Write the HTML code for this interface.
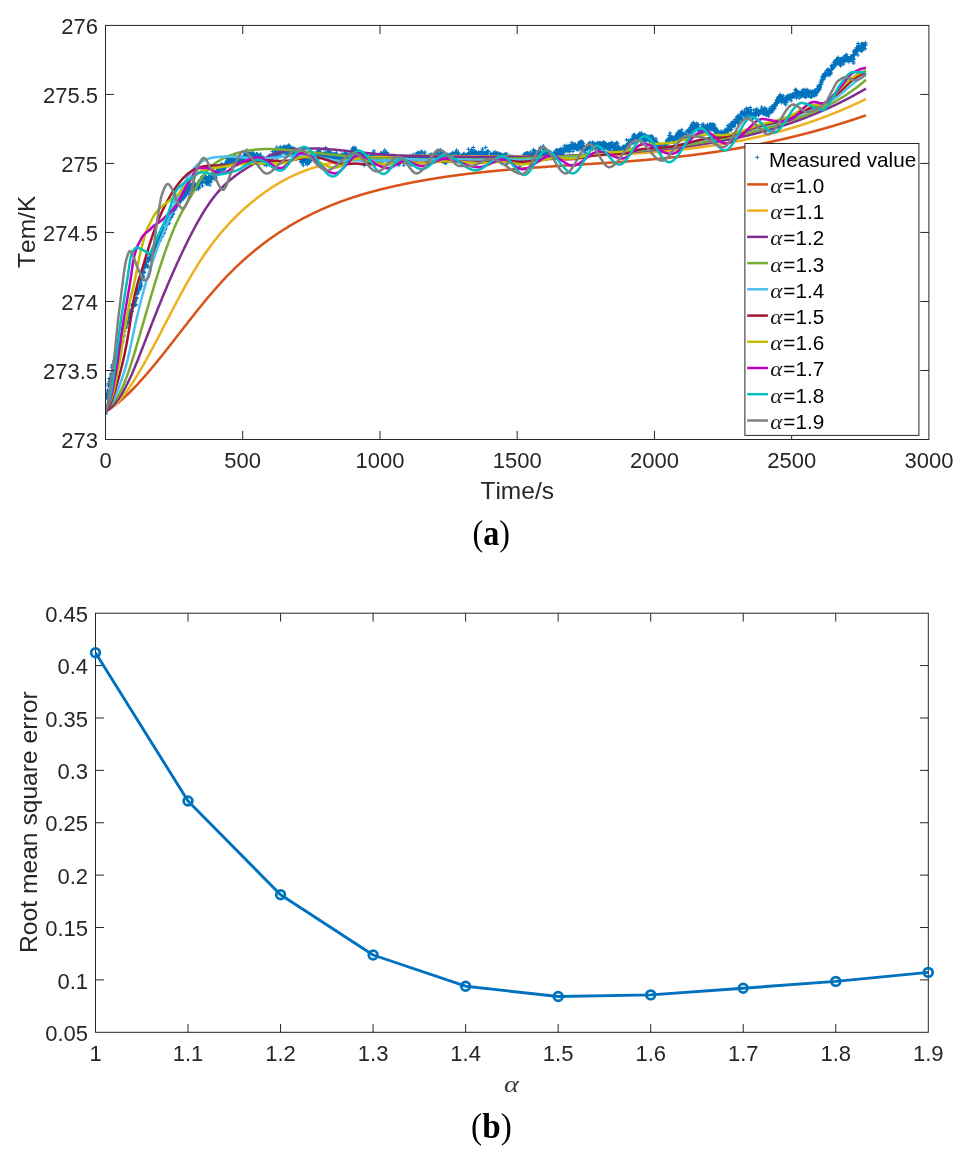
<!DOCTYPE html><html><head><meta charset="utf-8"><style>html,body{margin:0;padding:0;background:#fff}body{width:964px;height:1155px;overflow:hidden}svg{display:block;will-change:transform}</style></head><body>
<svg width="964" height="1155" viewBox="0 0 964 1155">
<style>text{font-kerning:none}</style><rect width="964" height="1155" fill="#fff"/>
<defs><clipPath id="ca"><rect x="105.5" y="25.4" width="823.4" height="414.1"/></clipPath></defs>
<path d="M103.6 413.0h4m-2 -2v4M103.1 407.7h4m-2 -2v4M103.5 414.2h4m-2 -2v4M104.0 411.7h4m-2 -2v4M104.1 397.5h4m-2 -2v4M104.1 398.0h4m-2 -2v4M104.3 393.4h4m-2 -2v4M104.0 397.9h4m-2 -2v4M105.6 397.2h4m-2 -2v4M105.6 390.2h4m-2 -2v4M105.6 394.3h4m-2 -2v4M105.7 397.0h4m-2 -2v4M106.2 383.9h4m-2 -2v4M106.4 385.8h4m-2 -2v4M106.9 391.8h4m-2 -2v4M106.3 395.7h4m-2 -2v4M107.9 379.7h4m-2 -2v4M107.4 381.7h4m-2 -2v4M107.4 386.0h4m-2 -2v4M107.4 378.3h4m-2 -2v4M108.4 378.5h4m-2 -2v4M108.1 379.2h4m-2 -2v4M108.6 379.0h4m-2 -2v4M108.8 380.2h4m-2 -2v4M109.2 375.2h4m-2 -2v4M109.3 373.3h4m-2 -2v4M109.4 374.5h4m-2 -2v4M109.6 379.1h4m-2 -2v4M110.1 365.9h4m-2 -2v4M110.8 368.8h4m-2 -2v4M110.6 367.5h4m-2 -2v4M110.4 367.7h4m-2 -2v4M111.3 364.7h4m-2 -2v4M111.6 368.5h4m-2 -2v4M111.2 364.1h4m-2 -2v4M111.1 364.5h4m-2 -2v4M112.2 360.9h4m-2 -2v4M112.2 363.3h4m-2 -2v4M112.3 361.3h4m-2 -2v4M113.0 358.8h4m-2 -2v4M113.0 359.6h4m-2 -2v4M113.6 360.1h4m-2 -2v4M113.3 359.5h4m-2 -2v4M113.0 361.7h4m-2 -2v4M114.6 355.4h4m-2 -2v4M114.2 356.1h4m-2 -2v4M114.1 355.6h4m-2 -2v4M114.9 357.8h4m-2 -2v4M115.2 352.8h4m-2 -2v4M115.0 352.5h4m-2 -2v4M116.0 359.3h4m-2 -2v4M115.6 352.8h4m-2 -2v4M116.3 350.9h4m-2 -2v4M116.2 349.1h4m-2 -2v4M116.1 349.6h4m-2 -2v4M116.1 350.5h4m-2 -2v4M117.9 347.2h4m-2 -2v4M117.3 344.1h4m-2 -2v4M117.8 351.2h4m-2 -2v4M117.5 347.1h4m-2 -2v4M118.1 346.8h4m-2 -2v4M118.6 342.7h4m-2 -2v4M118.8 344.5h4m-2 -2v4M118.5 343.6h4m-2 -2v4M119.9 339.7h4m-2 -2v4M119.1 336.9h4m-2 -2v4M119.8 341.4h4m-2 -2v4M119.5 338.9h4m-2 -2v4M120.0 333.7h4m-2 -2v4M121.0 333.8h4m-2 -2v4M120.9 341.2h4m-2 -2v4M120.3 335.6h4m-2 -2v4M121.0 333.2h4m-2 -2v4M121.2 336.3h4m-2 -2v4M121.5 335.2h4m-2 -2v4M121.9 336.0h4m-2 -2v4M122.3 328.4h4m-2 -2v4M122.5 331.5h4m-2 -2v4M122.0 331.0h4m-2 -2v4M122.6 325.2h4m-2 -2v4M123.5 328.6h4m-2 -2v4M123.4 327.2h4m-2 -2v4M123.9 326.0h4m-2 -2v4M123.8 326.6h4m-2 -2v4M124.7 321.1h4m-2 -2v4M124.2 322.8h4m-2 -2v4M124.0 326.9h4m-2 -2v4M124.2 321.3h4m-2 -2v4M126.0 323.3h4m-2 -2v4M125.1 320.3h4m-2 -2v4M125.7 322.8h4m-2 -2v4M125.3 322.1h4m-2 -2v4M126.5 317.1h4m-2 -2v4M126.5 318.5h4m-2 -2v4M126.7 317.1h4m-2 -2v4M126.9 320.8h4m-2 -2v4M127.5 317.3h4m-2 -2v4M127.9 316.6h4m-2 -2v4M127.8 313.5h4m-2 -2v4M127.7 314.6h4m-2 -2v4M128.6 316.2h4m-2 -2v4M128.1 310.3h4m-2 -2v4M128.5 314.2h4m-2 -2v4M128.4 312.3h4m-2 -2v4M129.3 311.2h4m-2 -2v4M129.1 312.0h4m-2 -2v4M130.0 311.1h4m-2 -2v4M129.9 311.8h4m-2 -2v4M130.2 305.4h4m-2 -2v4M130.2 305.3h4m-2 -2v4M130.9 303.9h4m-2 -2v4M130.2 308.4h4m-2 -2v4M131.3 304.8h4m-2 -2v4M131.1 305.1h4m-2 -2v4M131.9 306.4h4m-2 -2v4M131.0 304.4h4m-2 -2v4M132.1 302.5h4m-2 -2v4M132.6 300.9h4m-2 -2v4M132.4 302.0h4m-2 -2v4M132.7 301.0h4m-2 -2v4M133.4 301.3h4m-2 -2v4M133.9 304.9h4m-2 -2v4M133.7 304.3h4m-2 -2v4M133.9 299.0h4m-2 -2v4M134.5 298.6h4m-2 -2v4M134.7 297.8h4m-2 -2v4M134.1 293.7h4m-2 -2v4M134.0 292.8h4m-2 -2v4M136.0 293.0h4m-2 -2v4M135.2 294.1h4m-2 -2v4M135.1 291.5h4m-2 -2v4M135.6 292.3h4m-2 -2v4M136.1 289.2h4m-2 -2v4M136.8 289.0h4m-2 -2v4M136.1 288.3h4m-2 -2v4M136.6 290.6h4m-2 -2v4M137.9 289.2h4m-2 -2v4M137.5 288.3h4m-2 -2v4M137.6 285.8h4m-2 -2v4M137.7 287.4h4m-2 -2v4M139.0 283.7h4m-2 -2v4M138.4 279.5h4m-2 -2v4M138.8 285.8h4m-2 -2v4M138.6 282.1h4m-2 -2v4M139.5 277.7h4m-2 -2v4M139.5 286.1h4m-2 -2v4M139.3 278.3h4m-2 -2v4M139.3 279.9h4m-2 -2v4M140.4 275.6h4m-2 -2v4M140.9 279.3h4m-2 -2v4M141.0 276.5h4m-2 -2v4M140.1 273.9h4m-2 -2v4M141.0 268.8h4m-2 -2v4M141.2 272.3h4m-2 -2v4M141.3 277.8h4m-2 -2v4M141.8 271.2h4m-2 -2v4M142.3 272.6h4m-2 -2v4M142.0 268.0h4m-2 -2v4M143.0 266.6h4m-2 -2v4M142.9 264.8h4m-2 -2v4M143.3 266.2h4m-2 -2v4M143.3 267.1h4m-2 -2v4M143.1 266.3h4m-2 -2v4M143.8 262.1h4m-2 -2v4M144.1 262.4h4m-2 -2v4M144.3 264.5h4m-2 -2v4M144.7 262.6h4m-2 -2v4M144.1 264.8h4m-2 -2v4M146.0 266.2h4m-2 -2v4M145.8 258.5h4m-2 -2v4M145.9 267.2h4m-2 -2v4M145.9 259.1h4m-2 -2v4M146.9 259.3h4m-2 -2v4M146.7 259.3h4m-2 -2v4M146.3 261.4h4m-2 -2v4M146.6 258.8h4m-2 -2v4M147.9 257.9h4m-2 -2v4M147.2 257.6h4m-2 -2v4M147.8 258.8h4m-2 -2v4M147.5 258.8h4m-2 -2v4M148.7 256.2h4m-2 -2v4M148.1 258.1h4m-2 -2v4M148.9 259.4h4m-2 -2v4M148.1 254.8h4m-2 -2v4M149.4 253.3h4m-2 -2v4M149.6 253.3h4m-2 -2v4M149.3 253.1h4m-2 -2v4M149.6 253.2h4m-2 -2v4M150.7 253.1h4m-2 -2v4M150.8 254.6h4m-2 -2v4M151.0 251.5h4m-2 -2v4M150.1 253.8h4m-2 -2v4M151.3 250.2h4m-2 -2v4M151.6 256.7h4m-2 -2v4M151.1 251.6h4m-2 -2v4M151.1 252.7h4m-2 -2v4M152.9 246.9h4m-2 -2v4M152.1 247.2h4m-2 -2v4M152.5 249.5h4m-2 -2v4M152.4 247.4h4m-2 -2v4M153.9 246.7h4m-2 -2v4M153.2 249.3h4m-2 -2v4M153.5 245.2h4m-2 -2v4M153.1 245.0h4m-2 -2v4M154.9 244.8h4m-2 -2v4M154.3 243.9h4m-2 -2v4M154.3 245.8h4m-2 -2v4M154.1 244.1h4m-2 -2v4M155.1 239.9h4m-2 -2v4M155.3 237.6h4m-2 -2v4M155.9 242.9h4m-2 -2v4M155.3 240.6h4m-2 -2v4M156.4 240.3h4m-2 -2v4M156.8 236.2h4m-2 -2v4M156.7 238.5h4m-2 -2v4M157.0 240.8h4m-2 -2v4M157.9 240.4h4m-2 -2v4M157.4 240.5h4m-2 -2v4M157.7 241.0h4m-2 -2v4M157.4 238.1h4m-2 -2v4M158.6 238.5h4m-2 -2v4M158.9 237.1h4m-2 -2v4M159.0 235.9h4m-2 -2v4M158.4 235.4h4m-2 -2v4M159.1 232.8h4m-2 -2v4M159.2 236.7h4m-2 -2v4M159.9 234.6h4m-2 -2v4M159.7 233.0h4m-2 -2v4M160.1 232.1h4m-2 -2v4M160.5 236.5h4m-2 -2v4M160.7 229.4h4m-2 -2v4M160.0 229.5h4m-2 -2v4M161.9 233.1h4m-2 -2v4M161.5 226.9h4m-2 -2v4M161.9 233.0h4m-2 -2v4M161.4 228.8h4m-2 -2v4M162.7 228.2h4m-2 -2v4M162.7 230.2h4m-2 -2v4M162.1 230.2h4m-2 -2v4M163.0 229.1h4m-2 -2v4M163.8 224.6h4m-2 -2v4M163.5 224.1h4m-2 -2v4M163.6 224.1h4m-2 -2v4M163.7 228.1h4m-2 -2v4M164.7 222.8h4m-2 -2v4M164.4 224.7h4m-2 -2v4M164.5 216.9h4m-2 -2v4M164.2 221.3h4m-2 -2v4M165.4 220.6h4m-2 -2v4M165.8 219.1h4m-2 -2v4M165.3 224.6h4m-2 -2v4M165.9 217.4h4m-2 -2v4M166.6 219.3h4m-2 -2v4M166.7 220.1h4m-2 -2v4M166.1 216.3h4m-2 -2v4M166.7 220.1h4m-2 -2v4M167.6 217.7h4m-2 -2v4M167.3 223.2h4m-2 -2v4M167.3 220.0h4m-2 -2v4M167.7 216.7h4m-2 -2v4M168.1 217.6h4m-2 -2v4M168.8 216.4h4m-2 -2v4M168.3 214.5h4m-2 -2v4M168.1 216.9h4m-2 -2v4M169.6 215.1h4m-2 -2v4M169.4 217.5h4m-2 -2v4M169.7 210.9h4m-2 -2v4M169.7 211.0h4m-2 -2v4M170.1 210.4h4m-2 -2v4M170.6 213.6h4m-2 -2v4M170.9 214.5h4m-2 -2v4M170.8 211.9h4m-2 -2v4M171.7 210.5h4m-2 -2v4M171.3 210.0h4m-2 -2v4M171.5 206.3h4m-2 -2v4M171.6 208.1h4m-2 -2v4M172.4 209.6h4m-2 -2v4M172.3 209.4h4m-2 -2v4M172.5 210.2h4m-2 -2v4M172.0 209.1h4m-2 -2v4M173.2 199.9h4m-2 -2v4M173.1 206.1h4m-2 -2v4M173.9 206.2h4m-2 -2v4M173.1 202.5h4m-2 -2v4M174.1 207.9h4m-2 -2v4M174.1 203.5h4m-2 -2v4M174.5 205.9h4m-2 -2v4M174.3 205.5h4m-2 -2v4M175.7 203.9h4m-2 -2v4M175.4 205.7h4m-2 -2v4M175.1 202.3h4m-2 -2v4M175.4 204.7h4m-2 -2v4M176.8 202.7h4m-2 -2v4M176.1 199.0h4m-2 -2v4M176.8 200.3h4m-2 -2v4M176.6 199.0h4m-2 -2v4M178.0 196.9h4m-2 -2v4M177.6 197.4h4m-2 -2v4M177.4 201.9h4m-2 -2v4M177.9 197.7h4m-2 -2v4M178.4 201.9h4m-2 -2v4M178.7 199.2h4m-2 -2v4M178.8 199.2h4m-2 -2v4M178.7 197.0h4m-2 -2v4M179.5 199.3h4m-2 -2v4M179.4 196.5h4m-2 -2v4M179.2 199.9h4m-2 -2v4M179.5 200.0h4m-2 -2v4M180.8 193.3h4m-2 -2v4M180.9 198.1h4m-2 -2v4M180.6 192.5h4m-2 -2v4M180.8 198.9h4m-2 -2v4M181.7 191.0h4m-2 -2v4M181.8 193.3h4m-2 -2v4M181.7 198.5h4m-2 -2v4M181.3 196.1h4m-2 -2v4M182.2 195.7h4m-2 -2v4M182.4 188.8h4m-2 -2v4M182.9 195.9h4m-2 -2v4M182.7 192.3h4m-2 -2v4M183.2 196.4h4m-2 -2v4M183.1 192.8h4m-2 -2v4M184.0 192.5h4m-2 -2v4M183.8 189.1h4m-2 -2v4M184.5 189.3h4m-2 -2v4M184.4 191.2h4m-2 -2v4M184.5 194.3h4m-2 -2v4M184.3 194.1h4m-2 -2v4M186.0 189.3h4m-2 -2v4M185.2 187.3h4m-2 -2v4M185.1 187.1h4m-2 -2v4M185.9 193.6h4m-2 -2v4M186.4 189.3h4m-2 -2v4M186.1 186.3h4m-2 -2v4M186.3 192.0h4m-2 -2v4M186.9 189.9h4m-2 -2v4M187.1 189.4h4m-2 -2v4M187.2 189.7h4m-2 -2v4M187.9 188.5h4m-2 -2v4M187.2 186.6h4m-2 -2v4M188.7 183.5h4m-2 -2v4M188.0 184.2h4m-2 -2v4M188.3 185.2h4m-2 -2v4M188.5 188.3h4m-2 -2v4M189.5 185.3h4m-2 -2v4M190.0 188.7h4m-2 -2v4M189.1 189.0h4m-2 -2v4M189.2 190.3h4m-2 -2v4M190.2 190.4h4m-2 -2v4M191.0 181.0h4m-2 -2v4M190.9 190.6h4m-2 -2v4M190.3 187.5h4m-2 -2v4M191.4 187.5h4m-2 -2v4M191.4 185.8h4m-2 -2v4M191.1 187.7h4m-2 -2v4M191.5 187.4h4m-2 -2v4M192.6 185.7h4m-2 -2v4M192.1 183.0h4m-2 -2v4M192.3 190.2h4m-2 -2v4M192.8 188.4h4m-2 -2v4M193.7 184.7h4m-2 -2v4M193.3 185.8h4m-2 -2v4M193.9 188.6h4m-2 -2v4M193.3 185.7h4m-2 -2v4M194.6 187.1h4m-2 -2v4M194.3 188.7h4m-2 -2v4M194.0 188.3h4m-2 -2v4M194.9 186.1h4m-2 -2v4M195.4 183.8h4m-2 -2v4M195.7 184.9h4m-2 -2v4M195.4 187.4h4m-2 -2v4M195.7 185.3h4m-2 -2v4M196.2 188.4h4m-2 -2v4M196.5 188.8h4m-2 -2v4M196.5 188.1h4m-2 -2v4M196.2 186.4h4m-2 -2v4M197.2 180.9h4m-2 -2v4M197.4 187.4h4m-2 -2v4M197.4 185.3h4m-2 -2v4M197.0 182.2h4m-2 -2v4M198.8 180.3h4m-2 -2v4M198.4 180.8h4m-2 -2v4M198.5 182.6h4m-2 -2v4M198.9 179.0h4m-2 -2v4M199.3 183.3h4m-2 -2v4M199.9 179.9h4m-2 -2v4M199.7 181.9h4m-2 -2v4M199.8 176.9h4m-2 -2v4M200.5 185.9h4m-2 -2v4M200.5 181.6h4m-2 -2v4M200.5 179.1h4m-2 -2v4M200.8 176.7h4m-2 -2v4M201.1 181.7h4m-2 -2v4M201.4 177.5h4m-2 -2v4M202.0 177.4h4m-2 -2v4M202.0 176.4h4m-2 -2v4M202.7 175.4h4m-2 -2v4M202.4 178.0h4m-2 -2v4M202.8 178.2h4m-2 -2v4M202.1 177.2h4m-2 -2v4M203.3 176.1h4m-2 -2v4M203.0 181.9h4m-2 -2v4M203.9 182.1h4m-2 -2v4M203.6 176.6h4m-2 -2v4M204.2 182.2h4m-2 -2v4M204.8 179.4h4m-2 -2v4M204.2 179.1h4m-2 -2v4M204.4 183.8h4m-2 -2v4M205.1 184.3h4m-2 -2v4M205.4 179.1h4m-2 -2v4M205.4 181.6h4m-2 -2v4M205.4 178.7h4m-2 -2v4M206.5 176.8h4m-2 -2v4M206.8 182.4h4m-2 -2v4M206.5 181.4h4m-2 -2v4M206.8 182.0h4m-2 -2v4M207.8 185.2h4m-2 -2v4M207.7 179.5h4m-2 -2v4M207.7 181.3h4m-2 -2v4M207.3 180.5h4m-2 -2v4M208.4 175.2h4m-2 -2v4M208.7 179.1h4m-2 -2v4M208.8 176.0h4m-2 -2v4M208.6 179.6h4m-2 -2v4M209.0 176.2h4m-2 -2v4M209.3 176.1h4m-2 -2v4M209.2 181.8h4m-2 -2v4M209.3 177.7h4m-2 -2v4M210.5 177.0h4m-2 -2v4M210.2 178.3h4m-2 -2v4M210.7 172.8h4m-2 -2v4M210.1 175.6h4m-2 -2v4M211.6 174.9h4m-2 -2v4M211.4 177.5h4m-2 -2v4M211.5 177.1h4m-2 -2v4M211.3 175.2h4m-2 -2v4M212.8 179.4h4m-2 -2v4M212.0 174.2h4m-2 -2v4M212.2 173.7h4m-2 -2v4M213.0 176.3h4m-2 -2v4M213.5 172.6h4m-2 -2v4M213.1 176.9h4m-2 -2v4M213.9 174.9h4m-2 -2v4M213.4 172.6h4m-2 -2v4M214.2 177.9h4m-2 -2v4M214.8 171.9h4m-2 -2v4M214.7 172.7h4m-2 -2v4M214.2 173.5h4m-2 -2v4M215.7 172.2h4m-2 -2v4M215.4 172.4h4m-2 -2v4M215.0 168.6h4m-2 -2v4M215.3 171.6h4m-2 -2v4M216.2 165.8h4m-2 -2v4M216.4 169.7h4m-2 -2v4M216.2 170.0h4m-2 -2v4M216.2 171.5h4m-2 -2v4M217.2 167.6h4m-2 -2v4M217.2 169.9h4m-2 -2v4M217.8 168.4h4m-2 -2v4M217.1 169.5h4m-2 -2v4M218.5 166.6h4m-2 -2v4M218.8 170.8h4m-2 -2v4M218.5 170.7h4m-2 -2v4M218.5 165.1h4m-2 -2v4M219.2 167.6h4m-2 -2v4M219.3 167.3h4m-2 -2v4M219.8 163.8h4m-2 -2v4M219.2 165.3h4m-2 -2v4M220.3 167.1h4m-2 -2v4M220.4 165.0h4m-2 -2v4M220.7 168.0h4m-2 -2v4M220.9 169.3h4m-2 -2v4M221.5 165.7h4m-2 -2v4M221.2 168.5h4m-2 -2v4M221.1 170.2h4m-2 -2v4M221.7 165.8h4m-2 -2v4M222.3 168.9h4m-2 -2v4M222.4 168.9h4m-2 -2v4M222.1 169.3h4m-2 -2v4M222.1 166.4h4m-2 -2v4M223.9 165.7h4m-2 -2v4M223.9 163.3h4m-2 -2v4M223.2 167.0h4m-2 -2v4M223.5 166.7h4m-2 -2v4M225.0 164.4h4m-2 -2v4M224.3 163.5h4m-2 -2v4M224.0 162.1h4m-2 -2v4M224.1 158.5h4m-2 -2v4M225.7 160.8h4m-2 -2v4M225.8 158.2h4m-2 -2v4M225.3 161.7h4m-2 -2v4M225.9 160.2h4m-2 -2v4M226.4 165.8h4m-2 -2v4M226.9 159.3h4m-2 -2v4M226.1 158.6h4m-2 -2v4M226.7 164.7h4m-2 -2v4M227.6 156.2h4m-2 -2v4M227.9 162.4h4m-2 -2v4M227.2 162.5h4m-2 -2v4M227.3 159.6h4m-2 -2v4M228.2 156.3h4m-2 -2v4M229.0 158.0h4m-2 -2v4M228.3 159.6h4m-2 -2v4M228.1 161.2h4m-2 -2v4M229.8 160.3h4m-2 -2v4M229.6 160.1h4m-2 -2v4M229.7 158.2h4m-2 -2v4M229.4 161.5h4m-2 -2v4M230.3 156.8h4m-2 -2v4M230.9 157.6h4m-2 -2v4M230.4 159.5h4m-2 -2v4M230.5 160.8h4m-2 -2v4M231.3 160.2h4m-2 -2v4M231.3 160.3h4m-2 -2v4M231.9 158.1h4m-2 -2v4M231.8 161.4h4m-2 -2v4M232.7 154.7h4m-2 -2v4M232.8 157.8h4m-2 -2v4M232.7 156.4h4m-2 -2v4M232.3 156.9h4m-2 -2v4M233.2 160.3h4m-2 -2v4M233.4 161.2h4m-2 -2v4M233.8 157.2h4m-2 -2v4M233.9 159.4h4m-2 -2v4M234.3 163.7h4m-2 -2v4M234.9 160.1h4m-2 -2v4M234.3 162.7h4m-2 -2v4M234.8 161.8h4m-2 -2v4M235.8 162.1h4m-2 -2v4M235.5 158.8h4m-2 -2v4M235.4 160.3h4m-2 -2v4M235.5 164.6h4m-2 -2v4M236.5 157.9h4m-2 -2v4M237.0 157.1h4m-2 -2v4M236.0 162.3h4m-2 -2v4M236.5 158.3h4m-2 -2v4M237.8 159.6h4m-2 -2v4M237.7 160.8h4m-2 -2v4M237.5 158.6h4m-2 -2v4M237.8 159.0h4m-2 -2v4M238.9 156.6h4m-2 -2v4M238.8 158.9h4m-2 -2v4M238.4 156.3h4m-2 -2v4M238.3 160.1h4m-2 -2v4M239.2 158.9h4m-2 -2v4M239.1 161.0h4m-2 -2v4M239.4 158.1h4m-2 -2v4M239.3 161.0h4m-2 -2v4M240.8 160.5h4m-2 -2v4M240.6 160.6h4m-2 -2v4M240.6 159.6h4m-2 -2v4M240.3 158.9h4m-2 -2v4M241.7 157.7h4m-2 -2v4M242.0 156.1h4m-2 -2v4M241.8 157.0h4m-2 -2v4M241.9 157.0h4m-2 -2v4M242.5 160.9h4m-2 -2v4M242.9 153.7h4m-2 -2v4M242.6 155.8h4m-2 -2v4M242.6 156.9h4m-2 -2v4M243.9 153.6h4m-2 -2v4M243.7 157.3h4m-2 -2v4M243.1 154.3h4m-2 -2v4M243.5 156.5h4m-2 -2v4M244.3 155.2h4m-2 -2v4M244.8 150.1h4m-2 -2v4M244.3 156.4h4m-2 -2v4M244.9 152.3h4m-2 -2v4M245.8 155.4h4m-2 -2v4M245.3 157.9h4m-2 -2v4M245.7 156.6h4m-2 -2v4M245.9 154.6h4m-2 -2v4M246.7 154.5h4m-2 -2v4M246.4 154.8h4m-2 -2v4M246.9 153.9h4m-2 -2v4M246.9 152.5h4m-2 -2v4M247.2 154.5h4m-2 -2v4M247.3 154.3h4m-2 -2v4M247.5 159.0h4m-2 -2v4M247.8 155.6h4m-2 -2v4M248.1 159.8h4m-2 -2v4M248.8 154.8h4m-2 -2v4M248.9 155.6h4m-2 -2v4M248.4 154.9h4m-2 -2v4M249.2 153.6h4m-2 -2v4M249.2 153.3h4m-2 -2v4M249.4 154.8h4m-2 -2v4M249.5 157.5h4m-2 -2v4M250.7 153.5h4m-2 -2v4M250.9 152.9h4m-2 -2v4M250.9 155.7h4m-2 -2v4M250.8 154.4h4m-2 -2v4M251.5 154.6h4m-2 -2v4M251.6 159.6h4m-2 -2v4M251.8 156.0h4m-2 -2v4M251.8 157.3h4m-2 -2v4M252.2 156.0h4m-2 -2v4M252.3 157.9h4m-2 -2v4M252.0 156.0h4m-2 -2v4M252.6 155.8h4m-2 -2v4M253.8 157.7h4m-2 -2v4M253.2 156.1h4m-2 -2v4M253.1 159.1h4m-2 -2v4M253.2 154.7h4m-2 -2v4M254.9 159.7h4m-2 -2v4M254.6 153.9h4m-2 -2v4M254.7 155.5h4m-2 -2v4M254.3 156.6h4m-2 -2v4M255.2 154.2h4m-2 -2v4M255.6 155.4h4m-2 -2v4M255.0 158.2h4m-2 -2v4M255.4 156.1h4m-2 -2v4M256.6 155.5h4m-2 -2v4M256.8 158.8h4m-2 -2v4M256.7 157.3h4m-2 -2v4M256.6 158.4h4m-2 -2v4M257.1 161.0h4m-2 -2v4M257.5 157.8h4m-2 -2v4M257.8 158.5h4m-2 -2v4M257.0 163.9h4m-2 -2v4M258.3 154.1h4m-2 -2v4M258.2 159.0h4m-2 -2v4M258.4 156.8h4m-2 -2v4M258.0 159.5h4m-2 -2v4M260.0 157.6h4m-2 -2v4M259.4 158.4h4m-2 -2v4M259.2 156.6h4m-2 -2v4M259.9 161.0h4m-2 -2v4M260.8 160.4h4m-2 -2v4M260.0 159.7h4m-2 -2v4M260.7 158.1h4m-2 -2v4M260.3 162.9h4m-2 -2v4M261.2 157.5h4m-2 -2v4M261.1 163.5h4m-2 -2v4M261.1 162.0h4m-2 -2v4M261.8 160.0h4m-2 -2v4M262.7 161.9h4m-2 -2v4M262.6 158.5h4m-2 -2v4M262.7 164.8h4m-2 -2v4M262.3 158.9h4m-2 -2v4M263.1 160.6h4m-2 -2v4M263.7 163.9h4m-2 -2v4M263.4 161.0h4m-2 -2v4M263.2 162.4h4m-2 -2v4M264.6 162.0h4m-2 -2v4M264.0 160.1h4m-2 -2v4M265.0 160.6h4m-2 -2v4M264.7 165.5h4m-2 -2v4M265.7 162.8h4m-2 -2v4M265.6 162.1h4m-2 -2v4M265.1 161.0h4m-2 -2v4M265.0 159.0h4m-2 -2v4M266.8 157.0h4m-2 -2v4M266.7 161.2h4m-2 -2v4M266.1 158.6h4m-2 -2v4M266.7 159.2h4m-2 -2v4M267.5 156.2h4m-2 -2v4M267.6 155.1h4m-2 -2v4M267.1 158.9h4m-2 -2v4M267.9 156.6h4m-2 -2v4M268.8 162.0h4m-2 -2v4M268.6 161.3h4m-2 -2v4M268.7 157.0h4m-2 -2v4M268.5 160.1h4m-2 -2v4M269.7 155.0h4m-2 -2v4M269.0 159.4h4m-2 -2v4M269.2 161.5h4m-2 -2v4M269.7 158.2h4m-2 -2v4M270.5 161.1h4m-2 -2v4M270.5 151.6h4m-2 -2v4M270.4 156.1h4m-2 -2v4M270.6 155.7h4m-2 -2v4M271.3 157.2h4m-2 -2v4M271.7 155.7h4m-2 -2v4M271.6 157.0h4m-2 -2v4M271.8 156.0h4m-2 -2v4M272.7 153.2h4m-2 -2v4M272.3 152.1h4m-2 -2v4M272.4 157.3h4m-2 -2v4M272.9 153.5h4m-2 -2v4M273.8 155.4h4m-2 -2v4M273.7 155.0h4m-2 -2v4M273.1 153.1h4m-2 -2v4M273.6 150.9h4m-2 -2v4M274.1 153.7h4m-2 -2v4M274.3 155.9h4m-2 -2v4M274.8 147.2h4m-2 -2v4M274.4 150.2h4m-2 -2v4M275.1 157.9h4m-2 -2v4M275.8 152.6h4m-2 -2v4M275.4 153.2h4m-2 -2v4M275.3 155.3h4m-2 -2v4M276.9 155.2h4m-2 -2v4M276.9 152.4h4m-2 -2v4M276.7 153.4h4m-2 -2v4M276.5 150.2h4m-2 -2v4M277.4 151.2h4m-2 -2v4M277.9 148.5h4m-2 -2v4M277.8 152.7h4m-2 -2v4M277.2 152.4h4m-2 -2v4M278.6 152.2h4m-2 -2v4M278.2 152.3h4m-2 -2v4M278.3 146.9h4m-2 -2v4M278.0 150.5h4m-2 -2v4M279.6 148.9h4m-2 -2v4M279.3 150.2h4m-2 -2v4M280.0 152.1h4m-2 -2v4M279.2 154.1h4m-2 -2v4M280.5 150.3h4m-2 -2v4M280.5 149.1h4m-2 -2v4M280.9 149.7h4m-2 -2v4M280.1 150.5h4m-2 -2v4M282.0 150.0h4m-2 -2v4M281.2 150.9h4m-2 -2v4M281.7 151.9h4m-2 -2v4M281.4 147.0h4m-2 -2v4M282.3 146.5h4m-2 -2v4M282.3 148.5h4m-2 -2v4M282.0 148.8h4m-2 -2v4M282.8 153.3h4m-2 -2v4M283.6 149.0h4m-2 -2v4M283.7 151.7h4m-2 -2v4M283.7 147.3h4m-2 -2v4M284.0 146.7h4m-2 -2v4M284.6 155.2h4m-2 -2v4M284.3 151.6h4m-2 -2v4M284.6 147.1h4m-2 -2v4M284.3 149.0h4m-2 -2v4M285.1 153.7h4m-2 -2v4M285.1 150.3h4m-2 -2v4M285.8 148.2h4m-2 -2v4M285.4 151.4h4m-2 -2v4M286.9 150.6h4m-2 -2v4M286.3 145.2h4m-2 -2v4M286.7 154.6h4m-2 -2v4M287.0 151.9h4m-2 -2v4M287.7 149.7h4m-2 -2v4M287.1 148.6h4m-2 -2v4M287.8 148.2h4m-2 -2v4M287.3 145.7h4m-2 -2v4M288.5 150.4h4m-2 -2v4M288.7 148.7h4m-2 -2v4M288.8 147.6h4m-2 -2v4M288.5 148.5h4m-2 -2v4M289.8 155.1h4m-2 -2v4M289.2 148.9h4m-2 -2v4M289.7 152.8h4m-2 -2v4M289.9 153.6h4m-2 -2v4M290.9 150.7h4m-2 -2v4M291.0 152.2h4m-2 -2v4M290.7 148.3h4m-2 -2v4M290.4 149.8h4m-2 -2v4M291.0 151.0h4m-2 -2v4M291.1 148.6h4m-2 -2v4M291.2 148.7h4m-2 -2v4M291.3 155.1h4m-2 -2v4M292.9 153.8h4m-2 -2v4M292.7 151.0h4m-2 -2v4M292.8 148.8h4m-2 -2v4M292.1 151.4h4m-2 -2v4M293.2 149.6h4m-2 -2v4M293.9 151.4h4m-2 -2v4M293.4 152.0h4m-2 -2v4M293.8 152.3h4m-2 -2v4M294.2 151.7h4m-2 -2v4M295.0 154.8h4m-2 -2v4M294.8 156.0h4m-2 -2v4M294.3 152.3h4m-2 -2v4M295.2 155.0h4m-2 -2v4M295.1 153.5h4m-2 -2v4M295.7 155.1h4m-2 -2v4M295.7 157.6h4m-2 -2v4M296.8 154.9h4m-2 -2v4M296.8 154.6h4m-2 -2v4M296.9 155.7h4m-2 -2v4M296.0 155.4h4m-2 -2v4M297.4 158.0h4m-2 -2v4M297.2 157.6h4m-2 -2v4M297.8 149.5h4m-2 -2v4M297.3 153.4h4m-2 -2v4M298.8 161.3h4m-2 -2v4M298.1 157.7h4m-2 -2v4M299.0 158.3h4m-2 -2v4M298.1 157.2h4m-2 -2v4M299.4 162.2h4m-2 -2v4M299.3 161.6h4m-2 -2v4M299.0 159.5h4m-2 -2v4M299.9 160.4h4m-2 -2v4M300.7 160.2h4m-2 -2v4M300.2 157.8h4m-2 -2v4M300.9 159.0h4m-2 -2v4M300.4 163.2h4m-2 -2v4M301.9 161.0h4m-2 -2v4M301.3 165.4h4m-2 -2v4M301.4 161.0h4m-2 -2v4M301.5 156.3h4m-2 -2v4M302.0 160.7h4m-2 -2v4M302.7 159.1h4m-2 -2v4M302.2 156.2h4m-2 -2v4M302.6 156.2h4m-2 -2v4M303.5 162.6h4m-2 -2v4M303.6 162.0h4m-2 -2v4M303.9 157.8h4m-2 -2v4M303.4 158.9h4m-2 -2v4M304.9 159.8h4m-2 -2v4M304.9 161.7h4m-2 -2v4M304.3 160.7h4m-2 -2v4M304.9 163.7h4m-2 -2v4M305.4 159.5h4m-2 -2v4M305.4 164.5h4m-2 -2v4M305.2 162.4h4m-2 -2v4M305.3 161.1h4m-2 -2v4M306.5 160.9h4m-2 -2v4M306.8 162.0h4m-2 -2v4M306.4 162.8h4m-2 -2v4M306.1 160.0h4m-2 -2v4M307.6 159.3h4m-2 -2v4M307.9 159.7h4m-2 -2v4M307.1 159.4h4m-2 -2v4M307.5 162.5h4m-2 -2v4M308.2 161.0h4m-2 -2v4M308.7 155.4h4m-2 -2v4M308.8 158.1h4m-2 -2v4M308.8 156.5h4m-2 -2v4M309.7 157.5h4m-2 -2v4M309.4 157.0h4m-2 -2v4M309.9 156.3h4m-2 -2v4M309.4 159.5h4m-2 -2v4M310.2 155.8h4m-2 -2v4M310.9 157.3h4m-2 -2v4M310.7 156.3h4m-2 -2v4M310.0 158.3h4m-2 -2v4M311.5 157.3h4m-2 -2v4M311.0 155.3h4m-2 -2v4M311.3 156.9h4m-2 -2v4M311.2 156.3h4m-2 -2v4M312.4 158.8h4m-2 -2v4M312.7 153.6h4m-2 -2v4M312.1 155.8h4m-2 -2v4M312.9 155.3h4m-2 -2v4M313.9 154.4h4m-2 -2v4M313.6 159.7h4m-2 -2v4M313.4 155.6h4m-2 -2v4M313.2 157.4h4m-2 -2v4M314.5 157.2h4m-2 -2v4M314.4 155.2h4m-2 -2v4M314.6 155.3h4m-2 -2v4M314.6 152.7h4m-2 -2v4M315.6 152.7h4m-2 -2v4M315.4 154.5h4m-2 -2v4M315.9 150.3h4m-2 -2v4M315.0 156.4h4m-2 -2v4M316.9 158.2h4m-2 -2v4M316.8 151.4h4m-2 -2v4M316.9 155.3h4m-2 -2v4M316.4 156.5h4m-2 -2v4M317.2 153.0h4m-2 -2v4M317.3 152.6h4m-2 -2v4M317.8 150.9h4m-2 -2v4M318.0 155.8h4m-2 -2v4M318.8 154.4h4m-2 -2v4M318.1 155.5h4m-2 -2v4M318.9 152.7h4m-2 -2v4M318.9 154.7h4m-2 -2v4M319.9 156.8h4m-2 -2v4M319.6 154.6h4m-2 -2v4M319.7 156.3h4m-2 -2v4M319.5 157.3h4m-2 -2v4M320.0 154.7h4m-2 -2v4M320.8 155.6h4m-2 -2v4M320.1 156.6h4m-2 -2v4M320.5 156.5h4m-2 -2v4M321.9 157.0h4m-2 -2v4M322.0 149.0h4m-2 -2v4M321.5 154.2h4m-2 -2v4M322.0 153.5h4m-2 -2v4M322.6 158.6h4m-2 -2v4M322.8 154.0h4m-2 -2v4M322.4 154.9h4m-2 -2v4M322.9 158.2h4m-2 -2v4M323.6 148.1h4m-2 -2v4M323.2 152.6h4m-2 -2v4M323.8 148.3h4m-2 -2v4M324.0 157.5h4m-2 -2v4M324.2 156.5h4m-2 -2v4M324.3 159.3h4m-2 -2v4M324.5 153.2h4m-2 -2v4M324.9 154.9h4m-2 -2v4M325.4 155.8h4m-2 -2v4M325.9 149.8h4m-2 -2v4M325.6 153.3h4m-2 -2v4M325.5 155.0h4m-2 -2v4M326.3 151.4h4m-2 -2v4M326.4 153.4h4m-2 -2v4M326.4 157.3h4m-2 -2v4M326.1 155.8h4m-2 -2v4M327.7 152.4h4m-2 -2v4M327.5 152.7h4m-2 -2v4M327.6 156.0h4m-2 -2v4M327.8 151.7h4m-2 -2v4M328.1 153.1h4m-2 -2v4M328.9 154.7h4m-2 -2v4M328.9 157.2h4m-2 -2v4M328.1 153.5h4m-2 -2v4M329.4 154.0h4m-2 -2v4M329.9 155.1h4m-2 -2v4M330.0 153.7h4m-2 -2v4M329.2 154.1h4m-2 -2v4M330.5 158.1h4m-2 -2v4M330.9 158.4h4m-2 -2v4M330.0 155.5h4m-2 -2v4M330.6 155.2h4m-2 -2v4M331.5 155.2h4m-2 -2v4M331.6 157.7h4m-2 -2v4M331.2 153.8h4m-2 -2v4M331.3 157.0h4m-2 -2v4M332.5 156.9h4m-2 -2v4M332.0 159.1h4m-2 -2v4M332.3 157.2h4m-2 -2v4M332.4 154.1h4m-2 -2v4M333.5 156.7h4m-2 -2v4M333.3 156.6h4m-2 -2v4M333.0 153.8h4m-2 -2v4M333.5 154.8h4m-2 -2v4M334.3 154.1h4m-2 -2v4M334.5 153.1h4m-2 -2v4M334.3 158.2h4m-2 -2v4M334.0 153.8h4m-2 -2v4M335.3 158.1h4m-2 -2v4M335.6 156.2h4m-2 -2v4M335.6 160.1h4m-2 -2v4M335.4 158.6h4m-2 -2v4M336.0 159.4h4m-2 -2v4M336.5 160.4h4m-2 -2v4M336.9 158.7h4m-2 -2v4M336.8 155.7h4m-2 -2v4M337.2 158.7h4m-2 -2v4M337.6 159.6h4m-2 -2v4M338.0 158.5h4m-2 -2v4M337.3 159.3h4m-2 -2v4M338.1 155.5h4m-2 -2v4M338.1 159.0h4m-2 -2v4M338.1 163.5h4m-2 -2v4M338.3 156.3h4m-2 -2v4M339.1 155.8h4m-2 -2v4M339.7 164.1h4m-2 -2v4M339.7 159.6h4m-2 -2v4M339.7 162.2h4m-2 -2v4M340.7 160.1h4m-2 -2v4M340.2 153.9h4m-2 -2v4M340.2 160.8h4m-2 -2v4M340.3 157.8h4m-2 -2v4M341.8 155.0h4m-2 -2v4M341.4 158.3h4m-2 -2v4M341.8 157.6h4m-2 -2v4M341.4 157.9h4m-2 -2v4M342.7 153.6h4m-2 -2v4M342.7 161.7h4m-2 -2v4M342.6 156.1h4m-2 -2v4M342.8 158.8h4m-2 -2v4M343.5 152.7h4m-2 -2v4M343.1 153.7h4m-2 -2v4M343.7 157.9h4m-2 -2v4M343.4 158.5h4m-2 -2v4M344.9 155.3h4m-2 -2v4M344.8 158.6h4m-2 -2v4M344.3 155.3h4m-2 -2v4M344.2 155.6h4m-2 -2v4M345.2 155.6h4m-2 -2v4M346.0 154.7h4m-2 -2v4M345.1 153.9h4m-2 -2v4M345.9 157.3h4m-2 -2v4M346.7 159.7h4m-2 -2v4M346.2 158.8h4m-2 -2v4M346.7 162.6h4m-2 -2v4M346.9 156.6h4m-2 -2v4M347.2 157.6h4m-2 -2v4M347.7 154.8h4m-2 -2v4M347.3 156.9h4m-2 -2v4M347.5 159.0h4m-2 -2v4M348.5 156.3h4m-2 -2v4M348.6 153.6h4m-2 -2v4M348.5 153.3h4m-2 -2v4M348.5 154.3h4m-2 -2v4M349.2 151.6h4m-2 -2v4M349.9 151.3h4m-2 -2v4M349.8 154.6h4m-2 -2v4M349.6 151.1h4m-2 -2v4M350.8 150.7h4m-2 -2v4M350.3 153.6h4m-2 -2v4M350.5 148.3h4m-2 -2v4M350.1 154.0h4m-2 -2v4M351.6 149.0h4m-2 -2v4M351.1 148.2h4m-2 -2v4M351.6 150.6h4m-2 -2v4M351.4 150.2h4m-2 -2v4M352.9 150.3h4m-2 -2v4M352.8 154.3h4m-2 -2v4M352.2 151.2h4m-2 -2v4M353.0 147.3h4m-2 -2v4M353.5 150.4h4m-2 -2v4M353.4 152.4h4m-2 -2v4M353.3 152.0h4m-2 -2v4M353.1 149.1h4m-2 -2v4M354.4 151.4h4m-2 -2v4M354.6 151.1h4m-2 -2v4M354.3 149.7h4m-2 -2v4M354.4 152.4h4m-2 -2v4M355.8 152.4h4m-2 -2v4M355.4 153.5h4m-2 -2v4M355.1 154.1h4m-2 -2v4M355.1 152.4h4m-2 -2v4M356.6 158.6h4m-2 -2v4M357.0 153.3h4m-2 -2v4M356.1 155.5h4m-2 -2v4M356.4 154.7h4m-2 -2v4M357.8 156.4h4m-2 -2v4M357.6 159.3h4m-2 -2v4M357.6 153.8h4m-2 -2v4M357.9 157.9h4m-2 -2v4M359.0 154.5h4m-2 -2v4M358.1 158.2h4m-2 -2v4M358.8 154.0h4m-2 -2v4M358.6 156.4h4m-2 -2v4M359.2 156.0h4m-2 -2v4M359.1 156.6h4m-2 -2v4M359.2 159.8h4m-2 -2v4M359.3 160.1h4m-2 -2v4M360.8 158.1h4m-2 -2v4M360.1 156.7h4m-2 -2v4M360.6 160.2h4m-2 -2v4M360.2 155.5h4m-2 -2v4M361.5 155.2h4m-2 -2v4M361.6 158.3h4m-2 -2v4M361.0 158.3h4m-2 -2v4M361.3 159.0h4m-2 -2v4M362.1 158.9h4m-2 -2v4M362.2 165.4h4m-2 -2v4M362.8 157.0h4m-2 -2v4M362.9 157.9h4m-2 -2v4M363.2 157.4h4m-2 -2v4M363.3 161.3h4m-2 -2v4M363.1 157.3h4m-2 -2v4M363.5 156.3h4m-2 -2v4M364.8 158.6h4m-2 -2v4M364.1 157.6h4m-2 -2v4M364.4 159.7h4m-2 -2v4M364.7 154.3h4m-2 -2v4M365.4 160.7h4m-2 -2v4M365.1 159.4h4m-2 -2v4M365.7 157.9h4m-2 -2v4M365.7 157.3h4m-2 -2v4M366.1 159.3h4m-2 -2v4M366.1 157.7h4m-2 -2v4M366.4 159.3h4m-2 -2v4M366.2 162.6h4m-2 -2v4M368.0 158.1h4m-2 -2v4M367.9 160.5h4m-2 -2v4M367.6 159.4h4m-2 -2v4M367.6 156.5h4m-2 -2v4M368.4 160.6h4m-2 -2v4M368.1 159.3h4m-2 -2v4M368.8 155.3h4m-2 -2v4M368.2 158.3h4m-2 -2v4M369.0 161.6h4m-2 -2v4M369.7 159.5h4m-2 -2v4M369.4 159.1h4m-2 -2v4M369.0 156.3h4m-2 -2v4M370.5 157.0h4m-2 -2v4M370.4 158.1h4m-2 -2v4M370.0 155.4h4m-2 -2v4M370.7 153.1h4m-2 -2v4M371.7 160.9h4m-2 -2v4M371.7 155.5h4m-2 -2v4M372.0 153.2h4m-2 -2v4M372.0 150.9h4m-2 -2v4M372.2 161.1h4m-2 -2v4M372.5 156.9h4m-2 -2v4M372.7 155.2h4m-2 -2v4M372.8 154.7h4m-2 -2v4M373.9 160.3h4m-2 -2v4M373.0 157.0h4m-2 -2v4M373.1 154.7h4m-2 -2v4M373.1 158.7h4m-2 -2v4M374.2 158.5h4m-2 -2v4M374.7 157.0h4m-2 -2v4M374.2 156.9h4m-2 -2v4M374.0 156.9h4m-2 -2v4M375.3 159.1h4m-2 -2v4M375.4 157.9h4m-2 -2v4M375.6 156.4h4m-2 -2v4M375.7 161.4h4m-2 -2v4M376.3 162.4h4m-2 -2v4M376.5 158.8h4m-2 -2v4M376.4 159.3h4m-2 -2v4M376.2 161.6h4m-2 -2v4M377.7 157.3h4m-2 -2v4M377.9 159.7h4m-2 -2v4M377.9 161.8h4m-2 -2v4M377.7 158.3h4m-2 -2v4M378.6 153.4h4m-2 -2v4M378.1 155.2h4m-2 -2v4M378.2 156.3h4m-2 -2v4M378.4 158.0h4m-2 -2v4M379.6 153.1h4m-2 -2v4M379.2 153.6h4m-2 -2v4M379.9 158.0h4m-2 -2v4M380.0 162.0h4m-2 -2v4M380.4 157.7h4m-2 -2v4M380.4 155.8h4m-2 -2v4M380.4 158.9h4m-2 -2v4M380.3 158.8h4m-2 -2v4M381.4 158.1h4m-2 -2v4M381.4 152.8h4m-2 -2v4M381.8 160.2h4m-2 -2v4M381.4 152.4h4m-2 -2v4M382.3 154.9h4m-2 -2v4M382.7 150.2h4m-2 -2v4M382.4 156.4h4m-2 -2v4M382.5 155.1h4m-2 -2v4M384.0 157.4h4m-2 -2v4M383.5 155.2h4m-2 -2v4M383.4 153.0h4m-2 -2v4M383.3 155.7h4m-2 -2v4M384.9 153.0h4m-2 -2v4M384.3 161.3h4m-2 -2v4M384.4 152.4h4m-2 -2v4M384.6 157.9h4m-2 -2v4M385.1 154.4h4m-2 -2v4M385.7 155.2h4m-2 -2v4M385.1 155.7h4m-2 -2v4M385.8 158.8h4m-2 -2v4M386.5 157.8h4m-2 -2v4M386.3 158.1h4m-2 -2v4M386.8 154.5h4m-2 -2v4M386.5 159.8h4m-2 -2v4M387.9 157.8h4m-2 -2v4M387.4 157.4h4m-2 -2v4M387.4 161.9h4m-2 -2v4M387.2 160.7h4m-2 -2v4M388.8 159.0h4m-2 -2v4M388.5 160.7h4m-2 -2v4M388.6 156.1h4m-2 -2v4M388.3 158.5h4m-2 -2v4M389.2 159.3h4m-2 -2v4M389.0 157.9h4m-2 -2v4M389.1 157.3h4m-2 -2v4M389.4 158.6h4m-2 -2v4M390.7 155.8h4m-2 -2v4M390.7 158.3h4m-2 -2v4M390.5 161.3h4m-2 -2v4M390.0 159.8h4m-2 -2v4M391.3 158.9h4m-2 -2v4M391.9 156.9h4m-2 -2v4M391.1 163.2h4m-2 -2v4M391.5 158.4h4m-2 -2v4M392.3 155.7h4m-2 -2v4M392.3 163.4h4m-2 -2v4M392.8 163.2h4m-2 -2v4M392.9 158.4h4m-2 -2v4M393.2 160.1h4m-2 -2v4M393.5 159.6h4m-2 -2v4M393.6 159.0h4m-2 -2v4M393.6 160.5h4m-2 -2v4M394.0 157.7h4m-2 -2v4M394.0 157.7h4m-2 -2v4M394.6 156.9h4m-2 -2v4M394.1 160.2h4m-2 -2v4M395.4 159.9h4m-2 -2v4M395.6 159.7h4m-2 -2v4M395.4 162.3h4m-2 -2v4M395.2 158.7h4m-2 -2v4M396.9 159.9h4m-2 -2v4M396.4 161.4h4m-2 -2v4M396.3 164.8h4m-2 -2v4M396.9 164.8h4m-2 -2v4M397.2 161.9h4m-2 -2v4M397.3 160.5h4m-2 -2v4M397.9 161.8h4m-2 -2v4M398.0 157.4h4m-2 -2v4M398.8 161.5h4m-2 -2v4M398.2 162.2h4m-2 -2v4M398.8 159.7h4m-2 -2v4M398.2 156.5h4m-2 -2v4M399.1 161.1h4m-2 -2v4M399.5 158.4h4m-2 -2v4M399.1 159.5h4m-2 -2v4M399.1 157.7h4m-2 -2v4M400.2 159.7h4m-2 -2v4M400.4 156.1h4m-2 -2v4M400.7 158.5h4m-2 -2v4M400.8 160.9h4m-2 -2v4M401.4 158.7h4m-2 -2v4M401.3 158.5h4m-2 -2v4M401.8 162.3h4m-2 -2v4M401.9 165.2h4m-2 -2v4M402.7 159.1h4m-2 -2v4M402.2 158.8h4m-2 -2v4M402.9 157.1h4m-2 -2v4M402.9 160.2h4m-2 -2v4M403.8 161.9h4m-2 -2v4M403.8 160.3h4m-2 -2v4M403.7 158.5h4m-2 -2v4M404.0 160.8h4m-2 -2v4M404.2 159.6h4m-2 -2v4M404.8 158.7h4m-2 -2v4M404.6 157.0h4m-2 -2v4M404.6 160.5h4m-2 -2v4M405.7 159.4h4m-2 -2v4M405.6 162.5h4m-2 -2v4M405.0 157.8h4m-2 -2v4M405.4 159.6h4m-2 -2v4M406.2 160.3h4m-2 -2v4M407.0 158.0h4m-2 -2v4M406.6 158.4h4m-2 -2v4M406.7 158.6h4m-2 -2v4M407.0 160.1h4m-2 -2v4M407.2 163.0h4m-2 -2v4M407.5 160.3h4m-2 -2v4M407.8 155.7h4m-2 -2v4M408.9 156.9h4m-2 -2v4M408.8 158.9h4m-2 -2v4M408.1 160.7h4m-2 -2v4M408.6 159.5h4m-2 -2v4M409.4 160.3h4m-2 -2v4M409.2 157.0h4m-2 -2v4M409.3 165.0h4m-2 -2v4M409.2 158.1h4m-2 -2v4M410.9 154.8h4m-2 -2v4M410.8 158.4h4m-2 -2v4M410.5 162.7h4m-2 -2v4M410.8 156.2h4m-2 -2v4M411.9 159.3h4m-2 -2v4M411.0 159.0h4m-2 -2v4M411.3 161.6h4m-2 -2v4M411.5 158.6h4m-2 -2v4M412.9 159.6h4m-2 -2v4M412.3 158.2h4m-2 -2v4M412.7 158.7h4m-2 -2v4M412.4 155.4h4m-2 -2v4M413.0 154.7h4m-2 -2v4M413.7 157.9h4m-2 -2v4M413.5 157.3h4m-2 -2v4M413.8 157.7h4m-2 -2v4M414.3 160.2h4m-2 -2v4M414.6 154.2h4m-2 -2v4M414.5 157.1h4m-2 -2v4M414.3 159.9h4m-2 -2v4M416.0 154.0h4m-2 -2v4M415.8 154.7h4m-2 -2v4M415.4 152.6h4m-2 -2v4M415.9 158.4h4m-2 -2v4M416.2 157.6h4m-2 -2v4M416.4 153.0h4m-2 -2v4M416.5 159.3h4m-2 -2v4M416.3 155.4h4m-2 -2v4M417.4 155.3h4m-2 -2v4M417.8 157.2h4m-2 -2v4M417.7 158.0h4m-2 -2v4M417.7 153.8h4m-2 -2v4M418.1 156.3h4m-2 -2v4M418.9 155.5h4m-2 -2v4M418.6 159.1h4m-2 -2v4M418.2 153.9h4m-2 -2v4M419.8 158.9h4m-2 -2v4M419.1 151.3h4m-2 -2v4M419.6 157.0h4m-2 -2v4M420.0 159.2h4m-2 -2v4M420.9 157.3h4m-2 -2v4M420.8 158.9h4m-2 -2v4M420.0 158.2h4m-2 -2v4M420.2 152.3h4m-2 -2v4M421.2 154.8h4m-2 -2v4M421.3 159.1h4m-2 -2v4M421.7 156.9h4m-2 -2v4M421.9 156.0h4m-2 -2v4M422.7 160.4h4m-2 -2v4M422.1 158.1h4m-2 -2v4M422.9 152.1h4m-2 -2v4M422.5 154.3h4m-2 -2v4M423.7 157.9h4m-2 -2v4M423.4 156.7h4m-2 -2v4M423.4 155.3h4m-2 -2v4M423.8 157.1h4m-2 -2v4M424.8 157.0h4m-2 -2v4M425.0 162.2h4m-2 -2v4M424.4 158.0h4m-2 -2v4M424.0 157.9h4m-2 -2v4M425.5 157.3h4m-2 -2v4M425.9 157.0h4m-2 -2v4M425.5 158.2h4m-2 -2v4M425.1 157.7h4m-2 -2v4M426.5 157.9h4m-2 -2v4M426.9 157.8h4m-2 -2v4M426.9 155.9h4m-2 -2v4M426.5 158.4h4m-2 -2v4M427.1 155.0h4m-2 -2v4M428.0 158.8h4m-2 -2v4M427.0 161.6h4m-2 -2v4M427.7 157.3h4m-2 -2v4M428.2 157.5h4m-2 -2v4M428.8 162.6h4m-2 -2v4M428.1 157.1h4m-2 -2v4M428.6 154.8h4m-2 -2v4M429.7 158.3h4m-2 -2v4M429.0 155.2h4m-2 -2v4M429.9 158.9h4m-2 -2v4M429.8 154.4h4m-2 -2v4M430.2 157.8h4m-2 -2v4M430.4 158.2h4m-2 -2v4M430.7 160.2h4m-2 -2v4M430.7 158.5h4m-2 -2v4M431.5 155.0h4m-2 -2v4M431.4 158.2h4m-2 -2v4M431.9 157.9h4m-2 -2v4M431.7 161.3h4m-2 -2v4M432.0 156.6h4m-2 -2v4M432.9 157.0h4m-2 -2v4M432.6 158.6h4m-2 -2v4M432.4 157.0h4m-2 -2v4M433.4 154.6h4m-2 -2v4M433.9 155.3h4m-2 -2v4M433.7 157.3h4m-2 -2v4M433.2 157.0h4m-2 -2v4M434.5 154.0h4m-2 -2v4M434.8 155.7h4m-2 -2v4M434.1 156.4h4m-2 -2v4M434.6 151.4h4m-2 -2v4M435.4 151.9h4m-2 -2v4M435.6 150.7h4m-2 -2v4M435.2 151.4h4m-2 -2v4M435.2 155.9h4m-2 -2v4M436.6 155.3h4m-2 -2v4M436.3 150.7h4m-2 -2v4M436.1 156.6h4m-2 -2v4M436.8 157.2h4m-2 -2v4M437.5 155.1h4m-2 -2v4M437.1 155.9h4m-2 -2v4M437.3 155.9h4m-2 -2v4M438.0 153.6h4m-2 -2v4M438.3 159.2h4m-2 -2v4M438.4 153.4h4m-2 -2v4M438.9 154.6h4m-2 -2v4M438.4 150.0h4m-2 -2v4M440.0 158.4h4m-2 -2v4M439.4 155.1h4m-2 -2v4M439.8 160.6h4m-2 -2v4M440.0 152.9h4m-2 -2v4M440.7 161.5h4m-2 -2v4M440.2 152.6h4m-2 -2v4M440.9 157.4h4m-2 -2v4M440.9 157.8h4m-2 -2v4M441.3 157.9h4m-2 -2v4M442.0 162.4h4m-2 -2v4M441.9 156.7h4m-2 -2v4M442.0 158.1h4m-2 -2v4M442.3 159.7h4m-2 -2v4M442.2 159.5h4m-2 -2v4M442.0 159.0h4m-2 -2v4M442.6 160.5h4m-2 -2v4M443.0 159.3h4m-2 -2v4M443.1 163.1h4m-2 -2v4M443.0 158.0h4m-2 -2v4M443.4 159.7h4m-2 -2v4M444.3 160.6h4m-2 -2v4M444.3 160.9h4m-2 -2v4M444.3 162.9h4m-2 -2v4M444.1 158.2h4m-2 -2v4M445.4 161.0h4m-2 -2v4M445.8 158.6h4m-2 -2v4M445.4 154.5h4m-2 -2v4M445.8 160.7h4m-2 -2v4M446.8 154.8h4m-2 -2v4M446.3 156.6h4m-2 -2v4M446.8 158.9h4m-2 -2v4M446.2 156.5h4m-2 -2v4M447.6 154.9h4m-2 -2v4M447.9 158.2h4m-2 -2v4M447.4 159.3h4m-2 -2v4M447.7 155.6h4m-2 -2v4M448.7 155.7h4m-2 -2v4M448.7 157.4h4m-2 -2v4M448.3 156.7h4m-2 -2v4M448.9 155.9h4m-2 -2v4M449.6 160.6h4m-2 -2v4M449.1 155.7h4m-2 -2v4M449.4 154.3h4m-2 -2v4M449.1 155.4h4m-2 -2v4M450.8 157.1h4m-2 -2v4M450.3 154.6h4m-2 -2v4M450.5 154.1h4m-2 -2v4M450.4 152.8h4m-2 -2v4M451.4 160.9h4m-2 -2v4M451.8 157.3h4m-2 -2v4M451.9 153.4h4m-2 -2v4M451.2 157.2h4m-2 -2v4M453.0 156.6h4m-2 -2v4M452.6 158.4h4m-2 -2v4M453.0 153.4h4m-2 -2v4M452.6 158.4h4m-2 -2v4M453.8 157.1h4m-2 -2v4M453.4 152.6h4m-2 -2v4M454.0 155.7h4m-2 -2v4M453.3 155.8h4m-2 -2v4M454.8 155.8h4m-2 -2v4M454.6 150.2h4m-2 -2v4M454.7 155.7h4m-2 -2v4M454.6 154.2h4m-2 -2v4M455.9 157.1h4m-2 -2v4M455.5 155.7h4m-2 -2v4M455.7 153.9h4m-2 -2v4M456.0 153.0h4m-2 -2v4M456.1 154.9h4m-2 -2v4M456.8 156.1h4m-2 -2v4M456.3 155.3h4m-2 -2v4M456.4 152.3h4m-2 -2v4M457.8 159.4h4m-2 -2v4M457.4 157.7h4m-2 -2v4M457.1 155.9h4m-2 -2v4M457.6 156.2h4m-2 -2v4M458.7 157.3h4m-2 -2v4M458.6 156.6h4m-2 -2v4M459.0 155.6h4m-2 -2v4M458.3 158.6h4m-2 -2v4M459.6 156.0h4m-2 -2v4M459.4 155.7h4m-2 -2v4M459.5 156.5h4m-2 -2v4M459.4 156.1h4m-2 -2v4M460.3 157.1h4m-2 -2v4M460.5 164.5h4m-2 -2v4M460.7 155.6h4m-2 -2v4M460.6 157.8h4m-2 -2v4M461.9 159.2h4m-2 -2v4M461.8 154.0h4m-2 -2v4M461.4 156.7h4m-2 -2v4M461.7 153.8h4m-2 -2v4M462.9 156.1h4m-2 -2v4M462.5 154.4h4m-2 -2v4M462.1 158.2h4m-2 -2v4M463.0 156.4h4m-2 -2v4M463.1 160.3h4m-2 -2v4M463.3 157.3h4m-2 -2v4M463.4 157.1h4m-2 -2v4M463.5 156.6h4m-2 -2v4M464.1 155.8h4m-2 -2v4M465.0 160.0h4m-2 -2v4M464.9 154.7h4m-2 -2v4M464.6 160.4h4m-2 -2v4M465.1 156.4h4m-2 -2v4M465.4 154.0h4m-2 -2v4M465.3 157.0h4m-2 -2v4M465.3 155.4h4m-2 -2v4M466.3 154.1h4m-2 -2v4M466.5 158.5h4m-2 -2v4M466.0 157.0h4m-2 -2v4M466.4 149.2h4m-2 -2v4M467.0 153.8h4m-2 -2v4M467.1 153.8h4m-2 -2v4M467.4 153.1h4m-2 -2v4M467.7 157.8h4m-2 -2v4M468.4 151.3h4m-2 -2v4M468.5 151.4h4m-2 -2v4M468.1 153.6h4m-2 -2v4M468.5 155.9h4m-2 -2v4M469.7 149.7h4m-2 -2v4M469.7 152.4h4m-2 -2v4M469.5 152.2h4m-2 -2v4M469.2 154.3h4m-2 -2v4M470.6 158.3h4m-2 -2v4M470.8 154.9h4m-2 -2v4M470.2 152.0h4m-2 -2v4M470.0 151.2h4m-2 -2v4M471.3 147.5h4m-2 -2v4M471.5 153.5h4m-2 -2v4M471.4 155.4h4m-2 -2v4M472.0 155.0h4m-2 -2v4M472.2 152.5h4m-2 -2v4M472.4 157.4h4m-2 -2v4M472.5 151.1h4m-2 -2v4M472.9 156.2h4m-2 -2v4M473.8 155.1h4m-2 -2v4M473.9 152.7h4m-2 -2v4M473.2 156.4h4m-2 -2v4M473.2 151.5h4m-2 -2v4M474.7 152.3h4m-2 -2v4M474.7 155.1h4m-2 -2v4M474.1 158.7h4m-2 -2v4M474.2 156.4h4m-2 -2v4M475.4 153.4h4m-2 -2v4M475.2 158.8h4m-2 -2v4M475.4 160.6h4m-2 -2v4M475.5 155.6h4m-2 -2v4M476.8 155.9h4m-2 -2v4M476.4 153.3h4m-2 -2v4M476.3 153.2h4m-2 -2v4M476.4 152.4h4m-2 -2v4M477.5 154.0h4m-2 -2v4M477.9 152.6h4m-2 -2v4M477.1 155.5h4m-2 -2v4M477.3 154.5h4m-2 -2v4M478.5 155.5h4m-2 -2v4M478.2 157.4h4m-2 -2v4M478.4 154.0h4m-2 -2v4M478.5 154.7h4m-2 -2v4M479.4 156.3h4m-2 -2v4M479.3 161.8h4m-2 -2v4M479.2 158.1h4m-2 -2v4M479.3 151.5h4m-2 -2v4M480.8 156.9h4m-2 -2v4M480.4 156.4h4m-2 -2v4M480.8 154.6h4m-2 -2v4M480.7 149.0h4m-2 -2v4M481.4 152.4h4m-2 -2v4M481.6 155.2h4m-2 -2v4M481.4 158.8h4m-2 -2v4M482.0 156.7h4m-2 -2v4M482.1 153.1h4m-2 -2v4M482.9 153.1h4m-2 -2v4M482.6 155.1h4m-2 -2v4M482.6 155.0h4m-2 -2v4M483.7 157.1h4m-2 -2v4M483.7 147.4h4m-2 -2v4M483.1 153.8h4m-2 -2v4M483.3 153.2h4m-2 -2v4M484.2 152.7h4m-2 -2v4M484.4 153.2h4m-2 -2v4M484.5 152.5h4m-2 -2v4M484.7 152.3h4m-2 -2v4M485.6 151.1h4m-2 -2v4M485.5 153.4h4m-2 -2v4M485.6 156.0h4m-2 -2v4M485.5 157.6h4m-2 -2v4M486.9 155.7h4m-2 -2v4M486.7 160.1h4m-2 -2v4M486.3 159.4h4m-2 -2v4M486.3 151.2h4m-2 -2v4M487.3 157.3h4m-2 -2v4M487.7 157.2h4m-2 -2v4M487.2 158.4h4m-2 -2v4M487.8 159.7h4m-2 -2v4M488.5 156.7h4m-2 -2v4M488.8 160.0h4m-2 -2v4M488.5 153.3h4m-2 -2v4M488.5 159.1h4m-2 -2v4M489.6 155.0h4m-2 -2v4M489.9 155.0h4m-2 -2v4M489.1 159.9h4m-2 -2v4M489.9 156.2h4m-2 -2v4M490.0 159.0h4m-2 -2v4M490.6 157.3h4m-2 -2v4M490.6 158.1h4m-2 -2v4M490.0 156.6h4m-2 -2v4M491.3 152.8h4m-2 -2v4M491.4 159.8h4m-2 -2v4M491.4 159.8h4m-2 -2v4M491.4 157.1h4m-2 -2v4M492.4 155.7h4m-2 -2v4M492.3 154.2h4m-2 -2v4M493.0 153.7h4m-2 -2v4M492.9 153.7h4m-2 -2v4M493.1 152.1h4m-2 -2v4M493.9 154.9h4m-2 -2v4M493.1 158.1h4m-2 -2v4M493.7 154.1h4m-2 -2v4M494.5 155.8h4m-2 -2v4M494.3 156.0h4m-2 -2v4M494.6 153.0h4m-2 -2v4M494.1 156.4h4m-2 -2v4M495.4 154.6h4m-2 -2v4M495.6 158.3h4m-2 -2v4M495.3 157.9h4m-2 -2v4M495.9 154.2h4m-2 -2v4M496.9 154.6h4m-2 -2v4M496.6 159.3h4m-2 -2v4M496.3 153.0h4m-2 -2v4M496.9 159.8h4m-2 -2v4M497.1 159.0h4m-2 -2v4M497.2 154.9h4m-2 -2v4M497.6 155.7h4m-2 -2v4M497.7 158.1h4m-2 -2v4M498.4 154.0h4m-2 -2v4M498.9 154.4h4m-2 -2v4M498.2 158.8h4m-2 -2v4M498.2 157.5h4m-2 -2v4M499.3 158.1h4m-2 -2v4M499.5 163.4h4m-2 -2v4M500.0 157.7h4m-2 -2v4M499.6 156.1h4m-2 -2v4M500.2 159.9h4m-2 -2v4M500.2 158.9h4m-2 -2v4M500.3 156.3h4m-2 -2v4M500.2 155.2h4m-2 -2v4M501.6 158.7h4m-2 -2v4M501.9 156.6h4m-2 -2v4M501.3 155.7h4m-2 -2v4M501.5 156.1h4m-2 -2v4M502.2 161.2h4m-2 -2v4M502.7 157.5h4m-2 -2v4M502.9 158.5h4m-2 -2v4M502.2 154.5h4m-2 -2v4M503.4 155.3h4m-2 -2v4M503.2 154.2h4m-2 -2v4M503.3 158.6h4m-2 -2v4M503.8 156.9h4m-2 -2v4M504.8 154.0h4m-2 -2v4M504.3 164.3h4m-2 -2v4M504.6 159.0h4m-2 -2v4M504.1 157.1h4m-2 -2v4M505.1 161.7h4m-2 -2v4M505.6 160.3h4m-2 -2v4M505.9 160.2h4m-2 -2v4M505.4 162.9h4m-2 -2v4M506.5 158.9h4m-2 -2v4M506.6 161.2h4m-2 -2v4M506.6 157.3h4m-2 -2v4M506.6 156.8h4m-2 -2v4M507.1 156.8h4m-2 -2v4M507.8 159.9h4m-2 -2v4M507.3 159.4h4m-2 -2v4M507.5 158.1h4m-2 -2v4M508.2 160.1h4m-2 -2v4M508.2 161.8h4m-2 -2v4M508.3 155.9h4m-2 -2v4M508.7 160.6h4m-2 -2v4M509.7 161.4h4m-2 -2v4M509.5 159.9h4m-2 -2v4M509.9 160.4h4m-2 -2v4M510.0 158.5h4m-2 -2v4M510.3 156.6h4m-2 -2v4M510.5 162.0h4m-2 -2v4M510.4 157.5h4m-2 -2v4M510.7 160.7h4m-2 -2v4M511.9 163.2h4m-2 -2v4M511.3 162.4h4m-2 -2v4M511.3 160.3h4m-2 -2v4M511.0 160.3h4m-2 -2v4M512.7 163.0h4m-2 -2v4M512.4 163.4h4m-2 -2v4M512.0 157.9h4m-2 -2v4M512.9 156.9h4m-2 -2v4M513.6 161.5h4m-2 -2v4M513.4 162.1h4m-2 -2v4M513.2 160.9h4m-2 -2v4M513.1 160.9h4m-2 -2v4M514.0 160.0h4m-2 -2v4M514.7 161.5h4m-2 -2v4M514.5 157.3h4m-2 -2v4M514.2 162.2h4m-2 -2v4M515.1 163.2h4m-2 -2v4M515.8 162.2h4m-2 -2v4M516.0 158.5h4m-2 -2v4M515.5 159.9h4m-2 -2v4M516.5 161.3h4m-2 -2v4M516.0 160.4h4m-2 -2v4M516.8 161.3h4m-2 -2v4M516.5 161.5h4m-2 -2v4M517.4 158.1h4m-2 -2v4M517.6 161.6h4m-2 -2v4M517.9 166.1h4m-2 -2v4M518.0 159.6h4m-2 -2v4M518.3 158.6h4m-2 -2v4M518.1 161.1h4m-2 -2v4M518.1 160.7h4m-2 -2v4M518.7 162.7h4m-2 -2v4M519.4 161.7h4m-2 -2v4M519.3 162.6h4m-2 -2v4M519.0 159.3h4m-2 -2v4M519.6 162.5h4m-2 -2v4M520.9 161.5h4m-2 -2v4M520.4 162.8h4m-2 -2v4M520.3 163.1h4m-2 -2v4M520.3 157.9h4m-2 -2v4M521.6 156.7h4m-2 -2v4M521.8 157.8h4m-2 -2v4M521.7 162.3h4m-2 -2v4M521.8 159.8h4m-2 -2v4M522.6 154.6h4m-2 -2v4M522.2 157.5h4m-2 -2v4M522.1 154.3h4m-2 -2v4M522.2 162.8h4m-2 -2v4M523.3 158.2h4m-2 -2v4M523.4 154.1h4m-2 -2v4M523.7 157.8h4m-2 -2v4M523.6 163.0h4m-2 -2v4M524.5 157.1h4m-2 -2v4M524.3 152.9h4m-2 -2v4M524.4 155.2h4m-2 -2v4M524.0 157.8h4m-2 -2v4M525.3 159.9h4m-2 -2v4M525.4 157.6h4m-2 -2v4M525.2 157.2h4m-2 -2v4M525.5 153.2h4m-2 -2v4M526.0 157.4h4m-2 -2v4M526.5 159.4h4m-2 -2v4M526.1 153.7h4m-2 -2v4M526.7 153.7h4m-2 -2v4M527.2 153.6h4m-2 -2v4M527.3 156.6h4m-2 -2v4M527.4 155.4h4m-2 -2v4M527.0 159.9h4m-2 -2v4M528.0 158.9h4m-2 -2v4M528.2 157.2h4m-2 -2v4M528.9 156.4h4m-2 -2v4M528.9 152.0h4m-2 -2v4M529.0 154.7h4m-2 -2v4M529.9 155.3h4m-2 -2v4M529.8 159.3h4m-2 -2v4M529.7 155.4h4m-2 -2v4M530.9 157.6h4m-2 -2v4M530.4 155.9h4m-2 -2v4M530.4 156.4h4m-2 -2v4M530.0 153.9h4m-2 -2v4M531.9 150.9h4m-2 -2v4M531.9 156.3h4m-2 -2v4M531.2 157.0h4m-2 -2v4M531.5 149.8h4m-2 -2v4M532.4 152.6h4m-2 -2v4M532.1 153.6h4m-2 -2v4M532.3 155.5h4m-2 -2v4M532.8 150.8h4m-2 -2v4M533.6 158.5h4m-2 -2v4M533.5 153.0h4m-2 -2v4M533.5 154.6h4m-2 -2v4M533.3 153.4h4m-2 -2v4M534.4 155.9h4m-2 -2v4M534.2 154.9h4m-2 -2v4M534.2 155.7h4m-2 -2v4M534.1 152.2h4m-2 -2v4M535.4 153.7h4m-2 -2v4M535.9 154.4h4m-2 -2v4M535.8 158.5h4m-2 -2v4M535.4 154.9h4m-2 -2v4M536.9 152.7h4m-2 -2v4M536.7 156.2h4m-2 -2v4M536.7 151.3h4m-2 -2v4M536.5 153.7h4m-2 -2v4M537.2 153.6h4m-2 -2v4M537.8 151.7h4m-2 -2v4M537.5 152.1h4m-2 -2v4M537.1 153.8h4m-2 -2v4M538.5 149.0h4m-2 -2v4M538.9 153.2h4m-2 -2v4M538.3 147.9h4m-2 -2v4M538.7 147.6h4m-2 -2v4M539.7 155.5h4m-2 -2v4M539.1 152.9h4m-2 -2v4M539.3 154.9h4m-2 -2v4M539.9 154.0h4m-2 -2v4M540.9 148.0h4m-2 -2v4M540.1 156.5h4m-2 -2v4M540.8 152.9h4m-2 -2v4M540.8 152.1h4m-2 -2v4M541.8 152.8h4m-2 -2v4M541.3 146.0h4m-2 -2v4M541.7 148.8h4m-2 -2v4M541.7 155.4h4m-2 -2v4M542.7 149.1h4m-2 -2v4M542.1 154.8h4m-2 -2v4M542.9 155.5h4m-2 -2v4M542.9 150.8h4m-2 -2v4M543.6 151.4h4m-2 -2v4M543.4 150.8h4m-2 -2v4M543.3 151.8h4m-2 -2v4M543.4 153.2h4m-2 -2v4M544.1 152.8h4m-2 -2v4M544.0 153.3h4m-2 -2v4M544.9 152.3h4m-2 -2v4M544.8 158.9h4m-2 -2v4M545.1 155.2h4m-2 -2v4M545.2 153.5h4m-2 -2v4M545.9 152.5h4m-2 -2v4M545.8 156.3h4m-2 -2v4M546.9 155.6h4m-2 -2v4M546.3 157.6h4m-2 -2v4M546.1 155.5h4m-2 -2v4M546.8 157.2h4m-2 -2v4M547.4 154.2h4m-2 -2v4M547.9 151.4h4m-2 -2v4M547.7 154.3h4m-2 -2v4M547.6 153.2h4m-2 -2v4M548.8 153.3h4m-2 -2v4M548.3 157.3h4m-2 -2v4M548.1 156.7h4m-2 -2v4M548.1 155.8h4m-2 -2v4M549.0 154.2h4m-2 -2v4M549.8 156.7h4m-2 -2v4M550.0 154.9h4m-2 -2v4M549.0 155.8h4m-2 -2v4M550.3 156.9h4m-2 -2v4M550.0 154.3h4m-2 -2v4M550.6 154.0h4m-2 -2v4M550.6 157.7h4m-2 -2v4M551.6 153.9h4m-2 -2v4M551.1 154.7h4m-2 -2v4M551.4 157.4h4m-2 -2v4M551.9 154.3h4m-2 -2v4M552.0 153.4h4m-2 -2v4M552.2 158.7h4m-2 -2v4M552.0 156.1h4m-2 -2v4M552.0 152.2h4m-2 -2v4M553.6 154.4h4m-2 -2v4M553.9 153.1h4m-2 -2v4M553.3 153.9h4m-2 -2v4M554.0 157.7h4m-2 -2v4M554.6 150.0h4m-2 -2v4M554.3 150.1h4m-2 -2v4M554.1 155.3h4m-2 -2v4M554.2 152.5h4m-2 -2v4M555.9 151.7h4m-2 -2v4M555.3 150.1h4m-2 -2v4M555.6 156.9h4m-2 -2v4M555.2 156.5h4m-2 -2v4M556.4 152.6h4m-2 -2v4M556.4 151.6h4m-2 -2v4M556.9 154.6h4m-2 -2v4M557.0 155.4h4m-2 -2v4M557.3 153.5h4m-2 -2v4M557.3 152.5h4m-2 -2v4M557.2 150.0h4m-2 -2v4M557.3 153.1h4m-2 -2v4M558.4 156.7h4m-2 -2v4M558.0 150.7h4m-2 -2v4M559.0 148.5h4m-2 -2v4M558.1 149.4h4m-2 -2v4M559.3 151.6h4m-2 -2v4M559.6 154.1h4m-2 -2v4M559.2 154.2h4m-2 -2v4M559.5 150.9h4m-2 -2v4M560.1 150.2h4m-2 -2v4M560.6 154.2h4m-2 -2v4M560.8 151.6h4m-2 -2v4M560.3 152.9h4m-2 -2v4M561.2 150.2h4m-2 -2v4M561.2 151.9h4m-2 -2v4M561.1 150.6h4m-2 -2v4M561.0 153.1h4m-2 -2v4M562.6 148.0h4m-2 -2v4M562.6 147.2h4m-2 -2v4M562.9 150.7h4m-2 -2v4M562.4 145.8h4m-2 -2v4M563.1 150.0h4m-2 -2v4M563.4 151.3h4m-2 -2v4M563.9 150.0h4m-2 -2v4M563.5 149.4h4m-2 -2v4M564.6 149.9h4m-2 -2v4M564.1 148.9h4m-2 -2v4M564.2 145.7h4m-2 -2v4M564.7 148.4h4m-2 -2v4M565.9 146.5h4m-2 -2v4M565.3 151.3h4m-2 -2v4M565.9 149.8h4m-2 -2v4M565.3 148.0h4m-2 -2v4M566.4 148.7h4m-2 -2v4M566.2 147.4h4m-2 -2v4M566.7 150.9h4m-2 -2v4M566.3 146.4h4m-2 -2v4M567.9 151.7h4m-2 -2v4M567.6 150.0h4m-2 -2v4M567.4 145.7h4m-2 -2v4M567.3 146.9h4m-2 -2v4M568.1 147.8h4m-2 -2v4M568.4 148.4h4m-2 -2v4M568.5 149.5h4m-2 -2v4M568.4 146.5h4m-2 -2v4M569.7 145.2h4m-2 -2v4M569.5 146.9h4m-2 -2v4M569.9 142.6h4m-2 -2v4M569.1 145.3h4m-2 -2v4M570.4 145.9h4m-2 -2v4M570.8 144.5h4m-2 -2v4M570.9 151.4h4m-2 -2v4M570.7 148.1h4m-2 -2v4M571.6 146.6h4m-2 -2v4M571.4 148.2h4m-2 -2v4M571.6 146.7h4m-2 -2v4M571.7 145.4h4m-2 -2v4M572.7 147.9h4m-2 -2v4M572.6 144.4h4m-2 -2v4M572.8 145.3h4m-2 -2v4M572.0 148.8h4m-2 -2v4M573.6 147.3h4m-2 -2v4M573.9 148.6h4m-2 -2v4M573.7 147.6h4m-2 -2v4M573.6 144.4h4m-2 -2v4M574.9 146.2h4m-2 -2v4M574.5 149.2h4m-2 -2v4M574.3 146.9h4m-2 -2v4M575.0 148.8h4m-2 -2v4M575.3 147.2h4m-2 -2v4M575.9 144.7h4m-2 -2v4M575.8 148.9h4m-2 -2v4M575.9 146.4h4m-2 -2v4M576.9 143.3h4m-2 -2v4M576.2 150.0h4m-2 -2v4M576.1 146.6h4m-2 -2v4M576.7 145.7h4m-2 -2v4M577.9 142.0h4m-2 -2v4M577.1 145.7h4m-2 -2v4M577.0 147.2h4m-2 -2v4M577.2 142.9h4m-2 -2v4M578.4 145.5h4m-2 -2v4M578.7 141.9h4m-2 -2v4M578.8 148.3h4m-2 -2v4M578.3 146.5h4m-2 -2v4M579.6 148.2h4m-2 -2v4M579.8 149.7h4m-2 -2v4M579.3 145.1h4m-2 -2v4M579.7 141.2h4m-2 -2v4M580.3 148.6h4m-2 -2v4M580.0 145.0h4m-2 -2v4M580.3 142.6h4m-2 -2v4M580.1 147.7h4m-2 -2v4M581.3 145.6h4m-2 -2v4M581.2 150.9h4m-2 -2v4M581.8 148.6h4m-2 -2v4M581.4 143.2h4m-2 -2v4M582.3 147.8h4m-2 -2v4M582.4 146.5h4m-2 -2v4M582.7 149.3h4m-2 -2v4M582.9 147.3h4m-2 -2v4M583.3 150.7h4m-2 -2v4M583.5 149.5h4m-2 -2v4M583.3 152.8h4m-2 -2v4M583.5 149.2h4m-2 -2v4M584.2 147.2h4m-2 -2v4M584.9 148.3h4m-2 -2v4M584.7 146.9h4m-2 -2v4M584.4 146.3h4m-2 -2v4M585.2 148.8h4m-2 -2v4M585.4 149.5h4m-2 -2v4M586.0 147.8h4m-2 -2v4M585.3 148.5h4m-2 -2v4M586.6 146.1h4m-2 -2v4M586.4 146.8h4m-2 -2v4M586.8 147.1h4m-2 -2v4M587.0 143.2h4m-2 -2v4M587.3 143.7h4m-2 -2v4M587.9 146.3h4m-2 -2v4M587.1 145.2h4m-2 -2v4M587.4 146.6h4m-2 -2v4M588.3 142.6h4m-2 -2v4M588.2 147.4h4m-2 -2v4M588.3 149.1h4m-2 -2v4M588.4 146.3h4m-2 -2v4M589.5 146.9h4m-2 -2v4M589.1 146.1h4m-2 -2v4M590.0 147.5h4m-2 -2v4M589.4 146.0h4m-2 -2v4M590.6 142.6h4m-2 -2v4M590.4 149.2h4m-2 -2v4M590.3 142.5h4m-2 -2v4M590.1 146.8h4m-2 -2v4M591.3 147.3h4m-2 -2v4M591.1 143.1h4m-2 -2v4M591.2 144.8h4m-2 -2v4M591.8 145.0h4m-2 -2v4M592.1 146.1h4m-2 -2v4M592.2 147.4h4m-2 -2v4M592.9 143.3h4m-2 -2v4M592.8 145.5h4m-2 -2v4M593.6 147.8h4m-2 -2v4M593.3 148.0h4m-2 -2v4M593.9 148.1h4m-2 -2v4M593.7 147.7h4m-2 -2v4M594.3 145.6h4m-2 -2v4M594.6 144.0h4m-2 -2v4M594.7 148.3h4m-2 -2v4M594.4 145.8h4m-2 -2v4M595.0 147.4h4m-2 -2v4M595.9 144.0h4m-2 -2v4M595.6 142.7h4m-2 -2v4M595.9 146.7h4m-2 -2v4M596.6 149.0h4m-2 -2v4M596.7 144.8h4m-2 -2v4M596.9 143.3h4m-2 -2v4M596.8 146.8h4m-2 -2v4M597.2 146.5h4m-2 -2v4M597.6 144.7h4m-2 -2v4M597.3 142.9h4m-2 -2v4M597.2 148.8h4m-2 -2v4M598.6 144.9h4m-2 -2v4M598.7 148.6h4m-2 -2v4M598.3 142.8h4m-2 -2v4M599.0 146.3h4m-2 -2v4M599.4 144.2h4m-2 -2v4M600.0 145.3h4m-2 -2v4M599.9 146.8h4m-2 -2v4M599.3 145.2h4m-2 -2v4M600.4 147.3h4m-2 -2v4M600.4 146.4h4m-2 -2v4M600.5 144.4h4m-2 -2v4M600.6 143.3h4m-2 -2v4M602.0 144.0h4m-2 -2v4M601.9 147.6h4m-2 -2v4M601.8 143.7h4m-2 -2v4M601.6 141.9h4m-2 -2v4M602.4 147.4h4m-2 -2v4M602.8 147.9h4m-2 -2v4M602.4 143.4h4m-2 -2v4M602.1 147.1h4m-2 -2v4M603.1 144.6h4m-2 -2v4M603.4 143.7h4m-2 -2v4M603.1 147.0h4m-2 -2v4M603.8 143.9h4m-2 -2v4M604.2 147.4h4m-2 -2v4M604.2 145.9h4m-2 -2v4M604.3 143.7h4m-2 -2v4M604.5 148.1h4m-2 -2v4M605.3 145.0h4m-2 -2v4M605.3 145.8h4m-2 -2v4M605.6 147.6h4m-2 -2v4M605.7 148.8h4m-2 -2v4M606.3 145.7h4m-2 -2v4M606.7 146.7h4m-2 -2v4M606.6 144.9h4m-2 -2v4M606.9 143.6h4m-2 -2v4M607.9 147.4h4m-2 -2v4M607.7 147.9h4m-2 -2v4M607.2 149.3h4m-2 -2v4M607.3 146.4h4m-2 -2v4M608.4 150.3h4m-2 -2v4M608.3 144.7h4m-2 -2v4M608.0 145.1h4m-2 -2v4M608.3 147.0h4m-2 -2v4M609.3 142.5h4m-2 -2v4M609.2 147.1h4m-2 -2v4M609.7 145.9h4m-2 -2v4M609.7 146.3h4m-2 -2v4M610.3 143.0h4m-2 -2v4M610.2 145.3h4m-2 -2v4M610.5 146.8h4m-2 -2v4M610.2 147.1h4m-2 -2v4M611.7 146.2h4m-2 -2v4M611.8 147.4h4m-2 -2v4M611.7 150.3h4m-2 -2v4M611.7 145.7h4m-2 -2v4M612.7 143.9h4m-2 -2v4M612.4 150.6h4m-2 -2v4M612.9 144.6h4m-2 -2v4M612.2 148.8h4m-2 -2v4M613.0 147.6h4m-2 -2v4M613.2 145.1h4m-2 -2v4M613.1 148.4h4m-2 -2v4M613.8 150.6h4m-2 -2v4M614.4 142.7h4m-2 -2v4M614.9 148.0h4m-2 -2v4M614.1 147.6h4m-2 -2v4M614.8 150.5h4m-2 -2v4M615.7 149.6h4m-2 -2v4M616.0 145.8h4m-2 -2v4M615.6 143.2h4m-2 -2v4M615.2 149.0h4m-2 -2v4M616.6 150.5h4m-2 -2v4M616.9 148.1h4m-2 -2v4M616.3 148.5h4m-2 -2v4M616.2 146.8h4m-2 -2v4M617.9 151.0h4m-2 -2v4M617.4 149.7h4m-2 -2v4M617.8 151.1h4m-2 -2v4M617.8 149.0h4m-2 -2v4M618.4 148.5h4m-2 -2v4M618.9 148.8h4m-2 -2v4M618.4 153.8h4m-2 -2v4M618.0 152.6h4m-2 -2v4M619.8 152.1h4m-2 -2v4M619.5 152.6h4m-2 -2v4M619.3 149.7h4m-2 -2v4M619.5 150.1h4m-2 -2v4M620.6 146.9h4m-2 -2v4M620.1 151.0h4m-2 -2v4M620.1 152.0h4m-2 -2v4M621.0 148.9h4m-2 -2v4M621.2 152.4h4m-2 -2v4M621.6 146.9h4m-2 -2v4M621.8 148.6h4m-2 -2v4M621.2 149.1h4m-2 -2v4M622.7 150.0h4m-2 -2v4M622.5 150.3h4m-2 -2v4M622.1 146.3h4m-2 -2v4M622.0 149.6h4m-2 -2v4M623.4 152.7h4m-2 -2v4M624.0 145.7h4m-2 -2v4M623.4 148.3h4m-2 -2v4M623.5 146.4h4m-2 -2v4M624.6 147.6h4m-2 -2v4M624.7 145.4h4m-2 -2v4M624.6 147.6h4m-2 -2v4M624.6 139.8h4m-2 -2v4M625.6 143.7h4m-2 -2v4M625.6 145.6h4m-2 -2v4M625.1 146.5h4m-2 -2v4M625.6 145.3h4m-2 -2v4M626.4 143.3h4m-2 -2v4M626.9 147.7h4m-2 -2v4M627.0 140.5h4m-2 -2v4M626.9 143.8h4m-2 -2v4M627.5 145.9h4m-2 -2v4M627.8 143.3h4m-2 -2v4M627.1 144.7h4m-2 -2v4M627.5 144.4h4m-2 -2v4M628.6 142.2h4m-2 -2v4M628.8 143.0h4m-2 -2v4M628.3 140.4h4m-2 -2v4M628.8 142.4h4m-2 -2v4M629.6 141.6h4m-2 -2v4M629.5 141.9h4m-2 -2v4M629.1 140.2h4m-2 -2v4M629.5 140.5h4m-2 -2v4M630.9 136.8h4m-2 -2v4M630.6 142.7h4m-2 -2v4M630.3 139.3h4m-2 -2v4M630.3 138.6h4m-2 -2v4M631.3 135.1h4m-2 -2v4M632.0 138.2h4m-2 -2v4M631.4 141.3h4m-2 -2v4M631.7 142.8h4m-2 -2v4M632.6 134.5h4m-2 -2v4M632.1 141.7h4m-2 -2v4M632.2 137.3h4m-2 -2v4M632.6 136.4h4m-2 -2v4M633.9 137.7h4m-2 -2v4M633.5 137.5h4m-2 -2v4M633.9 139.6h4m-2 -2v4M633.9 137.4h4m-2 -2v4M634.7 136.9h4m-2 -2v4M634.5 137.4h4m-2 -2v4M634.2 138.5h4m-2 -2v4M634.1 139.9h4m-2 -2v4M635.3 137.3h4m-2 -2v4M635.8 138.3h4m-2 -2v4M635.4 138.9h4m-2 -2v4M635.9 138.4h4m-2 -2v4M636.7 137.1h4m-2 -2v4M636.3 135.3h4m-2 -2v4M636.0 135.9h4m-2 -2v4M636.2 135.5h4m-2 -2v4M637.5 139.7h4m-2 -2v4M637.4 133.4h4m-2 -2v4M637.1 138.7h4m-2 -2v4M637.5 138.9h4m-2 -2v4M638.8 137.2h4m-2 -2v4M638.0 135.3h4m-2 -2v4M638.4 136.5h4m-2 -2v4M638.3 137.2h4m-2 -2v4M639.0 136.3h4m-2 -2v4M639.2 132.9h4m-2 -2v4M639.7 134.5h4m-2 -2v4M639.0 135.6h4m-2 -2v4M640.3 134.4h4m-2 -2v4M640.6 136.7h4m-2 -2v4M640.8 136.1h4m-2 -2v4M640.8 139.5h4m-2 -2v4M641.6 135.5h4m-2 -2v4M641.4 135.9h4m-2 -2v4M641.5 139.4h4m-2 -2v4M641.7 137.9h4m-2 -2v4M642.8 134.7h4m-2 -2v4M642.4 138.0h4m-2 -2v4M642.8 134.9h4m-2 -2v4M642.7 137.5h4m-2 -2v4M643.0 141.7h4m-2 -2v4M643.6 136.6h4m-2 -2v4M643.8 138.9h4m-2 -2v4M643.2 138.3h4m-2 -2v4M644.1 140.5h4m-2 -2v4M645.0 136.6h4m-2 -2v4M644.2 137.7h4m-2 -2v4M644.3 138.9h4m-2 -2v4M645.7 137.3h4m-2 -2v4M645.0 136.8h4m-2 -2v4M645.4 138.5h4m-2 -2v4M645.4 139.4h4m-2 -2v4M646.5 139.2h4m-2 -2v4M646.1 136.5h4m-2 -2v4M646.4 138.5h4m-2 -2v4M646.3 138.3h4m-2 -2v4M647.8 140.7h4m-2 -2v4M647.2 136.8h4m-2 -2v4M647.2 137.4h4m-2 -2v4M647.4 141.3h4m-2 -2v4M648.9 137.7h4m-2 -2v4M648.7 136.5h4m-2 -2v4M648.6 137.4h4m-2 -2v4M648.3 137.3h4m-2 -2v4M649.0 137.8h4m-2 -2v4M649.6 141.7h4m-2 -2v4M649.8 137.4h4m-2 -2v4M649.7 135.9h4m-2 -2v4M650.1 142.0h4m-2 -2v4M650.1 140.0h4m-2 -2v4M650.1 140.6h4m-2 -2v4M651.0 140.0h4m-2 -2v4M651.6 141.6h4m-2 -2v4M652.0 141.9h4m-2 -2v4M651.7 141.2h4m-2 -2v4M651.3 137.8h4m-2 -2v4M652.0 142.1h4m-2 -2v4M652.8 140.2h4m-2 -2v4M652.9 142.6h4m-2 -2v4M652.6 142.1h4m-2 -2v4M653.2 146.0h4m-2 -2v4M654.0 138.9h4m-2 -2v4M653.8 141.6h4m-2 -2v4M653.3 141.5h4m-2 -2v4M654.7 142.6h4m-2 -2v4M655.0 145.6h4m-2 -2v4M654.1 142.5h4m-2 -2v4M654.1 142.6h4m-2 -2v4M655.3 146.9h4m-2 -2v4M655.2 143.3h4m-2 -2v4M655.5 142.6h4m-2 -2v4M655.6 143.7h4m-2 -2v4M656.1 146.6h4m-2 -2v4M656.4 143.8h4m-2 -2v4M656.9 146.4h4m-2 -2v4M656.6 145.0h4m-2 -2v4M657.9 148.7h4m-2 -2v4M657.6 146.6h4m-2 -2v4M657.2 150.5h4m-2 -2v4M657.1 146.8h4m-2 -2v4M658.9 145.8h4m-2 -2v4M658.2 147.5h4m-2 -2v4M658.1 147.0h4m-2 -2v4M658.9 146.4h4m-2 -2v4M659.3 152.0h4m-2 -2v4M659.6 149.9h4m-2 -2v4M659.2 149.5h4m-2 -2v4M659.8 149.5h4m-2 -2v4M660.5 145.1h4m-2 -2v4M660.3 145.8h4m-2 -2v4M660.4 144.6h4m-2 -2v4M660.7 149.0h4m-2 -2v4M661.8 149.4h4m-2 -2v4M661.3 145.1h4m-2 -2v4M661.2 145.7h4m-2 -2v4M661.4 145.1h4m-2 -2v4M662.9 145.2h4m-2 -2v4M662.5 144.8h4m-2 -2v4M662.7 145.1h4m-2 -2v4M662.8 145.5h4m-2 -2v4M663.7 143.3h4m-2 -2v4M663.8 142.6h4m-2 -2v4M663.3 145.5h4m-2 -2v4M663.2 143.8h4m-2 -2v4M664.9 140.1h4m-2 -2v4M664.4 144.3h4m-2 -2v4M665.0 141.4h4m-2 -2v4M665.0 143.3h4m-2 -2v4M665.5 140.3h4m-2 -2v4M665.9 143.7h4m-2 -2v4M665.3 143.7h4m-2 -2v4M665.9 140.5h4m-2 -2v4M666.8 139.3h4m-2 -2v4M666.8 139.0h4m-2 -2v4M666.0 140.6h4m-2 -2v4M666.4 140.7h4m-2 -2v4M668.0 133.1h4m-2 -2v4M667.1 135.7h4m-2 -2v4M667.5 137.6h4m-2 -2v4M667.4 142.1h4m-2 -2v4M668.0 139.7h4m-2 -2v4M668.3 135.5h4m-2 -2v4M668.3 139.3h4m-2 -2v4M668.5 137.8h4m-2 -2v4M669.7 138.5h4m-2 -2v4M670.0 137.4h4m-2 -2v4M669.3 138.5h4m-2 -2v4M669.4 137.2h4m-2 -2v4M670.3 138.2h4m-2 -2v4M670.5 137.6h4m-2 -2v4M670.5 140.9h4m-2 -2v4M670.0 138.5h4m-2 -2v4M672.0 139.3h4m-2 -2v4M671.1 137.7h4m-2 -2v4M671.7 140.3h4m-2 -2v4M671.4 139.3h4m-2 -2v4M672.5 137.3h4m-2 -2v4M672.2 140.3h4m-2 -2v4M672.1 137.9h4m-2 -2v4M672.1 143.0h4m-2 -2v4M673.8 137.8h4m-2 -2v4M673.7 137.7h4m-2 -2v4M673.4 137.7h4m-2 -2v4M673.5 140.0h4m-2 -2v4M674.1 136.8h4m-2 -2v4M674.9 135.6h4m-2 -2v4M674.8 134.2h4m-2 -2v4M674.3 139.8h4m-2 -2v4M675.9 138.1h4m-2 -2v4M675.7 138.6h4m-2 -2v4M675.8 135.4h4m-2 -2v4M675.2 133.4h4m-2 -2v4M676.6 135.3h4m-2 -2v4M676.9 133.0h4m-2 -2v4M676.8 133.9h4m-2 -2v4M676.7 137.2h4m-2 -2v4M677.2 133.4h4m-2 -2v4M677.3 132.0h4m-2 -2v4M677.1 134.6h4m-2 -2v4M677.0 131.1h4m-2 -2v4M678.1 135.4h4m-2 -2v4M678.6 132.5h4m-2 -2v4M678.7 137.0h4m-2 -2v4M678.5 131.7h4m-2 -2v4M679.3 132.4h4m-2 -2v4M679.8 133.9h4m-2 -2v4M679.8 129.7h4m-2 -2v4M679.9 132.3h4m-2 -2v4M681.0 135.1h4m-2 -2v4M680.9 136.4h4m-2 -2v4M680.4 134.9h4m-2 -2v4M681.0 136.3h4m-2 -2v4M681.6 136.3h4m-2 -2v4M681.7 135.9h4m-2 -2v4M681.7 134.1h4m-2 -2v4M681.4 135.4h4m-2 -2v4M682.3 138.1h4m-2 -2v4M682.5 138.0h4m-2 -2v4M682.9 137.4h4m-2 -2v4M682.6 134.7h4m-2 -2v4M683.9 138.6h4m-2 -2v4M683.2 134.7h4m-2 -2v4M683.3 136.2h4m-2 -2v4M683.3 139.5h4m-2 -2v4M684.0 131.8h4m-2 -2v4M684.0 135.5h4m-2 -2v4M684.4 136.9h4m-2 -2v4M684.6 134.8h4m-2 -2v4M685.8 130.6h4m-2 -2v4M685.9 135.8h4m-2 -2v4M685.9 136.5h4m-2 -2v4M685.7 137.1h4m-2 -2v4M686.5 130.3h4m-2 -2v4M686.7 129.3h4m-2 -2v4M686.8 132.9h4m-2 -2v4M686.1 136.3h4m-2 -2v4M687.7 130.1h4m-2 -2v4M687.0 132.5h4m-2 -2v4M687.3 129.4h4m-2 -2v4M687.1 131.7h4m-2 -2v4M688.0 130.5h4m-2 -2v4M688.0 128.2h4m-2 -2v4M688.7 132.5h4m-2 -2v4M688.6 128.7h4m-2 -2v4M689.2 131.6h4m-2 -2v4M689.2 126.6h4m-2 -2v4M689.8 125.5h4m-2 -2v4M689.6 124.3h4m-2 -2v4M690.8 129.4h4m-2 -2v4M690.3 127.7h4m-2 -2v4M690.2 126.5h4m-2 -2v4M691.0 125.9h4m-2 -2v4M691.2 126.0h4m-2 -2v4M691.3 129.6h4m-2 -2v4M691.1 128.1h4m-2 -2v4M691.3 122.5h4m-2 -2v4M692.3 124.2h4m-2 -2v4M692.6 123.8h4m-2 -2v4M692.8 127.5h4m-2 -2v4M692.5 127.1h4m-2 -2v4M693.5 128.6h4m-2 -2v4M693.3 125.9h4m-2 -2v4M694.0 126.1h4m-2 -2v4M693.3 125.6h4m-2 -2v4M694.1 128.5h4m-2 -2v4M694.4 124.8h4m-2 -2v4M694.5 126.0h4m-2 -2v4M694.7 123.3h4m-2 -2v4M695.3 129.4h4m-2 -2v4M695.6 125.2h4m-2 -2v4M695.8 126.9h4m-2 -2v4M695.5 127.8h4m-2 -2v4M696.2 128.1h4m-2 -2v4M696.2 124.4h4m-2 -2v4M696.9 130.0h4m-2 -2v4M696.1 130.5h4m-2 -2v4M697.1 130.3h4m-2 -2v4M697.9 129.2h4m-2 -2v4M697.2 129.9h4m-2 -2v4M697.7 134.4h4m-2 -2v4M698.0 129.1h4m-2 -2v4M698.2 128.8h4m-2 -2v4M698.1 132.4h4m-2 -2v4M698.5 134.3h4m-2 -2v4M699.2 132.9h4m-2 -2v4M699.6 130.8h4m-2 -2v4M699.9 124.8h4m-2 -2v4M699.2 134.4h4m-2 -2v4M700.3 129.1h4m-2 -2v4M700.4 131.3h4m-2 -2v4M700.5 126.6h4m-2 -2v4M700.4 131.9h4m-2 -2v4M701.7 129.4h4m-2 -2v4M701.9 132.1h4m-2 -2v4M701.3 124.2h4m-2 -2v4M701.9 130.2h4m-2 -2v4M702.5 128.7h4m-2 -2v4M702.1 128.4h4m-2 -2v4M702.9 129.3h4m-2 -2v4M702.3 128.2h4m-2 -2v4M703.0 130.0h4m-2 -2v4M703.0 126.1h4m-2 -2v4M703.4 129.4h4m-2 -2v4M703.9 130.8h4m-2 -2v4M704.0 126.3h4m-2 -2v4M704.7 132.2h4m-2 -2v4M704.1 128.2h4m-2 -2v4M705.0 126.9h4m-2 -2v4M705.1 129.2h4m-2 -2v4M705.4 129.1h4m-2 -2v4M706.0 128.7h4m-2 -2v4M705.5 124.7h4m-2 -2v4M706.5 129.5h4m-2 -2v4M706.9 129.4h4m-2 -2v4M706.7 126.2h4m-2 -2v4M706.4 131.3h4m-2 -2v4M707.2 127.2h4m-2 -2v4M707.5 128.1h4m-2 -2v4M707.7 124.5h4m-2 -2v4M707.8 128.4h4m-2 -2v4M708.7 124.8h4m-2 -2v4M708.4 124.0h4m-2 -2v4M708.1 127.3h4m-2 -2v4M709.0 129.7h4m-2 -2v4M709.5 125.5h4m-2 -2v4M709.4 124.8h4m-2 -2v4M709.2 129.2h4m-2 -2v4M709.9 128.8h4m-2 -2v4M710.9 126.8h4m-2 -2v4M710.9 127.5h4m-2 -2v4M710.7 124.9h4m-2 -2v4M710.7 124.4h4m-2 -2v4M711.5 124.9h4m-2 -2v4M711.1 126.9h4m-2 -2v4M711.2 129.1h4m-2 -2v4M711.2 127.0h4m-2 -2v4M713.0 129.1h4m-2 -2v4M712.0 130.4h4m-2 -2v4M712.5 124.9h4m-2 -2v4M712.1 130.9h4m-2 -2v4M713.9 131.5h4m-2 -2v4M713.9 128.8h4m-2 -2v4M713.7 130.3h4m-2 -2v4M713.7 127.9h4m-2 -2v4M714.2 133.6h4m-2 -2v4M714.1 132.4h4m-2 -2v4M714.4 132.0h4m-2 -2v4M714.9 130.0h4m-2 -2v4M715.2 134.4h4m-2 -2v4M715.9 134.5h4m-2 -2v4M715.0 134.8h4m-2 -2v4M715.6 130.5h4m-2 -2v4M716.2 133.3h4m-2 -2v4M716.5 133.1h4m-2 -2v4M716.3 135.7h4m-2 -2v4M716.2 135.5h4m-2 -2v4M717.2 134.9h4m-2 -2v4M717.3 135.7h4m-2 -2v4M717.9 134.1h4m-2 -2v4M717.8 138.8h4m-2 -2v4M718.3 133.4h4m-2 -2v4M718.5 133.8h4m-2 -2v4M718.9 131.6h4m-2 -2v4M718.7 134.4h4m-2 -2v4M719.3 134.4h4m-2 -2v4M719.9 136.2h4m-2 -2v4M719.7 134.6h4m-2 -2v4M719.3 131.5h4m-2 -2v4M720.6 134.1h4m-2 -2v4M720.5 134.2h4m-2 -2v4M720.9 135.3h4m-2 -2v4M720.2 134.2h4m-2 -2v4M721.1 133.1h4m-2 -2v4M721.7 134.2h4m-2 -2v4M721.5 134.3h4m-2 -2v4M721.1 132.0h4m-2 -2v4M722.4 132.1h4m-2 -2v4M722.2 133.8h4m-2 -2v4M722.6 135.6h4m-2 -2v4M722.2 133.9h4m-2 -2v4M723.8 132.7h4m-2 -2v4M723.7 133.6h4m-2 -2v4M723.8 132.8h4m-2 -2v4M723.2 129.7h4m-2 -2v4M724.6 130.4h4m-2 -2v4M724.5 133.8h4m-2 -2v4M724.7 131.7h4m-2 -2v4M724.1 129.3h4m-2 -2v4M726.0 125.5h4m-2 -2v4M725.6 130.4h4m-2 -2v4M725.6 129.8h4m-2 -2v4M725.8 134.4h4m-2 -2v4M726.5 127.1h4m-2 -2v4M726.2 130.0h4m-2 -2v4M726.4 131.2h4m-2 -2v4M726.5 130.1h4m-2 -2v4M727.7 125.7h4m-2 -2v4M727.2 128.0h4m-2 -2v4M727.1 126.2h4m-2 -2v4M727.8 127.0h4m-2 -2v4M728.1 128.1h4m-2 -2v4M728.8 123.7h4m-2 -2v4M728.3 128.6h4m-2 -2v4M728.7 130.0h4m-2 -2v4M729.1 127.4h4m-2 -2v4M729.5 125.3h4m-2 -2v4M729.5 129.3h4m-2 -2v4M729.1 126.6h4m-2 -2v4M730.7 121.6h4m-2 -2v4M730.2 123.2h4m-2 -2v4M730.8 125.6h4m-2 -2v4M730.3 125.2h4m-2 -2v4M731.5 125.0h4m-2 -2v4M731.6 124.9h4m-2 -2v4M731.4 122.5h4m-2 -2v4M731.7 123.2h4m-2 -2v4M732.3 123.6h4m-2 -2v4M732.2 126.7h4m-2 -2v4M732.1 125.0h4m-2 -2v4M732.2 125.6h4m-2 -2v4M733.4 123.4h4m-2 -2v4M733.8 121.8h4m-2 -2v4M733.7 121.0h4m-2 -2v4M733.3 119.5h4m-2 -2v4M734.6 121.0h4m-2 -2v4M734.8 121.8h4m-2 -2v4M734.6 119.9h4m-2 -2v4M734.6 117.9h4m-2 -2v4M735.7 116.2h4m-2 -2v4M735.4 116.4h4m-2 -2v4M735.7 123.0h4m-2 -2v4M735.7 123.3h4m-2 -2v4M736.6 120.9h4m-2 -2v4M736.9 120.2h4m-2 -2v4M736.0 120.0h4m-2 -2v4M736.7 116.4h4m-2 -2v4M737.0 122.5h4m-2 -2v4M737.7 117.8h4m-2 -2v4M737.4 118.2h4m-2 -2v4M737.1 117.1h4m-2 -2v4M738.4 114.1h4m-2 -2v4M738.5 117.5h4m-2 -2v4M738.9 119.0h4m-2 -2v4M738.4 117.9h4m-2 -2v4M739.5 113.3h4m-2 -2v4M739.9 111.7h4m-2 -2v4M739.4 119.2h4m-2 -2v4M739.4 118.2h4m-2 -2v4M740.2 112.3h4m-2 -2v4M740.7 114.3h4m-2 -2v4M740.7 119.1h4m-2 -2v4M740.0 114.4h4m-2 -2v4M741.3 113.5h4m-2 -2v4M741.4 114.4h4m-2 -2v4M741.3 115.0h4m-2 -2v4M741.9 114.0h4m-2 -2v4M742.6 115.2h4m-2 -2v4M742.5 112.8h4m-2 -2v4M742.6 112.2h4m-2 -2v4M742.7 109.9h4m-2 -2v4M743.7 113.3h4m-2 -2v4M743.5 117.0h4m-2 -2v4M743.1 113.9h4m-2 -2v4M743.1 115.1h4m-2 -2v4M744.2 113.1h4m-2 -2v4M744.6 113.0h4m-2 -2v4M744.6 108.3h4m-2 -2v4M744.8 111.4h4m-2 -2v4M745.4 111.9h4m-2 -2v4M745.7 114.0h4m-2 -2v4M745.6 112.0h4m-2 -2v4M745.3 109.2h4m-2 -2v4M746.8 109.1h4m-2 -2v4M746.8 112.2h4m-2 -2v4M746.5 112.9h4m-2 -2v4M746.1 117.1h4m-2 -2v4M747.2 110.8h4m-2 -2v4M747.7 112.0h4m-2 -2v4M747.2 112.1h4m-2 -2v4M747.1 116.6h4m-2 -2v4M748.4 113.0h4m-2 -2v4M748.2 113.3h4m-2 -2v4M748.5 114.7h4m-2 -2v4M748.3 107.5h4m-2 -2v4M749.7 116.1h4m-2 -2v4M749.9 114.0h4m-2 -2v4M749.9 115.2h4m-2 -2v4M749.4 110.4h4m-2 -2v4M750.2 116.2h4m-2 -2v4M750.4 115.5h4m-2 -2v4M750.5 119.1h4m-2 -2v4M750.1 113.9h4m-2 -2v4M751.5 116.5h4m-2 -2v4M751.6 115.6h4m-2 -2v4M751.6 113.7h4m-2 -2v4M751.7 110.1h4m-2 -2v4M752.9 115.3h4m-2 -2v4M752.3 113.4h4m-2 -2v4M752.8 116.6h4m-2 -2v4M752.8 113.6h4m-2 -2v4M753.6 110.0h4m-2 -2v4M753.7 113.1h4m-2 -2v4M753.8 113.1h4m-2 -2v4M753.8 113.8h4m-2 -2v4M754.4 113.8h4m-2 -2v4M754.3 112.4h4m-2 -2v4M754.9 109.0h4m-2 -2v4M754.9 109.9h4m-2 -2v4M755.8 112.1h4m-2 -2v4M755.6 112.2h4m-2 -2v4M755.0 114.2h4m-2 -2v4M755.8 112.3h4m-2 -2v4M756.6 113.9h4m-2 -2v4M756.7 112.3h4m-2 -2v4M756.7 111.1h4m-2 -2v4M756.5 115.5h4m-2 -2v4M757.6 111.6h4m-2 -2v4M757.1 111.5h4m-2 -2v4M757.1 112.1h4m-2 -2v4M757.2 113.7h4m-2 -2v4M758.4 111.1h4m-2 -2v4M758.2 112.1h4m-2 -2v4M758.7 110.4h4m-2 -2v4M758.3 112.5h4m-2 -2v4M759.7 107.1h4m-2 -2v4M759.4 110.2h4m-2 -2v4M759.3 110.5h4m-2 -2v4M759.9 111.1h4m-2 -2v4M760.4 110.5h4m-2 -2v4M760.1 113.3h4m-2 -2v4M760.4 112.8h4m-2 -2v4M760.9 109.4h4m-2 -2v4M761.9 111.6h4m-2 -2v4M761.7 114.0h4m-2 -2v4M761.5 109.9h4m-2 -2v4M761.8 110.5h4m-2 -2v4M762.3 112.0h4m-2 -2v4M762.7 108.2h4m-2 -2v4M762.9 110.8h4m-2 -2v4M763.0 113.5h4m-2 -2v4M763.2 114.5h4m-2 -2v4M763.5 109.1h4m-2 -2v4M763.0 113.4h4m-2 -2v4M763.7 108.6h4m-2 -2v4M764.4 115.2h4m-2 -2v4M764.5 112.3h4m-2 -2v4M764.4 111.0h4m-2 -2v4M764.4 110.6h4m-2 -2v4M765.4 112.7h4m-2 -2v4M765.4 114.6h4m-2 -2v4M765.6 112.8h4m-2 -2v4M765.4 113.9h4m-2 -2v4M766.0 113.8h4m-2 -2v4M766.9 113.6h4m-2 -2v4M766.6 116.0h4m-2 -2v4M766.2 114.1h4m-2 -2v4M767.1 111.9h4m-2 -2v4M767.4 112.5h4m-2 -2v4M767.8 108.9h4m-2 -2v4M767.3 108.5h4m-2 -2v4M768.7 110.5h4m-2 -2v4M768.8 111.2h4m-2 -2v4M768.0 110.4h4m-2 -2v4M768.6 110.8h4m-2 -2v4M769.7 112.2h4m-2 -2v4M769.6 110.6h4m-2 -2v4M769.7 106.5h4m-2 -2v4M769.9 111.6h4m-2 -2v4M771.0 110.0h4m-2 -2v4M770.3 108.6h4m-2 -2v4M770.6 109.0h4m-2 -2v4M770.7 107.5h4m-2 -2v4M771.9 107.8h4m-2 -2v4M771.2 105.9h4m-2 -2v4M771.1 106.7h4m-2 -2v4M772.0 108.7h4m-2 -2v4M772.4 105.4h4m-2 -2v4M772.1 105.3h4m-2 -2v4M772.7 108.2h4m-2 -2v4M772.6 104.7h4m-2 -2v4M773.6 105.7h4m-2 -2v4M773.2 104.1h4m-2 -2v4M774.0 102.6h4m-2 -2v4M773.7 102.7h4m-2 -2v4M774.3 103.3h4m-2 -2v4M774.0 105.5h4m-2 -2v4M774.8 100.3h4m-2 -2v4M774.6 99.8h4m-2 -2v4M775.2 103.6h4m-2 -2v4M775.2 102.5h4m-2 -2v4M775.3 101.2h4m-2 -2v4M775.9 97.8h4m-2 -2v4M776.5 101.9h4m-2 -2v4M776.6 96.7h4m-2 -2v4M776.1 101.5h4m-2 -2v4M776.9 99.2h4m-2 -2v4M777.2 99.1h4m-2 -2v4M777.5 98.2h4m-2 -2v4M777.5 97.3h4m-2 -2v4M777.2 98.2h4m-2 -2v4M779.0 99.9h4m-2 -2v4M778.3 94.6h4m-2 -2v4M778.2 95.9h4m-2 -2v4M778.9 100.2h4m-2 -2v4M779.2 99.4h4m-2 -2v4M779.3 102.6h4m-2 -2v4M779.2 96.3h4m-2 -2v4M779.3 96.9h4m-2 -2v4M780.7 99.0h4m-2 -2v4M780.4 99.3h4m-2 -2v4M780.4 99.6h4m-2 -2v4M780.4 99.6h4m-2 -2v4M781.2 100.9h4m-2 -2v4M781.3 95.8h4m-2 -2v4M781.1 99.9h4m-2 -2v4M781.0 98.4h4m-2 -2v4M782.9 98.4h4m-2 -2v4M782.2 103.0h4m-2 -2v4M782.8 99.0h4m-2 -2v4M782.9 102.1h4m-2 -2v4M783.6 104.8h4m-2 -2v4M783.6 98.9h4m-2 -2v4M783.4 99.6h4m-2 -2v4M784.0 99.4h4m-2 -2v4M784.6 99.6h4m-2 -2v4M785.0 102.2h4m-2 -2v4M784.2 101.1h4m-2 -2v4M784.5 99.6h4m-2 -2v4M785.6 98.9h4m-2 -2v4M785.8 97.1h4m-2 -2v4M785.0 99.5h4m-2 -2v4M785.0 96.3h4m-2 -2v4M786.0 96.7h4m-2 -2v4M786.6 98.5h4m-2 -2v4M786.8 96.8h4m-2 -2v4M786.1 95.4h4m-2 -2v4M787.6 97.5h4m-2 -2v4M787.9 95.7h4m-2 -2v4M787.2 98.9h4m-2 -2v4M787.2 98.2h4m-2 -2v4M788.2 94.7h4m-2 -2v4M788.4 98.1h4m-2 -2v4M788.6 98.7h4m-2 -2v4M788.5 97.7h4m-2 -2v4M789.1 96.4h4m-2 -2v4M789.8 96.0h4m-2 -2v4M789.2 100.7h4m-2 -2v4M789.8 97.2h4m-2 -2v4M790.3 96.4h4m-2 -2v4M790.2 95.7h4m-2 -2v4M790.8 93.9h4m-2 -2v4M790.6 95.3h4m-2 -2v4M792.0 96.8h4m-2 -2v4M791.5 96.3h4m-2 -2v4M791.1 96.2h4m-2 -2v4M791.4 95.9h4m-2 -2v4M793.0 93.1h4m-2 -2v4M792.2 95.0h4m-2 -2v4M792.7 96.8h4m-2 -2v4M792.2 94.8h4m-2 -2v4M793.3 89.5h4m-2 -2v4M793.4 92.6h4m-2 -2v4M793.9 90.4h4m-2 -2v4M794.0 92.3h4m-2 -2v4M794.6 98.0h4m-2 -2v4M794.7 92.7h4m-2 -2v4M794.6 91.9h4m-2 -2v4M794.5 90.3h4m-2 -2v4M795.9 92.9h4m-2 -2v4M795.6 96.0h4m-2 -2v4M795.0 91.7h4m-2 -2v4M795.1 94.3h4m-2 -2v4M796.9 94.1h4m-2 -2v4M796.8 92.5h4m-2 -2v4M796.0 95.1h4m-2 -2v4M796.2 92.8h4m-2 -2v4M797.2 92.6h4m-2 -2v4M797.7 92.8h4m-2 -2v4M797.8 94.7h4m-2 -2v4M797.2 98.0h4m-2 -2v4M798.8 96.7h4m-2 -2v4M799.0 93.3h4m-2 -2v4M798.0 94.8h4m-2 -2v4M798.6 93.0h4m-2 -2v4M799.0 93.2h4m-2 -2v4M799.6 91.3h4m-2 -2v4M799.4 95.8h4m-2 -2v4M799.3 93.9h4m-2 -2v4M800.7 94.6h4m-2 -2v4M801.0 89.9h4m-2 -2v4M800.2 95.8h4m-2 -2v4M800.8 92.2h4m-2 -2v4M801.7 92.3h4m-2 -2v4M801.4 95.6h4m-2 -2v4M801.4 92.6h4m-2 -2v4M801.1 92.7h4m-2 -2v4M802.7 96.1h4m-2 -2v4M802.9 89.6h4m-2 -2v4M802.5 94.1h4m-2 -2v4M803.0 96.7h4m-2 -2v4M804.0 97.2h4m-2 -2v4M803.1 96.6h4m-2 -2v4M803.0 90.8h4m-2 -2v4M803.5 94.1h4m-2 -2v4M804.3 95.2h4m-2 -2v4M804.7 94.1h4m-2 -2v4M804.6 92.5h4m-2 -2v4M804.6 91.2h4m-2 -2v4M805.9 94.5h4m-2 -2v4M805.9 90.3h4m-2 -2v4M805.0 89.8h4m-2 -2v4M805.4 91.3h4m-2 -2v4M806.5 93.3h4m-2 -2v4M806.5 96.0h4m-2 -2v4M806.2 92.7h4m-2 -2v4M806.7 95.2h4m-2 -2v4M807.1 91.9h4m-2 -2v4M807.4 92.9h4m-2 -2v4M807.3 93.1h4m-2 -2v4M807.4 92.4h4m-2 -2v4M808.3 96.8h4m-2 -2v4M808.6 91.6h4m-2 -2v4M809.0 91.4h4m-2 -2v4M809.0 96.8h4m-2 -2v4M809.7 95.7h4m-2 -2v4M809.1 96.5h4m-2 -2v4M809.5 93.6h4m-2 -2v4M809.5 96.4h4m-2 -2v4M810.7 91.9h4m-2 -2v4M810.3 95.1h4m-2 -2v4M810.7 96.0h4m-2 -2v4M810.9 91.4h4m-2 -2v4M811.2 93.7h4m-2 -2v4M811.5 92.3h4m-2 -2v4M811.3 93.4h4m-2 -2v4M811.6 94.5h4m-2 -2v4M812.7 93.6h4m-2 -2v4M812.7 90.5h4m-2 -2v4M812.6 95.8h4m-2 -2v4M812.6 91.9h4m-2 -2v4M813.7 94.0h4m-2 -2v4M813.5 92.0h4m-2 -2v4M813.1 90.1h4m-2 -2v4M814.0 95.1h4m-2 -2v4M814.8 91.5h4m-2 -2v4M814.9 92.7h4m-2 -2v4M814.2 92.8h4m-2 -2v4M814.9 92.5h4m-2 -2v4M815.8 88.7h4m-2 -2v4M816.0 91.1h4m-2 -2v4M815.5 92.0h4m-2 -2v4M815.2 88.8h4m-2 -2v4M816.2 86.2h4m-2 -2v4M816.9 87.1h4m-2 -2v4M816.1 90.5h4m-2 -2v4M816.6 88.1h4m-2 -2v4M817.9 89.2h4m-2 -2v4M817.0 85.5h4m-2 -2v4M817.7 86.4h4m-2 -2v4M817.2 89.3h4m-2 -2v4M818.1 87.7h4m-2 -2v4M818.0 85.8h4m-2 -2v4M818.6 82.1h4m-2 -2v4M818.7 84.4h4m-2 -2v4M819.4 82.0h4m-2 -2v4M819.3 80.0h4m-2 -2v4M819.3 84.6h4m-2 -2v4M819.6 82.9h4m-2 -2v4M820.5 78.0h4m-2 -2v4M820.9 77.5h4m-2 -2v4M820.6 80.2h4m-2 -2v4M820.3 76.4h4m-2 -2v4M821.6 79.4h4m-2 -2v4M821.6 76.5h4m-2 -2v4M821.4 74.9h4m-2 -2v4M821.6 78.6h4m-2 -2v4M822.6 73.6h4m-2 -2v4M822.9 75.1h4m-2 -2v4M822.5 75.7h4m-2 -2v4M822.4 73.5h4m-2 -2v4M823.6 74.5h4m-2 -2v4M823.6 76.3h4m-2 -2v4M823.0 75.8h4m-2 -2v4M823.3 73.6h4m-2 -2v4M824.9 74.2h4m-2 -2v4M824.6 70.5h4m-2 -2v4M824.4 72.3h4m-2 -2v4M824.7 74.8h4m-2 -2v4M825.8 70.1h4m-2 -2v4M826.0 72.6h4m-2 -2v4M825.8 73.8h4m-2 -2v4M825.5 72.5h4m-2 -2v4M826.9 75.5h4m-2 -2v4M826.7 71.3h4m-2 -2v4M826.1 71.0h4m-2 -2v4M826.1 69.2h4m-2 -2v4M827.9 72.3h4m-2 -2v4M827.9 72.0h4m-2 -2v4M827.3 70.2h4m-2 -2v4M827.4 72.6h4m-2 -2v4M828.3 74.3h4m-2 -2v4M829.0 70.1h4m-2 -2v4M828.5 73.8h4m-2 -2v4M828.8 72.6h4m-2 -2v4M829.8 69.6h4m-2 -2v4M829.4 65.6h4m-2 -2v4M830.0 66.6h4m-2 -2v4M829.4 69.6h4m-2 -2v4M830.5 66.6h4m-2 -2v4M830.3 68.8h4m-2 -2v4M830.4 67.1h4m-2 -2v4M830.5 67.8h4m-2 -2v4M831.5 64.9h4m-2 -2v4M831.4 65.2h4m-2 -2v4M831.3 67.1h4m-2 -2v4M831.7 62.7h4m-2 -2v4M832.5 67.0h4m-2 -2v4M832.2 65.8h4m-2 -2v4M832.8 60.9h4m-2 -2v4M832.0 65.2h4m-2 -2v4M833.5 62.6h4m-2 -2v4M833.7 62.1h4m-2 -2v4M833.4 62.9h4m-2 -2v4M833.8 63.0h4m-2 -2v4M834.7 60.8h4m-2 -2v4M834.7 61.5h4m-2 -2v4M834.3 64.6h4m-2 -2v4M834.5 59.4h4m-2 -2v4M835.8 63.7h4m-2 -2v4M835.6 60.3h4m-2 -2v4M835.7 62.9h4m-2 -2v4M835.1 59.2h4m-2 -2v4M836.7 60.0h4m-2 -2v4M836.1 61.1h4m-2 -2v4M836.2 57.4h4m-2 -2v4M836.2 58.9h4m-2 -2v4M837.7 64.5h4m-2 -2v4M837.7 63.0h4m-2 -2v4M837.3 63.3h4m-2 -2v4M837.1 62.6h4m-2 -2v4M838.9 60.2h4m-2 -2v4M838.8 64.8h4m-2 -2v4M838.6 65.8h4m-2 -2v4M838.4 59.0h4m-2 -2v4M839.7 61.2h4m-2 -2v4M839.5 60.9h4m-2 -2v4M839.4 61.1h4m-2 -2v4M839.4 63.1h4m-2 -2v4M840.9 61.0h4m-2 -2v4M840.8 61.2h4m-2 -2v4M840.3 61.0h4m-2 -2v4M840.1 58.4h4m-2 -2v4M841.6 64.0h4m-2 -2v4M841.2 57.7h4m-2 -2v4M841.9 59.9h4m-2 -2v4M841.5 60.1h4m-2 -2v4M842.6 60.7h4m-2 -2v4M842.6 61.2h4m-2 -2v4M842.8 56.1h4m-2 -2v4M842.7 60.3h4m-2 -2v4M843.2 57.4h4m-2 -2v4M843.2 60.4h4m-2 -2v4M843.9 55.6h4m-2 -2v4M843.7 60.0h4m-2 -2v4M844.6 54.6h4m-2 -2v4M844.8 56.6h4m-2 -2v4M844.5 59.0h4m-2 -2v4M844.2 60.5h4m-2 -2v4M845.7 60.8h4m-2 -2v4M845.9 60.0h4m-2 -2v4M845.7 58.0h4m-2 -2v4M845.6 59.7h4m-2 -2v4M846.3 59.3h4m-2 -2v4M846.8 58.4h4m-2 -2v4M846.6 61.5h4m-2 -2v4M847.0 59.7h4m-2 -2v4M847.2 59.8h4m-2 -2v4M847.9 61.2h4m-2 -2v4M847.6 58.6h4m-2 -2v4M847.7 59.4h4m-2 -2v4M848.8 56.9h4m-2 -2v4M848.7 57.5h4m-2 -2v4M848.6 56.5h4m-2 -2v4M848.7 57.0h4m-2 -2v4M849.6 56.5h4m-2 -2v4M849.4 58.2h4m-2 -2v4M849.4 59.5h4m-2 -2v4M849.2 57.4h4m-2 -2v4M850.9 57.4h4m-2 -2v4M850.9 61.5h4m-2 -2v4M850.7 55.8h4m-2 -2v4M850.7 56.6h4m-2 -2v4M851.7 63.1h4m-2 -2v4M852.0 59.1h4m-2 -2v4M851.4 54.7h4m-2 -2v4M851.0 58.9h4m-2 -2v4M852.6 54.3h4m-2 -2v4M852.1 50.9h4m-2 -2v4M852.7 54.6h4m-2 -2v4M852.0 52.1h4m-2 -2v4M853.1 52.1h4m-2 -2v4M853.8 53.7h4m-2 -2v4M854.0 52.7h4m-2 -2v4M853.1 50.3h4m-2 -2v4M854.6 47.7h4m-2 -2v4M854.2 49.6h4m-2 -2v4M854.4 51.4h4m-2 -2v4M854.4 49.5h4m-2 -2v4M855.8 48.2h4m-2 -2v4M855.8 55.0h4m-2 -2v4M855.3 49.5h4m-2 -2v4M855.7 51.4h4m-2 -2v4M856.2 43.5h4m-2 -2v4M856.6 46.2h4m-2 -2v4M856.1 45.7h4m-2 -2v4M856.2 47.4h4m-2 -2v4M857.5 49.1h4m-2 -2v4M857.0 48.5h4m-2 -2v4M857.0 47.7h4m-2 -2v4M857.3 48.7h4m-2 -2v4M858.2 46.5h4m-2 -2v4M859.0 47.0h4m-2 -2v4M858.0 50.2h4m-2 -2v4M858.5 48.3h4m-2 -2v4M860.0 48.8h4m-2 -2v4M859.9 50.5h4m-2 -2v4M859.5 43.9h4m-2 -2v4M859.2 50.9h4m-2 -2v4M860.6 43.7h4m-2 -2v4M860.1 48.8h4m-2 -2v4M860.2 45.7h4m-2 -2v4M860.3 50.4h4m-2 -2v4M862.0 48.4h4m-2 -2v4M861.5 44.2h4m-2 -2v4M861.2 47.1h4m-2 -2v4M861.6 47.1h4m-2 -2v4M862.3 44.2h4m-2 -2v4M862.0 46.0h4m-2 -2v4M862.1 44.3h4m-2 -2v4M863.0 44.9h4m-2 -2v4M863.4 44.9h4m-2 -2v4M863.3 45.1h4m-2 -2v4M863.6 42.9h4m-2 -2v4M863.2 48.8h4m-2 -2v4" stroke="#0072BD" stroke-width="1.00" fill="none" clip-path="url(#ca)"/>
<path d="M105.5 411.5L106.0 411.2L106.5 410.9L107.0 410.6L107.5 410.3L108.0 410.0L108.5 409.7L109.0 409.4L109.5 409.0L110.0 408.7L110.5 408.4L111.0 408.0L111.5 407.7L112.0 407.4L112.5 407.0L113.0 406.6L113.5 406.3L114.0 405.9L114.5 405.5L115.0 405.2L115.5 404.8L116.0 404.4L116.5 404.0L117.0 403.6L117.5 403.2L118.0 402.8L118.5 402.4L119.0 402.0L119.5 401.6L120.0 401.2L120.5 400.8L121.0 400.3L121.5 399.9L122.0 399.5L122.5 399.0L123.0 398.6L123.5 398.2L124.0 397.7L124.5 397.2L125.0 396.8L125.5 396.3L126.0 395.9L126.5 395.4L127.0 394.9L127.5 394.5L128.0 394.0L128.5 393.5L129.0 393.0L129.5 392.5L130.0 392.0L130.5 391.5L131.0 391.0L131.5 390.5L132.0 390.0L132.5 389.5L133.0 389.0L133.5 388.5L134.0 388.0L134.5 387.5L135.0 387.0L135.5 386.4L136.0 385.9L136.5 385.4L137.0 384.8L137.5 384.3L138.0 383.8L138.5 383.2L139.0 382.7L139.5 382.1L140.0 381.6L140.5 381.0L141.0 380.5L141.5 379.9L142.0 379.4L142.5 378.8L143.0 378.2L143.5 377.7L144.0 377.1L144.5 376.5L145.0 376.0L145.5 375.4L146.0 374.8L146.5 374.2L147.0 373.7L147.5 373.1L148.0 372.5L148.5 371.9L149.0 371.3L149.5 370.7L150.0 370.1L150.5 369.5L151.0 368.9L151.5 368.3L152.0 367.7L152.5 367.1L153.0 366.5L153.5 365.9L154.0 365.3L154.5 364.7L155.0 364.1L155.5 363.5L156.0 362.9L156.5 362.3L157.0 361.7L157.5 361.1L158.0 360.4L158.5 359.8L159.0 359.2L159.5 358.6L160.0 358.0L160.5 357.3L161.0 356.7L161.5 356.1L162.0 355.5L162.5 354.8L163.0 354.2L163.5 353.6L164.0 353.0L164.5 352.3L165.0 351.7L165.5 351.1L166.0 350.4L166.5 349.8L167.0 349.2L167.5 348.5L168.0 347.9L168.5 347.3L169.0 346.6L169.5 346.0L170.0 345.4L170.5 344.7L171.0 344.1L171.5 343.4L172.0 342.8L172.5 342.2L173.0 341.5L173.5 340.9L174.0 340.2L174.5 339.6L175.0 339.0L175.5 338.3L176.0 337.7L176.5 337.0L177.0 336.4L177.5 335.7L178.0 335.1L178.5 334.5L179.0 333.8L179.5 333.2L180.0 332.5L180.5 331.9L181.0 331.3L181.5 330.6L182.0 330.0L182.5 329.3L183.0 328.7L183.5 328.0L184.0 327.4L184.5 326.8L185.0 326.1L185.5 325.5L186.0 324.8L186.5 324.2L187.0 323.6L187.5 322.9L188.0 322.3L188.5 321.6L189.0 321.0L189.5 320.4L190.0 319.7L190.5 319.1L191.0 318.5L191.5 317.8L192.0 317.2L192.5 316.6L193.0 315.9L193.5 315.3L194.0 314.7L194.5 314.0L195.0 313.4L195.5 312.8L196.0 312.1L196.5 311.5L197.0 310.9L197.5 310.3L198.0 309.6L198.5 309.0L199.0 308.4L199.5 307.8L200.0 307.2L200.5 306.5L201.0 305.9L201.5 305.3L202.0 304.7L202.5 304.1L203.0 303.5L203.5 302.9L204.0 302.3L204.5 301.6L205.0 301.0L205.5 300.4L206.0 299.8L206.5 299.2L207.0 298.6L207.5 298.0L208.0 297.4L208.5 296.8L209.0 296.2L209.5 295.6L210.0 295.1L210.5 294.5L211.0 293.9L211.5 293.3L212.0 292.7L212.5 292.1L213.0 291.6L213.5 291.0L214.0 290.4L214.5 289.8L215.0 289.3L215.5 288.7L216.0 288.1L216.5 287.5L217.0 287.0L217.5 286.4L218.0 285.9L218.5 285.3L219.0 284.8L219.5 284.2L220.0 283.6L220.5 283.1L221.0 282.6L221.5 282.0L222.0 281.5L222.5 280.9L223.0 280.4L223.5 279.9L224.0 279.3L224.5 278.8L225.0 278.3L225.5 277.7L226.0 277.2L226.5 276.7L227.0 276.2L227.5 275.7L228.0 275.1L228.5 274.6L229.0 274.1L229.5 273.6L230.0 273.1L230.5 272.6L231.0 272.1L231.5 271.6L232.0 271.1L232.5 270.6L233.0 270.1L233.5 269.6L234.0 269.1L234.5 268.6L235.0 268.1L235.5 267.7L236.0 267.2L236.5 266.7L237.0 266.2L237.5 265.7L238.0 265.3L238.5 264.8L239.0 264.3L239.5 263.9L240.0 263.4L240.5 262.9L241.0 262.5L241.5 262.0L242.0 261.5L242.5 261.1L243.0 260.6L243.5 260.2L244.0 259.7L244.5 259.3L245.0 258.8L245.5 258.4L246.0 257.9L246.5 257.5L247.0 257.1L247.5 256.6L248.0 256.2L248.5 255.8L249.0 255.3L249.5 254.9L250.0 254.5L250.5 254.0L251.0 253.6L251.5 253.2L252.0 252.8L252.5 252.4L253.0 251.9L253.5 251.5L254.0 251.1L254.5 250.7L255.0 250.3L255.5 249.9L256.0 249.5L256.5 249.1L257.0 248.7L257.5 248.3L258.0 247.9L258.5 247.5L259.0 247.1L259.5 246.7L260.0 246.3L260.5 245.9L261.0 245.5L261.5 245.1L262.0 244.7L262.5 244.4L263.0 244.0L263.5 243.6L264.0 243.2L264.5 242.8L265.0 242.5L265.5 242.1L266.0 241.7L266.5 241.4L267.0 241.0L267.5 240.6L268.0 240.3L268.5 239.9L269.0 239.5L269.5 239.2L270.0 238.8L270.5 238.5L271.0 238.1L271.5 237.8L272.0 237.4L272.5 237.0L273.0 236.7L273.5 236.4L274.0 236.0L274.5 235.7L275.0 235.3L275.5 235.0L276.0 234.6L276.5 234.3L277.0 234.0L277.5 233.6L278.0 233.3L278.5 233.0L279.0 232.6L279.5 232.3L280.0 232.0L280.5 231.7L281.0 231.3L281.5 231.0L282.0 230.7L282.5 230.4L283.0 230.1L283.5 229.7L284.0 229.4L284.5 229.1L285.0 228.8L285.5 228.5L286.0 228.2L286.5 227.9L287.0 227.6L287.5 227.3L288.0 226.9L288.5 226.6L289.0 226.3L289.5 226.0L290.0 225.7L290.5 225.4L291.0 225.2L291.5 224.9L292.0 224.6L292.5 224.3L293.0 224.0L293.5 223.7L294.0 223.4L294.5 223.1L295.0 222.8L295.5 222.6L296.0 222.3L296.5 222.0L297.0 221.7L297.5 221.4L298.0 221.2L298.5 220.9L299.0 220.6L299.5 220.3L300.0 220.1L300.5 219.8L301.0 219.5L301.5 219.2L302.0 219.0L302.5 218.7L303.0 218.4L303.5 218.2L304.0 217.9L304.5 217.7L305.0 217.4L305.5 217.1L306.0 216.9L306.5 216.6L307.0 216.4L307.5 216.1L308.0 215.9L308.5 215.6L309.0 215.4L309.5 215.1L310.0 214.9L310.5 214.6L311.0 214.4L311.5 214.1L312.0 213.9L312.5 213.6L313.0 213.4L313.5 213.2L314.0 212.9L314.5 212.7L315.0 212.4L315.5 212.2L316.0 212.0L316.5 211.7L317.0 211.5L317.5 211.3L318.0 211.0L318.5 210.8L319.0 210.6L319.5 210.4L320.0 210.1L320.5 209.9L321.0 209.7L321.5 209.5L322.0 209.2L322.5 209.0L323.0 208.8L323.5 208.6L324.0 208.4L324.5 208.1L325.0 207.9L325.5 207.7L326.0 207.5L326.5 207.3L327.0 207.1L327.5 206.9L328.0 206.7L328.5 206.5L329.0 206.2L329.5 206.0L330.0 205.8L330.5 205.6L331.0 205.4L331.5 205.2L332.0 205.0L332.5 204.8L333.0 204.6L333.5 204.4L334.0 204.2L334.5 204.0L335.0 203.8L335.5 203.6L336.0 203.4L336.5 203.3L337.0 203.1L337.5 202.9L338.0 202.7L338.5 202.5L339.0 202.3L339.5 202.1L340.0 201.9L340.5 201.7L341.0 201.6L341.5 201.4L342.0 201.2L342.5 201.0L343.0 200.8L343.5 200.7L344.0 200.5L344.5 200.3L345.0 200.1L345.5 199.9L346.0 199.8L346.5 199.6L347.0 199.4L347.5 199.2L348.0 199.1L348.5 198.9L349.0 198.7L349.5 198.6L350.0 198.4L350.5 198.2L351.0 198.1L351.5 197.9L352.0 197.7L352.5 197.6L353.0 197.4L353.5 197.2L354.0 197.1L354.5 196.9L355.0 196.8L355.5 196.6L356.0 196.4L356.5 196.3L357.0 196.1L357.5 196.0L358.0 195.8L358.5 195.6L359.0 195.5L359.5 195.3L360.0 195.2L360.5 195.0L361.0 194.9L361.5 194.7L362.0 194.6L362.5 194.4L363.0 194.3L363.5 194.1L364.0 194.0L364.5 193.8L365.0 193.7L365.5 193.5L366.0 193.4L366.5 193.3L367.0 193.1L367.5 193.0L368.0 192.8L368.5 192.7L369.0 192.5L369.5 192.4L370.0 192.3L370.5 192.1L371.0 192.0L371.5 191.9L372.0 191.7L372.5 191.6L373.0 191.4L373.5 191.3L374.0 191.2L374.5 191.0L375.0 190.9L375.5 190.8L376.0 190.6L376.5 190.5L377.0 190.4L377.5 190.3L378.0 190.1L378.5 190.0L379.0 189.9L379.5 189.7L380.0 189.6L380.5 189.5L381.0 189.4L381.5 189.2L382.0 189.1L382.5 189.0L383.0 188.9L383.5 188.7L384.0 188.6L384.5 188.5L385.0 188.4L385.5 188.3L386.0 188.1L386.5 188.0L387.0 187.9L387.5 187.8L388.0 187.7L388.5 187.5L389.0 187.4L389.5 187.3L390.0 187.2L390.5 187.1L391.0 187.0L391.5 186.8L392.0 186.7L392.5 186.6L393.0 186.5L393.5 186.4L394.0 186.3L394.5 186.2L395.0 186.1L395.5 185.9L396.0 185.8L396.5 185.7L397.0 185.6L397.5 185.5L398.0 185.4L398.5 185.3L399.0 185.2L399.5 185.1L400.0 185.0L400.5 184.9L401.0 184.8L401.5 184.6L402.0 184.5L402.5 184.4L403.0 184.3L403.5 184.2L404.0 184.1L404.5 184.0L405.0 183.9L405.5 183.8L406.0 183.7L406.5 183.6L407.0 183.5L407.5 183.4L408.0 183.3L408.5 183.2L409.0 183.1L409.5 183.0L410.0 182.9L410.5 182.8L411.0 182.7L411.5 182.6L412.0 182.5L412.5 182.4L413.0 182.3L413.5 182.2L414.0 182.1L414.5 182.0L415.0 181.9L415.5 181.8L416.0 181.8L416.5 181.7L417.0 181.6L417.5 181.5L418.0 181.4L418.5 181.3L419.0 181.2L419.5 181.1L420.0 181.0L420.5 180.9L421.0 180.8L421.5 180.7L422.0 180.7L422.5 180.6L423.0 180.5L423.5 180.4L424.0 180.3L424.5 180.2L425.0 180.1L425.5 180.0L426.0 179.9L426.5 179.9L427.0 179.8L427.5 179.7L428.0 179.6L428.5 179.5L429.0 179.4L429.5 179.3L430.0 179.3L430.5 179.2L431.0 179.1L431.5 179.0L432.0 178.9L432.5 178.9L433.0 178.8L433.5 178.7L434.0 178.6L434.5 178.5L435.0 178.4L435.5 178.4L436.0 178.3L436.5 178.2L437.0 178.1L437.5 178.0L438.0 178.0L438.5 177.9L439.0 177.8L439.5 177.7L440.0 177.7L440.5 177.6L441.0 177.5L441.5 177.4L442.0 177.4L442.5 177.3L443.0 177.2L443.5 177.1L444.0 177.1L444.5 177.0L445.0 176.9L445.5 176.8L446.0 176.8L446.5 176.7L447.0 176.6L447.5 176.5L448.0 176.5L448.5 176.4L449.0 176.3L449.5 176.3L450.0 176.2L450.5 176.1L451.0 176.0L451.5 176.0L452.0 175.9L452.5 175.8L453.0 175.8L453.5 175.7L454.0 175.6L454.5 175.6L455.0 175.5L455.5 175.4L456.0 175.4L456.5 175.3L457.0 175.2L457.5 175.2L458.0 175.1L458.5 175.0L459.0 175.0L459.5 174.9L460.0 174.8L460.5 174.8L461.0 174.7L461.5 174.6L462.0 174.6L462.5 174.5L463.0 174.4L463.5 174.4L464.0 174.3L464.5 174.3L465.0 174.2L465.5 174.1L466.0 174.1L466.5 174.0L467.0 173.9L467.5 173.9L468.0 173.8L468.5 173.8L469.0 173.7L469.5 173.6L470.0 173.6L470.5 173.5L471.0 173.5L471.5 173.4L472.0 173.4L472.5 173.3L473.0 173.2L473.5 173.2L474.0 173.1L474.5 173.1L475.0 173.0L475.5 172.9L476.0 172.9L476.5 172.8L477.0 172.8L477.5 172.7L478.0 172.7L478.5 172.6L479.0 172.6L479.5 172.5L480.0 172.4L480.5 172.4L481.0 172.3L481.5 172.3L482.0 172.2L482.5 172.2L483.0 172.1L483.5 172.1L484.0 172.0L484.5 172.0L485.0 171.9L485.5 171.9L486.0 171.8L486.5 171.8L487.0 171.7L487.5 171.7L488.0 171.6L488.5 171.6L489.0 171.5L489.5 171.5L490.0 171.4L490.5 171.4L491.0 171.3L491.5 171.3L492.0 171.2L492.5 171.2L493.0 171.1L493.5 171.1L494.0 171.0L494.5 171.0L495.0 170.9L495.5 170.9L496.0 170.8L496.5 170.8L497.0 170.7L497.5 170.7L498.0 170.6L498.5 170.6L499.0 170.5L499.5 170.5L500.0 170.4L500.5 170.4L501.0 170.3L501.5 170.3L502.0 170.3L502.5 170.2L503.0 170.2L503.5 170.1L504.0 170.1L504.5 170.0L505.0 170.0L505.5 169.9L506.0 169.9L506.5 169.9L507.0 169.8L507.5 169.8L508.0 169.7L508.5 169.7L509.0 169.6L509.5 169.6L510.0 169.6L510.5 169.5L511.0 169.5L511.5 169.4L512.0 169.4L512.5 169.3L513.0 169.3L513.5 169.3L514.0 169.2L514.5 169.2L515.0 169.1L515.5 169.1L516.0 169.0L516.5 169.0L517.0 169.0L517.5 168.9L518.0 168.9L518.5 168.8L519.0 168.8L519.5 168.8L520.0 168.7L520.5 168.7L521.0 168.6L521.5 168.6L522.0 168.6L522.5 168.5L523.0 168.5L523.5 168.5L524.0 168.4L524.5 168.4L525.0 168.3L525.5 168.3L526.0 168.3L526.5 168.2L527.0 168.2L527.5 168.1L528.0 168.1L528.5 168.1L529.0 168.0L529.5 168.0L530.0 168.0L530.5 167.9L531.0 167.9L531.5 167.8L532.0 167.8L532.5 167.8L533.0 167.7L533.5 167.7L534.0 167.7L534.5 167.6L535.0 167.6L535.5 167.6L536.0 167.5L536.5 167.5L537.0 167.4L537.5 167.4L538.0 167.4L538.5 167.3L539.0 167.3L539.5 167.3L540.0 167.2L540.5 167.2L541.0 167.2L541.5 167.1L542.0 167.1L542.5 167.1L543.0 167.0L543.5 167.0L544.0 167.0L544.5 166.9L545.0 166.9L545.5 166.9L546.0 166.8L546.5 166.8L547.0 166.7L547.5 166.7L548.0 166.7L548.5 166.6L549.0 166.6L549.5 166.6L550.0 166.5L550.5 166.5L551.0 166.5L551.5 166.4L552.0 166.4L552.5 166.4L553.0 166.3L553.5 166.3L554.0 166.3L554.5 166.2L555.0 166.2L555.5 166.2L556.0 166.1L556.5 166.1L557.0 166.1L557.5 166.0L558.0 166.0L558.5 166.0L559.0 166.0L559.5 165.9L560.0 165.9L560.5 165.9L561.0 165.8L561.5 165.8L562.0 165.8L562.5 165.7L563.0 165.7L563.5 165.7L564.0 165.6L564.5 165.6L565.0 165.6L565.5 165.5L566.0 165.5L566.5 165.5L567.0 165.4L567.5 165.4L568.0 165.4L568.5 165.3L569.0 165.3L569.5 165.3L570.0 165.2L570.5 165.2L571.0 165.2L571.5 165.1L572.0 165.1L572.5 165.1L573.0 165.0L573.5 165.0L574.0 165.0L574.5 165.0L575.0 164.9L575.5 164.9L576.0 164.9L576.5 164.8L577.0 164.8L577.5 164.8L578.0 164.7L578.5 164.7L579.0 164.7L579.5 164.6L580.0 164.6L580.5 164.6L581.0 164.5L581.5 164.5L582.0 164.5L582.5 164.4L583.0 164.4L583.5 164.4L584.0 164.3L584.5 164.3L585.0 164.3L585.5 164.3L586.0 164.2L586.5 164.2L587.0 164.2L587.5 164.1L588.0 164.1L588.5 164.1L589.0 164.0L589.5 164.0L590.0 164.0L590.5 163.9L591.0 163.9L591.5 163.9L592.0 163.8L592.5 163.8L593.0 163.8L593.5 163.7L594.0 163.7L594.5 163.7L595.0 163.6L595.5 163.6L596.0 163.6L596.5 163.5L597.0 163.5L597.5 163.5L598.0 163.4L598.5 163.4L599.0 163.4L599.5 163.3L600.0 163.3L600.5 163.3L601.0 163.2L601.5 163.2L602.0 163.2L602.5 163.1L603.0 163.1L603.5 163.1L604.0 163.0L604.5 163.0L605.0 163.0L605.5 162.9L606.0 162.9L606.5 162.9L607.0 162.8L607.5 162.8L608.0 162.8L608.5 162.7L609.0 162.7L609.5 162.7L610.0 162.6L610.5 162.6L611.0 162.6L611.5 162.5L612.0 162.5L612.5 162.5L613.0 162.4L613.5 162.4L614.0 162.4L614.5 162.3L615.0 162.3L615.5 162.3L616.0 162.2L616.5 162.2L617.0 162.2L617.5 162.1L618.0 162.1L618.5 162.0L619.0 162.0L619.5 162.0L620.0 161.9L620.5 161.9L621.0 161.9L621.5 161.8L622.0 161.8L622.5 161.8L623.0 161.7L623.5 161.7L624.0 161.6L624.5 161.6L625.0 161.6L625.5 161.5L626.0 161.5L626.5 161.5L627.0 161.4L627.5 161.4L628.0 161.3L628.5 161.3L629.0 161.3L629.5 161.2L630.0 161.2L630.5 161.2L631.0 161.1L631.5 161.1L632.0 161.0L632.5 161.0L633.0 161.0L633.5 160.9L634.0 160.9L634.5 160.8L635.0 160.8L635.5 160.8L636.0 160.7L636.5 160.7L637.0 160.6L637.5 160.6L638.0 160.6L638.5 160.5L639.0 160.5L639.5 160.4L640.0 160.4L640.5 160.4L641.0 160.3L641.5 160.3L642.0 160.2L642.5 160.2L643.0 160.2L643.5 160.1L644.0 160.1L644.5 160.0L645.0 160.0L645.5 159.9L646.0 159.9L646.5 159.9L647.0 159.8L647.5 159.8L648.0 159.7L648.5 159.7L649.0 159.6L649.5 159.6L650.0 159.6L650.5 159.5L651.0 159.5L651.5 159.4L652.0 159.4L652.5 159.3L653.0 159.3L653.5 159.2L654.0 159.2L654.5 159.1L655.0 159.1L655.5 159.1L656.0 159.0L656.5 159.0L657.0 158.9L657.5 158.9L658.0 158.8L658.5 158.8L659.0 158.7L659.5 158.7L660.0 158.6L660.5 158.6L661.0 158.5L661.5 158.5L662.0 158.4L662.5 158.4L663.0 158.3L663.5 158.3L664.0 158.2L664.5 158.2L665.0 158.1L665.5 158.1L666.0 158.0L666.5 158.0L667.0 157.9L667.5 157.9L668.0 157.8L668.5 157.8L669.0 157.7L669.5 157.7L670.0 157.6L670.5 157.6L671.0 157.5L671.5 157.5L672.0 157.4L672.5 157.4L673.0 157.3L673.5 157.3L674.0 157.2L674.5 157.2L675.0 157.1L675.5 157.0L676.0 157.0L676.5 156.9L677.0 156.9L677.5 156.8L678.0 156.8L678.5 156.7L679.0 156.7L679.5 156.6L680.0 156.5L680.5 156.5L681.0 156.4L681.5 156.4L682.0 156.3L682.5 156.3L683.0 156.2L683.5 156.1L684.0 156.1L684.5 156.0L685.0 156.0L685.5 155.9L686.0 155.8L686.5 155.8L687.0 155.7L687.5 155.7L688.0 155.6L688.5 155.5L689.0 155.5L689.5 155.4L690.0 155.4L690.5 155.3L691.0 155.2L691.5 155.2L692.0 155.1L692.5 155.0L693.0 155.0L693.5 154.9L694.0 154.9L694.5 154.8L695.0 154.7L695.5 154.7L696.0 154.6L696.5 154.5L697.0 154.5L697.5 154.4L698.0 154.3L698.5 154.3L699.0 154.2L699.5 154.1L700.0 154.1L700.5 154.0L701.0 153.9L701.5 153.9L702.0 153.8L702.5 153.7L703.0 153.7L703.5 153.6L704.0 153.5L704.5 153.5L705.0 153.4L705.5 153.3L706.0 153.3L706.5 153.2L707.0 153.1L707.5 153.0L708.0 153.0L708.5 152.9L709.0 152.8L709.5 152.8L710.0 152.7L710.5 152.6L711.0 152.5L711.5 152.5L712.0 152.4L712.5 152.3L713.0 152.3L713.5 152.2L714.0 152.1L714.5 152.0L715.0 152.0L715.5 151.9L716.0 151.8L716.5 151.7L717.0 151.7L717.5 151.6L718.0 151.5L718.5 151.4L719.0 151.3L719.5 151.3L720.0 151.2L720.5 151.1L721.0 151.0L721.5 151.0L722.0 150.9L722.5 150.8L723.0 150.7L723.5 150.6L724.0 150.6L724.5 150.5L725.0 150.4L725.5 150.3L726.0 150.2L726.5 150.2L727.0 150.1L727.5 150.0L728.0 149.9L728.5 149.8L729.0 149.8L729.5 149.7L730.0 149.6L730.5 149.5L731.0 149.4L731.5 149.3L732.0 149.3L732.5 149.2L733.0 149.1L733.5 149.0L734.0 148.9L734.5 148.8L735.0 148.7L735.5 148.7L736.0 148.6L736.5 148.5L737.0 148.4L737.5 148.3L738.0 148.2L738.5 148.1L739.0 148.0L739.5 148.0L740.0 147.9L740.5 147.8L741.0 147.7L741.5 147.6L742.0 147.5L742.5 147.4L743.0 147.3L743.5 147.2L744.0 147.1L744.5 147.1L745.0 147.0L745.5 146.9L746.0 146.8L746.5 146.7L747.0 146.6L747.5 146.5L748.0 146.4L748.5 146.3L749.0 146.2L749.5 146.1L750.0 146.0L750.5 145.9L751.0 145.8L751.5 145.7L752.0 145.7L752.5 145.6L753.0 145.5L753.5 145.4L754.0 145.3L754.5 145.2L755.0 145.1L755.5 145.0L756.0 144.9L756.5 144.8L757.0 144.7L757.5 144.6L758.0 144.5L758.5 144.4L759.0 144.3L759.5 144.2L760.0 144.1L760.5 144.0L761.0 143.9L761.5 143.8L762.0 143.7L762.5 143.6L763.0 143.5L763.5 143.4L764.0 143.3L764.5 143.2L765.0 143.1L765.5 143.0L766.0 142.8L766.5 142.7L767.0 142.6L767.5 142.5L768.0 142.4L768.5 142.3L769.0 142.2L769.5 142.1L770.0 142.0L770.5 141.9L771.0 141.8L771.5 141.7L772.0 141.6L772.5 141.5L773.0 141.4L773.5 141.3L774.0 141.1L774.5 141.0L775.0 140.9L775.5 140.8L776.0 140.7L776.5 140.6L777.0 140.5L777.5 140.4L778.0 140.3L778.5 140.1L779.0 140.0L779.5 139.9L780.0 139.8L780.5 139.7L781.0 139.6L781.5 139.5L782.0 139.4L782.5 139.2L783.0 139.1L783.5 139.0L784.0 138.9L784.5 138.8L785.0 138.7L785.5 138.5L786.0 138.4L786.5 138.3L787.0 138.2L787.5 138.1L788.0 138.0L788.5 137.8L789.0 137.7L789.5 137.6L790.0 137.5L790.5 137.4L791.0 137.2L791.5 137.1L792.0 137.0L792.5 136.9L793.0 136.8L793.5 136.6L794.0 136.5L794.5 136.4L795.0 136.3L795.5 136.1L796.0 136.0L796.5 135.9L797.0 135.8L797.5 135.6L798.0 135.5L798.5 135.4L799.0 135.3L799.5 135.1L800.0 135.0L800.5 134.9L801.0 134.8L801.5 134.6L802.0 134.5L802.5 134.4L803.0 134.3L803.5 134.1L804.0 134.0L804.5 133.9L805.0 133.7L805.5 133.6L806.0 133.5L806.5 133.4L807.0 133.2L807.5 133.1L808.0 133.0L808.5 132.8L809.0 132.7L809.5 132.6L810.0 132.4L810.5 132.3L811.0 132.2L811.5 132.0L812.0 131.9L812.5 131.8L813.0 131.6L813.5 131.5L814.0 131.4L814.5 131.2L815.0 131.1L815.5 131.0L816.0 130.8L816.5 130.7L817.0 130.5L817.5 130.4L818.0 130.3L818.5 130.1L819.0 130.0L819.5 129.8L820.0 129.7L820.5 129.6L821.0 129.4L821.5 129.3L822.0 129.1L822.5 129.0L823.0 128.9L823.5 128.7L824.0 128.6L824.5 128.4L825.0 128.3L825.5 128.1L826.0 128.0L826.5 127.9L827.0 127.7L827.5 127.6L828.0 127.4L828.5 127.3L829.0 127.1L829.5 127.0L830.0 126.8L830.5 126.7L831.0 126.5L831.5 126.4L832.0 126.3L832.5 126.1L833.0 126.0L833.5 125.8L834.0 125.7L834.5 125.5L835.0 125.4L835.5 125.2L836.0 125.1L836.5 124.9L837.0 124.8L837.5 124.6L838.0 124.4L838.5 124.3L839.0 124.1L839.5 124.0L840.0 123.8L840.5 123.7L841.0 123.5L841.5 123.4L842.0 123.2L842.5 123.1L843.0 122.9L843.5 122.7L844.0 122.6L844.5 122.4L845.0 122.3L845.5 122.1L846.0 122.0L846.5 121.8L847.0 121.6L847.5 121.5L848.0 121.3L848.5 121.2L849.0 121.0L849.5 120.8L850.0 120.7L850.5 120.5L851.0 120.4L851.5 120.2L852.0 120.0L852.5 119.9L853.0 119.7L853.5 119.5L854.0 119.4L854.5 119.2L855.0 119.1L855.5 118.9L856.0 118.7L856.5 118.6L857.0 118.4L857.5 118.2L858.0 118.1L858.5 117.9L859.0 117.7L859.5 117.6L860.0 117.4L860.5 117.2L861.0 117.0L861.5 116.9L862.0 116.7L862.5 116.5L863.0 116.4L863.5 116.2L864.0 116.0L864.5 115.9L865.0 115.7L865.5 115.5L866.0 115.3" stroke="#D95319" stroke-width="2.5" fill="none" stroke-linejoin="round" clip-path="url(#ca)"/>
<path d="M105.5 411.5L106.0 411.3L106.5 411.0L107.0 410.7L107.5 410.4L108.0 410.2L108.5 409.8L109.0 409.5L109.5 409.2L110.0 408.9L110.5 408.5L111.0 408.1L111.5 407.8L112.0 407.4L112.5 407.0L113.0 406.5L113.5 406.1L114.0 405.7L114.5 405.2L115.0 404.8L115.5 404.3L116.0 403.8L116.5 403.3L117.0 402.8L117.5 402.3L118.0 401.8L118.5 401.3L119.0 400.7L119.5 400.2L120.0 399.6L120.5 399.1L121.0 398.5L121.5 397.9L122.0 397.3L122.5 396.7L123.0 396.1L123.5 395.5L124.0 394.8L124.5 394.2L125.0 393.5L125.5 392.9L126.0 392.2L126.5 391.5L127.0 390.9L127.5 390.2L128.0 389.5L128.5 388.8L129.0 388.1L129.5 387.3L130.0 386.6L130.5 385.9L131.0 385.1L131.5 384.4L132.0 383.6L132.5 382.9L133.0 382.1L133.5 381.3L134.0 380.5L134.5 379.7L135.0 378.9L135.5 378.1L136.0 377.3L136.5 376.5L137.0 375.7L137.5 374.9L138.0 374.1L138.5 373.2L139.0 372.4L139.5 371.5L140.0 370.7L140.5 369.8L141.0 369.0L141.5 368.1L142.0 367.2L142.5 366.4L143.0 365.5L143.5 364.6L144.0 363.7L144.5 362.8L145.0 361.9L145.5 361.0L146.0 360.1L146.5 359.2L147.0 358.3L147.5 357.4L148.0 356.5L148.5 355.6L149.0 354.7L149.5 353.8L150.0 352.8L150.5 351.9L151.0 351.0L151.5 350.0L152.0 349.1L152.5 348.2L153.0 347.2L153.5 346.3L154.0 345.3L154.5 344.4L155.0 343.5L155.5 342.5L156.0 341.6L156.5 340.6L157.0 339.7L157.5 338.7L158.0 337.7L158.5 336.8L159.0 335.8L159.5 334.9L160.0 333.9L160.5 333.0L161.0 332.0L161.5 331.0L162.0 330.1L162.5 329.1L163.0 328.1L163.5 327.2L164.0 326.2L164.5 325.2L165.0 324.3L165.5 323.3L166.0 322.4L166.5 321.4L167.0 320.4L167.5 319.5L168.0 318.5L168.5 317.5L169.0 316.6L169.5 315.6L170.0 314.6L170.5 313.7L171.0 312.7L171.5 311.8L172.0 310.8L172.5 309.9L173.0 308.9L173.5 307.9L174.0 307.0L174.5 306.0L175.0 305.1L175.5 304.1L176.0 303.2L176.5 302.2L177.0 301.3L177.5 300.4L178.0 299.4L178.5 298.5L179.0 297.6L179.5 296.6L180.0 295.7L180.5 294.8L181.0 293.8L181.5 292.9L182.0 292.0L182.5 291.1L183.0 290.2L183.5 289.3L184.0 288.3L184.5 287.4L185.0 286.5L185.5 285.6L186.0 284.7L186.5 283.8L187.0 283.0L187.5 282.1L188.0 281.2L188.5 280.3L189.0 279.4L189.5 278.6L190.0 277.7L190.5 276.8L191.0 276.0L191.5 275.1L192.0 274.3L192.5 273.4L193.0 272.6L193.5 271.8L194.0 270.9L194.5 270.1L195.0 269.3L195.5 268.5L196.0 267.6L196.5 266.8L197.0 266.0L197.5 265.2L198.0 264.4L198.5 263.7L199.0 262.9L199.5 262.1L200.0 261.3L200.5 260.6L201.0 259.8L201.5 259.0L202.0 258.3L202.5 257.5L203.0 256.8L203.5 256.0L204.0 255.3L204.5 254.6L205.0 253.8L205.5 253.1L206.0 252.4L206.5 251.7L207.0 251.0L207.5 250.3L208.0 249.6L208.5 248.9L209.0 248.2L209.5 247.5L210.0 246.8L210.5 246.1L211.0 245.5L211.5 244.8L212.0 244.1L212.5 243.5L213.0 242.8L213.5 242.1L214.0 241.5L214.5 240.8L215.0 240.2L215.5 239.6L216.0 238.9L216.5 238.3L217.0 237.7L217.5 237.1L218.0 236.4L218.5 235.8L219.0 235.2L219.5 234.6L220.0 234.0L220.5 233.4L221.0 232.8L221.5 232.2L222.0 231.6L222.5 231.0L223.0 230.5L223.5 229.9L224.0 229.3L224.5 228.7L225.0 228.2L225.5 227.6L226.0 227.0L226.5 226.5L227.0 225.9L227.5 225.4L228.0 224.8L228.5 224.3L229.0 223.8L229.5 223.2L230.0 222.7L230.5 222.2L231.0 221.6L231.5 221.1L232.0 220.6L232.5 220.1L233.0 219.6L233.5 219.0L234.0 218.5L234.5 218.0L235.0 217.5L235.5 217.0L236.0 216.5L236.5 216.0L237.0 215.5L237.5 215.1L238.0 214.6L238.5 214.1L239.0 213.6L239.5 213.1L240.0 212.7L240.5 212.2L241.0 211.7L241.5 211.3L242.0 210.8L242.5 210.3L243.0 209.9L243.5 209.4L244.0 209.0L244.5 208.5L245.0 208.1L245.5 207.6L246.0 207.2L246.5 206.8L247.0 206.3L247.5 205.9L248.0 205.5L248.5 205.0L249.0 204.6L249.5 204.2L250.0 203.7L250.5 203.3L251.0 202.9L251.5 202.5L252.0 202.1L252.5 201.7L253.0 201.3L253.5 200.9L254.0 200.5L254.5 200.0L255.0 199.7L255.5 199.3L256.0 198.9L256.5 198.5L257.0 198.1L257.5 197.7L258.0 197.3L258.5 196.9L259.0 196.5L259.5 196.2L260.0 195.8L260.5 195.4L261.0 195.0L261.5 194.7L262.0 194.3L262.5 193.9L263.0 193.6L263.5 193.2L264.0 192.9L264.5 192.5L265.0 192.1L265.5 191.8L266.0 191.4L266.5 191.1L267.0 190.7L267.5 190.4L268.0 190.1L268.5 189.7L269.0 189.4L269.5 189.1L270.0 188.7L270.5 188.4L271.0 188.1L271.5 187.7L272.0 187.4L272.5 187.1L273.0 186.8L273.5 186.5L274.0 186.1L274.5 185.8L275.0 185.5L275.5 185.2L276.0 184.9L276.5 184.6L277.0 184.3L277.5 184.0L278.0 183.7L278.5 183.4L279.0 183.1L279.5 182.8L280.0 182.5L280.5 182.2L281.0 182.0L281.5 181.7L282.0 181.4L282.5 181.1L283.0 180.8L283.5 180.6L284.0 180.3L284.5 180.0L285.0 179.8L285.5 179.5L286.0 179.2L286.5 179.0L287.0 178.7L287.5 178.4L288.0 178.2L288.5 177.9L289.0 177.7L289.5 177.4L290.0 177.2L290.5 176.9L291.0 176.7L291.5 176.5L292.0 176.2L292.5 176.0L293.0 175.7L293.5 175.5L294.0 175.3L294.5 175.1L295.0 174.8L295.5 174.6L296.0 174.4L296.5 174.2L297.0 173.9L297.5 173.7L298.0 173.5L298.5 173.3L299.0 173.1L299.5 172.9L300.0 172.7L300.5 172.5L301.0 172.2L301.5 172.0L302.0 171.8L302.5 171.6L303.0 171.4L303.5 171.3L304.0 171.1L304.5 170.9L305.0 170.7L305.5 170.5L306.0 170.3L306.5 170.1L307.0 169.9L307.5 169.8L308.0 169.6L308.5 169.4L309.0 169.2L309.5 169.1L310.0 168.9L310.5 168.7L311.0 168.6L311.5 168.4L312.0 168.2L312.5 168.1L313.0 167.9L313.5 167.7L314.0 167.6L314.5 167.4L315.0 167.3L315.5 167.1L316.0 167.0L316.5 166.8L317.0 166.7L317.5 166.5L318.0 166.4L318.5 166.2L319.0 166.1L319.5 165.9L320.0 165.8L320.5 165.7L321.0 165.5L321.5 165.4L322.0 165.3L322.5 165.1L323.0 165.0L323.5 164.9L324.0 164.7L324.5 164.6L325.0 164.5L325.5 164.4L326.0 164.2L326.5 164.1L327.0 164.0L327.5 163.9L328.0 163.8L328.5 163.6L329.0 163.5L329.5 163.4L330.0 163.3L330.5 163.2L331.0 163.1L331.5 163.0L332.0 162.9L332.5 162.8L333.0 162.7L333.5 162.5L334.0 162.4L334.5 162.3L335.0 162.2L335.5 162.1L336.0 162.0L336.5 161.9L337.0 161.8L337.5 161.7L338.0 161.7L338.5 161.6L339.0 161.5L339.5 161.4L340.0 161.3L340.5 161.2L341.0 161.1L341.5 161.0L342.0 160.9L342.5 160.8L343.0 160.8L343.5 160.7L344.0 160.6L344.5 160.5L345.0 160.4L345.5 160.3L346.0 160.3L346.5 160.2L347.0 160.1L347.5 160.0L348.0 160.0L348.5 159.9L349.0 159.8L349.5 159.7L350.0 159.7L350.5 159.6L351.0 159.5L351.5 159.4L352.0 159.4L352.5 159.3L353.0 159.2L353.5 159.2L354.0 159.1L354.5 159.0L355.0 159.0L355.5 158.9L356.0 158.8L356.5 158.8L357.0 158.7L357.5 158.7L358.0 158.6L358.5 158.5L359.0 158.5L359.5 158.4L360.0 158.4L360.5 158.3L361.0 158.3L361.5 158.2L362.0 158.2L362.5 158.1L363.0 158.1L363.5 158.0L364.0 157.9L364.5 157.9L365.0 157.8L365.5 157.8L366.0 157.8L366.5 157.7L367.0 157.7L367.5 157.6L368.0 157.6L368.5 157.5L369.0 157.5L369.5 157.4L370.0 157.4L370.5 157.4L371.0 157.3L371.5 157.3L372.0 157.2L372.5 157.2L373.0 157.2L373.5 157.1L374.0 157.1L374.5 157.0L375.0 157.0L375.5 157.0L376.0 156.9L376.5 156.9L377.0 156.9L377.5 156.8L378.0 156.8L378.5 156.8L379.0 156.7L379.5 156.7L380.0 156.7L380.5 156.7L381.0 156.6L381.5 156.6L382.0 156.6L382.5 156.5L383.0 156.5L383.5 156.5L384.0 156.5L384.5 156.4L385.0 156.4L385.5 156.4L386.0 156.4L386.5 156.4L387.0 156.3L387.5 156.3L388.0 156.3L388.5 156.3L389.0 156.2L389.5 156.2L390.0 156.2L390.5 156.2L391.0 156.2L391.5 156.2L392.0 156.1L392.5 156.1L393.0 156.1L393.5 156.1L394.0 156.1L394.5 156.1L395.0 156.0L395.5 156.0L396.0 156.0L396.5 156.0L397.0 156.0L397.5 156.0L398.0 156.0L398.5 156.0L399.0 155.9L399.5 155.9L400.0 155.9L400.5 155.9L401.0 155.9L401.5 155.9L402.0 155.9L402.5 155.9L403.0 155.9L403.5 155.9L404.0 155.9L404.5 155.8L405.0 155.8L405.5 155.8L406.0 155.8L406.5 155.8L407.0 155.8L407.5 155.8L408.0 155.8L408.5 155.8L409.0 155.8L409.5 155.8L410.0 155.8L410.5 155.8L411.0 155.8L411.5 155.8L412.0 155.8L412.5 155.8L413.0 155.8L413.5 155.8L414.0 155.8L414.5 155.8L415.0 155.8L415.5 155.8L416.0 155.8L416.5 155.8L417.0 155.8L417.5 155.8L418.0 155.8L418.5 155.8L419.0 155.8L419.5 155.8L420.0 155.8L420.5 155.8L421.0 155.8L421.5 155.8L422.0 155.8L422.5 155.8L423.0 155.8L423.5 155.8L424.0 155.8L424.5 155.8L425.0 155.8L425.5 155.8L426.0 155.8L426.5 155.8L427.0 155.8L427.5 155.8L428.0 155.8L428.5 155.8L429.0 155.8L429.5 155.8L430.0 155.8L430.5 155.8L431.0 155.9L431.5 155.9L432.0 155.9L432.5 155.9L433.0 155.9L433.5 155.9L434.0 155.9L434.5 155.9L435.0 155.9L435.5 155.9L436.0 155.9L436.5 155.9L437.0 155.9L437.5 155.9L438.0 155.9L438.5 155.9L439.0 155.9L439.5 155.9L440.0 156.0L440.5 156.0L441.0 156.0L441.5 156.0L442.0 156.0L442.5 156.0L443.0 156.0L443.5 156.0L444.0 156.0L444.5 156.0L445.0 156.0L445.5 156.0L446.0 156.0L446.5 156.0L447.0 156.0L447.5 156.0L448.0 156.0L448.5 156.0L449.0 156.1L449.5 156.1L450.0 156.1L450.5 156.1L451.0 156.1L451.5 156.1L452.0 156.1L452.5 156.1L453.0 156.1L453.5 156.1L454.0 156.1L454.5 156.1L455.0 156.1L455.5 156.1L456.0 156.1L456.5 156.1L457.0 156.1L457.5 156.2L458.0 156.2L458.5 156.2L459.0 156.2L459.5 156.2L460.0 156.2L460.5 156.2L461.0 156.2L461.5 156.2L462.0 156.2L462.5 156.2L463.0 156.2L463.5 156.2L464.0 156.2L464.5 156.2L465.0 156.2L465.5 156.2L466.0 156.2L466.5 156.2L467.0 156.3L467.5 156.3L468.0 156.3L468.5 156.3L469.0 156.3L469.5 156.3L470.0 156.3L470.5 156.3L471.0 156.3L471.5 156.3L472.0 156.3L472.5 156.3L473.0 156.3L473.5 156.3L474.0 156.3L474.5 156.3L475.0 156.3L475.5 156.3L476.0 156.3L476.5 156.4L477.0 156.4L477.5 156.4L478.0 156.4L478.5 156.4L479.0 156.4L479.5 156.4L480.0 156.4L480.5 156.4L481.0 156.4L481.5 156.4L482.0 156.4L482.5 156.4L483.0 156.4L483.5 156.4L484.0 156.4L484.5 156.4L485.0 156.4L485.5 156.4L486.0 156.4L486.5 156.4L487.0 156.4L487.5 156.4L488.0 156.5L488.5 156.5L489.0 156.5L489.5 156.5L490.0 156.5L490.5 156.5L491.0 156.5L491.5 156.5L492.0 156.5L492.5 156.5L493.0 156.5L493.5 156.5L494.0 156.5L494.5 156.5L495.0 156.5L495.5 156.5L496.0 156.5L496.5 156.5L497.0 156.5L497.5 156.5L498.0 156.5L498.5 156.5L499.0 156.5L499.5 156.5L500.0 156.5L500.5 156.5L501.0 156.5L501.5 156.5L502.0 156.5L502.5 156.5L503.0 156.6L503.5 156.6L504.0 156.6L504.5 156.6L505.0 156.6L505.5 156.6L506.0 156.6L506.5 156.6L507.0 156.6L507.5 156.6L508.0 156.6L508.5 156.6L509.0 156.6L509.5 156.6L510.0 156.6L510.5 156.6L511.0 156.6L511.5 156.6L512.0 156.6L512.5 156.6L513.0 156.6L513.5 156.6L514.0 156.6L514.5 156.6L515.0 156.6L515.5 156.6L516.0 156.6L516.5 156.6L517.0 156.6L517.5 156.6L518.0 156.6L518.5 156.6L519.0 156.6L519.5 156.6L520.0 156.6L520.5 156.6L521.0 156.6L521.5 156.6L522.0 156.6L522.5 156.6L523.0 156.6L523.5 156.6L524.0 156.6L524.5 156.6L525.0 156.6L525.5 156.6L526.0 156.6L526.5 156.6L527.0 156.6L527.5 156.6L528.0 156.6L528.5 156.6L529.0 156.6L529.5 156.6L530.0 156.6L530.5 156.6L531.0 156.6L531.5 156.6L532.0 156.6L532.5 156.6L533.0 156.6L533.5 156.6L534.0 156.6L534.5 156.6L535.0 156.6L535.5 156.6L536.0 156.6L536.5 156.6L537.0 156.6L537.5 156.5L538.0 156.5L538.5 156.5L539.0 156.5L539.5 156.5L540.0 156.5L540.5 156.5L541.0 156.5L541.5 156.5L542.0 156.5L542.5 156.5L543.0 156.5L543.5 156.5L544.0 156.5L544.5 156.5L545.0 156.5L545.5 156.5L546.0 156.5L546.5 156.5L547.0 156.5L547.5 156.5L548.0 156.5L548.5 156.5L549.0 156.5L549.5 156.4L550.0 156.4L550.5 156.4L551.0 156.4L551.5 156.4L552.0 156.4L552.5 156.4L553.0 156.4L553.5 156.4L554.0 156.4L554.5 156.4L555.0 156.4L555.5 156.4L556.0 156.4L556.5 156.4L557.0 156.4L557.5 156.3L558.0 156.3L558.5 156.3L559.0 156.3L559.5 156.3L560.0 156.3L560.5 156.3L561.0 156.3L561.5 156.3L562.0 156.3L562.5 156.3L563.0 156.3L563.5 156.3L564.0 156.2L564.5 156.2L565.0 156.2L565.5 156.2L566.0 156.2L566.5 156.2L567.0 156.2L567.5 156.2L568.0 156.2L568.5 156.2L569.0 156.2L569.5 156.1L570.0 156.1L570.5 156.1L571.0 156.1L571.5 156.1L572.0 156.1L572.5 156.1L573.0 156.1L573.5 156.1L574.0 156.0L574.5 156.0L575.0 156.0L575.5 156.0L576.0 156.0L576.5 156.0L577.0 156.0L577.5 156.0L578.0 155.9L578.5 155.9L579.0 155.9L579.5 155.9L580.0 155.9L580.5 155.9L581.0 155.9L581.5 155.9L582.0 155.8L582.5 155.8L583.0 155.8L583.5 155.8L584.0 155.8L584.5 155.8L585.0 155.8L585.5 155.7L586.0 155.7L586.5 155.7L587.0 155.7L587.5 155.7L588.0 155.7L588.5 155.7L589.0 155.6L589.5 155.6L590.0 155.6L590.5 155.6L591.0 155.6L591.5 155.6L592.0 155.5L592.5 155.5L593.0 155.5L593.5 155.5L594.0 155.5L594.5 155.5L595.0 155.4L595.5 155.4L596.0 155.4L596.5 155.4L597.0 155.4L597.5 155.4L598.0 155.3L598.5 155.3L599.0 155.3L599.5 155.3L600.0 155.3L600.5 155.2L601.0 155.2L601.5 155.2L602.0 155.2L602.5 155.2L603.0 155.1L603.5 155.1L604.0 155.1L604.5 155.1L605.0 155.1L605.5 155.0L606.0 155.0L606.5 155.0L607.0 155.0L607.5 155.0L608.0 154.9L608.5 154.9L609.0 154.9L609.5 154.9L610.0 154.8L610.5 154.8L611.0 154.8L611.5 154.8L612.0 154.8L612.5 154.7L613.0 154.7L613.5 154.7L614.0 154.7L614.5 154.6L615.0 154.6L615.5 154.6L616.0 154.6L616.5 154.5L617.0 154.5L617.5 154.5L618.0 154.5L618.5 154.4L619.0 154.4L619.5 154.4L620.0 154.4L620.5 154.3L621.0 154.3L621.5 154.3L622.0 154.3L622.5 154.2L623.0 154.2L623.5 154.2L624.0 154.1L624.5 154.1L625.0 154.1L625.5 154.1L626.0 154.0L626.5 154.0L627.0 154.0L627.5 153.9L628.0 153.9L628.5 153.9L629.0 153.9L629.5 153.8L630.0 153.8L630.5 153.8L631.0 153.7L631.5 153.7L632.0 153.7L632.5 153.7L633.0 153.6L633.5 153.6L634.0 153.6L634.5 153.5L635.0 153.5L635.5 153.5L636.0 153.4L636.5 153.4L637.0 153.4L637.5 153.3L638.0 153.3L638.5 153.3L639.0 153.2L639.5 153.2L640.0 153.2L640.5 153.1L641.0 153.1L641.5 153.1L642.0 153.0L642.5 153.0L643.0 153.0L643.5 152.9L644.0 152.9L644.5 152.9L645.0 152.8L645.5 152.8L646.0 152.7L646.5 152.7L647.0 152.7L647.5 152.6L648.0 152.6L648.5 152.6L649.0 152.5L649.5 152.5L650.0 152.4L650.5 152.4L651.0 152.4L651.5 152.3L652.0 152.3L652.5 152.3L653.0 152.2L653.5 152.2L654.0 152.1L654.5 152.1L655.0 152.1L655.5 152.0L656.0 152.0L656.5 151.9L657.0 151.9L657.5 151.9L658.0 151.8L658.5 151.8L659.0 151.7L659.5 151.7L660.0 151.6L660.5 151.6L661.0 151.6L661.5 151.5L662.0 151.5L662.5 151.4L663.0 151.4L663.5 151.3L664.0 151.3L664.5 151.2L665.0 151.2L665.5 151.2L666.0 151.1L666.5 151.1L667.0 151.0L667.5 151.0L668.0 150.9L668.5 150.9L669.0 150.8L669.5 150.8L670.0 150.7L670.5 150.7L671.0 150.6L671.5 150.6L672.0 150.5L672.5 150.5L673.0 150.4L673.5 150.4L674.0 150.3L674.5 150.3L675.0 150.2L675.5 150.2L676.0 150.1L676.5 150.1L677.0 150.0L677.5 150.0L678.0 149.9L678.5 149.9L679.0 149.8L679.5 149.8L680.0 149.7L680.5 149.7L681.0 149.6L681.5 149.5L682.0 149.5L682.5 149.4L683.0 149.4L683.5 149.3L684.0 149.3L684.5 149.2L685.0 149.2L685.5 149.1L686.0 149.0L686.5 149.0L687.0 148.9L687.5 148.9L688.0 148.8L688.5 148.7L689.0 148.7L689.5 148.6L690.0 148.6L690.5 148.5L691.0 148.4L691.5 148.4L692.0 148.3L692.5 148.3L693.0 148.2L693.5 148.1L694.0 148.1L694.5 148.0L695.0 148.0L695.5 147.9L696.0 147.8L696.5 147.8L697.0 147.7L697.5 147.6L698.0 147.6L698.5 147.5L699.0 147.4L699.5 147.4L700.0 147.3L700.5 147.2L701.0 147.2L701.5 147.1L702.0 147.0L702.5 147.0L703.0 146.9L703.5 146.8L704.0 146.8L704.5 146.7L705.0 146.6L705.5 146.5L706.0 146.5L706.5 146.4L707.0 146.3L707.5 146.3L708.0 146.2L708.5 146.1L709.0 146.0L709.5 146.0L710.0 145.9L710.5 145.8L711.0 145.7L711.5 145.7L712.0 145.6L712.5 145.5L713.0 145.4L713.5 145.4L714.0 145.3L714.5 145.2L715.0 145.1L715.5 145.1L716.0 145.0L716.5 144.9L717.0 144.8L717.5 144.7L718.0 144.7L718.5 144.6L719.0 144.5L719.5 144.4L720.0 144.3L720.5 144.3L721.0 144.2L721.5 144.1L722.0 144.0L722.5 143.9L723.0 143.8L723.5 143.8L724.0 143.7L724.5 143.6L725.0 143.5L725.5 143.4L726.0 143.3L726.5 143.2L727.0 143.2L727.5 143.1L728.0 143.0L728.5 142.9L729.0 142.8L729.5 142.7L730.0 142.6L730.5 142.5L731.0 142.4L731.5 142.4L732.0 142.3L732.5 142.2L733.0 142.1L733.5 142.0L734.0 141.9L734.5 141.8L735.0 141.7L735.5 141.6L736.0 141.5L736.5 141.4L737.0 141.3L737.5 141.2L738.0 141.1L738.5 141.0L739.0 140.9L739.5 140.8L740.0 140.8L740.5 140.7L741.0 140.6L741.5 140.5L742.0 140.4L742.5 140.3L743.0 140.2L743.5 140.1L744.0 140.0L744.5 139.8L745.0 139.7L745.5 139.6L746.0 139.5L746.5 139.4L747.0 139.3L747.5 139.2L748.0 139.1L748.5 139.0L749.0 138.9L749.5 138.8L750.0 138.7L750.5 138.6L751.0 138.5L751.5 138.4L752.0 138.3L752.5 138.2L753.0 138.0L753.5 137.9L754.0 137.8L754.5 137.7L755.0 137.6L755.5 137.5L756.0 137.4L756.5 137.3L757.0 137.2L757.5 137.0L758.0 136.9L758.5 136.8L759.0 136.7L759.5 136.6L760.0 136.5L760.5 136.3L761.0 136.2L761.5 136.1L762.0 136.0L762.5 135.9L763.0 135.8L763.5 135.6L764.0 135.5L764.5 135.4L765.0 135.3L765.5 135.1L766.0 135.0L766.5 134.9L767.0 134.8L767.5 134.7L768.0 134.5L768.5 134.4L769.0 134.3L769.5 134.2L770.0 134.0L770.5 133.9L771.0 133.8L771.5 133.6L772.0 133.5L772.5 133.4L773.0 133.3L773.5 133.1L774.0 133.0L774.5 132.9L775.0 132.7L775.5 132.6L776.0 132.5L776.5 132.3L777.0 132.2L777.5 132.1L778.0 131.9L778.5 131.8L779.0 131.7L779.5 131.5L780.0 131.4L780.5 131.3L781.0 131.1L781.5 131.0L782.0 130.8L782.5 130.7L783.0 130.6L783.5 130.4L784.0 130.3L784.5 130.1L785.0 130.0L785.5 129.9L786.0 129.7L786.5 129.6L787.0 129.4L787.5 129.3L788.0 129.1L788.5 129.0L789.0 128.8L789.5 128.7L790.0 128.5L790.5 128.4L791.0 128.2L791.5 128.1L792.0 127.9L792.5 127.8L793.0 127.6L793.5 127.5L794.0 127.3L794.5 127.2L795.0 127.0L795.5 126.9L796.0 126.7L796.5 126.6L797.0 126.4L797.5 126.3L798.0 126.1L798.5 126.0L799.0 125.8L799.5 125.6L800.0 125.5L800.5 125.3L801.0 125.2L801.5 125.0L802.0 124.8L802.5 124.7L803.0 124.5L803.5 124.3L804.0 124.2L804.5 124.0L805.0 123.9L805.5 123.7L806.0 123.5L806.5 123.4L807.0 123.2L807.5 123.0L808.0 122.9L808.5 122.7L809.0 122.5L809.5 122.3L810.0 122.2L810.5 122.0L811.0 121.8L811.5 121.7L812.0 121.5L812.5 121.3L813.0 121.1L813.5 121.0L814.0 120.8L814.5 120.6L815.0 120.4L815.5 120.3L816.0 120.1L816.5 119.9L817.0 119.7L817.5 119.5L818.0 119.4L818.5 119.2L819.0 119.0L819.5 118.8L820.0 118.6L820.5 118.4L821.0 118.3L821.5 118.1L822.0 117.9L822.5 117.7L823.0 117.5L823.5 117.3L824.0 117.1L824.5 117.0L825.0 116.8L825.5 116.6L826.0 116.4L826.5 116.2L827.0 116.0L827.5 115.8L828.0 115.6L828.5 115.4L829.0 115.2L829.5 115.0L830.0 114.8L830.5 114.6L831.0 114.4L831.5 114.2L832.0 114.0L832.5 113.9L833.0 113.7L833.5 113.5L834.0 113.2L834.5 113.0L835.0 112.8L835.5 112.6L836.0 112.4L836.5 112.2L837.0 112.0L837.5 111.8L838.0 111.6L838.5 111.4L839.0 111.2L839.5 111.0L840.0 110.8L840.5 110.6L841.0 110.4L841.5 110.2L842.0 109.9L842.5 109.7L843.0 109.5L843.5 109.3L844.0 109.1L844.5 108.9L845.0 108.7L845.5 108.4L846.0 108.2L846.5 108.0L847.0 107.8L847.5 107.6L848.0 107.4L848.5 107.1L849.0 106.9L849.5 106.7L850.0 106.5L850.5 106.2L851.0 106.0L851.5 105.8L852.0 105.6L852.5 105.3L853.0 105.1L853.5 104.9L854.0 104.7L854.5 104.4L855.0 104.2L855.5 104.0L856.0 103.7L856.5 103.5L857.0 103.3L857.5 103.0L858.0 102.8L858.5 102.6L859.0 102.3L859.5 102.1L860.0 101.9L860.5 101.6L861.0 101.4L861.5 101.2L862.0 100.9L862.5 100.7L863.0 100.4L863.5 100.2L864.0 99.9L864.5 99.7L865.0 99.5L865.5 99.2L866.0 99.0" stroke="#EDB120" stroke-width="2.5" fill="none" stroke-linejoin="round" clip-path="url(#ca)"/>
<path d="M105.5 411.5L106.0 411.2L106.5 411.0L107.0 410.7L107.5 410.4L108.0 410.0L108.5 409.7L109.0 409.3L109.5 408.9L110.0 408.5L110.5 408.1L111.0 407.6L111.5 407.2L112.0 406.7L112.5 406.2L113.0 405.7L113.5 405.2L114.0 404.6L114.5 404.0L115.0 403.5L115.5 402.9L116.0 402.2L116.5 401.6L117.0 400.9L117.5 400.3L118.0 399.6L118.5 398.9L119.0 398.2L119.5 397.4L120.0 396.7L120.5 395.9L121.0 395.1L121.5 394.3L122.0 393.5L122.5 392.6L123.0 391.8L123.5 390.9L124.0 390.0L124.5 389.1L125.0 388.2L125.5 387.3L126.0 386.3L126.5 385.3L127.0 384.4L127.5 383.4L128.0 382.4L128.5 381.3L129.0 380.3L129.5 379.2L130.0 378.2L130.5 377.1L131.0 376.0L131.5 374.9L132.0 373.7L132.5 372.6L133.0 371.4L133.5 370.3L134.0 369.1L134.5 367.9L135.0 366.7L135.5 365.5L136.0 364.3L136.5 363.1L137.0 361.9L137.5 360.7L138.0 359.4L138.5 358.2L139.0 356.9L139.5 355.6L140.0 354.4L140.5 353.1L141.0 351.8L141.5 350.5L142.0 349.3L142.5 348.0L143.0 346.7L143.5 345.4L144.0 344.1L144.5 342.8L145.0 341.5L145.5 340.2L146.0 338.9L146.5 337.6L147.0 336.3L147.5 335.0L148.0 333.7L148.5 332.4L149.0 331.1L149.5 329.8L150.0 328.5L150.5 327.2L151.0 326.0L151.5 324.7L152.0 323.4L152.5 322.1L153.0 320.9L153.5 319.6L154.0 318.3L154.5 317.1L155.0 315.8L155.5 314.5L156.0 313.3L156.5 312.0L157.0 310.8L157.5 309.5L158.0 308.3L158.5 307.1L159.0 305.8L159.5 304.6L160.0 303.4L160.5 302.1L161.0 300.9L161.5 299.7L162.0 298.5L162.5 297.2L163.0 296.0L163.5 294.8L164.0 293.6L164.5 292.4L165.0 291.2L165.5 290.0L166.0 288.9L166.5 287.7L167.0 286.5L167.5 285.3L168.0 284.1L168.5 283.0L169.0 281.8L169.5 280.6L170.0 279.5L170.5 278.3L171.0 277.2L171.5 276.0L172.0 274.9L172.5 273.7L173.0 272.6L173.5 271.5L174.0 270.3L174.5 269.2L175.0 268.1L175.5 267.0L176.0 265.9L176.5 264.7L177.0 263.6L177.5 262.5L178.0 261.5L178.5 260.4L179.0 259.3L179.5 258.2L180.0 257.1L180.5 256.0L181.0 255.0L181.5 253.9L182.0 252.8L182.5 251.8L183.0 250.7L183.5 249.7L184.0 248.7L184.5 247.6L185.0 246.6L185.5 245.6L186.0 244.5L186.5 243.5L187.0 242.5L187.5 241.5L188.0 240.5L188.5 239.5L189.0 238.5L189.5 237.5L190.0 236.5L190.5 235.5L191.0 234.6L191.5 233.6L192.0 232.6L192.5 231.7L193.0 230.7L193.5 229.8L194.0 228.8L194.5 227.9L195.0 227.0L195.5 226.1L196.0 225.1L196.5 224.2L197.0 223.3L197.5 222.4L198.0 221.5L198.5 220.6L199.0 219.8L199.5 218.9L200.0 218.0L200.5 217.2L201.0 216.3L201.5 215.5L202.0 214.6L202.5 213.8L203.0 213.0L203.5 212.2L204.0 211.3L204.5 210.5L205.0 209.7L205.5 209.0L206.0 208.2L206.5 207.4L207.0 206.7L207.5 205.9L208.0 205.2L208.5 204.4L209.0 203.7L209.5 203.0L210.0 202.3L210.5 201.6L211.0 200.9L211.5 200.2L212.0 199.5L212.5 198.8L213.0 198.2L213.5 197.5L214.0 196.9L214.5 196.3L215.0 195.6L215.5 195.0L216.0 194.4L216.5 193.8L217.0 193.2L217.5 192.6L218.0 192.0L218.5 191.5L219.0 190.9L219.5 190.3L220.0 189.8L220.5 189.2L221.0 188.7L221.5 188.2L222.0 187.7L222.5 187.1L223.0 186.6L223.5 186.1L224.0 185.6L224.5 185.1L225.0 184.7L225.5 184.2L226.0 183.7L226.5 183.2L227.0 182.8L227.5 182.3L228.0 181.9L228.5 181.4L229.0 181.0L229.5 180.6L230.0 180.1L230.5 179.7L231.0 179.3L231.5 178.9L232.0 178.5L232.5 178.1L233.0 177.7L233.5 177.3L234.0 176.9L234.5 176.5L235.0 176.1L235.5 175.7L236.0 175.3L236.5 175.0L237.0 174.6L237.5 174.2L238.0 173.9L238.5 173.5L239.0 173.2L239.5 172.8L240.0 172.5L240.5 172.1L241.0 171.8L241.5 171.5L242.0 171.1L242.5 170.8L243.0 170.5L243.5 170.1L244.0 169.8L244.5 169.5L245.0 169.2L245.5 168.8L246.0 168.5L246.5 168.2L247.0 167.9L247.5 167.6L248.0 167.3L248.5 167.0L249.0 166.7L249.5 166.4L250.0 166.1L250.5 165.8L251.0 165.5L251.5 165.2L252.0 164.9L252.5 164.6L253.0 164.3L253.5 164.0L254.0 163.7L254.5 163.4L255.0 163.2L255.5 162.9L256.0 162.6L256.5 162.3L257.0 162.1L257.5 161.8L258.0 161.5L258.5 161.2L259.0 161.0L259.5 160.7L260.0 160.5L260.5 160.2L261.0 160.0L261.5 159.7L262.0 159.5L262.5 159.2L263.0 159.0L263.5 158.7L264.0 158.5L264.5 158.3L265.0 158.0L265.5 157.8L266.0 157.6L266.5 157.3L267.0 157.1L267.5 156.9L268.0 156.7L268.5 156.5L269.0 156.2L269.5 156.0L270.0 155.8L270.5 155.6L271.0 155.4L271.5 155.2L272.0 155.0L272.5 154.8L273.0 154.6L273.5 154.4L274.0 154.3L274.5 154.1L275.0 153.9L275.5 153.7L276.0 153.6L276.5 153.4L277.0 153.2L277.5 153.0L278.0 152.9L278.5 152.7L279.0 152.6L279.5 152.4L280.0 152.3L280.5 152.1L281.0 152.0L281.5 151.8L282.0 151.7L282.5 151.6L283.0 151.4L283.5 151.3L284.0 151.2L284.5 151.1L285.0 150.9L285.5 150.8L286.0 150.7L286.5 150.6L287.0 150.5L287.5 150.4L288.0 150.3L288.5 150.2L289.0 150.1L289.5 150.0L290.0 149.9L290.5 149.9L291.0 149.8L291.5 149.7L292.0 149.6L292.5 149.5L293.0 149.5L293.5 149.4L294.0 149.3L294.5 149.3L295.0 149.2L295.5 149.2L296.0 149.1L296.5 149.0L297.0 149.0L297.5 148.9L298.0 148.9L298.5 148.8L299.0 148.8L299.5 148.8L300.0 148.7L300.5 148.7L301.0 148.7L301.5 148.6L302.0 148.6L302.5 148.6L303.0 148.5L303.5 148.5L304.0 148.5L304.5 148.5L305.0 148.5L305.5 148.4L306.0 148.4L306.5 148.4L307.0 148.4L307.5 148.4L308.0 148.4L308.5 148.4L309.0 148.4L309.5 148.4L310.0 148.4L310.5 148.4L311.0 148.4L311.5 148.4L312.0 148.4L312.5 148.4L313.0 148.4L313.5 148.4L314.0 148.4L314.5 148.4L315.0 148.5L315.5 148.5L316.0 148.5L316.5 148.5L317.0 148.5L317.5 148.5L318.0 148.6L318.5 148.6L319.0 148.6L319.5 148.6L320.0 148.7L320.5 148.7L321.0 148.7L321.5 148.7L322.0 148.8L322.5 148.8L323.0 148.8L323.5 148.9L324.0 148.9L324.5 148.9L325.0 149.0L325.5 149.0L326.0 149.0L326.5 149.1L327.0 149.1L327.5 149.1L328.0 149.2L328.5 149.2L329.0 149.2L329.5 149.3L330.0 149.3L330.5 149.4L331.0 149.4L331.5 149.4L332.0 149.5L332.5 149.5L333.0 149.6L333.5 149.6L334.0 149.6L334.5 149.7L335.0 149.7L335.5 149.8L336.0 149.8L336.5 149.9L337.0 149.9L337.5 150.0L338.0 150.0L338.5 150.1L339.0 150.1L339.5 150.2L340.0 150.2L340.5 150.3L341.0 150.3L341.5 150.4L342.0 150.4L342.5 150.5L343.0 150.5L343.5 150.6L344.0 150.6L344.5 150.7L345.0 150.7L345.5 150.8L346.0 150.8L346.5 150.9L347.0 150.9L347.5 151.0L348.0 151.0L348.5 151.1L349.0 151.1L349.5 151.2L350.0 151.2L350.5 151.3L351.0 151.4L351.5 151.4L352.0 151.5L352.5 151.5L353.0 151.6L353.5 151.6L354.0 151.7L354.5 151.7L355.0 151.8L355.5 151.9L356.0 151.9L356.5 152.0L357.0 152.0L357.5 152.1L358.0 152.1L358.5 152.2L359.0 152.2L359.5 152.3L360.0 152.3L360.5 152.4L361.0 152.5L361.5 152.5L362.0 152.6L362.5 152.6L363.0 152.7L363.5 152.7L364.0 152.8L364.5 152.8L365.0 152.9L365.5 152.9L366.0 153.0L366.5 153.0L367.0 153.1L367.5 153.1L368.0 153.2L368.5 153.2L369.0 153.3L369.5 153.3L370.0 153.4L370.5 153.4L371.0 153.5L371.5 153.5L372.0 153.6L372.5 153.6L373.0 153.7L373.5 153.7L374.0 153.8L374.5 153.8L375.0 153.9L375.5 153.9L376.0 154.0L376.5 154.0L377.0 154.1L377.5 154.1L378.0 154.1L378.5 154.2L379.0 154.2L379.5 154.3L380.0 154.3L380.5 154.4L381.0 154.4L381.5 154.4L382.0 154.5L382.5 154.5L383.0 154.6L383.5 154.6L384.0 154.6L384.5 154.7L385.0 154.7L385.5 154.7L386.0 154.8L386.5 154.8L387.0 154.8L387.5 154.9L388.0 154.9L388.5 154.9L389.0 155.0L389.5 155.0L390.0 155.0L390.5 155.1L391.0 155.1L391.5 155.1L392.0 155.1L392.5 155.2L393.0 155.2L393.5 155.2L394.0 155.3L394.5 155.3L395.0 155.3L395.5 155.3L396.0 155.4L396.5 155.4L397.0 155.4L397.5 155.4L398.0 155.5L398.5 155.5L399.0 155.5L399.5 155.5L400.0 155.5L400.5 155.6L401.0 155.6L401.5 155.6L402.0 155.6L402.5 155.7L403.0 155.7L403.5 155.7L404.0 155.7L404.5 155.7L405.0 155.7L405.5 155.8L406.0 155.8L406.5 155.8L407.0 155.8L407.5 155.8L408.0 155.9L408.5 155.9L409.0 155.9L409.5 155.9L410.0 155.9L410.5 155.9L411.0 155.9L411.5 156.0L412.0 156.0L412.5 156.0L413.0 156.0L413.5 156.0L414.0 156.0L414.5 156.0L415.0 156.1L415.5 156.1L416.0 156.1L416.5 156.1L417.0 156.1L417.5 156.1L418.0 156.1L418.5 156.1L419.0 156.2L419.5 156.2L420.0 156.2L420.5 156.2L421.0 156.2L421.5 156.2L422.0 156.2L422.5 156.2L423.0 156.2L423.5 156.2L424.0 156.3L424.5 156.3L425.0 156.3L425.5 156.3L426.0 156.3L426.5 156.3L427.0 156.3L427.5 156.3L428.0 156.3L428.5 156.3L429.0 156.3L429.5 156.4L430.0 156.4L430.5 156.4L431.0 156.4L431.5 156.4L432.0 156.4L432.5 156.4L433.0 156.4L433.5 156.4L434.0 156.4L434.5 156.4L435.0 156.4L435.5 156.5L436.0 156.5L436.5 156.5L437.0 156.5L437.5 156.5L438.0 156.5L438.5 156.5L439.0 156.5L439.5 156.5L440.0 156.5L440.5 156.5L441.0 156.5L441.5 156.5L442.0 156.5L442.5 156.6L443.0 156.6L443.5 156.6L444.0 156.6L444.5 156.6L445.0 156.6L445.5 156.6L446.0 156.6L446.5 156.6L447.0 156.6L447.5 156.6L448.0 156.6L448.5 156.6L449.0 156.6L449.5 156.6L450.0 156.7L450.5 156.7L451.0 156.7L451.5 156.7L452.0 156.7L452.5 156.7L453.0 156.7L453.5 156.7L454.0 156.7L454.5 156.7L455.0 156.7L455.5 156.7L456.0 156.7L456.5 156.7L457.0 156.7L457.5 156.7L458.0 156.7L458.5 156.8L459.0 156.8L459.5 156.8L460.0 156.8L460.5 156.8L461.0 156.8L461.5 156.8L462.0 156.8L462.5 156.8L463.0 156.8L463.5 156.8L464.0 156.8L464.5 156.8L465.0 156.8L465.5 156.8L466.0 156.8L466.5 156.8L467.0 156.8L467.5 156.8L468.0 156.8L468.5 156.8L469.0 156.8L469.5 156.8L470.0 156.8L470.5 156.9L471.0 156.9L471.5 156.9L472.0 156.9L472.5 156.9L473.0 156.9L473.5 156.9L474.0 156.9L474.5 156.9L475.0 156.9L475.5 156.9L476.0 156.9L476.5 156.9L477.0 156.9L477.5 156.9L478.0 156.9L478.5 156.9L479.0 156.9L479.5 156.9L480.0 156.9L480.5 156.9L481.0 156.9L481.5 156.9L482.0 156.9L482.5 156.9L483.0 156.9L483.5 156.9L484.0 156.9L484.5 156.9L485.0 156.9L485.5 156.9L486.0 156.9L486.5 156.9L487.0 156.9L487.5 156.9L488.0 156.9L488.5 156.9L489.0 156.9L489.5 156.9L490.0 156.9L490.5 156.9L491.0 156.9L491.5 156.9L492.0 156.9L492.5 156.9L493.0 156.9L493.5 156.9L494.0 156.9L494.5 156.9L495.0 156.9L495.5 156.9L496.0 156.9L496.5 156.9L497.0 156.9L497.5 156.9L498.0 156.9L498.5 156.9L499.0 156.9L499.5 156.9L500.0 156.9L500.5 156.9L501.0 156.9L501.5 156.9L502.0 156.9L502.5 156.9L503.0 156.9L503.5 156.9L504.0 156.9L504.5 156.9L505.0 156.9L505.5 156.9L506.0 156.9L506.5 156.9L507.0 156.9L507.5 156.9L508.0 156.9L508.5 156.9L509.0 156.9L509.5 156.9L510.0 156.8L510.5 156.8L511.0 156.8L511.5 156.8L512.0 156.8L512.5 156.8L513.0 156.8L513.5 156.8L514.0 156.8L514.5 156.8L515.0 156.8L515.5 156.8L516.0 156.8L516.5 156.8L517.0 156.8L517.5 156.8L518.0 156.8L518.5 156.8L519.0 156.8L519.5 156.8L520.0 156.8L520.5 156.7L521.0 156.7L521.5 156.7L522.0 156.7L522.5 156.7L523.0 156.7L523.5 156.7L524.0 156.7L524.5 156.7L525.0 156.7L525.5 156.7L526.0 156.7L526.5 156.7L527.0 156.7L527.5 156.7L528.0 156.6L528.5 156.6L529.0 156.6L529.5 156.6L530.0 156.6L530.5 156.6L531.0 156.6L531.5 156.6L532.0 156.6L532.5 156.6L533.0 156.6L533.5 156.6L534.0 156.5L534.5 156.5L535.0 156.5L535.5 156.5L536.0 156.5L536.5 156.5L537.0 156.5L537.5 156.5L538.0 156.5L538.5 156.5L539.0 156.4L539.5 156.4L540.0 156.4L540.5 156.4L541.0 156.4L541.5 156.4L542.0 156.4L542.5 156.4L543.0 156.4L543.5 156.3L544.0 156.3L544.5 156.3L545.0 156.3L545.5 156.3L546.0 156.3L546.5 156.3L547.0 156.3L547.5 156.2L548.0 156.2L548.5 156.2L549.0 156.2L549.5 156.2L550.0 156.2L550.5 156.2L551.0 156.2L551.5 156.1L552.0 156.1L552.5 156.1L553.0 156.1L553.5 156.1L554.0 156.1L554.5 156.1L555.0 156.0L555.5 156.0L556.0 156.0L556.5 156.0L557.0 156.0L557.5 156.0L558.0 156.0L558.5 155.9L559.0 155.9L559.5 155.9L560.0 155.9L560.5 155.9L561.0 155.9L561.5 155.8L562.0 155.8L562.5 155.8L563.0 155.8L563.5 155.8L564.0 155.8L564.5 155.7L565.0 155.7L565.5 155.7L566.0 155.7L566.5 155.7L567.0 155.7L567.5 155.6L568.0 155.6L568.5 155.6L569.0 155.6L569.5 155.6L570.0 155.5L570.5 155.5L571.0 155.5L571.5 155.5L572.0 155.5L572.5 155.5L573.0 155.4L573.5 155.4L574.0 155.4L574.5 155.4L575.0 155.4L575.5 155.3L576.0 155.3L576.5 155.3L577.0 155.3L577.5 155.3L578.0 155.2L578.5 155.2L579.0 155.2L579.5 155.2L580.0 155.1L580.5 155.1L581.0 155.1L581.5 155.1L582.0 155.1L582.5 155.0L583.0 155.0L583.5 155.0L584.0 155.0L584.5 154.9L585.0 154.9L585.5 154.9L586.0 154.9L586.5 154.9L587.0 154.8L587.5 154.8L588.0 154.8L588.5 154.8L589.0 154.7L589.5 154.7L590.0 154.7L590.5 154.7L591.0 154.6L591.5 154.6L592.0 154.6L592.5 154.6L593.0 154.5L593.5 154.5L594.0 154.5L594.5 154.5L595.0 154.4L595.5 154.4L596.0 154.4L596.5 154.3L597.0 154.3L597.5 154.3L598.0 154.3L598.5 154.2L599.0 154.2L599.5 154.2L600.0 154.2L600.5 154.1L601.0 154.1L601.5 154.1L602.0 154.0L602.5 154.0L603.0 154.0L603.5 154.0L604.0 153.9L604.5 153.9L605.0 153.9L605.5 153.8L606.0 153.8L606.5 153.8L607.0 153.7L607.5 153.7L608.0 153.7L608.5 153.7L609.0 153.6L609.5 153.6L610.0 153.6L610.5 153.5L611.0 153.5L611.5 153.5L612.0 153.4L612.5 153.4L613.0 153.4L613.5 153.3L614.0 153.3L614.5 153.3L615.0 153.2L615.5 153.2L616.0 153.2L616.5 153.1L617.0 153.1L617.5 153.1L618.0 153.0L618.5 153.0L619.0 153.0L619.5 152.9L620.0 152.9L620.5 152.9L621.0 152.8L621.5 152.8L622.0 152.8L622.5 152.7L623.0 152.7L623.5 152.6L624.0 152.6L624.5 152.6L625.0 152.5L625.5 152.5L626.0 152.5L626.5 152.4L627.0 152.4L627.5 152.3L628.0 152.3L628.5 152.3L629.0 152.2L629.5 152.2L630.0 152.2L630.5 152.1L631.0 152.1L631.5 152.0L632.0 152.0L632.5 152.0L633.0 151.9L633.5 151.9L634.0 151.8L634.5 151.8L635.0 151.8L635.5 151.7L636.0 151.7L636.5 151.6L637.0 151.6L637.5 151.6L638.0 151.5L638.5 151.5L639.0 151.4L639.5 151.4L640.0 151.3L640.5 151.3L641.0 151.3L641.5 151.2L642.0 151.2L642.5 151.1L643.0 151.1L643.5 151.0L644.0 151.0L644.5 151.0L645.0 150.9L645.5 150.9L646.0 150.8L646.5 150.8L647.0 150.7L647.5 150.7L648.0 150.6L648.5 150.6L649.0 150.5L649.5 150.5L650.0 150.5L650.5 150.4L651.0 150.4L651.5 150.3L652.0 150.3L652.5 150.2L653.0 150.2L653.5 150.1L654.0 150.1L654.5 150.0L655.0 150.0L655.5 149.9L656.0 149.9L656.5 149.8L657.0 149.8L657.5 149.7L658.0 149.7L658.5 149.6L659.0 149.6L659.5 149.5L660.0 149.5L660.5 149.4L661.0 149.4L661.5 149.3L662.0 149.3L662.5 149.2L663.0 149.2L663.5 149.1L664.0 149.1L664.5 149.0L665.0 149.0L665.5 148.9L666.0 148.9L666.5 148.8L667.0 148.8L667.5 148.7L668.0 148.6L668.5 148.6L669.0 148.5L669.5 148.5L670.0 148.4L670.5 148.4L671.0 148.3L671.5 148.3L672.0 148.2L672.5 148.1L673.0 148.1L673.5 148.0L674.0 148.0L674.5 147.9L675.0 147.8L675.5 147.8L676.0 147.7L676.5 147.7L677.0 147.6L677.5 147.6L678.0 147.5L678.5 147.4L679.0 147.4L679.5 147.3L680.0 147.2L680.5 147.2L681.0 147.1L681.5 147.1L682.0 147.0L682.5 146.9L683.0 146.9L683.5 146.8L684.0 146.7L684.5 146.7L685.0 146.6L685.5 146.6L686.0 146.5L686.5 146.4L687.0 146.4L687.5 146.3L688.0 146.2L688.5 146.2L689.0 146.1L689.5 146.0L690.0 146.0L690.5 145.9L691.0 145.8L691.5 145.7L692.0 145.7L692.5 145.6L693.0 145.5L693.5 145.5L694.0 145.4L694.5 145.3L695.0 145.3L695.5 145.2L696.0 145.1L696.5 145.0L697.0 145.0L697.5 144.9L698.0 144.8L698.5 144.7L699.0 144.7L699.5 144.6L700.0 144.5L700.5 144.4L701.0 144.4L701.5 144.3L702.0 144.2L702.5 144.1L703.0 144.1L703.5 144.0L704.0 143.9L704.5 143.8L705.0 143.8L705.5 143.7L706.0 143.6L706.5 143.5L707.0 143.4L707.5 143.4L708.0 143.3L708.5 143.2L709.0 143.1L709.5 143.0L710.0 142.9L710.5 142.9L711.0 142.8L711.5 142.7L712.0 142.6L712.5 142.5L713.0 142.4L713.5 142.4L714.0 142.3L714.5 142.2L715.0 142.1L715.5 142.0L716.0 141.9L716.5 141.8L717.0 141.7L717.5 141.7L718.0 141.6L718.5 141.5L719.0 141.4L719.5 141.3L720.0 141.2L720.5 141.1L721.0 141.0L721.5 140.9L722.0 140.8L722.5 140.7L723.0 140.6L723.5 140.6L724.0 140.5L724.5 140.4L725.0 140.3L725.5 140.2L726.0 140.1L726.5 140.0L727.0 139.9L727.5 139.8L728.0 139.7L728.5 139.6L729.0 139.5L729.5 139.4L730.0 139.3L730.5 139.2L731.0 139.1L731.5 139.0L732.0 138.9L732.5 138.8L733.0 138.7L733.5 138.6L734.0 138.5L734.5 138.4L735.0 138.3L735.5 138.1L736.0 138.0L736.5 137.9L737.0 137.8L737.5 137.7L738.0 137.6L738.5 137.5L739.0 137.4L739.5 137.3L740.0 137.2L740.5 137.1L741.0 137.0L741.5 136.8L742.0 136.7L742.5 136.6L743.0 136.5L743.5 136.4L744.0 136.3L744.5 136.2L745.0 136.0L745.5 135.9L746.0 135.8L746.5 135.7L747.0 135.6L747.5 135.5L748.0 135.3L748.5 135.2L749.0 135.1L749.5 135.0L750.0 134.9L750.5 134.7L751.0 134.6L751.5 134.5L752.0 134.4L752.5 134.3L753.0 134.1L753.5 134.0L754.0 133.9L754.5 133.8L755.0 133.6L755.5 133.5L756.0 133.4L756.5 133.2L757.0 133.1L757.5 133.0L758.0 132.9L758.5 132.7L759.0 132.6L759.5 132.5L760.0 132.3L760.5 132.2L761.0 132.1L761.5 131.9L762.0 131.8L762.5 131.7L763.0 131.5L763.5 131.4L764.0 131.3L764.5 131.1L765.0 131.0L765.5 130.8L766.0 130.7L766.5 130.6L767.0 130.4L767.5 130.3L768.0 130.1L768.5 130.0L769.0 129.9L769.5 129.7L770.0 129.6L770.5 129.4L771.0 129.3L771.5 129.1L772.0 129.0L772.5 128.8L773.0 128.7L773.5 128.5L774.0 128.4L774.5 128.3L775.0 128.1L775.5 127.9L776.0 127.8L776.5 127.6L777.0 127.5L777.5 127.3L778.0 127.2L778.5 127.0L779.0 126.9L779.5 126.7L780.0 126.6L780.5 126.4L781.0 126.3L781.5 126.1L782.0 125.9L782.5 125.8L783.0 125.6L783.5 125.5L784.0 125.3L784.5 125.1L785.0 125.0L785.5 124.8L786.0 124.6L786.5 124.5L787.0 124.3L787.5 124.1L788.0 124.0L788.5 123.8L789.0 123.6L789.5 123.5L790.0 123.3L790.5 123.1L791.0 123.0L791.5 122.8L792.0 122.6L792.5 122.4L793.0 122.3L793.5 122.1L794.0 121.9L794.5 121.7L795.0 121.6L795.5 121.4L796.0 121.2L796.5 121.0L797.0 120.9L797.5 120.7L798.0 120.5L798.5 120.3L799.0 120.1L799.5 119.9L800.0 119.8L800.5 119.6L801.0 119.4L801.5 119.2L802.0 119.0L802.5 118.8L803.0 118.6L803.5 118.5L804.0 118.3L804.5 118.1L805.0 117.9L805.5 117.7L806.0 117.5L806.5 117.3L807.0 117.1L807.5 116.9L808.0 116.7L808.5 116.5L809.0 116.3L809.5 116.1L810.0 115.9L810.5 115.7L811.0 115.5L811.5 115.3L812.0 115.1L812.5 114.9L813.0 114.7L813.5 114.5L814.0 114.3L814.5 114.1L815.0 113.9L815.5 113.7L816.0 113.5L816.5 113.3L817.0 113.1L817.5 112.9L818.0 112.7L818.5 112.4L819.0 112.2L819.5 112.0L820.0 111.8L820.5 111.6L821.0 111.4L821.5 111.2L822.0 110.9L822.5 110.7L823.0 110.5L823.5 110.3L824.0 110.1L824.5 109.9L825.0 109.6L825.5 109.4L826.0 109.2L826.5 109.0L827.0 108.7L827.5 108.5L828.0 108.3L828.5 108.1L829.0 107.8L829.5 107.6L830.0 107.4L830.5 107.1L831.0 106.9L831.5 106.7L832.0 106.4L832.5 106.2L833.0 106.0L833.5 105.7L834.0 105.5L834.5 105.3L835.0 105.0L835.5 104.8L836.0 104.6L836.5 104.3L837.0 104.1L837.5 103.8L838.0 103.6L838.5 103.3L839.0 103.1L839.5 102.9L840.0 102.6L840.5 102.4L841.0 102.1L841.5 101.9L842.0 101.6L842.5 101.4L843.0 101.1L843.5 100.9L844.0 100.6L844.5 100.4L845.0 100.1L845.5 99.8L846.0 99.6L846.5 99.3L847.0 99.1L847.5 98.8L848.0 98.5L848.5 98.3L849.0 98.0L849.5 97.8L850.0 97.5L850.5 97.2L851.0 97.0L851.5 96.7L852.0 96.4L852.5 96.2L853.0 95.9L853.5 95.6L854.0 95.4L854.5 95.1L855.0 94.8L855.5 94.5L856.0 94.3L856.5 94.0L857.0 93.7L857.5 93.4L858.0 93.2L858.5 92.9L859.0 92.6L859.5 92.3L860.0 92.0L860.5 91.8L861.0 91.5L861.5 91.2L862.0 90.9L862.5 90.6L863.0 90.3L863.5 90.0L864.0 89.7L864.5 89.5L865.0 89.2L865.5 88.9L866.0 88.6" stroke="#7E2F8E" stroke-width="2.5" fill="none" stroke-linejoin="round" clip-path="url(#ca)"/>
<path d="M105.5 411.5L106.0 410.8L106.5 410.1L107.0 409.5L107.5 408.9L108.0 408.2L108.5 407.6L109.0 407.1L109.5 406.5L110.0 405.9L110.5 405.4L111.0 404.8L111.5 404.2L112.0 403.7L112.5 403.1L113.0 402.5L113.5 401.9L114.0 401.4L114.5 400.7L115.0 400.1L115.5 399.5L116.0 398.8L116.5 398.1L117.0 397.4L117.5 396.7L118.0 395.9L118.5 395.1L119.0 394.3L119.5 393.4L120.0 392.5L120.5 391.5L121.0 390.5L121.5 389.5L122.0 388.4L122.5 387.3L123.0 386.2L123.5 385.0L124.0 383.8L124.5 382.6L125.0 381.3L125.5 380.1L126.0 378.7L126.5 377.4L127.0 376.0L127.5 374.6L128.0 373.2L128.5 371.8L129.0 370.3L129.5 368.8L130.0 367.3L130.5 365.8L131.0 364.2L131.5 362.7L132.0 361.1L132.5 359.5L133.0 357.9L133.5 356.3L134.0 354.6L134.5 353.0L135.0 351.3L135.5 349.6L136.0 347.9L136.5 346.2L137.0 344.5L137.5 342.8L138.0 341.1L138.5 339.4L139.0 337.7L139.5 335.9L140.0 334.2L140.5 332.5L141.0 330.7L141.5 329.0L142.0 327.3L142.5 325.5L143.0 323.8L143.5 322.1L144.0 320.3L144.5 318.6L145.0 316.9L145.5 315.2L146.0 313.4L146.5 311.7L147.0 310.0L147.5 308.3L148.0 306.6L148.5 304.9L149.0 303.2L149.5 301.5L150.0 299.8L150.5 298.1L151.0 296.4L151.5 294.7L152.0 293.0L152.5 291.4L153.0 289.7L153.5 288.0L154.0 286.4L154.5 284.7L155.0 283.1L155.5 281.5L156.0 279.9L156.5 278.2L157.0 276.6L157.5 275.0L158.0 273.4L158.5 271.9L159.0 270.3L159.5 268.7L160.0 267.2L160.5 265.6L161.0 264.1L161.5 262.6L162.0 261.0L162.5 259.5L163.0 258.1L163.5 256.6L164.0 255.1L164.5 253.6L165.0 252.2L165.5 250.8L166.0 249.3L166.5 247.9L167.0 246.5L167.5 245.2L168.0 243.8L168.5 242.4L169.0 241.1L169.5 239.8L170.0 238.4L170.5 237.1L171.0 235.9L171.5 234.6L172.0 233.3L172.5 232.1L173.0 230.9L173.5 229.7L174.0 228.5L174.5 227.3L175.0 226.2L175.5 225.0L176.0 223.9L176.5 222.8L177.0 221.7L177.5 220.7L178.0 219.6L178.5 218.6L179.0 217.6L179.5 216.6L180.0 215.6L180.5 214.6L181.0 213.7L181.5 212.7L182.0 211.8L182.5 210.9L183.0 210.0L183.5 209.1L184.0 208.2L184.5 207.3L185.0 206.4L185.5 205.6L186.0 204.7L186.5 203.8L187.0 203.0L187.5 202.1L188.0 201.3L188.5 200.4L189.0 199.6L189.5 198.7L190.0 197.9L190.5 197.0L191.0 196.2L191.5 195.3L192.0 194.4L192.5 193.6L193.0 192.7L193.5 191.8L194.0 191.0L194.5 190.1L195.0 189.2L195.5 188.4L196.0 187.5L196.5 186.6L197.0 185.8L197.5 184.9L198.0 184.1L198.5 183.2L199.0 182.4L199.5 181.6L200.0 180.8L200.5 180.0L201.0 179.2L201.5 178.4L202.0 177.7L202.5 177.0L203.0 176.2L203.5 175.5L204.0 174.9L204.5 174.2L205.0 173.5L205.5 172.9L206.0 172.3L206.5 171.7L207.0 171.1L207.5 170.5L208.0 170.0L208.5 169.4L209.0 168.9L209.5 168.4L210.0 167.9L210.5 167.4L211.0 166.9L211.5 166.4L212.0 166.0L212.5 165.5L213.0 165.1L213.5 164.7L214.0 164.3L214.5 163.9L215.0 163.5L215.5 163.1L216.0 162.8L216.5 162.4L217.0 162.0L217.5 161.7L218.0 161.4L218.5 161.1L219.0 160.8L219.5 160.5L220.0 160.2L220.5 159.9L221.0 159.6L221.5 159.3L222.0 159.1L222.5 158.8L223.0 158.5L223.5 158.3L224.0 158.0L224.5 157.8L225.0 157.6L225.5 157.4L226.0 157.1L226.5 156.9L227.0 156.7L227.5 156.5L228.0 156.3L228.5 156.1L229.0 155.9L229.5 155.7L230.0 155.5L230.5 155.3L231.0 155.1L231.5 154.9L232.0 154.8L232.5 154.6L233.0 154.4L233.5 154.2L234.0 154.1L234.5 153.9L235.0 153.7L235.5 153.6L236.0 153.4L236.5 153.3L237.0 153.1L237.5 153.0L238.0 152.9L238.5 152.7L239.0 152.6L239.5 152.5L240.0 152.3L240.5 152.2L241.0 152.1L241.5 152.0L242.0 151.8L242.5 151.7L243.0 151.6L243.5 151.5L244.0 151.4L244.5 151.3L245.0 151.2L245.5 151.1L246.0 151.0L246.5 150.9L247.0 150.8L247.5 150.7L248.0 150.6L248.5 150.6L249.0 150.5L249.5 150.4L250.0 150.3L250.5 150.3L251.0 150.2L251.5 150.1L252.0 150.1L252.5 150.0L253.0 149.9L253.5 149.9L254.0 149.8L254.5 149.8L255.0 149.7L255.5 149.7L256.0 149.6L256.5 149.6L257.0 149.5L257.5 149.5L258.0 149.4L258.5 149.4L259.0 149.4L259.5 149.3L260.0 149.3L260.5 149.3L261.0 149.3L261.5 149.2L262.0 149.2L262.5 149.2L263.0 149.2L263.5 149.2L264.0 149.1L264.5 149.1L265.0 149.1L265.5 149.1L266.0 149.1L266.5 149.1L267.0 149.1L267.5 149.1L268.0 149.1L268.5 149.1L269.0 149.1L269.5 149.1L270.0 149.1L270.5 149.1L271.0 149.1L271.5 149.1L272.0 149.1L272.5 149.1L273.0 149.1L273.5 149.2L274.0 149.2L274.5 149.2L275.0 149.2L275.5 149.2L276.0 149.2L276.5 149.3L277.0 149.3L277.5 149.3L278.0 149.3L278.5 149.4L279.0 149.4L279.5 149.4L280.0 149.5L280.5 149.5L281.0 149.5L281.5 149.5L282.0 149.6L282.5 149.6L283.0 149.7L283.5 149.7L284.0 149.7L284.5 149.8L285.0 149.8L285.5 149.8L286.0 149.9L286.5 149.9L287.0 150.0L287.5 150.0L288.0 150.0L288.5 150.1L289.0 150.1L289.5 150.2L290.0 150.2L290.5 150.3L291.0 150.3L291.5 150.4L292.0 150.4L292.5 150.5L293.0 150.5L293.5 150.6L294.0 150.6L294.5 150.7L295.0 150.7L295.5 150.8L296.0 150.8L296.5 150.9L297.0 150.9L297.5 151.0L298.0 151.0L298.5 151.1L299.0 151.1L299.5 151.2L300.0 151.2L300.5 151.3L301.0 151.3L301.5 151.4L302.0 151.4L302.5 151.5L303.0 151.5L303.5 151.6L304.0 151.6L304.5 151.7L305.0 151.7L305.5 151.8L306.0 151.8L306.5 151.9L307.0 151.9L307.5 152.0L308.0 152.1L308.5 152.1L309.0 152.2L309.5 152.2L310.0 152.3L310.5 152.3L311.0 152.4L311.5 152.4L312.0 152.5L312.5 152.5L313.0 152.6L313.5 152.6L314.0 152.7L314.5 152.8L315.0 152.8L315.5 152.9L316.0 152.9L316.5 153.0L317.0 153.0L317.5 153.1L318.0 153.1L318.5 153.2L319.0 153.2L319.5 153.3L320.0 153.4L320.5 153.4L321.0 153.5L321.5 153.5L322.0 153.6L322.5 153.6L323.0 153.7L323.5 153.7L324.0 153.8L324.5 153.8L325.0 153.9L325.5 153.9L326.0 154.0L326.5 154.1L327.0 154.1L327.5 154.2L328.0 154.2L328.5 154.3L329.0 154.3L329.5 154.4L330.0 154.4L330.5 154.5L331.0 154.5L331.5 154.6L332.0 154.6L332.5 154.7L333.0 154.7L333.5 154.8L334.0 154.8L334.5 154.9L335.0 154.9L335.5 155.0L336.0 155.0L336.5 155.1L337.0 155.1L337.5 155.2L338.0 155.2L338.5 155.3L339.0 155.3L339.5 155.4L340.0 155.4L340.5 155.5L341.0 155.5L341.5 155.5L342.0 155.6L342.5 155.6L343.0 155.7L343.5 155.7L344.0 155.8L344.5 155.8L345.0 155.9L345.5 155.9L346.0 155.9L346.5 156.0L347.0 156.0L347.5 156.1L348.0 156.1L348.5 156.2L349.0 156.2L349.5 156.2L350.0 156.3L350.5 156.3L351.0 156.4L351.5 156.4L352.0 156.4L352.5 156.5L353.0 156.5L353.5 156.5L354.0 156.6L354.5 156.6L355.0 156.7L355.5 156.7L356.0 156.7L356.5 156.8L357.0 156.8L357.5 156.8L358.0 156.9L358.5 156.9L359.0 156.9L359.5 157.0L360.0 157.0L360.5 157.1L361.0 157.1L361.5 157.1L362.0 157.2L362.5 157.2L363.0 157.2L363.5 157.2L364.0 157.3L364.5 157.3L365.0 157.3L365.5 157.4L366.0 157.4L366.5 157.4L367.0 157.5L367.5 157.5L368.0 157.5L368.5 157.6L369.0 157.6L369.5 157.6L370.0 157.6L370.5 157.7L371.0 157.7L371.5 157.7L372.0 157.8L372.5 157.8L373.0 157.8L373.5 157.8L374.0 157.9L374.5 157.9L375.0 157.9L375.5 157.9L376.0 158.0L376.5 158.0L377.0 158.0L377.5 158.0L378.0 158.1L378.5 158.1L379.0 158.1L379.5 158.1L380.0 158.2L380.5 158.2L381.0 158.2L381.5 158.2L382.0 158.3L382.5 158.3L383.0 158.3L383.5 158.3L384.0 158.3L384.5 158.4L385.0 158.4L385.5 158.4L386.0 158.4L386.5 158.4L387.0 158.5L387.5 158.5L388.0 158.5L388.5 158.5L389.0 158.5L389.5 158.6L390.0 158.6L390.5 158.6L391.0 158.6L391.5 158.6L392.0 158.7L392.5 158.7L393.0 158.7L393.5 158.7L394.0 158.7L394.5 158.7L395.0 158.8L395.5 158.8L396.0 158.8L396.5 158.8L397.0 158.8L397.5 158.8L398.0 158.9L398.5 158.9L399.0 158.9L399.5 158.9L400.0 158.9L400.5 158.9L401.0 159.0L401.5 159.0L402.0 159.0L402.5 159.0L403.0 159.0L403.5 159.0L404.0 159.0L404.5 159.1L405.0 159.1L405.5 159.1L406.0 159.1L406.5 159.1L407.0 159.1L407.5 159.1L408.0 159.1L408.5 159.2L409.0 159.2L409.5 159.2L410.0 159.2L410.5 159.2L411.0 159.2L411.5 159.2L412.0 159.2L412.5 159.2L413.0 159.3L413.5 159.3L414.0 159.3L414.5 159.3L415.0 159.3L415.5 159.3L416.0 159.3L416.5 159.3L417.0 159.3L417.5 159.3L418.0 159.3L418.5 159.4L419.0 159.4L419.5 159.4L420.0 159.4L420.5 159.4L421.0 159.4L421.5 159.4L422.0 159.4L422.5 159.4L423.0 159.4L423.5 159.4L424.0 159.4L424.5 159.5L425.0 159.5L425.5 159.5L426.0 159.5L426.5 159.5L427.0 159.5L427.5 159.5L428.0 159.5L428.5 159.5L429.0 159.5L429.5 159.5L430.0 159.5L430.5 159.5L431.0 159.5L431.5 159.5L432.0 159.5L432.5 159.6L433.0 159.6L433.5 159.6L434.0 159.6L434.5 159.6L435.0 159.6L435.5 159.6L436.0 159.6L436.5 159.6L437.0 159.6L437.5 159.6L438.0 159.6L438.5 159.6L439.0 159.6L439.5 159.6L440.0 159.6L440.5 159.6L441.0 159.6L441.5 159.6L442.0 159.6L442.5 159.6L443.0 159.6L443.5 159.6L444.0 159.6L444.5 159.6L445.0 159.6L445.5 159.6L446.0 159.6L446.5 159.6L447.0 159.6L447.5 159.6L448.0 159.6L448.5 159.6L449.0 159.6L449.5 159.6L450.0 159.6L450.5 159.6L451.0 159.6L451.5 159.6L452.0 159.6L452.5 159.6L453.0 159.6L453.5 159.6L454.0 159.6L454.5 159.6L455.0 159.6L455.5 159.6L456.0 159.6L456.5 159.6L457.0 159.6L457.5 159.6L458.0 159.6L458.5 159.6L459.0 159.6L459.5 159.6L460.0 159.6L460.5 159.6L461.0 159.6L461.5 159.6L462.0 159.6L462.5 159.6L463.0 159.6L463.5 159.6L464.0 159.6L464.5 159.6L465.0 159.6L465.5 159.6L466.0 159.6L466.5 159.6L467.0 159.6L467.5 159.6L468.0 159.6L468.5 159.6L469.0 159.6L469.5 159.6L470.0 159.6L470.5 159.6L471.0 159.5L471.5 159.5L472.0 159.5L472.5 159.5L473.0 159.5L473.5 159.5L474.0 159.5L474.5 159.5L475.0 159.5L475.5 159.5L476.0 159.5L476.5 159.5L477.0 159.5L477.5 159.5L478.0 159.5L478.5 159.5L479.0 159.4L479.5 159.4L480.0 159.4L480.5 159.4L481.0 159.4L481.5 159.4L482.0 159.4L482.5 159.4L483.0 159.4L483.5 159.4L484.0 159.4L484.5 159.4L485.0 159.4L485.5 159.3L486.0 159.3L486.5 159.3L487.0 159.3L487.5 159.3L488.0 159.3L488.5 159.3L489.0 159.3L489.5 159.3L490.0 159.3L490.5 159.2L491.0 159.2L491.5 159.2L492.0 159.2L492.5 159.2L493.0 159.2L493.5 159.2L494.0 159.2L494.5 159.2L495.0 159.1L495.5 159.1L496.0 159.1L496.5 159.1L497.0 159.1L497.5 159.1L498.0 159.1L498.5 159.1L499.0 159.1L499.5 159.0L500.0 159.0L500.5 159.0L501.0 159.0L501.5 159.0L502.0 159.0L502.5 159.0L503.0 159.0L503.5 158.9L504.0 158.9L504.5 158.9L505.0 158.9L505.5 158.9L506.0 158.9L506.5 158.9L507.0 158.8L507.5 158.8L508.0 158.8L508.5 158.8L509.0 158.8L509.5 158.8L510.0 158.8L510.5 158.7L511.0 158.7L511.5 158.7L512.0 158.7L512.5 158.7L513.0 158.7L513.5 158.6L514.0 158.6L514.5 158.6L515.0 158.6L515.5 158.6L516.0 158.6L516.5 158.5L517.0 158.5L517.5 158.5L518.0 158.5L518.5 158.5L519.0 158.5L519.5 158.4L520.0 158.4L520.5 158.4L521.0 158.4L521.5 158.4L522.0 158.4L522.5 158.3L523.0 158.3L523.5 158.3L524.0 158.3L524.5 158.3L525.0 158.2L525.5 158.2L526.0 158.2L526.5 158.2L527.0 158.2L527.5 158.2L528.0 158.1L528.5 158.1L529.0 158.1L529.5 158.1L530.0 158.1L530.5 158.0L531.0 158.0L531.5 158.0L532.0 158.0L532.5 157.9L533.0 157.9L533.5 157.9L534.0 157.9L534.5 157.9L535.0 157.8L535.5 157.8L536.0 157.8L536.5 157.8L537.0 157.8L537.5 157.7L538.0 157.7L538.5 157.7L539.0 157.7L539.5 157.6L540.0 157.6L540.5 157.6L541.0 157.6L541.5 157.6L542.0 157.5L542.5 157.5L543.0 157.5L543.5 157.5L544.0 157.4L544.5 157.4L545.0 157.4L545.5 157.4L546.0 157.3L546.5 157.3L547.0 157.3L547.5 157.3L548.0 157.3L548.5 157.2L549.0 157.2L549.5 157.2L550.0 157.2L550.5 157.1L551.0 157.1L551.5 157.1L552.0 157.1L552.5 157.0L553.0 157.0L553.5 157.0L554.0 157.0L554.5 156.9L555.0 156.9L555.5 156.9L556.0 156.8L556.5 156.8L557.0 156.8L557.5 156.8L558.0 156.7L558.5 156.7L559.0 156.7L559.5 156.7L560.0 156.6L560.5 156.6L561.0 156.6L561.5 156.6L562.0 156.5L562.5 156.5L563.0 156.5L563.5 156.4L564.0 156.4L564.5 156.4L565.0 156.4L565.5 156.3L566.0 156.3L566.5 156.3L567.0 156.2L567.5 156.2L568.0 156.2L568.5 156.2L569.0 156.1L569.5 156.1L570.0 156.1L570.5 156.0L571.0 156.0L571.5 156.0L572.0 155.9L572.5 155.9L573.0 155.9L573.5 155.9L574.0 155.8L574.5 155.8L575.0 155.8L575.5 155.7L576.0 155.7L576.5 155.7L577.0 155.6L577.5 155.6L578.0 155.6L578.5 155.5L579.0 155.5L579.5 155.5L580.0 155.4L580.5 155.4L581.0 155.4L581.5 155.4L582.0 155.3L582.5 155.3L583.0 155.3L583.5 155.2L584.0 155.2L584.5 155.2L585.0 155.1L585.5 155.1L586.0 155.1L586.5 155.0L587.0 155.0L587.5 155.0L588.0 154.9L588.5 154.9L589.0 154.9L589.5 154.8L590.0 154.8L590.5 154.8L591.0 154.7L591.5 154.7L592.0 154.6L592.5 154.6L593.0 154.6L593.5 154.5L594.0 154.5L594.5 154.5L595.0 154.4L595.5 154.4L596.0 154.4L596.5 154.3L597.0 154.3L597.5 154.3L598.0 154.2L598.5 154.2L599.0 154.2L599.5 154.1L600.0 154.1L600.5 154.0L601.0 154.0L601.5 154.0L602.0 153.9L602.5 153.9L603.0 153.9L603.5 153.8L604.0 153.8L604.5 153.7L605.0 153.7L605.5 153.7L606.0 153.6L606.5 153.6L607.0 153.6L607.5 153.5L608.0 153.5L608.5 153.4L609.0 153.4L609.5 153.4L610.0 153.3L610.5 153.3L611.0 153.2L611.5 153.2L612.0 153.2L612.5 153.1L613.0 153.1L613.5 153.0L614.0 153.0L614.5 153.0L615.0 152.9L615.5 152.9L616.0 152.8L616.5 152.8L617.0 152.8L617.5 152.7L618.0 152.7L618.5 152.6L619.0 152.6L619.5 152.6L620.0 152.5L620.5 152.5L621.0 152.4L621.5 152.4L622.0 152.3L622.5 152.3L623.0 152.3L623.5 152.2L624.0 152.2L624.5 152.1L625.0 152.1L625.5 152.0L626.0 152.0L626.5 152.0L627.0 151.9L627.5 151.9L628.0 151.8L628.5 151.8L629.0 151.7L629.5 151.7L630.0 151.6L630.5 151.6L631.0 151.5L631.5 151.5L632.0 151.5L632.5 151.4L633.0 151.4L633.5 151.3L634.0 151.3L634.5 151.2L635.0 151.2L635.5 151.1L636.0 151.1L636.5 151.0L637.0 151.0L637.5 150.9L638.0 150.9L638.5 150.8L639.0 150.8L639.5 150.7L640.0 150.7L640.5 150.6L641.0 150.6L641.5 150.5L642.0 150.5L642.5 150.4L643.0 150.4L643.5 150.3L644.0 150.3L644.5 150.2L645.0 150.2L645.5 150.1L646.0 150.1L646.5 150.0L647.0 150.0L647.5 149.9L648.0 149.9L648.5 149.8L649.0 149.8L649.5 149.7L650.0 149.7L650.5 149.6L651.0 149.5L651.5 149.5L652.0 149.4L652.5 149.4L653.0 149.3L653.5 149.3L654.0 149.2L654.5 149.2L655.0 149.1L655.5 149.0L656.0 149.0L656.5 148.9L657.0 148.9L657.5 148.8L658.0 148.8L658.5 148.7L659.0 148.6L659.5 148.6L660.0 148.5L660.5 148.5L661.0 148.4L661.5 148.4L662.0 148.3L662.5 148.2L663.0 148.2L663.5 148.1L664.0 148.0L664.5 148.0L665.0 147.9L665.5 147.9L666.0 147.8L666.5 147.7L667.0 147.7L667.5 147.6L668.0 147.6L668.5 147.5L669.0 147.4L669.5 147.4L670.0 147.3L670.5 147.2L671.0 147.2L671.5 147.1L672.0 147.0L672.5 147.0L673.0 146.9L673.5 146.8L674.0 146.8L674.5 146.7L675.0 146.6L675.5 146.6L676.0 146.5L676.5 146.4L677.0 146.4L677.5 146.3L678.0 146.2L678.5 146.2L679.0 146.1L679.5 146.0L680.0 145.9L680.5 145.9L681.0 145.8L681.5 145.7L682.0 145.7L682.5 145.6L683.0 145.5L683.5 145.4L684.0 145.4L684.5 145.3L685.0 145.2L685.5 145.2L686.0 145.1L686.5 145.0L687.0 144.9L687.5 144.9L688.0 144.8L688.5 144.7L689.0 144.6L689.5 144.6L690.0 144.5L690.5 144.4L691.0 144.3L691.5 144.2L692.0 144.2L692.5 144.1L693.0 144.0L693.5 143.9L694.0 143.9L694.5 143.8L695.0 143.7L695.5 143.6L696.0 143.5L696.5 143.4L697.0 143.4L697.5 143.3L698.0 143.2L698.5 143.1L699.0 143.0L699.5 143.0L700.0 142.9L700.5 142.8L701.0 142.7L701.5 142.6L702.0 142.5L702.5 142.4L703.0 142.4L703.5 142.3L704.0 142.2L704.5 142.1L705.0 142.0L705.5 141.9L706.0 141.8L706.5 141.8L707.0 141.7L707.5 141.6L708.0 141.5L708.5 141.4L709.0 141.3L709.5 141.2L710.0 141.1L710.5 141.0L711.0 140.9L711.5 140.8L712.0 140.8L712.5 140.7L713.0 140.6L713.5 140.5L714.0 140.4L714.5 140.3L715.0 140.2L715.5 140.1L716.0 140.0L716.5 139.9L717.0 139.8L717.5 139.7L718.0 139.6L718.5 139.5L719.0 139.4L719.5 139.3L720.0 139.2L720.5 139.1L721.0 139.0L721.5 138.9L722.0 138.8L722.5 138.7L723.0 138.6L723.5 138.5L724.0 138.4L724.5 138.3L725.0 138.2L725.5 138.1L726.0 138.0L726.5 137.9L727.0 137.8L727.5 137.7L728.0 137.6L728.5 137.5L729.0 137.4L729.5 137.3L730.0 137.2L730.5 137.0L731.0 136.9L731.5 136.8L732.0 136.7L732.5 136.6L733.0 136.5L733.5 136.4L734.0 136.3L734.5 136.2L735.0 136.1L735.5 135.9L736.0 135.8L736.5 135.7L737.0 135.6L737.5 135.5L738.0 135.4L738.5 135.3L739.0 135.1L739.5 135.0L740.0 134.9L740.5 134.8L741.0 134.7L741.5 134.6L742.0 134.4L742.5 134.3L743.0 134.2L743.5 134.1L744.0 134.0L744.5 133.8L745.0 133.7L745.5 133.6L746.0 133.5L746.5 133.4L747.0 133.2L747.5 133.1L748.0 133.0L748.5 132.9L749.0 132.7L749.5 132.6L750.0 132.5L750.5 132.4L751.0 132.2L751.5 132.1L752.0 132.0L752.5 131.9L753.0 131.7L753.5 131.6L754.0 131.5L754.5 131.3L755.0 131.2L755.5 131.1L756.0 130.9L756.5 130.8L757.0 130.7L757.5 130.5L758.0 130.4L758.5 130.3L759.0 130.1L759.5 130.0L760.0 129.9L760.5 129.7L761.0 129.6L761.5 129.5L762.0 129.3L762.5 129.2L763.0 129.1L763.5 128.9L764.0 128.8L764.5 128.6L765.0 128.5L765.5 128.4L766.0 128.2L766.5 128.1L767.0 127.9L767.5 127.8L768.0 127.6L768.5 127.5L769.0 127.3L769.5 127.2L770.0 127.1L770.5 126.9L771.0 126.8L771.5 126.6L772.0 126.5L772.5 126.3L773.0 126.2L773.5 126.0L774.0 125.9L774.5 125.7L775.0 125.6L775.5 125.4L776.0 125.3L776.5 125.1L777.0 125.0L777.5 124.8L778.0 124.7L778.5 124.5L779.0 124.3L779.5 124.2L780.0 124.0L780.5 123.9L781.0 123.7L781.5 123.6L782.0 123.4L782.5 123.2L783.0 123.1L783.5 122.9L784.0 122.8L784.5 122.6L785.0 122.4L785.5 122.3L786.0 122.1L786.5 121.9L787.0 121.8L787.5 121.6L788.0 121.4L788.5 121.3L789.0 121.1L789.5 120.9L790.0 120.8L790.5 120.6L791.0 120.4L791.5 120.3L792.0 120.1L792.5 119.9L793.0 119.8L793.5 119.6L794.0 119.4L794.5 119.2L795.0 119.1L795.5 118.9L796.0 118.7L796.5 118.5L797.0 118.4L797.5 118.2L798.0 118.0L798.5 117.8L799.0 117.6L799.5 117.5L800.0 117.3L800.5 117.1L801.0 116.9L801.5 116.7L802.0 116.6L802.5 116.4L803.0 116.2L803.5 116.0L804.0 115.8L804.5 115.6L805.0 115.4L805.5 115.2L806.0 115.0L806.5 114.9L807.0 114.7L807.5 114.5L808.0 114.3L808.5 114.1L809.0 113.9L809.5 113.7L810.0 113.5L810.5 113.3L811.0 113.1L811.5 112.9L812.0 112.7L812.5 112.5L813.0 112.2L813.5 112.0L814.0 111.8L814.5 111.6L815.0 111.4L815.5 111.2L816.0 111.0L816.5 110.8L817.0 110.5L817.5 110.3L818.0 110.1L818.5 109.9L819.0 109.7L819.5 109.4L820.0 109.2L820.5 109.0L821.0 108.7L821.5 108.5L822.0 108.3L822.5 108.1L823.0 107.8L823.5 107.6L824.0 107.3L824.5 107.1L825.0 106.9L825.5 106.6L826.0 106.4L826.5 106.1L827.0 105.9L827.5 105.6L828.0 105.4L828.5 105.1L829.0 104.9L829.5 104.6L830.0 104.3L830.5 104.1L831.0 103.8L831.5 103.6L832.0 103.3L832.5 103.0L833.0 102.7L833.5 102.5L834.0 102.2L834.5 101.9L835.0 101.6L835.5 101.4L836.0 101.1L836.5 100.8L837.0 100.5L837.5 100.2L838.0 99.9L838.5 99.6L839.0 99.3L839.5 99.0L840.0 98.7L840.5 98.4L841.0 98.1L841.5 97.8L842.0 97.5L842.5 97.2L843.0 96.9L843.5 96.6L844.0 96.3L844.5 95.9L845.0 95.6L845.5 95.3L846.0 95.0L846.5 94.6L847.0 94.3L847.5 94.0L848.0 93.6L848.5 93.3L849.0 93.0L849.5 92.6L850.0 92.3L850.5 91.9L851.0 91.6L851.5 91.2L852.0 90.9L852.5 90.5L853.0 90.1L853.5 89.8L854.0 89.4L854.5 89.0L855.0 88.7L855.5 88.3L856.0 87.9L856.5 87.5L857.0 87.2L857.5 86.8L858.0 86.4L858.5 86.0L859.0 85.6L859.5 85.2L860.0 84.8L860.5 84.4L861.0 84.0L861.5 83.6L862.0 83.2L862.5 82.8L863.0 82.3L863.5 81.9L864.0 81.5L864.5 81.1L865.0 80.6L865.5 80.2L866.0 79.8" stroke="#77AC30" stroke-width="2.5" fill="none" stroke-linejoin="round" clip-path="url(#ca)"/>
<path d="M105.5 411.5L106.0 410.7L106.5 409.9L107.0 409.2L107.5 408.4L108.0 407.7L108.5 407.0L109.0 406.3L109.5 405.7L110.0 405.0L110.5 404.3L111.0 403.6L111.5 402.9L112.0 402.1L112.5 401.4L113.0 400.6L113.5 399.8L114.0 398.9L114.5 398.0L115.0 397.0L115.5 396.0L116.0 394.9L116.5 393.8L117.0 392.5L117.5 391.3L118.0 389.9L118.5 388.5L119.0 387.1L119.5 385.7L120.0 384.2L120.5 382.8L121.0 381.3L121.5 379.9L122.0 378.4L122.5 376.9L123.0 375.5L123.5 373.9L124.0 372.4L124.5 370.8L125.0 369.2L125.5 367.5L126.0 365.7L126.5 363.9L127.0 362.0L127.5 360.1L128.0 358.0L128.5 355.9L129.0 353.7L129.5 351.5L130.0 349.2L130.5 346.9L131.0 344.6L131.5 342.2L132.0 339.9L132.5 337.5L133.0 335.1L133.5 332.8L134.0 330.4L134.5 328.1L135.0 325.8L135.5 323.6L136.0 321.4L136.5 319.2L137.0 317.0L137.5 314.9L138.0 312.8L138.5 310.7L139.0 308.7L139.5 306.6L140.0 304.6L140.5 302.7L141.0 300.7L141.5 298.8L142.0 296.9L142.5 295.0L143.0 293.2L143.5 291.3L144.0 289.5L144.5 287.7L145.0 286.0L145.5 284.2L146.0 282.5L146.5 280.8L147.0 279.2L147.5 277.5L148.0 275.9L148.5 274.2L149.0 272.6L149.5 271.1L150.0 269.5L150.5 268.0L151.0 266.4L151.5 264.9L152.0 263.4L152.5 261.9L153.0 260.5L153.5 259.0L154.0 257.6L154.5 256.2L155.0 254.8L155.5 253.4L156.0 252.0L156.5 250.6L157.0 249.3L157.5 247.9L158.0 246.6L158.5 245.2L159.0 243.9L159.5 242.6L160.0 241.3L160.5 240.0L161.0 238.7L161.5 237.4L162.0 236.2L162.5 234.9L163.0 233.6L163.5 232.4L164.0 231.1L164.5 229.8L165.0 228.6L165.5 227.3L166.0 226.1L166.5 224.8L167.0 223.6L167.5 222.4L168.0 221.1L168.5 219.9L169.0 218.6L169.5 217.4L170.0 216.1L170.5 214.9L171.0 213.7L171.5 212.4L172.0 211.2L172.5 210.0L173.0 208.7L173.5 207.5L174.0 206.3L174.5 205.1L175.0 203.9L175.5 202.7L176.0 201.5L176.5 200.3L177.0 199.1L177.5 198.0L178.0 196.8L178.5 195.7L179.0 194.5L179.5 193.4L180.0 192.3L180.5 191.2L181.0 190.1L181.5 189.0L182.0 188.0L182.5 186.9L183.0 185.9L183.5 184.9L184.0 183.9L184.5 182.9L185.0 182.0L185.5 181.0L186.0 180.1L186.5 179.2L187.0 178.3L187.5 177.4L188.0 176.6L188.5 175.8L189.0 175.0L189.5 174.2L190.0 173.4L190.5 172.7L191.0 172.0L191.5 171.3L192.0 170.6L192.5 170.0L193.0 169.4L193.5 168.8L194.0 168.2L194.5 167.6L195.0 167.1L195.5 166.6L196.0 166.1L196.5 165.6L197.0 165.1L197.5 164.7L198.0 164.3L198.5 163.8L199.0 163.4L199.5 163.1L200.0 162.7L200.5 162.4L201.0 162.0L201.5 161.7L202.0 161.4L202.5 161.1L203.0 160.9L203.5 160.6L204.0 160.3L204.5 160.1L205.0 159.9L205.5 159.7L206.0 159.5L206.5 159.3L207.0 159.1L207.5 158.9L208.0 158.8L208.5 158.6L209.0 158.5L209.5 158.3L210.0 158.2L210.5 158.1L211.0 158.0L211.5 157.9L212.0 157.8L212.5 157.7L213.0 157.6L213.5 157.5L214.0 157.5L214.5 157.4L215.0 157.3L215.5 157.2L216.0 157.2L216.5 157.1L217.0 157.1L217.5 157.0L218.0 157.0L218.5 156.9L219.0 156.9L219.5 156.9L220.0 156.8L220.5 156.8L221.0 156.8L221.5 156.7L222.0 156.7L222.5 156.7L223.0 156.7L223.5 156.7L224.0 156.6L224.5 156.6L225.0 156.6L225.5 156.6L226.0 156.6L226.5 156.6L227.0 156.6L227.5 156.6L228.0 156.6L228.5 156.6L229.0 156.6L229.5 156.7L230.0 156.7L230.5 156.7L231.0 156.7L231.5 156.7L232.0 156.7L232.5 156.8L233.0 156.8L233.5 156.8L234.0 156.8L234.5 156.9L235.0 156.9L235.5 156.9L236.0 157.0L236.5 157.0L237.0 157.0L237.5 157.0L238.0 157.1L238.5 157.1L239.0 157.2L239.5 157.2L240.0 157.2L240.5 157.3L241.0 157.3L241.5 157.3L242.0 157.4L242.5 157.4L243.0 157.4L243.5 157.5L244.0 157.5L244.5 157.6L245.0 157.6L245.5 157.6L246.0 157.7L246.5 157.7L247.0 157.8L247.5 157.8L248.0 157.8L248.5 157.9L249.0 157.9L249.5 157.9L250.0 158.0L250.5 158.0L251.0 158.0L251.5 158.1L252.0 158.1L252.5 158.1L253.0 158.2L253.5 158.2L254.0 158.2L254.5 158.2L255.0 158.3L255.5 158.3L256.0 158.3L256.5 158.3L257.0 158.3L257.5 158.4L258.0 158.4L258.5 158.4L259.0 158.4L259.5 158.4L260.0 158.4L260.5 158.4L261.0 158.4L261.5 158.4L262.0 158.4L262.5 158.4L263.0 158.4L263.5 158.4L264.0 158.4L264.5 158.4L265.0 158.4L265.5 158.3L266.0 158.3L266.5 158.3L267.0 158.3L267.5 158.2L268.0 158.2L268.5 158.2L269.0 158.1L269.5 158.1L270.0 158.1L270.5 158.0L271.0 158.0L271.5 157.9L272.0 157.9L272.5 157.8L273.0 157.8L273.5 157.8L274.0 157.7L274.5 157.7L275.0 157.6L275.5 157.5L276.0 157.5L276.5 157.4L277.0 157.4L277.5 157.3L278.0 157.3L278.5 157.2L279.0 157.2L279.5 157.1L280.0 157.0L280.5 157.0L281.0 156.9L281.5 156.9L282.0 156.8L282.5 156.7L283.0 156.7L283.5 156.6L284.0 156.6L284.5 156.5L285.0 156.5L285.5 156.4L286.0 156.4L286.5 156.3L287.0 156.2L287.5 156.2L288.0 156.1L288.5 156.1L289.0 156.0L289.5 156.0L290.0 156.0L290.5 155.9L291.0 155.9L291.5 155.8L292.0 155.8L292.5 155.8L293.0 155.7L293.5 155.7L294.0 155.7L294.5 155.6L295.0 155.6L295.5 155.6L296.0 155.6L296.5 155.5L297.0 155.5L297.5 155.5L298.0 155.5L298.5 155.5L299.0 155.5L299.5 155.5L300.0 155.5L300.5 155.5L301.0 155.5L301.5 155.5L302.0 155.5L302.5 155.5L303.0 155.5L303.5 155.5L304.0 155.5L304.5 155.5L305.0 155.5L305.5 155.6L306.0 155.6L306.5 155.6L307.0 155.7L307.5 155.7L308.0 155.7L308.5 155.8L309.0 155.8L309.5 155.9L310.0 155.9L310.5 156.0L311.0 156.0L311.5 156.1L312.0 156.2L312.5 156.2L313.0 156.3L313.5 156.3L314.0 156.4L314.5 156.5L315.0 156.6L315.5 156.6L316.0 156.7L316.5 156.8L317.0 156.9L317.5 157.0L318.0 157.0L318.5 157.1L319.0 157.2L319.5 157.3L320.0 157.4L320.5 157.5L321.0 157.6L321.5 157.7L322.0 157.8L322.5 157.9L323.0 158.0L323.5 158.1L324.0 158.2L324.5 158.3L325.0 158.4L325.5 158.5L326.0 158.6L326.5 158.7L327.0 158.8L327.5 158.9L328.0 159.0L328.5 159.1L329.0 159.2L329.5 159.3L330.0 159.4L330.5 159.5L331.0 159.6L331.5 159.7L332.0 159.8L332.5 159.9L333.0 160.0L333.5 160.1L334.0 160.2L334.5 160.3L335.0 160.4L335.5 160.4L336.0 160.5L336.5 160.6L337.0 160.7L337.5 160.7L338.0 160.8L338.5 160.8L339.0 160.9L339.5 160.9L340.0 160.9L340.5 160.9L341.0 160.9L341.5 161.0L342.0 161.0L342.5 161.0L343.0 160.9L343.5 160.9L344.0 160.9L344.5 160.9L345.0 160.9L345.5 160.9L346.0 160.8L346.5 160.8L347.0 160.8L347.5 160.8L348.0 160.7L348.5 160.7L349.0 160.7L349.5 160.6L350.0 160.6L350.5 160.6L351.0 160.5L351.5 160.5L352.0 160.5L352.5 160.5L353.0 160.4L353.5 160.4L354.0 160.4L354.5 160.4L355.0 160.4L355.5 160.3L356.0 160.3L356.5 160.3L357.0 160.3L357.5 160.3L358.0 160.4L358.5 160.4L359.0 160.4L359.5 160.4L360.0 160.4L360.5 160.4L361.0 160.4L361.5 160.5L362.0 160.5L362.5 160.5L363.0 160.5L363.5 160.5L364.0 160.5L364.5 160.5L365.0 160.5L365.5 160.5L366.0 160.6L366.5 160.6L367.0 160.6L367.5 160.6L368.0 160.6L368.5 160.6L369.0 160.6L369.5 160.6L370.0 160.6L370.5 160.6L371.0 160.6L371.5 160.6L372.0 160.6L372.5 160.6L373.0 160.6L373.5 160.6L374.0 160.6L374.5 160.6L375.0 160.6L375.5 160.6L376.0 160.6L376.5 160.6L377.0 160.6L377.5 160.6L378.0 160.6L378.5 160.6L379.0 160.6L379.5 160.6L380.0 160.6L380.5 160.6L381.0 160.6L381.5 160.6L382.0 160.6L382.5 160.6L383.0 160.6L383.5 160.6L384.0 160.6L384.5 160.6L385.0 160.6L385.5 160.6L386.0 160.5L386.5 160.5L387.0 160.5L387.5 160.5L388.0 160.5L388.5 160.5L389.0 160.4L389.5 160.4L390.0 160.4L390.5 160.3L391.0 160.3L391.5 160.3L392.0 160.2L392.5 160.2L393.0 160.1L393.5 160.1L394.0 160.0L394.5 160.0L395.0 159.9L395.5 159.8L396.0 159.8L396.5 159.7L397.0 159.7L397.5 159.6L398.0 159.6L398.5 159.5L399.0 159.5L399.5 159.4L400.0 159.4L400.5 159.3L401.0 159.3L401.5 159.3L402.0 159.2L402.5 159.2L403.0 159.2L403.5 159.2L404.0 159.1L404.5 159.1L405.0 159.1L405.5 159.1L406.0 159.1L406.5 159.1L407.0 159.1L407.5 159.2L408.0 159.2L408.5 159.2L409.0 159.2L409.5 159.2L410.0 159.3L410.5 159.3L411.0 159.3L411.5 159.3L412.0 159.4L412.5 159.4L413.0 159.4L413.5 159.5L414.0 159.5L414.5 159.5L415.0 159.5L415.5 159.6L416.0 159.6L416.5 159.6L417.0 159.7L417.5 159.7L418.0 159.7L418.5 159.7L419.0 159.7L419.5 159.8L420.0 159.8L420.5 159.8L421.0 159.8L421.5 159.8L422.0 159.8L422.5 159.8L423.0 159.8L423.5 159.8L424.0 159.8L424.5 159.8L425.0 159.8L425.5 159.7L426.0 159.7L426.5 159.7L427.0 159.7L427.5 159.7L428.0 159.7L428.5 159.6L429.0 159.6L429.5 159.6L430.0 159.6L430.5 159.6L431.0 159.5L431.5 159.5L432.0 159.5L432.5 159.5L433.0 159.4L433.5 159.4L434.0 159.4L434.5 159.4L435.0 159.3L435.5 159.3L436.0 159.3L436.5 159.3L437.0 159.3L437.5 159.2L438.0 159.2L438.5 159.2L439.0 159.2L439.5 159.2L440.0 159.2L440.5 159.2L441.0 159.1L441.5 159.1L442.0 159.1L442.5 159.1L443.0 159.1L443.5 159.1L444.0 159.1L444.5 159.1L445.0 159.1L445.5 159.2L446.0 159.2L446.5 159.2L447.0 159.2L447.5 159.2L448.0 159.2L448.5 159.2L449.0 159.2L449.5 159.2L450.0 159.2L450.5 159.3L451.0 159.3L451.5 159.3L452.0 159.3L452.5 159.3L453.0 159.3L453.5 159.3L454.0 159.4L454.5 159.4L455.0 159.4L455.5 159.4L456.0 159.4L456.5 159.4L457.0 159.4L457.5 159.5L458.0 159.5L458.5 159.5L459.0 159.5L459.5 159.5L460.0 159.5L460.5 159.5L461.0 159.6L461.5 159.6L462.0 159.6L462.5 159.6L463.0 159.6L463.5 159.6L464.0 159.6L464.5 159.7L465.0 159.7L465.5 159.7L466.0 159.7L466.5 159.7L467.0 159.7L467.5 159.7L468.0 159.8L468.5 159.8L469.0 159.8L469.5 159.8L470.0 159.8L470.5 159.8L471.0 159.8L471.5 159.8L472.0 159.9L472.5 159.9L473.0 159.9L473.5 159.9L474.0 159.9L474.5 159.9L475.0 159.9L475.5 159.9L476.0 160.0L476.5 160.0L477.0 160.0L477.5 160.0L478.0 160.0L478.5 160.0L479.0 160.0L479.5 160.0L480.0 160.0L480.5 160.0L481.0 160.0L481.5 160.0L482.0 160.0L482.5 160.0L483.0 160.0L483.5 160.0L484.0 160.0L484.5 160.0L485.0 159.9L485.5 159.9L486.0 159.9L486.5 159.9L487.0 159.9L487.5 159.9L488.0 159.8L488.5 159.8L489.0 159.8L489.5 159.8L490.0 159.8L490.5 159.7L491.0 159.7L491.5 159.7L492.0 159.7L492.5 159.6L493.0 159.6L493.5 159.6L494.0 159.6L494.5 159.5L495.0 159.5L495.5 159.5L496.0 159.5L496.5 159.5L497.0 159.4L497.5 159.4L498.0 159.4L498.5 159.4L499.0 159.3L499.5 159.3L500.0 159.3L500.5 159.3L501.0 159.2L501.5 159.2L502.0 159.2L502.5 159.2L503.0 159.2L503.5 159.2L504.0 159.1L504.5 159.1L505.0 159.1L505.5 159.1L506.0 159.2L506.5 159.2L507.0 159.2L507.5 159.2L508.0 159.2L508.5 159.3L509.0 159.3L509.5 159.3L510.0 159.4L510.5 159.4L511.0 159.4L511.5 159.5L512.0 159.5L512.5 159.6L513.0 159.6L513.5 159.7L514.0 159.7L514.5 159.7L515.0 159.8L515.5 159.8L516.0 159.8L516.5 159.9L517.0 159.9L517.5 159.9L518.0 160.0L518.5 160.0L519.0 160.0L519.5 160.0L520.0 160.0L520.5 160.0L521.0 160.0L521.5 160.0L522.0 160.0L522.5 160.0L523.0 160.0L523.5 160.0L524.0 160.0L524.5 159.9L525.0 159.9L525.5 159.9L526.0 159.9L526.5 159.8L527.0 159.8L527.5 159.8L528.0 159.7L528.5 159.7L529.0 159.7L529.5 159.6L530.0 159.6L530.5 159.5L531.0 159.5L531.5 159.5L532.0 159.4L532.5 159.4L533.0 159.3L533.5 159.3L534.0 159.3L534.5 159.2L535.0 159.2L535.5 159.1L536.0 159.1L536.5 159.0L537.0 159.0L537.5 159.0L538.0 158.9L538.5 158.9L539.0 158.8L539.5 158.8L540.0 158.7L540.5 158.7L541.0 158.6L541.5 158.6L542.0 158.6L542.5 158.5L543.0 158.5L543.5 158.4L544.0 158.4L544.5 158.3L545.0 158.3L545.5 158.3L546.0 158.2L546.5 158.2L547.0 158.1L547.5 158.1L548.0 158.1L548.5 158.0L549.0 158.0L549.5 158.0L550.0 157.9L550.5 157.9L551.0 157.9L551.5 157.9L552.0 157.8L552.5 157.8L553.0 157.8L553.5 157.8L554.0 157.8L554.5 157.8L555.0 157.8L555.5 157.8L556.0 157.8L556.5 157.8L557.0 157.8L557.5 157.8L558.0 157.8L558.5 157.8L559.0 157.8L559.5 157.8L560.0 157.8L560.5 157.8L561.0 157.8L561.5 157.8L562.0 157.8L562.5 157.9L563.0 157.9L563.5 157.9L564.0 157.9L564.5 157.9L565.0 157.9L565.5 157.9L566.0 157.9L566.5 157.9L567.0 157.9L567.5 157.9L568.0 157.9L568.5 157.9L569.0 157.9L569.5 157.9L570.0 157.9L570.5 157.9L571.0 157.9L571.5 157.8L572.0 157.8L572.5 157.8L573.0 157.8L573.5 157.7L574.0 157.7L574.5 157.6L575.0 157.6L575.5 157.5L576.0 157.5L576.5 157.4L577.0 157.4L577.5 157.3L578.0 157.3L578.5 157.2L579.0 157.2L579.5 157.1L580.0 157.0L580.5 157.0L581.0 156.9L581.5 156.8L582.0 156.8L582.5 156.7L583.0 156.6L583.5 156.5L584.0 156.5L584.5 156.4L585.0 156.3L585.5 156.2L586.0 156.2L586.5 156.1L587.0 156.0L587.5 156.0L588.0 155.9L588.5 155.8L589.0 155.7L589.5 155.7L590.0 155.6L590.5 155.5L591.0 155.5L591.5 155.4L592.0 155.3L592.5 155.2L593.0 155.2L593.5 155.1L594.0 155.1L594.5 155.0L595.0 154.9L595.5 154.9L596.0 154.8L596.5 154.8L597.0 154.7L597.5 154.7L598.0 154.6L598.5 154.6L599.0 154.6L599.5 154.5L600.0 154.5L600.5 154.5L601.0 154.4L601.5 154.4L602.0 154.4L602.5 154.4L603.0 154.3L603.5 154.3L604.0 154.3L604.5 154.2L605.0 154.2L605.5 154.2L606.0 154.2L606.5 154.1L607.0 154.1L607.5 154.1L608.0 154.1L608.5 154.0L609.0 154.0L609.5 154.0L610.0 154.0L610.5 153.9L611.0 153.9L611.5 153.9L612.0 153.9L612.5 153.8L613.0 153.8L613.5 153.8L614.0 153.8L614.5 153.7L615.0 153.7L615.5 153.7L616.0 153.6L616.5 153.6L617.0 153.6L617.5 153.6L618.0 153.5L618.5 153.5L619.0 153.5L619.5 153.4L620.0 153.4L620.5 153.4L621.0 153.4L621.5 153.3L622.0 153.3L622.5 153.3L623.0 153.2L623.5 153.2L624.0 153.1L624.5 153.1L625.0 153.0L625.5 152.9L626.0 152.8L626.5 152.8L627.0 152.7L627.5 152.6L628.0 152.5L628.5 152.4L629.0 152.3L629.5 152.2L630.0 152.1L630.5 152.0L631.0 151.8L631.5 151.7L632.0 151.6L632.5 151.5L633.0 151.4L633.5 151.3L634.0 151.2L634.5 151.0L635.0 150.9L635.5 150.8L636.0 150.7L636.5 150.6L637.0 150.5L637.5 150.4L638.0 150.3L638.5 150.2L639.0 150.1L639.5 150.0L640.0 149.9L640.5 149.8L641.0 149.7L641.5 149.6L642.0 149.6L642.5 149.5L643.0 149.4L643.5 149.4L644.0 149.3L644.5 149.3L645.0 149.3L645.5 149.2L646.0 149.2L646.5 149.1L647.0 149.1L647.5 149.0L648.0 149.0L648.5 148.9L649.0 148.9L649.5 148.8L650.0 148.8L650.5 148.8L651.0 148.7L651.5 148.7L652.0 148.6L652.5 148.6L653.0 148.5L653.5 148.5L654.0 148.4L654.5 148.4L655.0 148.3L655.5 148.3L656.0 148.2L656.5 148.2L657.0 148.1L657.5 148.1L658.0 148.0L658.5 148.0L659.0 147.9L659.5 147.9L660.0 147.8L660.5 147.8L661.0 147.7L661.5 147.7L662.0 147.6L662.5 147.6L663.0 147.5L663.5 147.5L664.0 147.4L664.5 147.4L665.0 147.3L665.5 147.3L666.0 147.2L666.5 147.1L667.0 147.1L667.5 147.0L668.0 147.0L668.5 146.9L669.0 146.9L669.5 146.8L670.0 146.7L670.5 146.7L671.0 146.6L671.5 146.5L672.0 146.5L672.5 146.4L673.0 146.3L673.5 146.2L674.0 146.1L674.5 146.1L675.0 146.0L675.5 145.9L676.0 145.8L676.5 145.7L677.0 145.6L677.5 145.5L678.0 145.4L678.5 145.3L679.0 145.2L679.5 145.1L680.0 145.0L680.5 144.9L681.0 144.8L681.5 144.7L682.0 144.5L682.5 144.4L683.0 144.3L683.5 144.2L684.0 144.1L684.5 144.0L685.0 143.9L685.5 143.8L686.0 143.6L686.5 143.5L687.0 143.4L687.5 143.3L688.0 143.2L688.5 143.1L689.0 143.0L689.5 142.8L690.0 142.7L690.5 142.6L691.0 142.5L691.5 142.4L692.0 142.2L692.5 142.1L693.0 142.0L693.5 141.9L694.0 141.8L694.5 141.7L695.0 141.5L695.5 141.4L696.0 141.3L696.5 141.2L697.0 141.1L697.5 141.0L698.0 140.9L698.5 140.7L699.0 140.6L699.5 140.5L700.0 140.4L700.5 140.3L701.0 140.2L701.5 140.1L702.0 140.0L702.5 139.9L703.0 139.8L703.5 139.7L704.0 139.6L704.5 139.5L705.0 139.4L705.5 139.3L706.0 139.2L706.5 139.2L707.0 139.1L707.5 139.0L708.0 138.9L708.5 138.9L709.0 138.8L709.5 138.7L710.0 138.7L710.5 138.6L711.0 138.6L711.5 138.5L712.0 138.5L712.5 138.4L713.0 138.3L713.5 138.3L714.0 138.2L714.5 138.2L715.0 138.1L715.5 138.1L716.0 138.0L716.5 138.0L717.0 137.9L717.5 137.9L718.0 137.8L718.5 137.7L719.0 137.7L719.5 137.6L720.0 137.5L720.5 137.5L721.0 137.4L721.5 137.3L722.0 137.3L722.5 137.2L723.0 137.1L723.5 137.0L724.0 136.9L724.5 136.8L725.0 136.7L725.5 136.6L726.0 136.5L726.5 136.4L727.0 136.3L727.5 136.2L728.0 136.1L728.5 135.9L729.0 135.8L729.5 135.7L730.0 135.6L730.5 135.4L731.0 135.3L731.5 135.2L732.0 135.0L732.5 134.9L733.0 134.7L733.5 134.6L734.0 134.5L734.5 134.3L735.0 134.2L735.5 134.1L736.0 133.9L736.5 133.8L737.0 133.7L737.5 133.5L738.0 133.4L738.5 133.3L739.0 133.1L739.5 133.0L740.0 132.9L740.5 132.8L741.0 132.7L741.5 132.6L742.0 132.4L742.5 132.3L743.0 132.2L743.5 132.0L744.0 131.9L744.5 131.7L745.0 131.6L745.5 131.5L746.0 131.3L746.5 131.2L747.0 131.0L747.5 130.9L748.0 130.7L748.5 130.5L749.0 130.4L749.5 130.2L750.0 130.1L750.5 129.9L751.0 129.7L751.5 129.6L752.0 129.4L752.5 129.3L753.0 129.1L753.5 128.9L754.0 128.8L754.5 128.6L755.0 128.5L755.5 128.3L756.0 128.2L756.5 128.0L757.0 127.9L757.5 127.7L758.0 127.6L758.5 127.4L759.0 127.3L759.5 127.1L760.0 127.0L760.5 126.9L761.0 126.7L761.5 126.6L762.0 126.5L762.5 126.4L763.0 126.3L763.5 126.1L764.0 126.0L764.5 125.9L765.0 125.8L765.5 125.7L766.0 125.6L766.5 125.4L767.0 125.3L767.5 125.2L768.0 125.1L768.5 125.0L769.0 124.8L769.5 124.7L770.0 124.6L770.5 124.5L771.0 124.3L771.5 124.2L772.0 124.1L772.5 123.9L773.0 123.8L773.5 123.7L774.0 123.5L774.5 123.4L775.0 123.3L775.5 123.1L776.0 123.0L776.5 122.8L777.0 122.7L777.5 122.6L778.0 122.4L778.5 122.3L779.0 122.1L779.5 122.0L780.0 121.8L780.5 121.7L781.0 121.5L781.5 121.4L782.0 121.2L782.5 121.0L783.0 120.9L783.5 120.7L784.0 120.6L784.5 120.4L785.0 120.2L785.5 120.1L786.0 119.9L786.5 119.8L787.0 119.6L787.5 119.4L788.0 119.3L788.5 119.1L789.0 119.0L789.5 118.8L790.0 118.7L790.5 118.5L791.0 118.3L791.5 118.1L792.0 118.0L792.5 117.8L793.0 117.6L793.5 117.4L794.0 117.2L794.5 117.0L795.0 116.8L795.5 116.6L796.0 116.4L796.5 116.2L797.0 116.0L797.5 115.7L798.0 115.5L798.5 115.3L799.0 115.1L799.5 114.9L800.0 114.6L800.5 114.4L801.0 114.2L801.5 113.9L802.0 113.7L802.5 113.5L803.0 113.3L803.5 113.0L804.0 112.8L804.5 112.6L805.0 112.3L805.5 112.1L806.0 111.9L806.5 111.7L807.0 111.4L807.5 111.2L808.0 111.0L808.5 110.8L809.0 110.6L809.5 110.4L810.0 110.2L810.5 110.0L811.0 109.7L811.5 109.5L812.0 109.4L812.5 109.2L813.0 109.0L813.5 108.8L814.0 108.6L814.5 108.5L815.0 108.3L815.5 108.1L816.0 107.9L816.5 107.8L817.0 107.6L817.5 107.4L818.0 107.3L818.5 107.1L819.0 106.9L819.5 106.7L820.0 106.5L820.5 106.4L821.0 106.2L821.5 106.0L822.0 105.8L822.5 105.6L823.0 105.4L823.5 105.2L824.0 104.9L824.5 104.7L825.0 104.5L825.5 104.2L826.0 103.9L826.5 103.6L827.0 103.4L827.5 103.1L828.0 102.8L828.5 102.5L829.0 102.1L829.5 101.8L830.0 101.5L830.5 101.2L831.0 100.8L831.5 100.5L832.0 100.2L832.5 99.8L833.0 99.5L833.5 99.1L834.0 98.8L834.5 98.5L835.0 98.1L835.5 97.8L836.0 97.4L836.5 97.1L837.0 96.7L837.5 96.4L838.0 96.0L838.5 95.7L839.0 95.3L839.5 94.9L840.0 94.5L840.5 94.1L841.0 93.7L841.5 93.3L842.0 92.9L842.5 92.5L843.0 92.1L843.5 91.6L844.0 91.2L844.5 90.8L845.0 90.4L845.5 89.9L846.0 89.5L846.5 89.1L847.0 88.6L847.5 88.2L848.0 87.8L848.5 87.3L849.0 86.9L849.5 86.5L850.0 86.1L850.5 85.6L851.0 85.2L851.5 84.8L852.0 84.4L852.5 84.0L853.0 83.6L853.5 83.2L854.0 82.9L854.5 82.5L855.0 82.1L855.5 81.8L856.0 81.4L856.5 81.0L857.0 80.7L857.5 80.3L858.0 80.0L858.5 79.7L859.0 79.3L859.5 79.0L860.0 78.7L860.5 78.3L861.0 78.0L861.5 77.7L862.0 77.4L862.5 77.1L863.0 76.9L863.5 76.6L864.0 76.3L864.5 76.1L865.0 75.8L865.5 75.6L866.0 75.4" stroke="#4DBEEE" stroke-width="2.5" fill="none" stroke-linejoin="round" clip-path="url(#ca)"/>
<path d="M105.5 411.5L106.0 411.1L106.5 410.6L107.0 410.0L107.5 409.3L108.0 408.6L108.5 407.7L109.0 406.8L109.5 405.8L110.0 404.7L110.5 403.6L111.0 402.4L111.5 401.1L112.0 399.8L112.5 398.4L113.0 396.9L113.5 395.5L114.0 393.9L114.5 392.4L115.0 390.8L115.5 389.1L116.0 387.4L116.5 385.7L117.0 384.0L117.5 382.2L118.0 380.5L118.5 378.7L119.0 376.8L119.5 375.0L120.0 373.1L120.5 371.2L121.0 369.3L121.5 367.3L122.0 365.3L122.5 363.2L123.0 361.1L123.5 358.9L124.0 356.7L124.5 354.4L125.0 352.0L125.5 349.5L126.0 347.0L126.5 344.4L127.0 341.7L127.5 338.9L128.0 336.0L128.5 333.1L129.0 330.0L129.5 326.8L130.0 323.5L130.5 320.2L131.0 316.9L131.5 313.6L132.0 310.4L132.5 307.2L133.0 304.2L133.5 301.4L134.0 298.7L134.5 296.2L135.0 293.9L135.5 291.7L136.0 289.6L136.5 287.7L137.0 285.8L137.5 284.0L138.0 282.3L138.5 280.6L139.0 278.9L139.5 277.3L140.0 275.7L140.5 274.1L141.0 272.6L141.5 271.0L142.0 269.4L142.5 267.8L143.0 266.3L143.5 264.6L144.0 263.0L144.5 261.4L145.0 259.7L145.5 258.0L146.0 256.4L146.5 254.7L147.0 253.0L147.5 251.4L148.0 249.7L148.5 248.1L149.0 246.4L149.5 244.8L150.0 243.2L150.5 241.6L151.0 240.1L151.5 238.6L152.0 237.1L152.5 235.6L153.0 234.2L153.5 232.7L154.0 231.3L154.5 229.9L155.0 228.6L155.5 227.2L156.0 225.9L156.5 224.6L157.0 223.3L157.5 222.1L158.0 220.8L158.5 219.6L159.0 218.4L159.5 217.2L160.0 216.1L160.5 214.9L161.0 213.8L161.5 212.7L162.0 211.6L162.5 210.5L163.0 209.5L163.5 208.4L164.0 207.4L164.5 206.4L165.0 205.4L165.5 204.4L166.0 203.5L166.5 202.5L167.0 201.6L167.5 200.7L168.0 199.8L168.5 198.9L169.0 198.0L169.5 197.1L170.0 196.3L170.5 195.4L171.0 194.6L171.5 193.8L172.0 193.0L172.5 192.2L173.0 191.4L173.5 190.6L174.0 189.9L174.5 189.1L175.0 188.4L175.5 187.7L176.0 187.0L176.5 186.3L177.0 185.6L177.5 184.9L178.0 184.3L178.5 183.6L179.0 183.0L179.5 182.4L180.0 181.7L180.5 181.1L181.0 180.6L181.5 180.0L182.0 179.4L182.5 178.9L183.0 178.3L183.5 177.8L184.0 177.3L184.5 176.8L185.0 176.3L185.5 175.9L186.0 175.4L186.5 175.0L187.0 174.5L187.5 174.1L188.0 173.7L188.5 173.3L189.0 172.9L189.5 172.5L190.0 172.2L190.5 171.8L191.0 171.5L191.5 171.2L192.0 170.8L192.5 170.5L193.0 170.3L193.5 170.0L194.0 169.7L194.5 169.5L195.0 169.2L195.5 169.0L196.0 168.7L196.5 168.5L197.0 168.3L197.5 168.1L198.0 167.9L198.5 167.8L199.0 167.6L199.5 167.4L200.0 167.3L200.5 167.1L201.0 167.0L201.5 166.9L202.0 166.7L202.5 166.6L203.0 166.5L203.5 166.4L204.0 166.3L204.5 166.2L205.0 166.2L205.5 166.1L206.0 166.0L206.5 165.9L207.0 165.9L207.5 165.8L208.0 165.8L208.5 165.7L209.0 165.7L209.5 165.7L210.0 165.6L210.5 165.6L211.0 165.6L211.5 165.5L212.0 165.5L212.5 165.5L213.0 165.5L213.5 165.5L214.0 165.5L214.5 165.5L215.0 165.5L215.5 165.4L216.0 165.4L216.5 165.4L217.0 165.4L217.5 165.4L218.0 165.4L218.5 165.4L219.0 165.4L219.5 165.4L220.0 165.4L220.5 165.4L221.0 165.4L221.5 165.4L222.0 165.4L222.5 165.4L223.0 165.4L223.5 165.4L224.0 165.4L224.5 165.3L225.0 165.3L225.5 165.3L226.0 165.3L226.5 165.2L227.0 165.2L227.5 165.2L228.0 165.1L228.5 165.1L229.0 165.0L229.5 165.0L230.0 164.9L230.5 164.8L231.0 164.8L231.5 164.7L232.0 164.6L232.5 164.6L233.0 164.5L233.5 164.4L234.0 164.3L234.5 164.3L235.0 164.2L235.5 164.1L236.0 164.0L236.5 163.9L237.0 163.8L237.5 163.7L238.0 163.6L238.5 163.5L239.0 163.4L239.5 163.3L240.0 163.2L240.5 163.2L241.0 163.1L241.5 163.0L242.0 162.9L242.5 162.8L243.0 162.7L243.5 162.6L244.0 162.5L244.5 162.4L245.0 162.3L245.5 162.2L246.0 162.1L246.5 162.0L247.0 161.9L247.5 161.8L248.0 161.7L248.5 161.6L249.0 161.5L249.5 161.4L250.0 161.3L250.5 161.3L251.0 161.2L251.5 161.1L252.0 161.0L252.5 160.9L253.0 160.9L253.5 160.8L254.0 160.7L254.5 160.7L255.0 160.6L255.5 160.6L256.0 160.5L256.5 160.5L257.0 160.4L257.5 160.4L258.0 160.3L258.5 160.3L259.0 160.3L259.5 160.3L260.0 160.2L260.5 160.2L261.0 160.2L261.5 160.2L262.0 160.2L262.5 160.2L263.0 160.2L263.5 160.2L264.0 160.2L264.5 160.2L265.0 160.2L265.5 160.2L266.0 160.3L266.5 160.3L267.0 160.3L267.5 160.3L268.0 160.3L268.5 160.4L269.0 160.4L269.5 160.4L270.0 160.5L270.5 160.5L271.0 160.5L271.5 160.5L272.0 160.6L272.5 160.6L273.0 160.6L273.5 160.7L274.0 160.7L274.5 160.7L275.0 160.7L275.5 160.8L276.0 160.8L276.5 160.8L277.0 160.8L277.5 160.9L278.0 160.9L278.5 160.9L279.0 160.9L279.5 160.9L280.0 161.0L280.5 161.0L281.0 161.0L281.5 161.0L282.0 161.0L282.5 161.0L283.0 161.0L283.5 161.0L284.0 161.0L284.5 161.0L285.0 160.9L285.5 160.9L286.0 160.9L286.5 160.9L287.0 160.8L287.5 160.8L288.0 160.7L288.5 160.7L289.0 160.6L289.5 160.6L290.0 160.5L290.5 160.4L291.0 160.4L291.5 160.3L292.0 160.2L292.5 160.1L293.0 160.0L293.5 159.9L294.0 159.8L294.5 159.7L295.0 159.6L295.5 159.5L296.0 159.4L296.5 159.3L297.0 159.2L297.5 159.1L298.0 159.0L298.5 158.9L299.0 158.8L299.5 158.7L300.0 158.6L300.5 158.5L301.0 158.3L301.5 158.2L302.0 158.1L302.5 158.0L303.0 157.9L303.5 157.8L304.0 157.7L304.5 157.6L305.0 157.5L305.5 157.4L306.0 157.3L306.5 157.3L307.0 157.2L307.5 157.1L308.0 157.1L308.5 157.0L309.0 157.0L309.5 156.9L310.0 156.9L310.5 156.9L311.0 156.9L311.5 156.9L312.0 156.9L312.5 156.9L313.0 156.9L313.5 157.0L314.0 157.0L314.5 157.0L315.0 157.1L315.5 157.2L316.0 157.2L316.5 157.3L317.0 157.4L317.5 157.5L318.0 157.5L318.5 157.6L319.0 157.7L319.5 157.8L320.0 158.0L320.5 158.1L321.0 158.2L321.5 158.3L322.0 158.4L322.5 158.6L323.0 158.7L323.5 158.9L324.0 159.0L324.5 159.1L325.0 159.3L325.5 159.5L326.0 159.6L326.5 159.8L327.0 159.9L327.5 160.1L328.0 160.3L328.5 160.4L329.0 160.6L329.5 160.8L330.0 160.9L330.5 161.1L331.0 161.3L331.5 161.5L332.0 161.6L332.5 161.8L333.0 162.0L333.5 162.2L334.0 162.3L334.5 162.5L335.0 162.7L335.5 162.8L336.0 163.0L336.5 163.1L337.0 163.2L337.5 163.3L338.0 163.5L338.5 163.6L339.0 163.6L339.5 163.7L340.0 163.8L340.5 163.8L341.0 163.9L341.5 163.9L342.0 164.0L342.5 164.0L343.0 164.0L343.5 164.0L344.0 164.0L344.5 164.0L345.0 164.0L345.5 164.0L346.0 164.0L346.5 164.0L347.0 164.0L347.5 163.9L348.0 163.9L348.5 163.9L349.0 163.9L349.5 163.9L350.0 163.8L350.5 163.8L351.0 163.8L351.5 163.7L352.0 163.7L352.5 163.7L353.0 163.7L353.5 163.7L354.0 163.6L354.5 163.6L355.0 163.6L355.5 163.6L356.0 163.6L356.5 163.6L357.0 163.7L357.5 163.7L358.0 163.7L358.5 163.8L359.0 163.8L359.5 163.8L360.0 163.9L360.5 163.9L361.0 163.9L361.5 164.0L362.0 164.0L362.5 164.0L363.0 164.0L363.5 164.1L364.0 164.1L364.5 164.1L365.0 164.1L365.5 164.2L366.0 164.2L366.5 164.2L367.0 164.2L367.5 164.2L368.0 164.2L368.5 164.3L369.0 164.3L369.5 164.3L370.0 164.3L370.5 164.3L371.0 164.3L371.5 164.3L372.0 164.3L372.5 164.3L373.0 164.3L373.5 164.3L374.0 164.3L374.5 164.3L375.0 164.4L375.5 164.4L376.0 164.4L376.5 164.4L377.0 164.4L377.5 164.4L378.0 164.4L378.5 164.4L379.0 164.4L379.5 164.4L380.0 164.4L380.5 164.4L381.0 164.4L381.5 164.4L382.0 164.4L382.5 164.3L383.0 164.3L383.5 164.3L384.0 164.3L384.5 164.3L385.0 164.3L385.5 164.3L386.0 164.3L386.5 164.3L387.0 164.2L387.5 164.2L388.0 164.2L388.5 164.2L389.0 164.1L389.5 164.1L390.0 164.0L390.5 164.0L391.0 163.9L391.5 163.8L392.0 163.7L392.5 163.7L393.0 163.6L393.5 163.5L394.0 163.4L394.5 163.4L395.0 163.3L395.5 163.2L396.0 163.1L396.5 163.0L397.0 162.9L397.5 162.9L398.0 162.8L398.5 162.7L399.0 162.6L399.5 162.5L400.0 162.5L400.5 162.4L401.0 162.3L401.5 162.3L402.0 162.2L402.5 162.2L403.0 162.1L403.5 162.1L404.0 162.1L404.5 162.0L405.0 162.0L405.5 162.0L406.0 162.0L406.5 162.0L407.0 162.0L407.5 162.1L408.0 162.1L408.5 162.1L409.0 162.1L409.5 162.1L410.0 162.2L410.5 162.2L411.0 162.2L411.5 162.3L412.0 162.3L412.5 162.3L413.0 162.4L413.5 162.4L414.0 162.5L414.5 162.5L415.0 162.5L415.5 162.6L416.0 162.6L416.5 162.6L417.0 162.7L417.5 162.7L418.0 162.7L418.5 162.7L419.0 162.8L419.5 162.8L420.0 162.8L420.5 162.8L421.0 162.8L421.5 162.8L422.0 162.8L422.5 162.8L423.0 162.8L423.5 162.8L424.0 162.7L424.5 162.7L425.0 162.7L425.5 162.7L426.0 162.6L426.5 162.6L427.0 162.6L427.5 162.5L428.0 162.5L428.5 162.5L429.0 162.4L429.5 162.4L430.0 162.3L430.5 162.3L431.0 162.2L431.5 162.2L432.0 162.2L432.5 162.1L433.0 162.1L433.5 162.0L434.0 162.0L434.5 161.9L435.0 161.9L435.5 161.9L436.0 161.8L436.5 161.8L437.0 161.7L437.5 161.7L438.0 161.7L438.5 161.6L439.0 161.6L439.5 161.6L440.0 161.5L440.5 161.5L441.0 161.5L441.5 161.5L442.0 161.4L442.5 161.4L443.0 161.4L443.5 161.4L444.0 161.4L444.5 161.4L445.0 161.4L445.5 161.4L446.0 161.4L446.5 161.4L447.0 161.4L447.5 161.4L448.0 161.4L448.5 161.4L449.0 161.4L449.5 161.5L450.0 161.5L450.5 161.5L451.0 161.5L451.5 161.5L452.0 161.5L452.5 161.5L453.0 161.5L453.5 161.5L454.0 161.6L454.5 161.6L455.0 161.6L455.5 161.6L456.0 161.6L456.5 161.6L457.0 161.6L457.5 161.6L458.0 161.6L458.5 161.7L459.0 161.7L459.5 161.7L460.0 161.7L460.5 161.7L461.0 161.7L461.5 161.7L462.0 161.7L462.5 161.7L463.0 161.8L463.5 161.8L464.0 161.8L464.5 161.8L465.0 161.8L465.5 161.8L466.0 161.8L466.5 161.8L467.0 161.9L467.5 161.9L468.0 161.9L468.5 161.9L469.0 161.9L469.5 161.9L470.0 161.9L470.5 161.9L471.0 161.9L471.5 162.0L472.0 162.0L472.5 162.0L473.0 162.0L473.5 162.0L474.0 162.0L474.5 162.0L475.0 162.0L475.5 162.0L476.0 162.0L476.5 162.1L477.0 162.1L477.5 162.1L478.0 162.1L478.5 162.1L479.0 162.1L479.5 162.1L480.0 162.1L480.5 162.1L481.0 162.1L481.5 162.0L482.0 162.0L482.5 162.0L483.0 162.0L483.5 162.0L484.0 161.9L484.5 161.9L485.0 161.9L485.5 161.9L486.0 161.8L486.5 161.8L487.0 161.8L487.5 161.7L488.0 161.7L488.5 161.7L489.0 161.6L489.5 161.6L490.0 161.5L490.5 161.5L491.0 161.5L491.5 161.4L492.0 161.4L492.5 161.4L493.0 161.3L493.5 161.3L494.0 161.2L494.5 161.2L495.0 161.1L495.5 161.1L496.0 161.1L496.5 161.0L497.0 161.0L497.5 160.9L498.0 160.9L498.5 160.9L499.0 160.8L499.5 160.8L500.0 160.7L500.5 160.7L501.0 160.7L501.5 160.6L502.0 160.6L502.5 160.6L503.0 160.6L503.5 160.5L504.0 160.5L504.5 160.5L505.0 160.5L505.5 160.5L506.0 160.5L506.5 160.5L507.0 160.6L507.5 160.6L508.0 160.6L508.5 160.7L509.0 160.7L509.5 160.8L510.0 160.8L510.5 160.9L511.0 160.9L511.5 161.0L512.0 161.0L512.5 161.1L513.0 161.2L513.5 161.2L514.0 161.3L514.5 161.4L515.0 161.4L515.5 161.5L516.0 161.5L516.5 161.6L517.0 161.6L517.5 161.7L518.0 161.7L518.5 161.7L519.0 161.8L519.5 161.8L520.0 161.8L520.5 161.8L521.0 161.8L521.5 161.8L522.0 161.8L522.5 161.8L523.0 161.8L523.5 161.7L524.0 161.7L524.5 161.7L525.0 161.6L525.5 161.6L526.0 161.6L526.5 161.5L527.0 161.5L527.5 161.4L528.0 161.4L528.5 161.3L529.0 161.3L529.5 161.2L530.0 161.2L530.5 161.1L531.0 161.1L531.5 161.0L532.0 161.0L532.5 160.9L533.0 160.9L533.5 160.8L534.0 160.7L534.5 160.7L535.0 160.6L535.5 160.6L536.0 160.5L536.5 160.4L537.0 160.4L537.5 160.3L538.0 160.3L538.5 160.2L539.0 160.1L539.5 160.1L540.0 160.0L540.5 160.0L541.0 159.9L541.5 159.9L542.0 159.8L542.5 159.7L543.0 159.7L543.5 159.6L544.0 159.6L544.5 159.5L545.0 159.4L545.5 159.4L546.0 159.3L546.5 159.3L547.0 159.2L547.5 159.2L548.0 159.1L548.5 159.1L549.0 159.0L549.5 159.0L550.0 159.0L550.5 158.9L551.0 158.9L551.5 158.9L552.0 158.8L552.5 158.8L553.0 158.8L553.5 158.8L554.0 158.8L554.5 158.8L555.0 158.8L555.5 158.8L556.0 158.8L556.5 158.8L557.0 158.8L557.5 158.8L558.0 158.9L558.5 158.9L559.0 158.9L559.5 158.9L560.0 158.9L560.5 159.0L561.0 159.0L561.5 159.0L562.0 159.0L562.5 159.1L563.0 159.1L563.5 159.1L564.0 159.1L564.5 159.1L565.0 159.2L565.5 159.2L566.0 159.2L566.5 159.2L567.0 159.2L567.5 159.2L568.0 159.2L568.5 159.2L569.0 159.2L569.5 159.2L570.0 159.2L570.5 159.2L571.0 159.2L571.5 159.2L572.0 159.2L572.5 159.1L573.0 159.1L573.5 159.1L574.0 159.0L574.5 159.0L575.0 158.9L575.5 158.8L576.0 158.8L576.5 158.7L577.0 158.6L577.5 158.6L578.0 158.5L578.5 158.4L579.0 158.3L579.5 158.2L580.0 158.1L580.5 158.0L581.0 158.0L581.5 157.9L582.0 157.8L582.5 157.7L583.0 157.6L583.5 157.5L584.0 157.4L584.5 157.3L585.0 157.2L585.5 157.1L586.0 157.0L586.5 156.9L587.0 156.8L587.5 156.7L588.0 156.6L588.5 156.5L589.0 156.4L589.5 156.3L590.0 156.2L590.5 156.1L591.0 156.0L591.5 155.9L592.0 155.8L592.5 155.8L593.0 155.7L593.5 155.6L594.0 155.5L594.5 155.4L595.0 155.4L595.5 155.3L596.0 155.2L596.5 155.2L597.0 155.1L597.5 155.0L598.0 155.0L598.5 154.9L599.0 154.9L599.5 154.9L600.0 154.8L600.5 154.8L601.0 154.8L601.5 154.7L602.0 154.7L602.5 154.7L603.0 154.7L603.5 154.6L604.0 154.6L604.5 154.6L605.0 154.6L605.5 154.5L606.0 154.5L606.5 154.5L607.0 154.5L607.5 154.4L608.0 154.4L608.5 154.4L609.0 154.4L609.5 154.4L610.0 154.3L610.5 154.3L611.0 154.3L611.5 154.3L612.0 154.2L612.5 154.2L613.0 154.2L613.5 154.2L614.0 154.2L614.5 154.1L615.0 154.1L615.5 154.1L616.0 154.1L616.5 154.0L617.0 154.0L617.5 154.0L618.0 154.0L618.5 153.9L619.0 153.9L619.5 153.9L620.0 153.9L620.5 153.8L621.0 153.8L621.5 153.8L622.0 153.8L622.5 153.7L623.0 153.7L623.5 153.6L624.0 153.6L624.5 153.5L625.0 153.4L625.5 153.3L626.0 153.2L626.5 153.1L627.0 153.0L627.5 152.9L628.0 152.8L628.5 152.7L629.0 152.5L629.5 152.4L630.0 152.3L630.5 152.1L631.0 152.0L631.5 151.8L632.0 151.7L632.5 151.5L633.0 151.4L633.5 151.2L634.0 151.1L634.5 150.9L635.0 150.8L635.5 150.7L636.0 150.5L636.5 150.4L637.0 150.2L637.5 150.1L638.0 150.0L638.5 149.8L639.0 149.7L639.5 149.6L640.0 149.5L640.5 149.4L641.0 149.3L641.5 149.2L642.0 149.1L642.5 149.1L643.0 149.0L643.5 149.0L644.0 148.9L644.5 148.9L645.0 148.8L645.5 148.8L646.0 148.8L646.5 148.7L647.0 148.7L647.5 148.6L648.0 148.6L648.5 148.6L649.0 148.5L649.5 148.5L650.0 148.5L650.5 148.4L651.0 148.4L651.5 148.3L652.0 148.3L652.5 148.3L653.0 148.2L653.5 148.2L654.0 148.2L654.5 148.1L655.0 148.1L655.5 148.1L656.0 148.0L656.5 148.0L657.0 147.9L657.5 147.9L658.0 147.9L658.5 147.8L659.0 147.8L659.5 147.7L660.0 147.7L660.5 147.7L661.0 147.6L661.5 147.6L662.0 147.5L662.5 147.5L663.0 147.5L663.5 147.4L664.0 147.4L664.5 147.3L665.0 147.3L665.5 147.2L666.0 147.2L666.5 147.1L667.0 147.1L667.5 147.0L668.0 147.0L668.5 146.9L669.0 146.9L669.5 146.8L670.0 146.8L670.5 146.7L671.0 146.7L671.5 146.6L672.0 146.5L672.5 146.5L673.0 146.4L673.5 146.3L674.0 146.2L674.5 146.1L675.0 146.0L675.5 145.9L676.0 145.9L676.5 145.7L677.0 145.6L677.5 145.5L678.0 145.4L678.5 145.3L679.0 145.2L679.5 145.1L680.0 145.0L680.5 144.9L681.0 144.7L681.5 144.6L682.0 144.5L682.5 144.4L683.0 144.3L683.5 144.1L684.0 144.0L684.5 143.9L685.0 143.8L685.5 143.6L686.0 143.5L686.5 143.4L687.0 143.2L687.5 143.1L688.0 143.0L688.5 142.8L689.0 142.7L689.5 142.6L690.0 142.5L690.5 142.3L691.0 142.2L691.5 142.1L692.0 141.9L692.5 141.8L693.0 141.7L693.5 141.5L694.0 141.4L694.5 141.3L695.0 141.1L695.5 141.0L696.0 140.9L696.5 140.8L697.0 140.6L697.5 140.5L698.0 140.4L698.5 140.2L699.0 140.1L699.5 140.0L700.0 139.9L700.5 139.8L701.0 139.6L701.5 139.5L702.0 139.4L702.5 139.3L703.0 139.2L703.5 139.1L704.0 139.0L704.5 138.9L705.0 138.8L705.5 138.7L706.0 138.7L706.5 138.6L707.0 138.5L707.5 138.5L708.0 138.4L708.5 138.4L709.0 138.3L709.5 138.3L710.0 138.2L710.5 138.2L711.0 138.1L711.5 138.1L712.0 138.1L712.5 138.0L713.0 138.0L713.5 138.0L714.0 137.9L714.5 137.9L715.0 137.9L715.5 137.8L716.0 137.8L716.5 137.7L717.0 137.7L717.5 137.7L718.0 137.6L718.5 137.6L719.0 137.5L719.5 137.5L720.0 137.5L720.5 137.4L721.0 137.3L721.5 137.3L722.0 137.2L722.5 137.2L723.0 137.1L723.5 137.0L724.0 136.9L724.5 136.8L725.0 136.7L725.5 136.6L726.0 136.5L726.5 136.4L727.0 136.3L727.5 136.2L728.0 136.0L728.5 135.9L729.0 135.7L729.5 135.6L730.0 135.5L730.5 135.3L731.0 135.1L731.5 135.0L732.0 134.8L732.5 134.7L733.0 134.5L733.5 134.4L734.0 134.2L734.5 134.1L735.0 133.9L735.5 133.8L736.0 133.6L736.5 133.5L737.0 133.3L737.5 133.2L738.0 133.0L738.5 132.9L739.0 132.8L739.5 132.6L740.0 132.5L740.5 132.4L741.0 132.3L741.5 132.1L742.0 132.0L742.5 131.9L743.0 131.7L743.5 131.6L744.0 131.4L744.5 131.3L745.0 131.1L745.5 130.9L746.0 130.8L746.5 130.6L747.0 130.4L747.5 130.2L748.0 130.1L748.5 129.9L749.0 129.7L749.5 129.5L750.0 129.3L750.5 129.2L751.0 129.0L751.5 128.8L752.0 128.6L752.5 128.4L753.0 128.2L753.5 128.1L754.0 127.9L754.5 127.7L755.0 127.5L755.5 127.3L756.0 127.2L756.5 127.0L757.0 126.8L757.5 126.7L758.0 126.5L758.5 126.4L759.0 126.2L759.5 126.1L760.0 125.9L760.5 125.8L761.0 125.6L761.5 125.5L762.0 125.4L762.5 125.3L763.0 125.2L763.5 125.1L764.0 125.0L764.5 124.9L765.0 124.7L765.5 124.6L766.0 124.5L766.5 124.4L767.0 124.3L767.5 124.2L768.0 124.1L768.5 123.9L769.0 123.8L769.5 123.7L770.0 123.6L770.5 123.4L771.0 123.3L771.5 123.2L772.0 123.1L772.5 122.9L773.0 122.8L773.5 122.7L774.0 122.5L774.5 122.4L775.0 122.3L775.5 122.1L776.0 122.0L776.5 121.8L777.0 121.7L777.5 121.6L778.0 121.4L778.5 121.3L779.0 121.1L779.5 121.0L780.0 120.8L780.5 120.7L781.0 120.5L781.5 120.3L782.0 120.2L782.5 120.0L783.0 119.8L783.5 119.7L784.0 119.5L784.5 119.3L785.0 119.2L785.5 119.0L786.0 118.8L786.5 118.7L787.0 118.5L787.5 118.3L788.0 118.2L788.5 118.0L789.0 117.9L789.5 117.7L790.0 117.5L790.5 117.4L791.0 117.2L791.5 117.0L792.0 116.8L792.5 116.6L793.0 116.4L793.5 116.2L794.0 116.0L794.5 115.8L795.0 115.6L795.5 115.3L796.0 115.1L796.5 114.9L797.0 114.6L797.5 114.4L798.0 114.1L798.5 113.9L799.0 113.6L799.5 113.4L800.0 113.1L800.5 112.9L801.0 112.6L801.5 112.4L802.0 112.1L802.5 111.9L803.0 111.6L803.5 111.3L804.0 111.1L804.5 110.8L805.0 110.6L805.5 110.3L806.0 110.1L806.5 109.8L807.0 109.6L807.5 109.3L808.0 109.1L808.5 108.9L809.0 108.6L809.5 108.4L810.0 108.2L810.5 108.0L811.0 107.8L811.5 107.6L812.0 107.4L812.5 107.2L813.0 107.0L813.5 106.8L814.0 106.6L814.5 106.5L815.0 106.3L815.5 106.2L816.0 106.0L816.5 105.8L817.0 105.7L817.5 105.5L818.0 105.4L818.5 105.2L819.0 105.0L819.5 104.9L820.0 104.7L820.5 104.5L821.0 104.4L821.5 104.2L822.0 104.0L822.5 103.8L823.0 103.6L823.5 103.4L824.0 103.1L824.5 102.9L825.0 102.6L825.5 102.3L826.0 102.0L826.5 101.7L827.0 101.4L827.5 101.1L828.0 100.7L828.5 100.4L829.0 100.0L829.5 99.7L830.0 99.3L830.5 98.9L831.0 98.5L831.5 98.2L832.0 97.8L832.5 97.4L833.0 97.0L833.5 96.6L834.0 96.2L834.5 95.8L835.0 95.5L835.5 95.1L836.0 94.7L836.5 94.3L837.0 94.0L837.5 93.6L838.0 93.2L838.5 92.8L839.0 92.3L839.5 91.9L840.0 91.5L840.5 91.0L841.0 90.6L841.5 90.1L842.0 89.7L842.5 89.2L843.0 88.7L843.5 88.3L844.0 87.8L844.5 87.3L845.0 86.8L845.5 86.4L846.0 85.9L846.5 85.4L847.0 84.9L847.5 84.5L848.0 84.0L848.5 83.5L849.0 83.1L849.5 82.6L850.0 82.2L850.5 81.7L851.0 81.3L851.5 80.9L852.0 80.5L852.5 80.0L853.0 79.7L853.5 79.3L854.0 78.9L854.5 78.5L855.0 78.2L855.5 77.9L856.0 77.5L856.5 77.2L857.0 76.9L857.5 76.5L858.0 76.2L858.5 75.9L859.0 75.6L859.5 75.3L860.0 75.1L860.5 74.8L861.0 74.5L861.5 74.3L862.0 74.1L862.5 73.9L863.0 73.7L863.5 73.5L864.0 73.3L864.5 73.1L865.0 73.0L865.5 72.9L866.0 72.8" stroke="#A2142F" stroke-width="2.5" fill="none" stroke-linejoin="round" clip-path="url(#ca)"/>
<path d="M105.5 411.5L106.0 410.5L106.5 409.5L107.0 408.5L107.5 407.4L108.0 406.3L108.5 405.2L109.0 404.0L109.5 402.8L110.0 401.7L110.5 400.5L111.0 399.3L111.5 397.9L112.0 396.5L112.5 395.0L113.0 393.3L113.5 391.3L114.0 389.2L114.5 387.0L115.0 384.7L115.5 382.3L116.0 380.0L116.5 377.7L117.0 375.3L117.5 372.9L118.0 370.4L118.5 367.9L119.0 365.2L119.5 362.5L120.0 359.6L120.5 356.6L121.0 353.4L121.5 350.1L122.0 346.8L122.5 343.4L123.0 340.1L123.5 336.8L124.0 333.6L124.5 330.6L125.0 327.7L125.5 324.8L126.0 321.9L126.5 319.0L127.0 316.2L127.5 313.5L128.0 310.8L128.5 308.2L129.0 305.6L129.5 303.1L130.0 300.7L130.5 298.4L131.0 296.3L131.5 294.2L132.0 292.2L132.5 290.1L133.0 288.1L133.5 286.1L134.0 284.0L134.5 281.8L135.0 279.5L135.5 277.1L136.0 274.5L136.5 271.8L137.0 269.2L137.5 266.5L138.0 264.0L138.5 261.5L139.0 259.2L139.5 256.8L140.0 254.5L140.5 252.3L141.0 250.1L141.5 248.0L142.0 245.9L142.5 244.0L143.0 242.1L143.5 240.3L144.0 238.4L144.5 236.7L145.0 235.0L145.5 233.4L146.0 231.9L146.5 230.5L147.0 229.3L147.5 228.1L148.0 227.1L148.5 226.1L149.0 225.1L149.5 224.2L150.0 223.2L150.5 222.2L151.0 221.2L151.5 220.2L152.0 219.2L152.5 218.3L153.0 217.3L153.5 216.4L154.0 215.5L154.5 214.7L155.0 213.9L155.5 213.2L156.0 212.6L156.5 211.9L157.0 211.3L157.5 210.8L158.0 210.2L158.5 209.7L159.0 209.2L159.5 208.7L160.0 208.2L160.5 207.7L161.0 207.3L161.5 206.8L162.0 206.4L162.5 205.9L163.0 205.5L163.5 205.1L164.0 204.7L164.5 204.2L165.0 203.8L165.5 203.4L166.0 203.1L166.5 202.7L167.0 202.3L167.5 201.9L168.0 201.6L168.5 201.2L169.0 200.9L169.5 200.5L170.0 200.1L170.5 199.8L171.0 199.4L171.5 199.1L172.0 198.7L172.5 198.4L173.0 198.1L173.5 197.7L174.0 197.4L174.5 197.1L175.0 196.7L175.5 196.4L176.0 196.0L176.5 195.6L177.0 195.2L177.5 194.8L178.0 194.4L178.5 193.9L179.0 193.4L179.5 192.9L180.0 192.4L180.5 191.9L181.0 191.3L181.5 190.8L182.0 190.2L182.5 189.6L183.0 189.0L183.5 188.4L184.0 187.8L184.5 187.2L185.0 186.6L185.5 186.0L186.0 185.4L186.5 184.9L187.0 184.3L187.5 183.7L188.0 183.2L188.5 182.6L189.0 182.1L189.5 181.6L190.0 181.1L190.5 180.6L191.0 180.1L191.5 179.6L192.0 179.1L192.5 178.6L193.0 178.1L193.5 177.5L194.0 177.0L194.5 176.5L195.0 176.0L195.5 175.5L196.0 175.0L196.5 174.5L197.0 174.1L197.5 173.6L198.0 173.2L198.5 172.8L199.0 172.4L199.5 172.0L200.0 171.7L200.5 171.4L201.0 171.1L201.5 170.9L202.0 170.6L202.5 170.5L203.0 170.3L203.5 170.2L204.0 170.0L204.5 169.9L205.0 169.8L205.5 169.6L206.0 169.5L206.5 169.4L207.0 169.3L207.5 169.2L208.0 169.1L208.5 169.0L209.0 168.9L209.5 168.8L210.0 168.8L210.5 168.7L211.0 168.6L211.5 168.5L212.0 168.4L212.5 168.4L213.0 168.3L213.5 168.2L214.0 168.1L214.5 168.1L215.0 168.0L215.5 167.9L216.0 167.8L216.5 167.7L217.0 167.7L217.5 167.6L218.0 167.5L218.5 167.4L219.0 167.4L219.5 167.3L220.0 167.2L220.5 167.1L221.0 167.0L221.5 166.9L222.0 166.9L222.5 166.8L223.0 166.7L223.5 166.6L224.0 166.5L224.5 166.5L225.0 166.4L225.5 166.3L226.0 166.2L226.5 166.2L227.0 166.1L227.5 166.0L228.0 165.9L228.5 165.8L229.0 165.8L229.5 165.7L230.0 165.6L230.5 165.5L231.0 165.5L231.5 165.4L232.0 165.3L232.5 165.3L233.0 165.2L233.5 165.1L234.0 165.0L234.5 165.0L235.0 164.9L235.5 164.9L236.0 164.8L236.5 164.7L237.0 164.7L237.5 164.6L238.0 164.5L238.5 164.5L239.0 164.4L239.5 164.4L240.0 164.3L240.5 164.3L241.0 164.2L241.5 164.2L242.0 164.1L242.5 164.1L243.0 164.0L243.5 164.0L244.0 164.0L244.5 163.9L245.0 163.9L245.5 163.9L246.0 163.8L246.5 163.8L247.0 163.8L247.5 163.7L248.0 163.7L248.5 163.7L249.0 163.7L249.5 163.7L250.0 163.6L250.5 163.6L251.0 163.6L251.5 163.6L252.0 163.6L252.5 163.6L253.0 163.6L253.5 163.6L254.0 163.6L254.5 163.6L255.0 163.6L255.5 163.6L256.0 163.6L256.5 163.6L257.0 163.6L257.5 163.6L258.0 163.6L258.5 163.6L259.0 163.6L259.5 163.6L260.0 163.6L260.5 163.6L261.0 163.6L261.5 163.6L262.0 163.6L262.5 163.6L263.0 163.6L263.5 163.6L264.0 163.6L264.5 163.6L265.0 163.6L265.5 163.6L266.0 163.6L266.5 163.6L267.0 163.6L267.5 163.5L268.0 163.5L268.5 163.5L269.0 163.5L269.5 163.5L270.0 163.5L270.5 163.5L271.0 163.5L271.5 163.5L272.0 163.5L272.5 163.5L273.0 163.5L273.5 163.5L274.0 163.5L274.5 163.5L275.0 163.5L275.5 163.5L276.0 163.5L276.5 163.5L277.0 163.5L277.5 163.5L278.0 163.5L278.5 163.5L279.0 163.5L279.5 163.5L280.0 163.5L280.5 163.5L281.0 163.5L281.5 163.4L282.0 163.4L282.5 163.3L283.0 163.2L283.5 163.1L284.0 163.0L284.5 162.9L285.0 162.8L285.5 162.7L286.0 162.5L286.5 162.4L287.0 162.2L287.5 162.1L288.0 161.9L288.5 161.7L289.0 161.6L289.5 161.4L290.0 161.2L290.5 161.0L291.0 160.8L291.5 160.6L292.0 160.4L292.5 160.2L293.0 160.0L293.5 159.8L294.0 159.6L294.5 159.5L295.0 159.3L295.5 159.1L296.0 158.9L296.5 158.7L297.0 158.6L297.5 158.4L298.0 158.2L298.5 158.1L299.0 157.9L299.5 157.8L300.0 157.7L300.5 157.5L301.0 157.4L301.5 157.3L302.0 157.2L302.5 157.1L303.0 157.0L303.5 156.9L304.0 156.9L304.5 156.8L305.0 156.8L305.5 156.8L306.0 156.8L306.5 156.9L307.0 156.9L307.5 157.0L308.0 157.1L308.5 157.2L309.0 157.3L309.5 157.4L310.0 157.6L310.5 157.7L311.0 157.9L311.5 158.1L312.0 158.3L312.5 158.5L313.0 158.7L313.5 159.0L314.0 159.2L314.5 159.4L315.0 159.7L315.5 159.9L316.0 160.2L316.5 160.5L317.0 160.7L317.5 161.0L318.0 161.3L318.5 161.6L319.0 161.9L319.5 162.1L320.0 162.4L320.5 162.7L321.0 163.0L321.5 163.3L322.0 163.6L322.5 163.8L323.0 164.1L323.5 164.4L324.0 164.6L324.5 164.9L325.0 165.1L325.5 165.4L326.0 165.6L326.5 165.8L327.0 166.0L327.5 166.2L328.0 166.4L328.5 166.6L329.0 166.7L329.5 166.9L330.0 167.0L330.5 167.1L331.0 167.2L331.5 167.3L332.0 167.4L332.5 167.4L333.0 167.4L333.5 167.5L334.0 167.5L334.5 167.5L335.0 167.5L335.5 167.4L336.0 167.4L336.5 167.3L337.0 167.2L337.5 167.1L338.0 167.0L338.5 166.8L339.0 166.7L339.5 166.5L340.0 166.3L340.5 166.1L341.0 165.9L341.5 165.6L342.0 165.4L342.5 165.1L343.0 164.8L343.5 164.6L344.0 164.3L344.5 164.0L345.0 163.7L345.5 163.4L346.0 163.1L346.5 162.9L347.0 162.6L347.5 162.3L348.0 162.0L348.5 161.7L349.0 161.5L349.5 161.2L350.0 160.9L350.5 160.7L351.0 160.4L351.5 160.2L352.0 160.0L352.5 159.8L353.0 159.6L353.5 159.4L354.0 159.2L354.5 159.0L355.0 158.9L355.5 158.8L356.0 158.7L356.5 158.6L357.0 158.5L357.5 158.5L358.0 158.5L358.5 158.5L359.0 158.5L359.5 158.6L360.0 158.6L360.5 158.7L361.0 158.7L361.5 158.8L362.0 158.9L362.5 159.0L363.0 159.1L363.5 159.2L364.0 159.3L364.5 159.5L365.0 159.6L365.5 159.8L366.0 159.9L366.5 160.1L367.0 160.2L367.5 160.4L368.0 160.5L368.5 160.7L369.0 160.9L369.5 161.0L370.0 161.2L370.5 161.4L371.0 161.5L371.5 161.7L372.0 161.9L372.5 162.0L373.0 162.2L373.5 162.3L374.0 162.5L374.5 162.6L375.0 162.8L375.5 162.9L376.0 163.0L376.5 163.1L377.0 163.2L377.5 163.3L378.0 163.4L378.5 163.5L379.0 163.6L379.5 163.7L380.0 163.7L380.5 163.7L381.0 163.8L381.5 163.8L382.0 163.9L382.5 163.9L383.0 163.9L383.5 164.0L384.0 164.0L384.5 164.0L385.0 164.0L385.5 164.1L386.0 164.1L386.5 164.1L387.0 164.1L387.5 164.1L388.0 164.1L388.5 164.1L389.0 164.0L389.5 164.0L390.0 163.9L390.5 163.9L391.0 163.8L391.5 163.8L392.0 163.7L392.5 163.6L393.0 163.5L393.5 163.4L394.0 163.3L394.5 163.2L395.0 163.1L395.5 163.0L396.0 162.9L396.5 162.8L397.0 162.7L397.5 162.6L398.0 162.5L398.5 162.4L399.0 162.3L399.5 162.2L400.0 162.2L400.5 162.1L401.0 162.0L401.5 161.9L402.0 161.9L402.5 161.8L403.0 161.8L403.5 161.7L404.0 161.7L404.5 161.7L405.0 161.7L405.5 161.7L406.0 161.7L406.5 161.7L407.0 161.8L407.5 161.8L408.0 161.8L408.5 161.9L409.0 161.9L409.5 162.0L410.0 162.0L410.5 162.1L411.0 162.2L411.5 162.2L412.0 162.3L412.5 162.4L413.0 162.4L413.5 162.5L414.0 162.6L414.5 162.6L415.0 162.7L415.5 162.8L416.0 162.8L416.5 162.9L417.0 162.9L417.5 163.0L418.0 163.0L418.5 163.1L419.0 163.1L419.5 163.1L420.0 163.2L420.5 163.2L421.0 163.2L421.5 163.2L422.0 163.2L422.5 163.2L423.0 163.2L423.5 163.2L424.0 163.1L424.5 163.1L425.0 163.1L425.5 163.0L426.0 163.0L426.5 163.0L427.0 162.9L427.5 162.9L428.0 162.8L428.5 162.7L429.0 162.7L429.5 162.6L430.0 162.6L430.5 162.5L431.0 162.5L431.5 162.4L432.0 162.3L432.5 162.3L433.0 162.2L433.5 162.1L434.0 162.1L434.5 162.0L435.0 162.0L435.5 161.9L436.0 161.8L436.5 161.8L437.0 161.7L437.5 161.7L438.0 161.6L438.5 161.6L439.0 161.5L439.5 161.5L440.0 161.5L440.5 161.4L441.0 161.4L441.5 161.4L442.0 161.3L442.5 161.3L443.0 161.3L443.5 161.3L444.0 161.3L444.5 161.3L445.0 161.3L445.5 161.3L446.0 161.3L446.5 161.3L447.0 161.4L447.5 161.4L448.0 161.4L448.5 161.4L449.0 161.4L449.5 161.4L450.0 161.5L450.5 161.5L451.0 161.5L451.5 161.5L452.0 161.6L452.5 161.6L453.0 161.6L453.5 161.6L454.0 161.6L454.5 161.7L455.0 161.7L455.5 161.7L456.0 161.8L456.5 161.8L457.0 161.8L457.5 161.8L458.0 161.9L458.5 161.9L459.0 161.9L459.5 161.9L460.0 162.0L460.5 162.0L461.0 162.0L461.5 162.1L462.0 162.1L462.5 162.1L463.0 162.2L463.5 162.2L464.0 162.2L464.5 162.2L465.0 162.3L465.5 162.3L466.0 162.3L466.5 162.4L467.0 162.4L467.5 162.4L468.0 162.5L468.5 162.5L469.0 162.5L469.5 162.6L470.0 162.6L470.5 162.6L471.0 162.6L471.5 162.7L472.0 162.7L472.5 162.7L473.0 162.8L473.5 162.8L474.0 162.8L474.5 162.9L475.0 162.9L475.5 162.9L476.0 162.9L476.5 163.0L477.0 163.0L477.5 163.0L478.0 163.0L478.5 163.1L479.0 163.1L479.5 163.1L480.0 163.1L480.5 163.1L481.0 163.1L481.5 163.1L482.0 163.1L482.5 163.1L483.0 163.1L483.5 163.1L484.0 163.0L484.5 163.0L485.0 163.0L485.5 163.0L486.0 163.0L486.5 162.9L487.0 162.9L487.5 162.9L488.0 162.8L488.5 162.8L489.0 162.8L489.5 162.7L490.0 162.7L490.5 162.6L491.0 162.6L491.5 162.6L492.0 162.5L492.5 162.5L493.0 162.4L493.5 162.4L494.0 162.4L494.5 162.3L495.0 162.3L495.5 162.2L496.0 162.2L496.5 162.1L497.0 162.1L497.5 162.1L498.0 162.0L498.5 162.0L499.0 161.9L499.5 161.9L500.0 161.9L500.5 161.8L501.0 161.8L501.5 161.8L502.0 161.7L502.5 161.7L503.0 161.7L503.5 161.7L504.0 161.7L504.5 161.7L505.0 161.7L505.5 161.7L506.0 161.8L506.5 161.8L507.0 161.9L507.5 161.9L508.0 162.0L508.5 162.1L509.0 162.2L509.5 162.3L510.0 162.4L510.5 162.5L511.0 162.6L511.5 162.7L512.0 162.8L512.5 162.9L513.0 163.0L513.5 163.1L514.0 163.2L514.5 163.4L515.0 163.5L515.5 163.6L516.0 163.7L516.5 163.8L517.0 163.9L517.5 163.9L518.0 164.0L518.5 164.1L519.0 164.2L519.5 164.2L520.0 164.3L520.5 164.3L521.0 164.3L521.5 164.3L522.0 164.3L522.5 164.3L523.0 164.3L523.5 164.2L524.0 164.2L524.5 164.1L525.0 164.1L525.5 164.0L526.0 164.0L526.5 163.9L527.0 163.8L527.5 163.7L528.0 163.7L528.5 163.6L529.0 163.5L529.5 163.4L530.0 163.3L530.5 163.2L531.0 163.1L531.5 163.0L532.0 162.9L532.5 162.8L533.0 162.6L533.5 162.5L534.0 162.4L534.5 162.3L535.0 162.2L535.5 162.1L536.0 161.9L536.5 161.8L537.0 161.7L537.5 161.6L538.0 161.4L538.5 161.3L539.0 161.2L539.5 161.1L540.0 160.9L540.5 160.8L541.0 160.7L541.5 160.6L542.0 160.4L542.5 160.3L543.0 160.2L543.5 160.1L544.0 159.9L544.5 159.8L545.0 159.7L545.5 159.6L546.0 159.5L546.5 159.3L547.0 159.2L547.5 159.1L548.0 159.0L548.5 158.9L549.0 158.8L549.5 158.7L550.0 158.6L550.5 158.5L551.0 158.5L551.5 158.4L552.0 158.3L552.5 158.3L553.0 158.2L553.5 158.2L554.0 158.1L554.5 158.1L555.0 158.1L555.5 158.1L556.0 158.1L556.5 158.1L557.0 158.1L557.5 158.1L558.0 158.1L558.5 158.1L559.0 158.1L559.5 158.1L560.0 158.2L560.5 158.2L561.0 158.2L561.5 158.3L562.0 158.3L562.5 158.3L563.0 158.3L563.5 158.4L564.0 158.4L564.5 158.4L565.0 158.5L565.5 158.5L566.0 158.5L566.5 158.6L567.0 158.6L567.5 158.6L568.0 158.6L568.5 158.6L569.0 158.6L569.5 158.6L570.0 158.6L570.5 158.6L571.0 158.6L571.5 158.6L572.0 158.6L572.5 158.5L573.0 158.5L573.5 158.4L574.0 158.4L574.5 158.3L575.0 158.2L575.5 158.1L576.0 158.1L576.5 158.0L577.0 157.9L577.5 157.8L578.0 157.7L578.5 157.6L579.0 157.5L579.5 157.3L580.0 157.2L580.5 157.1L581.0 157.0L581.5 156.9L582.0 156.7L582.5 156.6L583.0 156.5L583.5 156.4L584.0 156.2L584.5 156.1L585.0 156.0L585.5 155.8L586.0 155.7L586.5 155.6L587.0 155.4L587.5 155.3L588.0 155.2L588.5 155.1L589.0 154.9L589.5 154.8L590.0 154.7L590.5 154.6L591.0 154.4L591.5 154.3L592.0 154.2L592.5 154.1L593.0 154.0L593.5 153.9L594.0 153.8L594.5 153.7L595.0 153.6L595.5 153.5L596.0 153.4L596.5 153.3L597.0 153.3L597.5 153.2L598.0 153.1L598.5 153.1L599.0 153.0L599.5 153.0L600.0 153.0L600.5 152.9L601.0 152.9L601.5 152.9L602.0 152.8L602.5 152.8L603.0 152.8L603.5 152.8L604.0 152.7L604.5 152.7L605.0 152.7L605.5 152.6L606.0 152.6L606.5 152.6L607.0 152.6L607.5 152.5L608.0 152.5L608.5 152.5L609.0 152.5L609.5 152.4L610.0 152.4L610.5 152.4L611.0 152.3L611.5 152.3L612.0 152.3L612.5 152.3L613.0 152.2L613.5 152.2L614.0 152.2L614.5 152.1L615.0 152.1L615.5 152.1L616.0 152.1L616.5 152.0L617.0 152.0L617.5 152.0L618.0 151.9L618.5 151.9L619.0 151.9L619.5 151.8L620.0 151.8L620.5 151.7L621.0 151.7L621.5 151.7L622.0 151.6L622.5 151.6L623.0 151.5L623.5 151.4L624.0 151.3L624.5 151.2L625.0 151.1L625.5 151.0L626.0 150.9L626.5 150.7L627.0 150.5L627.5 150.4L628.0 150.2L628.5 150.0L629.0 149.8L629.5 149.6L630.0 149.4L630.5 149.2L631.0 149.0L631.5 148.8L632.0 148.6L632.5 148.4L633.0 148.1L633.5 147.9L634.0 147.7L634.5 147.5L635.0 147.3L635.5 147.1L636.0 146.9L636.5 146.7L637.0 146.5L637.5 146.3L638.0 146.1L638.5 145.9L639.0 145.7L639.5 145.6L640.0 145.4L640.5 145.3L641.0 145.1L641.5 145.0L642.0 144.9L642.5 144.8L643.0 144.8L643.5 144.7L644.0 144.6L644.5 144.6L645.0 144.5L645.5 144.5L646.0 144.5L646.5 144.4L647.0 144.4L647.5 144.4L648.0 144.3L648.5 144.3L649.0 144.3L649.5 144.2L650.0 144.2L650.5 144.2L651.0 144.1L651.5 144.1L652.0 144.1L652.5 144.0L653.0 144.0L653.5 144.0L654.0 144.0L654.5 143.9L655.0 143.9L655.5 143.9L656.0 143.8L656.5 143.8L657.0 143.8L657.5 143.8L658.0 143.7L658.5 143.7L659.0 143.7L659.5 143.6L660.0 143.6L660.5 143.6L661.0 143.5L661.5 143.5L662.0 143.5L662.5 143.5L663.0 143.4L663.5 143.4L664.0 143.4L664.5 143.3L665.0 143.3L665.5 143.3L666.0 143.2L666.5 143.2L667.0 143.2L667.5 143.1L668.0 143.1L668.5 143.0L669.0 143.0L669.5 143.0L670.0 142.9L670.5 142.9L671.0 142.8L671.5 142.8L672.0 142.7L672.5 142.6L673.0 142.6L673.5 142.5L674.0 142.4L674.5 142.3L675.0 142.2L675.5 142.1L676.0 142.0L676.5 141.9L677.0 141.8L677.5 141.7L678.0 141.5L678.5 141.4L679.0 141.3L679.5 141.2L680.0 141.0L680.5 140.9L681.0 140.8L681.5 140.6L682.0 140.5L682.5 140.4L683.0 140.2L683.5 140.1L684.0 139.9L684.5 139.8L685.0 139.7L685.5 139.5L686.0 139.4L686.5 139.2L687.0 139.1L687.5 139.0L688.0 138.8L688.5 138.7L689.0 138.5L689.5 138.4L690.0 138.2L690.5 138.1L691.0 138.0L691.5 137.8L692.0 137.7L692.5 137.5L693.0 137.4L693.5 137.3L694.0 137.1L694.5 137.0L695.0 136.8L695.5 136.7L696.0 136.6L696.5 136.4L697.0 136.3L697.5 136.2L698.0 136.0L698.5 135.9L699.0 135.8L699.5 135.7L700.0 135.6L700.5 135.4L701.0 135.3L701.5 135.2L702.0 135.1L702.5 135.0L703.0 134.9L703.5 134.9L704.0 134.8L704.5 134.7L705.0 134.7L705.5 134.6L706.0 134.6L706.5 134.5L707.0 134.5L707.5 134.5L708.0 134.5L708.5 134.5L709.0 134.5L709.5 134.5L710.0 134.5L710.5 134.6L711.0 134.6L711.5 134.6L712.0 134.6L712.5 134.7L713.0 134.7L713.5 134.7L714.0 134.8L714.5 134.8L715.0 134.9L715.5 134.9L716.0 134.9L716.5 135.0L717.0 135.0L717.5 135.0L718.0 135.1L718.5 135.1L719.0 135.1L719.5 135.2L720.0 135.2L720.5 135.2L721.0 135.2L721.5 135.2L722.0 135.2L722.5 135.2L723.0 135.2L723.5 135.2L724.0 135.1L724.5 135.1L725.0 135.1L725.5 135.0L726.0 134.9L726.5 134.8L727.0 134.8L727.5 134.7L728.0 134.6L728.5 134.4L729.0 134.3L729.5 134.2L730.0 134.1L730.5 133.9L731.0 133.8L731.5 133.7L732.0 133.5L732.5 133.4L733.0 133.3L733.5 133.1L734.0 133.0L734.5 132.8L735.0 132.7L735.5 132.6L736.0 132.4L736.5 132.3L737.0 132.2L737.5 132.0L738.0 131.9L738.5 131.8L739.0 131.7L739.5 131.6L740.0 131.5L740.5 131.4L741.0 131.3L741.5 131.2L742.0 131.1L742.5 131.0L743.0 130.8L743.5 130.7L744.0 130.5L744.5 130.4L745.0 130.2L745.5 130.0L746.0 129.9L746.5 129.7L747.0 129.5L747.5 129.3L748.0 129.1L748.5 128.9L749.0 128.7L749.5 128.5L750.0 128.3L750.5 128.1L751.0 127.9L751.5 127.7L752.0 127.5L752.5 127.3L753.0 127.1L753.5 126.9L754.0 126.7L754.5 126.5L755.0 126.3L755.5 126.1L756.0 125.9L756.5 125.7L757.0 125.5L757.5 125.4L758.0 125.2L758.5 125.0L759.0 124.8L759.5 124.7L760.0 124.5L760.5 124.4L761.0 124.3L761.5 124.1L762.0 124.0L762.5 123.9L763.0 123.8L763.5 123.7L764.0 123.6L764.5 123.5L765.0 123.4L765.5 123.3L766.0 123.2L766.5 123.1L767.0 123.0L767.5 122.9L768.0 122.7L768.5 122.6L769.0 122.5L769.5 122.4L770.0 122.3L770.5 122.1L771.0 122.0L771.5 121.9L772.0 121.8L772.5 121.6L773.0 121.5L773.5 121.4L774.0 121.2L774.5 121.1L775.0 120.9L775.5 120.8L776.0 120.7L776.5 120.5L777.0 120.4L777.5 120.2L778.0 120.0L778.5 119.9L779.0 119.7L779.5 119.6L780.0 119.4L780.5 119.2L781.0 119.1L781.5 118.9L782.0 118.7L782.5 118.5L783.0 118.4L783.5 118.2L784.0 118.0L784.5 117.8L785.0 117.7L785.5 117.5L786.0 117.3L786.5 117.1L787.0 117.0L787.5 116.8L788.0 116.6L788.5 116.5L789.0 116.3L789.5 116.1L790.0 116.0L790.5 115.8L791.0 115.6L791.5 115.4L792.0 115.1L792.5 114.9L793.0 114.6L793.5 114.4L794.0 114.1L794.5 113.8L795.0 113.5L795.5 113.1L796.0 112.8L796.5 112.5L797.0 112.1L797.5 111.8L798.0 111.5L798.5 111.1L799.0 110.8L799.5 110.4L800.0 110.1L800.5 109.8L801.0 109.4L801.5 109.1L802.0 108.8L802.5 108.5L803.0 108.2L803.5 107.9L804.0 107.6L804.5 107.3L805.0 107.1L805.5 106.8L806.0 106.6L806.5 106.4L807.0 106.2L807.5 106.0L808.0 105.9L808.5 105.7L809.0 105.6L809.5 105.4L810.0 105.3L810.5 105.2L811.0 105.2L811.5 105.1L812.0 105.1L812.5 105.0L813.0 105.0L813.5 105.0L814.0 105.0L814.5 105.0L815.0 105.1L815.5 105.1L816.0 105.1L816.5 105.2L817.0 105.2L817.5 105.3L818.0 105.3L818.5 105.3L819.0 105.4L819.5 105.4L820.0 105.4L820.5 105.4L821.0 105.4L821.5 105.4L822.0 105.4L822.5 105.4L823.0 105.3L823.5 105.2L824.0 105.1L824.5 104.9L825.0 104.7L825.5 104.4L826.0 104.1L826.5 103.7L827.0 103.3L827.5 102.8L828.0 102.3L828.5 101.8L829.0 101.3L829.5 100.8L830.0 100.2L830.5 99.6L831.0 99.0L831.5 98.4L832.0 97.8L832.5 97.2L833.0 96.6L833.5 96.0L834.0 95.4L834.5 94.8L835.0 94.2L835.5 93.6L836.0 93.1L836.5 92.6L837.0 92.0L837.5 91.5L838.0 91.0L838.5 90.5L839.0 90.0L839.5 89.5L840.0 89.1L840.5 88.6L841.0 88.1L841.5 87.6L842.0 87.1L842.5 86.7L843.0 86.2L843.5 85.7L844.0 85.2L844.5 84.7L845.0 84.2L845.5 83.7L846.0 83.3L846.5 82.8L847.0 82.3L847.5 81.8L848.0 81.4L848.5 80.9L849.0 80.5L849.5 80.0L850.0 79.6L850.5 79.2L851.0 78.7L851.5 78.3L852.0 77.9L852.5 77.6L853.0 77.2L853.5 76.9L854.0 76.5L854.5 76.2L855.0 75.9L855.5 75.6L856.0 75.3L856.5 75.0L857.0 74.7L857.5 74.4L858.0 74.2L858.5 73.9L859.0 73.6L859.5 73.3L860.0 73.0L860.5 72.8L861.0 72.5L861.5 72.3L862.0 72.0L862.5 71.8L863.0 71.5L863.5 71.3L864.0 71.1L864.5 70.8L865.0 70.6L865.5 70.4L866.0 70.2" stroke="#BFBF00" stroke-width="2.5" fill="none" stroke-linejoin="round" clip-path="url(#ca)"/>
<path d="M105.5 411.5L106.0 410.4L106.5 409.2L107.0 407.9L107.5 406.7L108.0 405.3L108.5 404.0L109.0 402.6L109.5 401.3L110.0 399.9L110.5 398.4L111.0 396.8L111.5 395.0L112.0 393.0L112.5 390.6L113.0 388.1L113.5 385.4L114.0 382.7L114.5 380.0L115.0 377.3L115.5 374.5L116.0 371.6L116.5 368.7L117.0 365.6L117.5 362.5L118.0 359.2L118.5 355.6L119.0 352.0L119.5 348.2L120.0 344.4L120.5 340.6L121.0 336.9L121.5 333.4L122.0 330.0L122.5 326.8L123.0 323.7L123.5 320.7L124.0 317.8L124.5 314.9L125.0 312.1L125.5 309.3L126.0 306.4L126.5 303.5L127.0 300.6L127.5 297.7L128.0 294.8L128.5 291.9L129.0 289.0L129.5 286.1L130.0 283.1L130.5 280.0L131.0 276.7L131.5 273.1L132.0 269.5L132.5 266.0L133.0 262.8L133.5 260.0L134.0 257.6L134.5 255.4L135.0 253.4L135.5 251.6L136.0 250.0L136.5 248.6L137.0 247.3L137.5 246.1L138.0 245.0L138.5 244.0L139.0 243.0L139.5 242.0L140.0 241.0L140.5 240.1L141.0 239.1L141.5 238.2L142.0 237.4L142.5 236.6L143.0 235.9L143.5 235.2L144.0 234.6L144.5 234.1L145.0 233.6L145.5 233.2L146.0 232.7L146.5 232.3L147.0 231.9L147.5 231.6L148.0 231.2L148.5 230.8L149.0 230.4L149.5 229.9L150.0 229.5L150.5 229.0L151.0 228.5L151.5 228.0L152.0 227.5L152.5 227.0L153.0 226.5L153.5 226.0L154.0 225.6L154.5 225.2L155.0 224.9L155.5 224.6L156.0 224.3L156.5 224.0L157.0 223.7L157.5 223.4L158.0 223.1L158.5 222.7L159.0 222.4L159.5 222.0L160.0 221.6L160.5 221.2L161.0 220.8L161.5 220.4L162.0 220.0L162.5 219.5L163.0 219.1L163.5 218.6L164.0 218.2L164.5 217.7L165.0 217.2L165.5 216.7L166.0 216.3L166.5 215.8L167.0 215.3L167.5 214.8L168.0 214.3L168.5 213.8L169.0 213.3L169.5 212.8L170.0 212.4L170.5 211.9L171.0 211.4L171.5 210.9L172.0 210.4L172.5 209.9L173.0 209.4L173.5 208.9L174.0 208.3L174.5 207.7L175.0 207.2L175.5 206.5L176.0 205.9L176.5 205.2L177.0 204.5L177.5 203.8L178.0 203.0L178.5 202.0L179.0 201.0L179.5 199.9L180.0 198.8L180.5 197.7L181.0 196.6L181.5 195.6L182.0 194.6L182.5 193.6L183.0 192.6L183.5 191.6L184.0 190.6L184.5 189.6L185.0 188.6L185.5 187.6L186.0 186.6L186.5 185.7L187.0 184.7L187.5 183.8L188.0 182.9L188.5 182.1L189.0 181.3L189.5 180.5L190.0 179.7L190.5 178.9L191.0 178.1L191.5 177.2L192.0 176.4L192.5 175.6L193.0 174.7L193.5 173.9L194.0 173.1L194.5 172.4L195.0 171.7L195.5 171.0L196.0 170.4L196.5 169.8L197.0 169.3L197.5 168.9L198.0 168.5L198.5 168.2L199.0 168.1L199.5 168.0L200.0 168.0L200.5 168.0L201.0 168.0L201.5 168.0L202.0 168.0L202.5 168.0L203.0 168.0L203.5 168.0L204.0 168.0L204.5 168.0L205.0 168.0L205.5 168.0L206.0 168.0L206.5 168.0L207.0 168.1L207.5 168.2L208.0 168.3L208.5 168.4L209.0 168.6L209.5 168.8L210.0 169.0L210.5 169.2L211.0 169.4L211.5 169.7L212.0 169.9L212.5 170.2L213.0 170.5L213.5 170.8L214.0 171.1L214.5 171.3L215.0 171.6L215.5 171.9L216.0 172.1L216.5 172.4L217.0 172.6L217.5 172.8L218.0 173.0L218.5 173.2L219.0 173.3L219.5 173.4L220.0 173.5L220.5 173.6L221.0 173.6L221.5 173.6L222.0 173.5L222.5 173.5L223.0 173.4L223.5 173.2L224.0 173.1L224.5 172.9L225.0 172.7L225.5 172.5L226.0 172.2L226.5 171.9L227.0 171.6L227.5 171.3L228.0 171.0L228.5 170.7L229.0 170.3L229.5 170.0L230.0 169.6L230.5 169.3L231.0 168.9L231.5 168.5L232.0 168.1L232.5 167.8L233.0 167.4L233.5 167.0L234.0 166.6L234.5 166.3L235.0 165.9L235.5 165.5L236.0 165.2L236.5 164.9L237.0 164.6L237.5 164.2L238.0 164.0L238.5 163.7L239.0 163.4L239.5 163.2L240.0 163.0L240.5 162.8L241.0 162.6L241.5 162.4L242.0 162.2L242.5 162.0L243.0 161.8L243.5 161.6L244.0 161.4L244.5 161.2L245.0 160.9L245.5 160.7L246.0 160.5L246.5 160.3L247.0 160.1L247.5 159.9L248.0 159.8L248.5 159.6L249.0 159.4L249.5 159.2L250.0 159.0L250.5 158.9L251.0 158.7L251.5 158.6L252.0 158.4L252.5 158.3L253.0 158.1L253.5 158.0L254.0 157.9L254.5 157.8L255.0 157.7L255.5 157.6L256.0 157.6L256.5 157.5L257.0 157.5L257.5 157.4L258.0 157.4L258.5 157.4L259.0 157.4L259.5 157.5L260.0 157.6L260.5 157.7L261.0 157.8L261.5 158.0L262.0 158.2L262.5 158.4L263.0 158.6L263.5 158.9L264.0 159.2L264.5 159.5L265.0 159.8L265.5 160.1L266.0 160.4L266.5 160.8L267.0 161.1L267.5 161.5L268.0 161.9L268.5 162.2L269.0 162.6L269.5 163.0L270.0 163.4L270.5 163.7L271.0 164.1L271.5 164.5L272.0 164.8L272.5 165.2L273.0 165.5L273.5 165.8L274.0 166.1L274.5 166.4L275.0 166.7L275.5 167.0L276.0 167.2L276.5 167.4L277.0 167.6L277.5 167.8L278.0 167.9L278.5 168.0L279.0 168.1L279.5 168.2L280.0 168.2L280.5 168.2L281.0 168.1L281.5 168.0L282.0 167.8L282.5 167.7L283.0 167.4L283.5 167.2L284.0 166.9L284.5 166.5L285.0 166.2L285.5 165.8L286.0 165.4L286.5 165.0L287.0 164.6L287.5 164.1L288.0 163.6L288.5 163.1L289.0 162.6L289.5 162.1L290.0 161.6L290.5 161.1L291.0 160.6L291.5 160.1L292.0 159.6L292.5 159.1L293.0 158.6L293.5 158.1L294.0 157.6L294.5 157.1L295.0 156.7L295.5 156.2L296.0 155.8L296.5 155.4L297.0 155.1L297.5 154.7L298.0 154.4L298.5 154.1L299.0 153.9L299.5 153.7L300.0 153.5L300.5 153.4L301.0 153.3L301.5 153.2L302.0 153.2L302.5 153.2L303.0 153.3L303.5 153.4L304.0 153.5L304.5 153.6L305.0 153.7L305.5 153.9L306.0 154.1L306.5 154.3L307.0 154.5L307.5 154.8L308.0 155.1L308.5 155.3L309.0 155.6L309.5 156.0L310.0 156.3L310.5 156.6L311.0 157.0L311.5 157.4L312.0 157.7L312.5 158.1L313.0 158.5L313.5 159.0L314.0 159.4L314.5 159.8L315.0 160.2L315.5 160.7L316.0 161.1L316.5 161.6L317.0 162.0L317.5 162.5L318.0 162.9L318.5 163.4L319.0 163.8L319.5 164.3L320.0 164.8L320.5 165.2L321.0 165.7L321.5 166.1L322.0 166.5L322.5 167.0L323.0 167.4L323.5 167.8L324.0 168.2L324.5 168.6L325.0 169.0L325.5 169.4L326.0 169.8L326.5 170.1L327.0 170.4L327.5 170.8L328.0 171.1L328.5 171.4L329.0 171.7L329.5 171.9L330.0 172.2L330.5 172.4L331.0 172.6L331.5 172.8L332.0 172.9L332.5 173.1L333.0 173.2L333.5 173.3L334.0 173.3L334.5 173.4L335.0 173.4L335.5 173.4L336.0 173.3L336.5 173.2L337.0 173.0L337.5 172.8L338.0 172.6L338.5 172.3L339.0 172.0L339.5 171.6L340.0 171.2L340.5 170.8L341.0 170.4L341.5 169.9L342.0 169.4L342.5 168.9L343.0 168.4L343.5 167.9L344.0 167.3L344.5 166.7L345.0 166.2L345.5 165.6L346.0 165.0L346.5 164.4L347.0 163.9L347.5 163.3L348.0 162.7L348.5 162.1L349.0 161.6L349.5 161.0L350.0 160.5L350.5 160.0L351.0 159.5L351.5 159.0L352.0 158.6L352.5 158.1L353.0 157.7L353.5 157.4L354.0 157.0L354.5 156.7L355.0 156.4L355.5 156.2L356.0 156.0L356.5 155.9L357.0 155.8L357.5 155.7L358.0 155.7L358.5 155.7L359.0 155.8L359.5 155.8L360.0 155.9L360.5 156.0L361.0 156.1L361.5 156.2L362.0 156.4L362.5 156.5L363.0 156.7L363.5 156.9L364.0 157.1L364.5 157.3L365.0 157.5L365.5 157.8L366.0 158.0L366.5 158.3L367.0 158.5L367.5 158.8L368.0 159.1L368.5 159.4L369.0 159.7L369.5 160.0L370.0 160.3L370.5 160.6L371.0 160.9L371.5 161.2L372.0 161.5L372.5 161.8L373.0 162.1L373.5 162.5L374.0 162.8L374.5 163.1L375.0 163.4L375.5 163.7L376.0 164.0L376.5 164.3L377.0 164.6L377.5 164.9L378.0 165.1L378.5 165.4L379.0 165.7L379.5 165.9L380.0 166.2L380.5 166.4L381.0 166.6L381.5 166.8L382.0 167.0L382.5 167.2L383.0 167.4L383.5 167.6L384.0 167.7L384.5 167.8L385.0 167.9L385.5 168.0L386.0 168.1L386.5 168.2L387.0 168.2L387.5 168.2L388.0 168.2L388.5 168.1L389.0 168.1L389.5 168.0L390.0 167.8L390.5 167.7L391.0 167.5L391.5 167.3L392.0 167.1L392.5 166.8L393.0 166.6L393.5 166.3L394.0 166.0L394.5 165.7L395.0 165.4L395.5 165.1L396.0 164.8L396.5 164.5L397.0 164.2L397.5 163.9L398.0 163.6L398.5 163.3L399.0 163.0L399.5 162.7L400.0 162.4L400.5 162.2L401.0 162.0L401.5 161.8L402.0 161.6L402.5 161.4L403.0 161.3L403.5 161.2L404.0 161.1L404.5 161.0L405.0 161.0L405.5 161.0L406.0 161.0L406.5 161.1L407.0 161.2L407.5 161.3L408.0 161.4L408.5 161.5L409.0 161.7L409.5 161.9L410.0 162.0L410.5 162.2L411.0 162.4L411.5 162.6L412.0 162.8L412.5 163.1L413.0 163.3L413.5 163.5L414.0 163.7L414.5 163.9L415.0 164.2L415.5 164.4L416.0 164.6L416.5 164.8L417.0 165.0L417.5 165.1L418.0 165.3L418.5 165.5L419.0 165.6L419.5 165.7L420.0 165.8L420.5 165.9L421.0 166.0L421.5 166.0L422.0 166.0L422.5 166.0L423.0 166.0L423.5 165.9L424.0 165.8L424.5 165.8L425.0 165.7L425.5 165.5L426.0 165.4L426.5 165.3L427.0 165.1L427.5 165.0L428.0 164.8L428.5 164.6L429.0 164.4L429.5 164.2L430.0 164.0L430.5 163.8L431.0 163.5L431.5 163.3L432.0 163.1L432.5 162.8L433.0 162.6L433.5 162.4L434.0 162.1L434.5 161.9L435.0 161.7L435.5 161.5L436.0 161.2L436.5 161.0L437.0 160.8L437.5 160.6L438.0 160.4L438.5 160.2L439.0 160.0L439.5 159.8L440.0 159.7L440.5 159.5L441.0 159.4L441.5 159.3L442.0 159.2L442.5 159.1L443.0 159.0L443.5 159.0L444.0 158.9L444.5 158.9L445.0 158.9L445.5 158.9L446.0 158.9L446.5 159.0L447.0 159.0L447.5 159.1L448.0 159.1L448.5 159.2L449.0 159.3L449.5 159.3L450.0 159.4L450.5 159.5L451.0 159.6L451.5 159.8L452.0 159.9L452.5 160.0L453.0 160.1L453.5 160.3L454.0 160.4L454.5 160.6L455.0 160.7L455.5 160.9L456.0 161.0L456.5 161.2L457.0 161.4L457.5 161.5L458.0 161.7L458.5 161.9L459.0 162.1L459.5 162.2L460.0 162.4L460.5 162.6L461.0 162.8L461.5 163.0L462.0 163.2L462.5 163.3L463.0 163.5L463.5 163.7L464.0 163.9L464.5 164.1L465.0 164.2L465.5 164.4L466.0 164.6L466.5 164.8L467.0 164.9L467.5 165.1L468.0 165.3L468.5 165.4L469.0 165.6L469.5 165.7L470.0 165.8L470.5 166.0L471.0 166.1L471.5 166.2L472.0 166.4L472.5 166.5L473.0 166.6L473.5 166.7L474.0 166.8L474.5 166.9L475.0 166.9L475.5 167.0L476.0 167.1L476.5 167.1L477.0 167.1L477.5 167.2L478.0 167.2L478.5 167.2L479.0 167.2L479.5 167.2L480.0 167.1L480.5 167.1L481.0 167.0L481.5 166.9L482.0 166.8L482.5 166.7L483.0 166.6L483.5 166.4L484.0 166.3L484.5 166.1L485.0 166.0L485.5 165.8L486.0 165.6L486.5 165.4L487.0 165.2L487.5 165.0L488.0 164.7L488.5 164.5L489.0 164.3L489.5 164.1L490.0 163.8L490.5 163.6L491.0 163.4L491.5 163.1L492.0 162.9L492.5 162.7L493.0 162.4L493.5 162.2L494.0 162.0L494.5 161.8L495.0 161.5L495.5 161.3L496.0 161.1L496.5 160.9L497.0 160.8L497.5 160.6L498.0 160.4L498.5 160.2L499.0 160.1L499.5 160.0L500.0 159.8L500.5 159.7L501.0 159.6L501.5 159.6L502.0 159.5L502.5 159.4L503.0 159.4L503.5 159.4L504.0 159.4L504.5 159.5L505.0 159.6L505.5 159.7L506.0 159.8L506.5 160.0L507.0 160.3L507.5 160.5L508.0 160.8L508.5 161.1L509.0 161.4L509.5 161.7L510.0 162.1L510.5 162.4L511.0 162.8L511.5 163.2L512.0 163.6L512.5 164.0L513.0 164.4L513.5 164.8L514.0 165.2L514.5 165.6L515.0 165.9L515.5 166.3L516.0 166.7L516.5 167.0L517.0 167.3L517.5 167.6L518.0 167.9L518.5 168.2L519.0 168.4L519.5 168.6L520.0 168.8L520.5 169.0L521.0 169.1L521.5 169.2L522.0 169.2L522.5 169.2L523.0 169.2L523.5 169.1L524.0 169.1L524.5 169.0L525.0 168.8L525.5 168.7L526.0 168.6L526.5 168.4L527.0 168.2L527.5 168.0L528.0 167.8L528.5 167.6L529.0 167.3L529.5 167.1L530.0 166.8L530.5 166.5L531.0 166.2L531.5 165.9L532.0 165.6L532.5 165.3L533.0 165.0L533.5 164.7L534.0 164.3L534.5 164.0L535.0 163.7L535.5 163.3L536.0 163.0L536.5 162.6L537.0 162.3L537.5 161.9L538.0 161.6L538.5 161.2L539.0 160.9L539.5 160.6L540.0 160.2L540.5 159.9L541.0 159.6L541.5 159.3L542.0 159.0L542.5 158.7L543.0 158.4L543.5 158.1L544.0 157.8L544.5 157.6L545.0 157.3L545.5 157.1L546.0 156.9L546.5 156.7L547.0 156.5L547.5 156.3L548.0 156.2L548.5 156.1L549.0 155.9L549.5 155.8L550.0 155.8L550.5 155.7L551.0 155.7L551.5 155.7L552.0 155.7L552.5 155.8L553.0 155.9L553.5 156.0L554.0 156.1L554.5 156.3L555.0 156.5L555.5 156.7L556.0 156.9L556.5 157.2L557.0 157.4L557.5 157.7L558.0 158.0L558.5 158.3L559.0 158.6L559.5 158.9L560.0 159.3L560.5 159.6L561.0 159.9L561.5 160.3L562.0 160.6L562.5 161.0L563.0 161.3L563.5 161.6L564.0 162.0L564.5 162.3L565.0 162.6L565.5 163.0L566.0 163.3L566.5 163.5L567.0 163.8L567.5 164.1L568.0 164.3L568.5 164.6L569.0 164.8L569.5 165.0L570.0 165.1L570.5 165.3L571.0 165.4L571.5 165.5L572.0 165.6L572.5 165.6L573.0 165.6L573.5 165.6L574.0 165.5L574.5 165.4L575.0 165.3L575.5 165.2L576.0 165.0L576.5 164.8L577.0 164.6L577.5 164.4L578.0 164.1L578.5 163.9L579.0 163.6L579.5 163.3L580.0 163.0L580.5 162.6L581.0 162.3L581.5 161.9L582.0 161.6L582.5 161.2L583.0 160.8L583.5 160.4L584.0 160.0L584.5 159.6L585.0 159.2L585.5 158.8L586.0 158.4L586.5 158.0L587.0 157.6L587.5 157.2L588.0 156.8L588.5 156.5L589.0 156.1L589.5 155.7L590.0 155.3L590.5 155.0L591.0 154.6L591.5 154.3L592.0 154.0L592.5 153.7L593.0 153.4L593.5 153.1L594.0 152.9L594.5 152.6L595.0 152.4L595.5 152.2L596.0 152.1L596.5 151.9L597.0 151.8L597.5 151.7L598.0 151.6L598.5 151.6L599.0 151.6L599.5 151.6L600.0 151.7L600.5 151.7L601.0 151.8L601.5 151.8L602.0 151.9L602.5 152.0L603.0 152.2L603.5 152.3L604.0 152.4L604.5 152.6L605.0 152.7L605.5 152.9L606.0 153.1L606.5 153.3L607.0 153.5L607.5 153.7L608.0 153.9L608.5 154.1L609.0 154.3L609.5 154.5L610.0 154.7L610.5 154.9L611.0 155.1L611.5 155.3L612.0 155.6L612.5 155.8L613.0 156.0L613.5 156.2L614.0 156.4L614.5 156.6L615.0 156.8L615.5 156.9L616.0 157.1L616.5 157.3L617.0 157.4L617.5 157.6L618.0 157.7L618.5 157.9L619.0 158.0L619.5 158.1L620.0 158.2L620.5 158.3L621.0 158.3L621.5 158.4L622.0 158.4L622.5 158.4L623.0 158.4L623.5 158.3L624.0 158.2L624.5 158.1L625.0 157.9L625.5 157.6L626.0 157.4L626.5 157.1L627.0 156.7L627.5 156.4L628.0 156.0L628.5 155.6L629.0 155.1L629.5 154.7L630.0 154.2L630.5 153.7L631.0 153.2L631.5 152.7L632.0 152.2L632.5 151.7L633.0 151.2L633.5 150.6L634.0 150.1L634.5 149.6L635.0 149.1L635.5 148.6L636.0 148.1L636.5 147.6L637.0 147.2L637.5 146.7L638.0 146.3L638.5 145.9L639.0 145.6L639.5 145.2L640.0 144.9L640.5 144.7L641.0 144.4L641.5 144.2L642.0 144.1L642.5 144.0L643.0 143.9L643.5 143.9L644.0 143.9L644.5 143.9L645.0 144.0L645.5 144.1L646.0 144.1L646.5 144.2L647.0 144.4L647.5 144.5L648.0 144.6L648.5 144.8L649.0 145.0L649.5 145.1L650.0 145.3L650.5 145.5L651.0 145.7L651.5 146.0L652.0 146.2L652.5 146.4L653.0 146.7L653.5 146.9L654.0 147.2L654.5 147.4L655.0 147.7L655.5 148.0L656.0 148.2L656.5 148.5L657.0 148.8L657.5 149.0L658.0 149.3L658.5 149.6L659.0 149.8L659.5 150.1L660.0 150.4L660.5 150.6L661.0 150.9L661.5 151.1L662.0 151.4L662.5 151.6L663.0 151.8L663.5 152.1L664.0 152.3L664.5 152.5L665.0 152.7L665.5 152.8L666.0 153.0L666.5 153.2L667.0 153.3L667.5 153.4L668.0 153.6L668.5 153.7L669.0 153.7L669.5 153.8L670.0 153.9L670.5 153.9L671.0 153.9L671.5 153.9L672.0 153.9L672.5 153.8L673.0 153.7L673.5 153.6L674.0 153.4L674.5 153.2L675.0 153.0L675.5 152.8L676.0 152.6L676.5 152.3L677.0 152.0L677.5 151.7L678.0 151.4L678.5 151.0L679.0 150.6L679.5 150.3L680.0 149.9L680.5 149.5L681.0 149.0L681.5 148.6L682.0 148.1L682.5 147.7L683.0 147.2L683.5 146.7L684.0 146.2L684.5 145.8L685.0 145.3L685.5 144.8L686.0 144.2L686.5 143.7L687.0 143.2L687.5 142.7L688.0 142.2L688.5 141.7L689.0 141.2L689.5 140.7L690.0 140.1L690.5 139.6L691.0 139.1L691.5 138.7L692.0 138.2L692.5 137.7L693.0 137.2L693.5 136.8L694.0 136.3L694.5 135.9L695.0 135.5L695.5 135.1L696.0 134.7L696.5 134.3L697.0 133.9L697.5 133.6L698.0 133.3L698.5 132.9L699.0 132.7L699.5 132.4L700.0 132.1L700.5 131.9L701.0 131.7L701.5 131.6L702.0 131.4L702.5 131.3L703.0 131.2L703.5 131.1L704.0 131.1L704.5 131.1L705.0 131.1L705.5 131.2L706.0 131.3L706.5 131.5L707.0 131.6L707.5 131.8L708.0 132.1L708.5 132.3L709.0 132.6L709.5 132.9L710.0 133.2L710.5 133.6L711.0 133.9L711.5 134.3L712.0 134.7L712.5 135.1L713.0 135.5L713.5 135.9L714.0 136.3L714.5 136.7L715.0 137.2L715.5 137.6L716.0 138.0L716.5 138.5L717.0 138.9L717.5 139.3L718.0 139.7L718.5 140.1L719.0 140.5L719.5 140.9L720.0 141.2L720.5 141.5L721.0 141.9L721.5 142.2L722.0 142.4L722.5 142.7L723.0 142.9L723.5 143.1L724.0 143.3L724.5 143.4L725.0 143.5L725.5 143.6L726.0 143.6L726.5 143.6L727.0 143.5L727.5 143.5L728.0 143.4L728.5 143.2L729.0 143.1L729.5 142.9L730.0 142.7L730.5 142.5L731.0 142.2L731.5 141.9L732.0 141.7L732.5 141.4L733.0 141.1L733.5 140.7L734.0 140.4L734.5 140.1L735.0 139.7L735.5 139.4L736.0 139.0L736.5 138.7L737.0 138.3L737.5 138.0L738.0 137.6L738.5 137.3L739.0 136.9L739.5 136.6L740.0 136.3L740.5 136.0L741.0 135.6L741.5 135.3L742.0 134.9L742.5 134.5L743.0 134.1L743.5 133.6L744.0 133.2L744.5 132.7L745.0 132.2L745.5 131.7L746.0 131.2L746.5 130.7L747.0 130.2L747.5 129.7L748.0 129.2L748.5 128.7L749.0 128.1L749.5 127.6L750.0 127.1L750.5 126.6L751.0 126.1L751.5 125.6L752.0 125.1L752.5 124.6L753.0 124.1L753.5 123.7L754.0 123.2L754.5 122.8L755.0 122.4L755.5 122.0L756.0 121.6L756.5 121.2L757.0 120.9L757.5 120.6L758.0 120.3L758.5 120.1L759.0 119.8L759.5 119.6L760.0 119.5L760.5 119.3L761.0 119.2L761.5 119.1L762.0 119.1L762.5 119.1L763.0 119.1L763.5 119.1L764.0 119.2L764.5 119.2L765.0 119.3L765.5 119.3L766.0 119.4L766.5 119.5L767.0 119.5L767.5 119.6L768.0 119.7L768.5 119.8L769.0 119.9L769.5 120.0L770.0 120.1L770.5 120.2L771.0 120.3L771.5 120.4L772.0 120.5L772.5 120.6L773.0 120.7L773.5 120.8L774.0 120.9L774.5 121.0L775.0 121.0L775.5 121.1L776.0 121.2L776.5 121.3L777.0 121.3L777.5 121.4L778.0 121.4L778.5 121.5L779.0 121.5L779.5 121.5L780.0 121.5L780.5 121.5L781.0 121.5L781.5 121.4L782.0 121.4L782.5 121.4L783.0 121.3L783.5 121.2L784.0 121.1L784.5 121.1L785.0 121.0L785.5 120.9L786.0 120.8L786.5 120.7L787.0 120.5L787.5 120.4L788.0 120.3L788.5 120.2L789.0 120.1L789.5 119.9L790.0 119.8L790.5 119.6L791.0 119.4L791.5 119.1L792.0 118.9L792.5 118.6L793.0 118.2L793.5 117.9L794.0 117.5L794.5 117.1L795.0 116.7L795.5 116.3L796.0 115.8L796.5 115.4L797.0 114.9L797.5 114.4L798.0 113.9L798.5 113.4L799.0 112.9L799.5 112.4L800.0 111.8L800.5 111.3L801.0 110.8L801.5 110.3L802.0 109.7L802.5 109.2L803.0 108.7L803.5 108.2L804.0 107.7L804.5 107.2L805.0 106.8L805.5 106.3L806.0 105.9L806.5 105.4L807.0 105.0L807.5 104.6L808.0 104.3L808.5 103.9L809.0 103.6L809.5 103.3L810.0 103.1L810.5 102.8L811.0 102.6L811.5 102.4L812.0 102.3L812.5 102.2L813.0 102.1L813.5 102.1L814.0 102.1L814.5 102.1L815.0 102.2L815.5 102.2L816.0 102.3L816.5 102.4L817.0 102.5L817.5 102.6L818.0 102.7L818.5 102.8L819.0 103.0L819.5 103.1L820.0 103.2L820.5 103.3L821.0 103.3L821.5 103.4L822.0 103.5L822.5 103.5L823.0 103.5L823.5 103.5L824.0 103.4L824.5 103.2L825.0 103.0L825.5 102.8L826.0 102.5L826.5 102.2L827.0 101.8L827.5 101.4L828.0 100.9L828.5 100.5L829.0 100.0L829.5 99.5L830.0 98.9L830.5 98.4L831.0 97.8L831.5 97.2L832.0 96.7L832.5 96.1L833.0 95.5L833.5 94.9L834.0 94.4L834.5 93.8L835.0 93.3L835.5 92.8L836.0 92.3L836.5 91.8L837.0 91.3L837.5 90.8L838.0 90.2L838.5 89.6L839.0 89.0L839.5 88.4L840.0 87.8L840.5 87.2L841.0 86.6L841.5 85.9L842.0 85.3L842.5 84.6L843.0 84.0L843.5 83.3L844.0 82.6L844.5 82.0L845.0 81.3L845.5 80.7L846.0 80.1L846.5 79.4L847.0 78.8L847.5 78.2L848.0 77.6L848.5 77.0L849.0 76.4L849.5 75.9L850.0 75.4L850.5 74.9L851.0 74.4L851.5 73.9L852.0 73.5L852.5 73.1L853.0 72.7L853.5 72.4L854.0 72.1L854.5 71.8L855.0 71.6L855.5 71.3L856.0 71.1L856.5 70.8L857.0 70.6L857.5 70.4L858.0 70.2L858.5 69.9L859.0 69.7L859.5 69.5L860.0 69.3L860.5 69.2L861.0 69.0L861.5 68.8L862.0 68.7L862.5 68.5L863.0 68.4L863.5 68.3L864.0 68.2L864.5 68.1L865.0 68.1L865.5 68.0L866.0 68.0" stroke="#BF00BF" stroke-width="2.5" fill="none" stroke-linejoin="round" clip-path="url(#ca)"/>
<path d="M105.5 411.5L106.0 410.1L106.5 408.7L107.0 407.2L107.5 405.6L108.0 404.0L108.5 402.4L109.0 400.7L109.5 399.0L110.0 397.1L110.5 395.0L111.0 392.5L111.5 389.7L112.0 386.5L112.5 383.3L113.0 380.0L113.5 376.7L114.0 373.3L114.5 369.8L115.0 366.2L115.5 362.5L116.0 358.6L116.5 354.6L117.0 350.4L117.5 346.2L118.0 342.0L118.5 337.8L119.0 333.8L119.5 330.0L120.0 326.4L120.5 322.9L121.0 319.5L121.5 316.1L122.0 312.8L122.5 309.6L123.0 306.3L123.5 303.1L124.0 299.9L124.5 296.7L125.0 293.6L125.5 290.4L126.0 287.3L126.5 284.3L127.0 281.2L127.5 278.1L128.0 274.7L128.5 271.2L129.0 267.6L129.5 264.1L130.0 260.9L130.5 258.1L131.0 255.8L131.5 254.2L132.0 253.2L132.5 252.2L133.0 251.3L133.5 250.5L134.0 249.7L134.5 249.1L135.0 248.5L135.5 248.1L136.0 247.8L136.5 247.6L137.0 247.6L137.5 247.7L138.0 247.8L138.5 247.9L139.0 248.1L139.5 248.3L140.0 248.6L140.5 248.8L141.0 249.0L141.5 249.3L142.0 249.5L142.5 249.7L143.0 250.0L143.5 250.3L144.0 250.6L144.5 251.0L145.0 251.3L145.5 251.6L146.0 252.0L146.5 252.3L147.0 252.5L147.5 252.8L148.0 253.0L148.5 253.2L149.0 253.3L149.5 253.3L150.0 253.0L150.5 252.3L151.0 251.3L151.5 250.1L152.0 248.9L152.5 247.8L153.0 246.8L153.5 245.7L154.0 244.7L154.5 243.6L155.0 242.5L155.5 241.4L156.0 240.2L156.5 239.1L157.0 237.9L157.5 236.8L158.0 235.7L158.5 234.5L159.0 233.4L159.5 232.3L160.0 231.2L160.5 230.2L161.0 229.1L161.5 228.1L162.0 227.1L162.5 226.0L163.0 225.0L163.5 224.0L164.0 222.9L164.5 221.9L165.0 220.8L165.5 219.7L166.0 218.5L166.5 217.4L167.0 216.2L167.5 215.0L168.0 213.7L168.5 212.4L169.0 211.0L169.5 209.5L170.0 207.9L170.5 206.3L171.0 204.7L171.5 203.1L172.0 201.5L172.5 200.1L173.0 198.6L173.5 197.2L174.0 195.7L174.5 194.3L175.0 193.0L175.5 191.9L176.0 191.0L176.5 190.3L177.0 189.6L177.5 189.0L178.0 188.4L178.5 187.8L179.0 187.2L179.5 186.7L180.0 186.2L180.5 185.7L181.0 185.3L181.5 184.9L182.0 184.4L182.5 184.0L183.0 183.7L183.5 183.3L184.0 182.9L184.5 182.6L185.0 182.2L185.5 181.9L186.0 181.6L186.5 181.2L187.0 180.9L187.5 180.6L188.0 180.2L188.5 179.9L189.0 179.5L189.5 179.2L190.0 178.8L190.5 178.4L191.0 178.1L191.5 177.7L192.0 177.3L192.5 177.0L193.0 176.6L193.5 176.2L194.0 175.9L194.5 175.5L195.0 175.2L195.5 174.9L196.0 174.5L196.5 174.2L197.0 174.0L197.5 173.7L198.0 173.4L198.5 173.2L199.0 173.0L199.5 172.8L200.0 172.7L200.5 172.5L201.0 172.4L201.5 172.4L202.0 172.3L202.5 172.3L203.0 172.3L203.5 172.4L204.0 172.4L204.5 172.5L205.0 172.6L205.5 172.7L206.0 172.8L206.5 172.9L207.0 173.1L207.5 173.2L208.0 173.4L208.5 173.5L209.0 173.7L209.5 173.8L210.0 173.9L210.5 174.1L211.0 174.2L211.5 174.3L212.0 174.5L212.5 174.6L213.0 174.6L213.5 174.7L214.0 174.8L214.5 174.8L215.0 174.8L215.5 174.8L216.0 174.8L216.5 174.8L217.0 174.7L217.5 174.7L218.0 174.7L218.5 174.6L219.0 174.6L219.5 174.5L220.0 174.4L220.5 174.4L221.0 174.3L221.5 174.2L222.0 174.1L222.5 174.1L223.0 174.0L223.5 173.9L224.0 173.8L224.5 173.7L225.0 173.6L225.5 173.4L226.0 173.3L226.5 173.2L227.0 173.1L227.5 173.0L228.0 172.9L228.5 172.7L229.0 172.6L229.5 172.5L230.0 172.3L230.5 172.2L231.0 172.1L231.5 171.9L232.0 171.8L232.5 171.7L233.0 171.5L233.5 171.4L234.0 171.3L234.5 171.1L235.0 171.0L235.5 170.9L236.0 170.7L236.5 170.5L237.0 170.3L237.5 170.1L238.0 169.9L238.5 169.7L239.0 169.4L239.5 169.1L240.0 168.9L240.5 168.6L241.0 168.3L241.5 168.0L242.0 167.7L242.5 167.4L243.0 167.1L243.5 166.8L244.0 166.4L244.5 166.1L245.0 165.8L245.5 165.5L246.0 165.1L246.5 164.8L247.0 164.5L247.5 164.2L248.0 163.9L248.5 163.6L249.0 163.3L249.5 163.0L250.0 162.7L250.5 162.4L251.0 162.1L251.5 161.9L252.0 161.6L252.5 161.4L253.0 161.2L253.5 161.0L254.0 160.8L254.5 160.6L255.0 160.4L255.5 160.3L256.0 160.2L256.5 160.1L257.0 160.0L257.5 159.9L258.0 159.9L258.5 159.9L259.0 159.9L259.5 160.0L260.0 160.0L260.5 160.1L261.0 160.3L261.5 160.4L262.0 160.6L262.5 160.8L263.0 161.0L263.5 161.3L264.0 161.6L264.5 161.8L265.0 162.1L265.5 162.4L266.0 162.8L266.5 163.1L267.0 163.4L267.5 163.8L268.0 164.1L268.5 164.5L269.0 164.8L269.5 165.2L270.0 165.6L270.5 165.9L271.0 166.3L271.5 166.6L272.0 167.0L272.5 167.3L273.0 167.6L273.5 168.0L274.0 168.3L274.5 168.6L275.0 168.8L275.5 169.1L276.0 169.4L276.5 169.6L277.0 169.8L277.5 170.0L278.0 170.1L278.5 170.3L279.0 170.4L279.5 170.4L280.0 170.5L280.5 170.5L281.0 170.5L281.5 170.4L282.0 170.2L282.5 170.0L283.0 169.7L283.5 169.4L284.0 169.1L284.5 168.7L285.0 168.2L285.5 167.7L286.0 167.2L286.5 166.6L287.0 166.0L287.5 165.4L288.0 164.8L288.5 164.1L289.0 163.4L289.5 162.7L290.0 162.0L290.5 161.3L291.0 160.5L291.5 159.8L292.0 159.0L292.5 158.2L293.0 157.5L293.5 156.7L294.0 156.0L294.5 155.3L295.0 154.5L295.5 153.8L296.0 153.2L296.5 152.5L297.0 151.8L297.5 151.2L298.0 150.6L298.5 150.1L299.0 149.6L299.5 149.1L300.0 148.6L300.5 148.2L301.0 147.9L301.5 147.6L302.0 147.3L302.5 147.1L303.0 147.0L303.5 146.9L304.0 146.9L304.5 146.9L305.0 147.0L305.5 147.2L306.0 147.3L306.5 147.6L307.0 147.8L307.5 148.2L308.0 148.5L308.5 148.9L309.0 149.3L309.5 149.8L310.0 150.3L310.5 150.8L311.0 151.4L311.5 151.9L312.0 152.5L312.5 153.2L313.0 153.8L313.5 154.5L314.0 155.2L314.5 155.9L315.0 156.6L315.5 157.3L316.0 158.1L316.5 158.8L317.0 159.6L317.5 160.3L318.0 161.1L318.5 161.9L319.0 162.6L319.5 163.4L320.0 164.1L320.5 164.9L321.0 165.6L321.5 166.4L322.0 167.1L322.5 167.8L323.0 168.5L323.5 169.2L324.0 169.8L324.5 170.5L325.0 171.1L325.5 171.7L326.0 172.3L326.5 172.8L327.0 173.3L327.5 173.8L328.0 174.3L328.5 174.7L329.0 175.0L329.5 175.4L330.0 175.7L330.5 175.9L331.0 176.1L331.5 176.3L332.0 176.4L332.5 176.5L333.0 176.5L333.5 176.5L334.0 176.4L334.5 176.2L335.0 176.0L335.5 175.8L336.0 175.5L336.5 175.1L337.0 174.8L337.5 174.3L338.0 173.9L338.5 173.4L339.0 172.9L339.5 172.3L340.0 171.7L340.5 171.1L341.0 170.5L341.5 169.8L342.0 169.2L342.5 168.5L343.0 167.8L343.5 167.0L344.0 166.3L344.5 165.6L345.0 164.8L345.5 164.1L346.0 163.3L346.5 162.6L347.0 161.8L347.5 161.1L348.0 160.4L348.5 159.6L349.0 158.9L349.5 158.2L350.0 157.5L350.5 156.9L351.0 156.2L351.5 155.6L352.0 155.0L352.5 154.5L353.0 153.9L353.5 153.4L354.0 152.9L354.5 152.5L355.0 152.1L355.5 151.8L356.0 151.4L356.5 151.2L357.0 151.0L357.5 150.8L358.0 150.7L358.5 150.6L359.0 150.6L359.5 150.7L360.0 150.8L360.5 150.9L361.0 151.1L361.5 151.4L362.0 151.7L362.5 152.0L363.0 152.4L363.5 152.8L364.0 153.3L364.5 153.7L365.0 154.3L365.5 154.8L366.0 155.4L366.5 156.0L367.0 156.6L367.5 157.2L368.0 157.9L368.5 158.6L369.0 159.2L369.5 159.9L370.0 160.6L370.5 161.3L371.0 162.0L371.5 162.7L372.0 163.5L372.5 164.2L373.0 164.8L373.5 165.5L374.0 166.2L374.5 166.9L375.0 167.5L375.5 168.2L376.0 168.8L376.5 169.3L377.0 169.9L377.5 170.4L378.0 170.9L378.5 171.4L379.0 171.9L379.5 172.3L380.0 172.6L380.5 173.0L381.0 173.2L381.5 173.5L382.0 173.7L382.5 173.8L383.0 173.9L383.5 173.9L384.0 173.9L384.5 173.8L385.0 173.6L385.5 173.4L386.0 173.1L386.5 172.7L387.0 172.4L387.5 171.9L388.0 171.5L388.5 171.0L389.0 170.4L389.5 169.9L390.0 169.3L390.5 168.7L391.0 168.0L391.5 167.4L392.0 166.8L392.5 166.1L393.0 165.5L393.5 164.9L394.0 164.3L394.5 163.6L395.0 163.1L395.5 162.5L396.0 161.9L396.5 161.4L397.0 161.0L397.5 160.5L398.0 160.1L398.5 159.8L399.0 159.5L399.5 159.2L400.0 159.1L400.5 159.0L401.0 158.9L401.5 158.9L402.0 159.0L402.5 159.0L403.0 159.1L403.5 159.3L404.0 159.4L404.5 159.6L405.0 159.9L405.5 160.1L406.0 160.3L406.5 160.6L407.0 160.9L407.5 161.2L408.0 161.5L408.5 161.9L409.0 162.2L409.5 162.6L410.0 162.9L410.5 163.3L411.0 163.7L411.5 164.1L412.0 164.4L412.5 164.8L413.0 165.2L413.5 165.5L414.0 165.9L414.5 166.2L415.0 166.6L415.5 166.9L416.0 167.2L416.5 167.5L417.0 167.8L417.5 168.0L418.0 168.2L418.5 168.5L419.0 168.7L419.5 168.8L420.0 169.0L420.5 169.1L421.0 169.1L421.5 169.2L422.0 169.2L422.5 169.2L423.0 169.1L423.5 169.0L424.0 168.9L424.5 168.7L425.0 168.5L425.5 168.3L426.0 168.0L426.5 167.7L427.0 167.4L427.5 167.1L428.0 166.7L428.5 166.4L429.0 166.0L429.5 165.6L430.0 165.2L430.5 164.7L431.0 164.3L431.5 163.8L432.0 163.4L432.5 162.9L433.0 162.5L433.5 162.0L434.0 161.6L434.5 161.1L435.0 160.6L435.5 160.2L436.0 159.8L436.5 159.3L437.0 158.9L437.5 158.5L438.0 158.1L438.5 157.7L439.0 157.4L439.5 157.1L440.0 156.7L440.5 156.5L441.0 156.2L441.5 155.9L442.0 155.7L442.5 155.6L443.0 155.4L443.5 155.3L444.0 155.2L444.5 155.2L445.0 155.2L445.5 155.2L446.0 155.3L446.5 155.3L447.0 155.4L447.5 155.5L448.0 155.7L448.5 155.8L449.0 156.0L449.5 156.2L450.0 156.4L450.5 156.6L451.0 156.8L451.5 157.1L452.0 157.3L452.5 157.6L453.0 157.9L453.5 158.2L454.0 158.5L454.5 158.8L455.0 159.1L455.5 159.4L456.0 159.8L456.5 160.1L457.0 160.5L457.5 160.8L458.0 161.2L458.5 161.5L459.0 161.9L459.5 162.3L460.0 162.6L460.5 163.0L461.0 163.4L461.5 163.7L462.0 164.1L462.5 164.5L463.0 164.8L463.5 165.2L464.0 165.5L464.5 165.9L465.0 166.2L465.5 166.5L466.0 166.8L466.5 167.1L467.0 167.4L467.5 167.7L468.0 168.0L468.5 168.3L469.0 168.5L469.5 168.8L470.0 169.0L470.5 169.2L471.0 169.4L471.5 169.6L472.0 169.7L472.5 169.9L473.0 170.0L473.5 170.1L474.0 170.2L474.5 170.2L475.0 170.3L475.5 170.3L476.0 170.3L476.5 170.3L477.0 170.2L477.5 170.1L478.0 170.0L478.5 169.8L479.0 169.7L479.5 169.5L480.0 169.3L480.5 169.1L481.0 168.8L481.5 168.6L482.0 168.3L482.5 168.0L483.0 167.7L483.5 167.4L484.0 167.1L484.5 166.7L485.0 166.4L485.5 166.0L486.0 165.6L486.5 165.3L487.0 164.9L487.5 164.5L488.0 164.1L488.5 163.7L489.0 163.3L489.5 162.9L490.0 162.6L490.5 162.2L491.0 161.8L491.5 161.4L492.0 161.0L492.5 160.7L493.0 160.3L493.5 160.0L494.0 159.6L494.5 159.3L495.0 159.0L495.5 158.7L496.0 158.4L496.5 158.1L497.0 157.8L497.5 157.6L498.0 157.3L498.5 157.1L499.0 156.9L499.5 156.8L500.0 156.6L500.5 156.5L501.0 156.4L501.5 156.4L502.0 156.3L502.5 156.3L503.0 156.3L503.5 156.4L504.0 156.6L504.5 156.7L505.0 157.0L505.5 157.3L506.0 157.6L506.5 157.9L507.0 158.4L507.5 158.8L508.0 159.3L508.5 159.8L509.0 160.3L509.5 160.8L510.0 161.4L510.5 162.0L511.0 162.6L511.5 163.2L512.0 163.8L512.5 164.5L513.0 165.1L513.5 165.7L514.0 166.4L514.5 167.0L515.0 167.6L515.5 168.3L516.0 168.9L516.5 169.5L517.0 170.0L517.5 170.6L518.0 171.1L518.5 171.7L519.0 172.1L519.5 172.6L520.0 173.0L520.5 173.4L521.0 173.8L521.5 174.1L522.0 174.3L522.5 174.5L523.0 174.7L523.5 174.8L524.0 174.9L524.5 174.9L525.0 174.8L525.5 174.7L526.0 174.5L526.5 174.2L527.0 173.9L527.5 173.5L528.0 173.0L528.5 172.5L529.0 172.0L529.5 171.4L530.0 170.8L530.5 170.1L531.0 169.4L531.5 168.7L532.0 167.9L532.5 167.2L533.0 166.4L533.5 165.6L534.0 164.7L534.5 163.9L535.0 163.1L535.5 162.2L536.0 161.4L536.5 160.6L537.0 159.8L537.5 159.0L538.0 158.2L538.5 157.4L539.0 156.7L539.5 155.9L540.0 155.2L540.5 154.6L541.0 154.0L541.5 153.4L542.0 152.9L542.5 152.4L543.0 151.9L543.5 151.6L544.0 151.2L544.5 151.0L545.0 150.8L545.5 150.7L546.0 150.6L546.5 150.6L547.0 150.7L547.5 150.8L548.0 150.9L548.5 151.1L549.0 151.3L549.5 151.6L550.0 151.9L550.5 152.3L551.0 152.6L551.5 153.0L552.0 153.4L552.5 153.9L553.0 154.4L553.5 154.9L554.0 155.4L554.5 156.0L555.0 156.5L555.5 157.1L556.0 157.7L556.5 158.3L557.0 158.9L557.5 159.5L558.0 160.2L558.5 160.8L559.0 161.4L559.5 162.1L560.0 162.7L560.5 163.3L561.0 164.0L561.5 164.6L562.0 165.2L562.5 165.8L563.0 166.4L563.5 167.0L564.0 167.6L564.5 168.2L565.0 168.7L565.5 169.2L566.0 169.7L566.5 170.2L567.0 170.6L567.5 171.1L568.0 171.5L568.5 171.8L569.0 172.1L569.5 172.4L570.0 172.7L570.5 172.9L571.0 173.1L571.5 173.2L572.0 173.3L572.5 173.4L573.0 173.4L573.5 173.3L574.0 173.2L574.5 173.0L575.0 172.7L575.5 172.4L576.0 172.1L576.5 171.6L577.0 171.2L577.5 170.6L578.0 170.1L578.5 169.5L579.0 168.8L579.5 168.1L580.0 167.4L580.5 166.7L581.0 165.9L581.5 165.1L582.0 164.3L582.5 163.5L583.0 162.6L583.5 161.8L584.0 160.9L584.5 160.1L585.0 159.2L585.5 158.4L586.0 157.5L586.5 156.7L587.0 155.8L587.5 155.0L588.0 154.2L588.5 153.4L589.0 152.6L589.5 151.9L590.0 151.2L590.5 150.5L591.0 149.8L591.5 149.2L592.0 148.7L592.5 148.1L593.0 147.7L593.5 147.2L594.0 146.9L594.5 146.6L595.0 146.3L595.5 146.1L596.0 146.0L596.5 145.9L597.0 145.9L597.5 146.0L598.0 146.1L598.5 146.2L599.0 146.4L599.5 146.7L600.0 147.0L600.5 147.3L601.0 147.6L601.5 148.0L602.0 148.5L602.5 148.9L603.0 149.4L603.5 149.9L604.0 150.4L604.5 151.0L605.0 151.5L605.5 152.1L606.0 152.7L606.5 153.3L607.0 153.9L607.5 154.5L608.0 155.1L608.5 155.7L609.0 156.4L609.5 157.0L610.0 157.6L610.5 158.2L611.0 158.7L611.5 159.3L612.0 159.9L612.5 160.4L613.0 160.9L613.5 161.4L614.0 161.9L614.5 162.3L615.0 162.7L615.5 163.1L616.0 163.4L616.5 163.7L617.0 164.0L617.5 164.2L618.0 164.4L618.5 164.5L619.0 164.6L619.5 164.6L620.0 164.6L620.5 164.5L621.0 164.3L621.5 164.1L622.0 163.8L622.5 163.5L623.0 163.1L623.5 162.7L624.0 162.3L624.5 161.8L625.0 161.2L625.5 160.6L626.0 160.0L626.5 159.4L627.0 158.7L627.5 158.0L628.0 157.3L628.5 156.5L629.0 155.7L629.5 155.0L630.0 154.2L630.5 153.3L631.0 152.5L631.5 151.7L632.0 150.9L632.5 150.0L633.0 149.2L633.5 148.4L634.0 147.6L634.5 146.7L635.0 145.9L635.5 145.2L636.0 144.4L636.5 143.6L637.0 142.9L637.5 142.2L638.0 141.5L638.5 140.9L639.0 140.3L639.5 139.7L640.0 139.1L640.5 138.6L641.0 138.2L641.5 137.8L642.0 137.4L642.5 137.1L643.0 136.8L643.5 136.6L644.0 136.4L644.5 136.3L645.0 136.3L645.5 136.3L646.0 136.4L646.5 136.6L647.0 136.8L647.5 137.1L648.0 137.4L648.5 137.8L649.0 138.2L649.5 138.7L650.0 139.2L650.5 139.8L651.0 140.3L651.5 141.0L652.0 141.6L652.5 142.3L653.0 143.0L653.5 143.7L654.0 144.5L654.5 145.3L655.0 146.0L655.5 146.8L656.0 147.6L656.5 148.4L657.0 149.2L657.5 150.1L658.0 150.9L658.5 151.7L659.0 152.5L659.5 153.2L660.0 154.0L660.5 154.8L661.0 155.5L661.5 156.2L662.0 156.9L662.5 157.5L663.0 158.2L663.5 158.7L664.0 159.3L664.5 159.8L665.0 160.3L665.5 160.7L666.0 161.1L666.5 161.4L667.0 161.7L667.5 161.9L668.0 162.1L668.5 162.2L669.0 162.2L669.5 162.2L670.0 162.1L670.5 162.0L671.0 161.8L671.5 161.6L672.0 161.3L672.5 161.0L673.0 160.7L673.5 160.3L674.0 159.9L674.5 159.4L675.0 158.9L675.5 158.4L676.0 157.9L676.5 157.3L677.0 156.7L677.5 156.1L678.0 155.4L678.5 154.7L679.0 154.0L679.5 153.3L680.0 152.6L680.5 151.8L681.0 151.1L681.5 150.3L682.0 149.5L682.5 148.7L683.0 147.9L683.5 147.1L684.0 146.3L684.5 145.5L685.0 144.7L685.5 143.9L686.0 143.1L686.5 142.3L687.0 141.5L687.5 140.7L688.0 139.9L688.5 139.2L689.0 138.4L689.5 137.7L690.0 137.0L690.5 136.2L691.0 135.6L691.5 134.9L692.0 134.3L692.5 133.6L693.0 133.1L693.5 132.5L694.0 132.0L694.5 131.5L695.0 131.0L695.5 130.6L696.0 130.2L696.5 129.8L697.0 129.5L697.5 129.2L698.0 129.0L698.5 128.8L699.0 128.6L699.5 128.6L700.0 128.5L700.5 128.5L701.0 128.6L701.5 128.7L702.0 128.8L702.5 129.0L703.0 129.3L703.5 129.5L704.0 129.9L704.5 130.2L705.0 130.6L705.5 131.0L706.0 131.5L706.5 132.0L707.0 132.5L707.5 133.0L708.0 133.6L708.5 134.2L709.0 134.7L709.5 135.4L710.0 136.0L710.5 136.6L711.0 137.2L711.5 137.9L712.0 138.5L712.5 139.2L713.0 139.9L713.5 140.5L714.0 141.2L714.5 141.8L715.0 142.4L715.5 143.1L716.0 143.7L716.5 144.3L717.0 144.9L717.5 145.4L718.0 146.0L718.5 146.5L719.0 147.0L719.5 147.5L720.0 147.9L720.5 148.3L721.0 148.7L721.5 149.1L722.0 149.4L722.5 149.6L723.0 149.9L723.5 150.0L724.0 150.2L724.5 150.3L725.0 150.3L725.5 150.3L726.0 150.2L726.5 150.0L727.0 149.8L727.5 149.5L728.0 149.2L728.5 148.8L729.0 148.4L729.5 147.9L730.0 147.3L730.5 146.8L731.0 146.1L731.5 145.5L732.0 144.8L732.5 144.0L733.0 143.3L733.5 142.5L734.0 141.7L734.5 140.8L735.0 140.0L735.5 139.1L736.0 138.2L736.5 137.3L737.0 136.4L737.5 135.4L738.0 134.5L738.5 133.6L739.0 132.6L739.5 131.7L740.0 130.8L740.5 129.8L741.0 128.9L741.5 128.0L742.0 127.2L742.5 126.3L743.0 125.5L743.5 124.7L744.0 123.9L744.5 123.1L745.0 122.4L745.5 121.7L746.0 121.0L746.5 120.4L747.0 119.8L747.5 119.3L748.0 118.8L748.5 118.4L749.0 118.0L749.5 117.7L750.0 117.4L750.5 117.2L751.0 117.1L751.5 117.0L752.0 117.0L752.5 117.0L753.0 117.1L753.5 117.3L754.0 117.4L754.5 117.7L755.0 117.9L755.5 118.2L756.0 118.5L756.5 118.9L757.0 119.2L757.5 119.6L758.0 120.1L758.5 120.5L759.0 121.0L759.5 121.5L760.0 122.0L760.5 122.5L761.0 123.0L761.5 123.5L762.0 124.0L762.5 124.6L763.0 125.1L763.5 125.7L764.0 126.2L764.5 126.7L765.0 127.2L765.5 127.7L766.0 128.2L766.5 128.7L767.0 129.2L767.5 129.6L768.0 130.0L768.5 130.4L769.0 130.8L769.5 131.2L770.0 131.5L770.5 131.7L771.0 132.0L771.5 132.2L772.0 132.4L772.5 132.5L773.0 132.6L773.5 132.6L774.0 132.6L774.5 132.5L775.0 132.4L775.5 132.2L776.0 132.0L776.5 131.7L777.0 131.4L777.5 131.0L778.0 130.6L778.5 130.2L779.0 129.7L779.5 129.2L780.0 128.6L780.5 128.1L781.0 127.5L781.5 126.8L782.0 126.2L782.5 125.5L783.0 124.8L783.5 124.1L784.0 123.3L784.5 122.6L785.0 121.8L785.5 121.0L786.0 120.3L786.5 119.5L787.0 118.7L787.5 117.9L788.0 117.1L788.5 116.3L789.0 115.5L789.5 114.7L790.0 113.9L790.5 113.2L791.0 112.4L791.5 111.7L792.0 111.0L792.5 110.3L793.0 109.6L793.5 108.9L794.0 108.3L794.5 107.7L795.0 107.1L795.5 106.5L796.0 106.0L796.5 105.5L797.0 105.1L797.5 104.7L798.0 104.3L798.5 104.0L799.0 103.7L799.5 103.4L800.0 103.2L800.5 103.1L801.0 103.0L801.5 103.0L802.0 103.0L802.5 103.0L803.0 103.1L803.5 103.2L804.0 103.3L804.5 103.4L805.0 103.5L805.5 103.6L806.0 103.8L806.5 103.9L807.0 104.1L807.5 104.3L808.0 104.5L808.5 104.7L809.0 104.9L809.5 105.1L810.0 105.3L810.5 105.6L811.0 105.8L811.5 106.0L812.0 106.3L812.5 106.5L813.0 106.8L813.5 107.0L814.0 107.2L814.5 107.5L815.0 107.7L815.5 107.9L816.0 108.1L816.5 108.3L817.0 108.5L817.5 108.7L818.0 108.9L818.5 109.0L819.0 109.2L819.5 109.3L820.0 109.4L820.5 109.5L821.0 109.6L821.5 109.7L822.0 109.8L822.5 109.8L823.0 109.8L823.5 109.7L824.0 109.6L824.5 109.3L825.0 108.9L825.5 108.4L826.0 107.8L826.5 107.2L827.0 106.5L827.5 105.8L828.0 105.0L828.5 104.2L829.0 103.3L829.5 102.5L830.0 101.6L830.5 100.8L831.0 99.9L831.5 99.1L832.0 98.3L832.5 97.6L833.0 96.8L833.5 96.0L834.0 95.2L834.5 94.3L835.0 93.4L835.5 92.5L836.0 91.6L836.5 90.7L837.0 89.8L837.5 88.9L838.0 88.0L838.5 87.2L839.0 86.3L839.5 85.6L840.0 84.8L840.5 84.2L841.0 83.5L841.5 82.9L842.0 82.2L842.5 81.6L843.0 80.9L843.5 80.3L844.0 79.6L844.5 78.9L845.0 78.3L845.5 77.7L846.0 77.1L846.5 76.5L847.0 75.9L847.5 75.3L848.0 74.8L848.5 74.4L849.0 73.9L849.5 73.5L850.0 73.2L850.5 72.9L851.0 72.6L851.5 72.4L852.0 72.3L852.5 72.2L853.0 72.2L853.5 72.2L854.0 72.2L854.5 72.2L855.0 72.2L855.5 72.2L856.0 72.2L856.5 72.2L857.0 72.2L857.5 72.2L858.0 72.2L858.5 72.2L859.0 72.2L859.5 72.2L860.0 72.2L860.5 72.2L861.0 72.2L861.5 72.2L862.0 72.2L862.5 72.2L863.0 72.2L863.5 72.2L864.0 72.2L864.5 72.2L865.0 72.2L865.5 72.2L866.0 72.2" stroke="#00BFBF" stroke-width="2.5" fill="none" stroke-linejoin="round" clip-path="url(#ca)"/>
<path d="M105.5 411.5L106.0 410.0L106.5 408.3L107.0 406.2L107.5 404.0L108.0 401.4L108.5 398.4L109.0 395.2L109.5 391.9L110.0 388.5L110.5 384.9L111.0 381.1L111.5 377.3L112.0 373.5L112.5 369.8L113.0 366.2L113.5 362.7L114.0 359.0L114.5 355.0L115.0 350.4L115.5 345.3L116.0 340.1L116.5 335.0L117.0 330.1L117.5 325.3L118.0 320.7L118.5 316.3L119.0 312.2L119.5 308.3L120.0 304.4L120.5 300.4L121.0 296.2L121.5 292.0L122.0 287.9L122.5 283.8L123.0 280.0L123.5 276.2L124.0 272.4L124.5 268.8L125.0 265.5L125.5 262.8L126.0 260.8L126.5 258.9L127.0 257.1L127.5 255.4L128.0 254.0L128.5 252.7L129.0 251.8L129.5 251.2L130.0 251.1L130.5 251.3L131.0 251.7L131.5 252.4L132.0 253.2L132.5 254.2L133.0 255.3L133.5 256.6L134.0 257.9L134.5 259.3L135.0 260.8L135.5 262.2L136.0 263.7L136.5 265.1L137.0 266.4L137.5 267.6L138.0 268.7L138.5 269.7L139.0 270.8L139.5 271.9L140.0 273.1L140.5 274.3L141.0 275.5L141.5 276.6L142.0 277.6L142.5 278.5L143.0 279.3L143.5 279.9L144.0 280.3L144.5 280.5L145.0 280.5L145.5 280.3L146.0 280.0L146.5 279.6L147.0 279.1L147.5 278.6L148.0 278.0L148.5 277.1L149.0 275.8L149.5 274.2L150.0 272.3L150.5 269.8L151.0 266.5L151.5 262.8L152.0 259.0L152.5 255.3L153.0 251.6L153.5 247.9L154.0 244.2L154.5 240.5L155.0 236.9L155.5 233.2L156.0 229.5L156.5 225.9L157.0 222.3L157.5 218.8L158.0 215.4L158.5 212.2L159.0 209.2L159.5 206.3L160.0 203.4L160.5 200.6L161.0 198.1L161.5 196.0L162.0 194.4L162.5 193.0L163.0 191.6L163.5 190.2L164.0 189.0L164.5 187.8L165.0 186.8L165.5 185.9L166.0 185.1L166.5 184.5L167.0 184.2L167.5 184.0L168.0 184.1L168.5 184.3L169.0 184.6L169.5 185.1L170.0 185.7L170.5 186.4L171.0 187.2L171.5 188.1L172.0 189.0L172.5 190.1L173.0 191.2L173.5 192.3L174.0 193.5L174.5 194.7L175.0 195.9L175.5 197.2L176.0 198.4L176.5 199.6L177.0 200.7L177.5 201.9L178.0 202.9L178.5 203.9L179.0 204.9L179.5 205.8L180.0 206.5L180.5 207.2L181.0 207.7L181.5 208.2L182.0 208.4L182.5 208.6L183.0 208.6L183.5 208.3L184.0 207.9L184.5 207.4L185.0 206.6L185.5 205.8L186.0 204.8L186.5 203.7L187.0 202.6L187.5 201.4L188.0 200.1L188.5 198.9L189.0 197.6L189.5 196.3L190.0 195.0L190.5 193.6L191.0 192.0L191.5 190.2L192.0 188.2L192.5 186.1L193.0 183.9L193.5 181.7L194.0 179.6L194.5 177.4L195.0 175.4L195.5 173.6L196.0 171.9L196.5 170.5L197.0 169.3L197.5 168.1L198.0 166.9L198.5 165.7L199.0 164.5L199.5 163.4L200.0 162.3L200.5 161.4L201.0 160.5L201.5 159.7L202.0 159.0L202.5 158.5L203.0 158.2L203.5 158.0L204.0 158.0L204.5 158.2L205.0 158.5L205.5 159.0L206.0 159.6L206.5 160.3L207.0 161.1L207.5 162.0L208.0 163.0L208.5 164.0L209.0 165.0L209.5 166.1L210.0 167.2L210.5 168.2L211.0 169.3L211.5 170.3L212.0 171.3L212.5 172.2L213.0 173.1L213.5 173.9L214.0 174.9L214.5 175.9L215.0 177.0L215.5 178.0L216.0 179.1L216.5 180.3L217.0 181.4L217.5 182.5L218.0 183.5L218.5 184.6L219.0 185.5L219.5 186.4L220.0 187.2L220.5 188.0L221.0 188.6L221.5 189.1L222.0 189.5L222.5 189.7L223.0 189.8L223.5 189.7L224.0 189.3L224.5 188.8L225.0 188.0L225.5 187.1L226.0 186.1L226.5 184.9L227.0 183.7L227.5 182.3L228.0 181.0L228.5 179.5L229.0 178.1L229.5 176.7L230.0 175.3L230.5 173.9L231.0 172.6L231.5 171.5L232.0 170.4L232.5 169.4L233.0 168.4L233.5 167.4L234.0 166.3L234.5 165.2L235.0 164.1L235.5 163.0L236.0 161.9L236.5 160.8L237.0 159.7L237.5 158.7L238.0 157.6L238.5 156.7L239.0 155.7L239.5 154.9L240.0 154.1L240.5 153.4L241.0 152.7L241.5 152.2L242.0 151.8L242.5 151.5L243.0 151.3L243.5 151.2L244.0 151.2L244.5 151.4L245.0 151.5L245.5 151.8L246.0 152.1L246.5 152.5L247.0 152.9L247.5 153.3L248.0 153.8L248.5 154.3L249.0 154.9L249.5 155.5L250.0 156.1L250.5 156.7L251.0 157.4L251.5 158.0L252.0 158.7L252.5 159.3L253.0 159.9L253.5 160.6L254.0 161.2L254.5 161.7L255.0 162.3L255.5 162.8L256.0 163.3L256.5 163.8L257.0 164.4L257.5 165.0L258.0 165.6L258.5 166.2L259.0 166.9L259.5 167.5L260.0 168.2L260.5 168.8L261.0 169.4L261.5 170.0L262.0 170.6L262.5 171.2L263.0 171.7L263.5 172.1L264.0 172.5L264.5 172.9L265.0 173.2L265.5 173.4L266.0 173.5L266.5 173.6L267.0 173.6L267.5 173.5L268.0 173.4L268.5 173.2L269.0 173.0L269.5 172.8L270.0 172.5L270.5 172.1L271.0 171.8L271.5 171.4L272.0 171.0L272.5 170.6L273.0 170.1L273.5 169.6L274.0 169.2L274.5 168.7L275.0 168.2L275.5 167.7L276.0 167.2L276.5 166.7L277.0 166.2L277.5 165.7L278.0 165.2L278.5 164.8L279.0 164.3L279.5 163.9L280.0 163.5L280.5 163.1L281.0 162.7L281.5 162.3L282.0 161.8L282.5 161.4L283.0 160.9L283.5 160.4L284.0 159.9L284.5 159.4L285.0 158.9L285.5 158.4L286.0 157.9L286.5 157.4L287.0 156.8L287.5 156.3L288.0 155.8L288.5 155.3L289.0 154.8L289.5 154.3L290.0 153.9L290.5 153.4L291.0 153.0L291.5 152.5L292.0 152.1L292.5 151.7L293.0 151.4L293.5 151.0L294.0 150.7L294.5 150.4L295.0 150.1L295.5 149.9L296.0 149.7L296.5 149.5L297.0 149.4L297.5 149.3L298.0 149.2L298.5 149.2L299.0 149.2L299.5 149.3L300.0 149.4L300.5 149.5L301.0 149.7L301.5 149.9L302.0 150.1L302.5 150.3L303.0 150.6L303.5 150.9L304.0 151.3L304.5 151.6L305.0 152.0L305.5 152.4L306.0 152.9L306.5 153.3L307.0 153.8L307.5 154.3L308.0 154.7L308.5 155.2L309.0 155.8L309.5 156.3L310.0 156.8L310.5 157.4L311.0 157.9L311.5 158.5L312.0 159.0L312.5 159.6L313.0 160.1L313.5 160.7L314.0 161.3L314.5 161.8L315.0 162.4L315.5 162.9L316.0 163.4L316.5 163.9L317.0 164.5L317.5 165.0L318.0 165.4L318.5 165.9L319.0 166.4L319.5 166.8L320.0 167.2L320.5 167.6L321.0 168.0L321.5 168.3L322.0 168.6L322.5 168.9L323.0 169.2L323.5 169.5L324.0 169.7L324.5 169.8L325.0 170.0L325.5 170.1L326.0 170.2L326.5 170.2L327.0 170.2L327.5 170.2L328.0 170.1L328.5 170.0L329.0 169.9L329.5 169.7L330.0 169.5L330.5 169.3L331.0 169.1L331.5 168.9L332.0 168.6L332.5 168.3L333.0 168.0L333.5 167.7L334.0 167.3L334.5 167.0L335.0 166.6L335.5 166.2L336.0 165.8L336.5 165.4L337.0 165.0L337.5 164.6L338.0 164.1L338.5 163.7L339.0 163.2L339.5 162.8L340.0 162.3L340.5 161.9L341.0 161.4L341.5 161.0L342.0 160.5L342.5 160.1L343.0 159.6L343.5 159.2L344.0 158.8L344.5 158.4L345.0 157.9L345.5 157.5L346.0 157.2L346.5 156.8L347.0 156.4L347.5 156.1L348.0 155.7L348.5 155.4L349.0 155.1L349.5 154.8L350.0 154.6L350.5 154.3L351.0 154.1L351.5 153.9L352.0 153.8L352.5 153.6L353.0 153.5L353.5 153.5L354.0 153.4L354.5 153.4L355.0 153.4L355.5 153.5L356.0 153.6L356.5 153.8L357.0 154.0L357.5 154.3L358.0 154.6L358.5 154.9L359.0 155.3L359.5 155.7L360.0 156.1L360.5 156.6L361.0 157.1L361.5 157.6L362.0 158.1L362.5 158.6L363.0 159.2L363.5 159.8L364.0 160.4L364.5 160.9L365.0 161.5L365.5 162.1L366.0 162.8L366.5 163.4L367.0 164.0L367.5 164.5L368.0 165.1L368.5 165.7L369.0 166.3L369.5 166.8L370.0 167.3L370.5 167.8L371.0 168.3L371.5 168.8L372.0 169.2L372.5 169.6L373.0 170.0L373.5 170.3L374.0 170.6L374.5 170.9L375.0 171.1L375.5 171.3L376.0 171.4L376.5 171.5L377.0 171.5L377.5 171.5L378.0 171.4L378.5 171.3L379.0 171.2L379.5 171.0L380.0 170.8L380.5 170.5L381.0 170.2L381.5 169.9L382.0 169.6L382.5 169.2L383.0 168.8L383.5 168.4L384.0 168.0L384.5 167.5L385.0 167.1L385.5 166.6L386.0 166.1L386.5 165.6L387.0 165.1L387.5 164.7L388.0 164.2L388.5 163.6L389.0 163.2L389.5 162.7L390.0 162.2L390.5 161.7L391.0 161.2L391.5 160.8L392.0 160.3L392.5 159.9L393.0 159.5L393.5 159.1L394.0 158.7L394.5 158.4L395.0 158.1L395.5 157.8L396.0 157.5L396.5 157.3L397.0 157.1L397.5 157.0L398.0 156.9L398.5 156.8L399.0 156.8L399.5 156.8L400.0 157.0L400.5 157.1L401.0 157.4L401.5 157.7L402.0 158.1L402.5 158.5L403.0 159.0L403.5 159.5L404.0 160.0L404.5 160.6L405.0 161.2L405.5 161.9L406.0 162.5L406.5 163.2L407.0 163.9L407.5 164.6L408.0 165.3L408.5 166.0L409.0 166.7L409.5 167.4L410.0 168.1L410.5 168.7L411.0 169.3L411.5 169.9L412.0 170.5L412.5 171.0L413.0 171.5L413.5 172.0L414.0 172.4L414.5 172.7L415.0 173.0L415.5 173.2L416.0 173.3L416.5 173.4L417.0 173.4L417.5 173.3L418.0 173.2L418.5 173.0L419.0 172.7L419.5 172.4L420.0 172.1L420.5 171.7L421.0 171.2L421.5 170.7L422.0 170.2L422.5 169.6L423.0 169.0L423.5 168.4L424.0 167.7L424.5 167.1L425.0 166.4L425.5 165.6L426.0 164.9L426.5 164.1L427.0 163.4L427.5 162.6L428.0 161.9L428.5 161.1L429.0 160.3L429.5 159.6L430.0 158.8L430.5 158.1L431.0 157.3L431.5 156.6L432.0 155.9L432.5 155.3L433.0 154.6L433.5 154.0L434.0 153.4L434.5 152.9L435.0 152.4L435.5 151.9L436.0 151.5L436.5 151.1L437.0 150.8L437.5 150.5L438.0 150.3L438.5 150.1L439.0 150.0L439.5 150.0L440.0 150.0L440.5 150.1L441.0 150.2L441.5 150.4L442.0 150.6L442.5 150.9L443.0 151.2L443.5 151.6L444.0 152.0L444.5 152.4L445.0 152.8L445.5 153.3L446.0 153.8L446.5 154.3L447.0 154.8L447.5 155.4L448.0 155.9L448.5 156.5L449.0 157.1L449.5 157.6L450.0 158.2L450.5 158.8L451.0 159.4L451.5 160.0L452.0 160.5L452.5 161.1L453.0 161.6L453.5 162.1L454.0 162.6L454.5 163.1L455.0 163.6L455.5 164.0L456.0 164.4L456.5 164.7L457.0 165.1L457.5 165.3L458.0 165.6L458.5 165.8L459.0 165.9L459.5 166.0L460.0 166.1L460.5 166.1L461.0 166.1L461.5 166.1L462.0 166.1L462.5 166.1L463.0 166.1L463.5 166.1L464.0 166.1L464.5 166.1L465.0 166.1L465.5 166.1L466.0 166.1L466.5 166.1L467.0 166.1L467.5 166.1L468.0 166.1L468.5 166.1L469.0 166.1L469.5 166.1L470.0 166.1L470.5 166.1L471.0 166.1L471.5 166.0L472.0 165.9L472.5 165.8L473.0 165.7L473.5 165.6L474.0 165.4L474.5 165.3L475.0 165.1L475.5 164.9L476.0 164.7L476.5 164.5L477.0 164.2L477.5 164.0L478.0 163.8L478.5 163.5L479.0 163.3L479.5 163.0L480.0 162.8L480.5 162.5L481.0 162.3L481.5 162.0L482.0 161.8L482.5 161.5L483.0 161.3L483.5 161.0L484.0 160.8L484.5 160.6L485.0 160.4L485.5 160.2L486.0 160.0L486.5 159.8L487.0 159.6L487.5 159.5L488.0 159.3L488.5 159.2L489.0 159.1L489.5 159.0L490.0 159.0L490.5 158.9L491.0 158.9L491.5 158.9L492.0 158.9L492.5 159.0L493.0 159.1L493.5 159.2L494.0 159.3L494.5 159.4L495.0 159.5L495.5 159.7L496.0 159.9L496.5 160.1L497.0 160.3L497.5 160.5L498.0 160.8L498.5 161.0L499.0 161.3L499.5 161.6L500.0 161.9L500.5 162.2L501.0 162.5L501.5 162.8L502.0 163.1L502.5 163.5L503.0 163.8L503.5 164.2L504.0 164.5L504.5 164.9L505.0 165.2L505.5 165.6L506.0 165.9L506.5 166.3L507.0 166.7L507.5 167.0L508.0 167.4L508.5 167.7L509.0 168.1L509.5 168.4L510.0 168.8L510.5 169.1L511.0 169.5L511.5 169.8L512.0 170.1L512.5 170.4L513.0 170.7L513.5 171.0L514.0 171.3L514.5 171.6L515.0 171.9L515.5 172.1L516.0 172.3L516.5 172.6L517.0 172.8L517.5 173.0L518.0 173.2L518.5 173.3L519.0 173.5L519.5 173.6L520.0 173.7L520.5 173.8L521.0 173.8L521.5 173.9L522.0 173.9L522.5 173.9L523.0 173.8L523.5 173.6L524.0 173.3L524.5 173.0L525.0 172.6L525.5 172.1L526.0 171.6L526.5 171.0L527.0 170.3L527.5 169.6L528.0 168.9L528.5 168.1L529.0 167.3L529.5 166.4L530.0 165.5L530.5 164.6L531.0 163.7L531.5 162.7L532.0 161.8L532.5 160.8L533.0 159.9L533.5 158.9L534.0 158.0L534.5 157.1L535.0 156.1L535.5 155.3L536.0 154.4L536.5 153.5L537.0 152.7L537.5 152.0L538.0 151.3L538.5 150.6L539.0 150.0L539.5 149.4L540.0 148.9L540.5 148.5L541.0 148.1L541.5 147.8L542.0 147.6L542.5 147.4L543.0 147.4L543.5 147.4L544.0 147.5L544.5 147.7L545.0 148.0L545.5 148.3L546.0 148.7L546.5 149.1L547.0 149.6L547.5 150.1L548.0 150.7L548.5 151.3L549.0 151.9L549.5 152.6L550.0 153.3L550.5 154.1L551.0 154.9L551.5 155.7L552.0 156.5L552.5 157.3L553.0 158.2L553.5 159.0L554.0 159.9L554.5 160.7L555.0 161.6L555.5 162.5L556.0 163.3L556.5 164.1L557.0 165.0L557.5 165.8L558.0 166.6L558.5 167.3L559.0 168.0L559.5 168.7L560.0 169.4L560.5 170.0L561.0 170.6L561.5 171.1L562.0 171.6L562.5 172.1L563.0 172.4L563.5 172.8L564.0 173.0L564.5 173.2L565.0 173.3L565.5 173.4L566.0 173.4L566.5 173.3L567.0 173.1L567.5 172.9L568.0 172.6L568.5 172.2L569.0 171.8L569.5 171.3L570.0 170.8L570.5 170.2L571.0 169.6L571.5 168.9L572.0 168.2L572.5 167.5L573.0 166.7L573.5 165.9L574.0 165.1L574.5 164.3L575.0 163.4L575.5 162.5L576.0 161.6L576.5 160.7L577.0 159.8L577.5 158.9L578.0 158.0L578.5 157.1L579.0 156.2L579.5 155.3L580.0 154.4L580.5 153.5L581.0 152.7L581.5 151.9L582.0 151.1L582.5 150.3L583.0 149.6L583.5 148.9L584.0 148.2L584.5 147.6L585.0 147.0L585.5 146.5L586.0 146.0L586.5 145.6L587.0 145.2L587.5 144.9L588.0 144.7L588.5 144.5L589.0 144.4L589.5 144.4L590.0 144.5L590.5 144.6L591.0 144.8L591.5 145.1L592.0 145.5L592.5 145.9L593.0 146.4L593.5 147.0L594.0 147.5L594.5 148.2L595.0 148.9L595.5 149.6L596.0 150.4L596.5 151.1L597.0 152.0L597.5 152.8L598.0 153.6L598.5 154.5L599.0 155.4L599.5 156.2L600.0 157.1L600.5 158.0L601.0 158.8L601.5 159.6L602.0 160.5L602.5 161.2L603.0 162.0L603.5 162.7L604.0 163.4L604.5 164.1L605.0 164.6L605.5 165.2L606.0 165.7L606.5 166.1L607.0 166.5L607.5 166.8L608.0 167.0L608.5 167.1L609.0 167.2L609.5 167.2L610.0 167.1L610.5 167.0L611.0 166.8L611.5 166.6L612.0 166.4L612.5 166.1L613.0 165.8L613.5 165.4L614.0 165.0L614.5 164.6L615.0 164.1L615.5 163.6L616.0 163.1L616.5 162.5L617.0 162.0L617.5 161.4L618.0 160.8L618.5 160.1L619.0 159.5L619.5 158.8L620.0 158.1L620.5 157.4L621.0 156.7L621.5 156.0L622.0 155.3L622.5 154.6L623.0 153.8L623.5 153.1L624.0 152.4L624.5 151.7L625.0 151.0L625.5 150.3L626.0 149.6L626.5 148.9L627.0 148.2L627.5 147.5L628.0 146.9L628.5 146.3L629.0 145.7L629.5 145.1L630.0 144.5L630.5 144.0L631.0 143.5L631.5 143.0L632.0 142.6L632.5 142.1L633.0 141.8L633.5 141.4L634.0 141.1L634.5 140.9L635.0 140.6L635.5 140.5L636.0 140.3L636.5 140.2L637.0 140.2L637.5 140.2L638.0 140.3L638.5 140.4L639.0 140.5L639.5 140.7L640.0 141.0L640.5 141.3L641.0 141.6L641.5 141.9L642.0 142.3L642.5 142.7L643.0 143.2L643.5 143.6L644.0 144.1L644.5 144.6L645.0 145.1L645.5 145.7L646.0 146.3L646.5 146.8L647.0 147.4L647.5 148.0L648.0 148.7L648.5 149.3L649.0 149.9L649.5 150.5L650.0 151.1L650.5 151.8L651.0 152.4L651.5 153.0L652.0 153.6L652.5 154.2L653.0 154.7L653.5 155.3L654.0 155.9L654.5 156.4L655.0 156.9L655.5 157.4L656.0 157.8L656.5 158.3L657.0 158.7L657.5 159.1L658.0 159.4L658.5 159.7L659.0 160.0L659.5 160.2L660.0 160.4L660.5 160.5L661.0 160.6L661.5 160.7L662.0 160.7L662.5 160.6L663.0 160.5L663.5 160.4L664.0 160.2L664.5 159.9L665.0 159.6L665.5 159.2L666.0 158.8L666.5 158.4L667.0 157.9L667.5 157.4L668.0 156.8L668.5 156.3L669.0 155.7L669.5 155.0L670.0 154.4L670.5 153.7L671.0 153.0L671.5 152.3L672.0 151.6L672.5 150.9L673.0 150.1L673.5 149.4L674.0 148.6L674.5 147.9L675.0 147.1L675.5 146.4L676.0 145.6L676.5 144.9L677.0 144.2L677.5 143.5L678.0 142.8L678.5 142.1L679.0 141.5L679.5 140.8L680.0 140.2L680.5 139.7L681.0 139.1L681.5 138.6L682.0 138.1L682.5 137.7L683.0 137.3L683.5 136.9L684.0 136.6L684.5 136.3L685.0 136.1L685.5 136.0L686.0 135.9L686.5 135.8L687.0 135.8L687.5 135.8L688.0 135.8L688.5 135.8L689.0 135.8L689.5 135.9L690.0 135.9L690.5 135.9L691.0 135.9L691.5 136.0L692.0 136.0L692.5 136.1L693.0 136.1L693.5 136.2L694.0 136.2L694.5 136.3L695.0 136.3L695.5 136.4L696.0 136.4L696.5 136.5L697.0 136.5L697.5 136.6L698.0 136.7L698.5 136.8L699.0 136.8L699.5 136.9L700.0 137.0L700.5 137.0L701.0 137.1L701.5 137.2L702.0 137.3L702.5 137.4L703.0 137.5L703.5 137.6L704.0 137.7L704.5 137.9L705.0 138.1L705.5 138.3L706.0 138.6L706.5 138.8L707.0 139.1L707.5 139.4L708.0 139.7L708.5 140.0L709.0 140.3L709.5 140.6L710.0 140.9L710.5 141.2L711.0 141.6L711.5 141.9L712.0 142.2L712.5 142.6L713.0 142.9L713.5 143.3L714.0 143.6L714.5 143.9L715.0 144.2L715.5 144.5L716.0 144.8L716.5 145.1L717.0 145.4L717.5 145.7L718.0 145.9L718.5 146.1L719.0 146.3L719.5 146.5L720.0 146.7L720.5 146.8L721.0 147.0L721.5 147.1L722.0 147.1L722.5 147.2L723.0 147.2L723.5 147.2L724.0 147.1L724.5 146.9L725.0 146.6L725.5 146.3L726.0 145.9L726.5 145.5L727.0 145.0L727.5 144.5L728.0 143.9L728.5 143.3L729.0 142.6L729.5 141.9L730.0 141.1L730.5 140.4L731.0 139.6L731.5 138.7L732.0 137.9L732.5 137.0L733.0 136.1L733.5 135.3L734.0 134.4L734.5 133.4L735.0 132.5L735.5 131.6L736.0 130.7L736.5 129.8L737.0 128.9L737.5 128.1L738.0 127.2L738.5 126.4L739.0 125.6L739.5 124.8L740.0 124.1L740.5 123.3L741.0 122.7L741.5 122.0L742.0 121.4L742.5 120.9L743.0 120.4L743.5 120.0L744.0 119.6L744.5 119.2L745.0 119.0L745.5 118.8L746.0 118.7L746.5 118.6L747.0 118.6L747.5 118.7L748.0 118.8L748.5 118.9L749.0 119.1L749.5 119.3L750.0 119.6L750.5 119.9L751.0 120.2L751.5 120.6L752.0 121.0L752.5 121.4L753.0 121.8L753.5 122.3L754.0 122.7L754.5 123.2L755.0 123.7L755.5 124.2L756.0 124.8L756.5 125.3L757.0 125.8L757.5 126.3L758.0 126.9L758.5 127.4L759.0 127.9L759.5 128.5L760.0 129.0L760.5 129.5L761.0 130.0L761.5 130.4L762.0 130.9L762.5 131.3L763.0 131.7L763.5 132.1L764.0 132.5L764.5 132.8L765.0 133.1L765.5 133.4L766.0 133.6L766.5 133.8L767.0 133.9L767.5 134.0L768.0 134.1L768.5 134.1L769.0 134.0L769.5 133.9L770.0 133.7L770.5 133.5L771.0 133.2L771.5 132.8L772.0 132.4L772.5 131.9L773.0 131.4L773.5 130.9L774.0 130.3L774.5 129.6L775.0 128.9L775.5 128.2L776.0 127.5L776.5 126.7L777.0 125.9L777.5 125.1L778.0 124.3L778.5 123.4L779.0 122.5L779.5 121.7L780.0 120.8L780.5 119.9L781.0 119.0L781.5 118.1L782.0 117.2L782.5 116.3L783.0 115.5L783.5 114.6L784.0 113.8L784.5 112.9L785.0 112.1L785.5 111.4L786.0 110.6L786.5 109.9L787.0 109.2L787.5 108.6L788.0 107.9L788.5 107.4L789.0 106.9L789.5 106.4L790.0 105.9L790.5 105.6L791.0 105.3L791.5 105.0L792.0 104.8L792.5 104.7L793.0 104.6L793.5 104.6L794.0 104.7L794.5 104.8L795.0 104.9L795.5 105.1L796.0 105.4L796.5 105.6L797.0 105.9L797.5 106.3L798.0 106.6L798.5 107.0L799.0 107.4L799.5 107.7L800.0 108.1L800.5 108.5L801.0 108.9L801.5 109.3L802.0 109.7L802.5 110.0L803.0 110.4L803.5 110.7L804.0 111.0L804.5 111.2L805.0 111.5L805.5 111.6L806.0 111.8L806.5 111.9L807.0 111.9L807.5 111.9L808.0 111.9L808.5 111.8L809.0 111.8L809.5 111.7L810.0 111.6L810.5 111.5L811.0 111.4L811.5 111.3L812.0 111.1L812.5 111.0L813.0 110.8L813.5 110.6L814.0 110.4L814.5 110.2L815.0 110.0L815.5 109.7L816.0 109.5L816.5 109.2L817.0 108.9L817.5 108.6L818.0 108.4L818.5 108.0L819.0 107.7L819.5 107.4L820.0 107.1L820.5 106.7L821.0 106.4L821.5 106.0L822.0 105.7L822.5 105.3L823.0 104.9L823.5 104.5L824.0 104.1L824.5 103.7L825.0 103.3L825.5 102.8L826.0 102.2L826.5 101.5L827.0 100.7L827.5 99.8L828.0 98.9L828.5 97.9L829.0 96.9L829.5 95.9L830.0 94.8L830.5 93.8L831.0 92.8L831.5 91.8L832.0 90.9L832.5 90.1L833.0 89.2L833.5 88.2L834.0 87.2L834.5 86.3L835.0 85.3L835.5 84.4L836.0 83.5L836.5 82.7L837.0 82.0L837.5 81.5L838.0 81.0L838.5 80.6L839.0 80.2L839.5 79.9L840.0 79.5L840.5 79.2L841.0 78.8L841.5 78.5L842.0 78.3L842.5 78.0L843.0 77.8L843.5 77.6L844.0 77.5L844.5 77.4L845.0 77.3L845.5 77.3L846.0 77.3L846.5 77.4L847.0 77.5L847.5 77.7L848.0 77.8L848.5 78.0L849.0 78.2L849.5 78.5L850.0 78.7L850.5 78.9L851.0 79.1L851.5 79.3L852.0 79.5L852.5 79.7L853.0 79.9L853.5 80.0L854.0 80.1L854.5 80.1L855.0 80.1L855.5 80.1L856.0 80.0L856.5 79.9L857.0 79.8L857.5 79.7L858.0 79.5L858.5 79.3L859.0 79.1L859.5 78.8L860.0 78.5L860.5 78.3L861.0 77.9L861.5 77.6L862.0 77.2L862.5 76.8L863.0 76.4L863.5 76.0L864.0 75.6L864.5 75.1L865.0 74.6L865.5 74.1L866.0 73.6" stroke="#808080" stroke-width="2.5" fill="none" stroke-linejoin="round" clip-path="url(#ca)"/>
<g stroke="#262626" stroke-width="1" fill="none">
<rect x="105.50" y="25.40" width="823.40" height="414.10"/>
<path d="M242.73 439.50v-8.60M242.73 25.40v8.60"/>
<path d="M379.97 439.50v-8.60M379.97 25.40v8.60"/>
<path d="M517.20 439.50v-8.60M517.20 25.40v8.60"/>
<path d="M654.43 439.50v-8.60M654.43 25.40v8.60"/>
<path d="M791.67 439.50v-8.60M791.67 25.40v8.60"/>
<path d="M105.50 370.48h8.60M928.90 370.48h-8.60"/>
<path d="M105.50 301.47h8.60M928.90 301.47h-8.60"/>
<path d="M105.50 232.45h8.60M928.90 232.45h-8.60"/>
<path d="M105.50 163.43h8.60M928.90 163.43h-8.60"/>
<path d="M105.50 94.42h8.60M928.90 94.42h-8.60"/>
</g>
<g font-family="'Liberation Sans', sans-serif" font-size="22" fill="#262626">
<text x="105.50" y="468.00" text-anchor="middle">0</text>
<text x="242.73" y="468.00" text-anchor="middle">500</text>
<text x="379.97" y="468.00" text-anchor="middle">1000</text>
<text x="517.20" y="468.00" text-anchor="middle">1500</text>
<text x="654.43" y="468.00" text-anchor="middle">2000</text>
<text x="791.67" y="468.00" text-anchor="middle">2500</text>
<text x="928.90" y="468.00" text-anchor="middle">3000</text>
<text x="98.00" y="448.00" text-anchor="end">273</text>
<text x="98.00" y="378.98" text-anchor="end">273.5</text>
<text x="98.00" y="309.97" text-anchor="end">274</text>
<text x="98.00" y="240.95" text-anchor="end">274.5</text>
<text x="98.00" y="171.93" text-anchor="end">275</text>
<text x="98.00" y="102.92" text-anchor="end">275.5</text>
<text x="98.00" y="33.90" text-anchor="end">276</text>
</g>
<text x="517.2" y="499.2" text-anchor="middle" font-family="'Liberation Sans', sans-serif" font-size="24.5" fill="#262626">Time/s</text>
<text transform="translate(35.2 231.8) rotate(-90)" text-anchor="middle" font-family="'Liberation Sans', sans-serif" font-size="24.5" fill="#262626">Tem/K</text>
<text transform="translate(491.3 544.6) scale(0.92 1)" text-anchor="middle" font-family="'Liberation Serif', serif" font-size="35" fill="#000">(<tspan font-weight="bold">a</tspan>)</text>
<rect x="744.9" y="143.5" width="174.0" height="291.9" fill="#fff" stroke="#262626" stroke-width="1"/>
<path d="M755.3 157.3h4M757.3 155.3v4" stroke="#0072BD" stroke-width="0.9"/>
<text x="769" y="166.6" font-family="'Liberation Sans', sans-serif" font-size="20.7" fill="#000">Measured value</text>
<path d="M747.2 184.4H767.9" stroke="#D95319" stroke-width="2.5"/>
<text transform="translate(770.2 192.8) scale(1.06 1)" font-family="'Liberation Serif', serif" font-style="italic" font-size="22" fill="#1a1a1a">α</text>
<text x="783.3" y="192.8" font-family="'Liberation Sans', sans-serif" font-size="20.7" fill="#000">=1.0</text>
<path d="M747.2 210.6H767.9" stroke="#EDB120" stroke-width="2.5"/>
<text transform="translate(770.2 219.0) scale(1.06 1)" font-family="'Liberation Serif', serif" font-style="italic" font-size="22" fill="#1a1a1a">α</text>
<text x="783.3" y="219.0" font-family="'Liberation Sans', sans-serif" font-size="20.7" fill="#000">=1.1</text>
<path d="M747.2 236.9H767.9" stroke="#7E2F8E" stroke-width="2.5"/>
<text transform="translate(770.2 245.3) scale(1.06 1)" font-family="'Liberation Serif', serif" font-style="italic" font-size="22" fill="#1a1a1a">α</text>
<text x="783.3" y="245.3" font-family="'Liberation Sans', sans-serif" font-size="20.7" fill="#000">=1.2</text>
<path d="M747.2 263.1H767.9" stroke="#77AC30" stroke-width="2.5"/>
<text transform="translate(770.2 271.5) scale(1.06 1)" font-family="'Liberation Serif', serif" font-style="italic" font-size="22" fill="#1a1a1a">α</text>
<text x="783.3" y="271.5" font-family="'Liberation Sans', sans-serif" font-size="20.7" fill="#000">=1.3</text>
<path d="M747.2 289.3H767.9" stroke="#4DBEEE" stroke-width="2.5"/>
<text transform="translate(770.2 297.7) scale(1.06 1)" font-family="'Liberation Serif', serif" font-style="italic" font-size="22" fill="#1a1a1a">α</text>
<text x="783.3" y="297.7" font-family="'Liberation Sans', sans-serif" font-size="20.7" fill="#000">=1.4</text>
<path d="M747.2 315.6H767.9" stroke="#A2142F" stroke-width="2.5"/>
<text transform="translate(770.2 324.0) scale(1.06 1)" font-family="'Liberation Serif', serif" font-style="italic" font-size="22" fill="#1a1a1a">α</text>
<text x="783.3" y="324.0" font-family="'Liberation Sans', sans-serif" font-size="20.7" fill="#000">=1.5</text>
<path d="M747.2 341.8H767.9" stroke="#BFBF00" stroke-width="2.5"/>
<text transform="translate(770.2 350.2) scale(1.06 1)" font-family="'Liberation Serif', serif" font-style="italic" font-size="22" fill="#1a1a1a">α</text>
<text x="783.3" y="350.2" font-family="'Liberation Sans', sans-serif" font-size="20.7" fill="#000">=1.6</text>
<path d="M747.2 368.0H767.9" stroke="#BF00BF" stroke-width="2.5"/>
<text transform="translate(770.2 376.4) scale(1.06 1)" font-family="'Liberation Serif', serif" font-style="italic" font-size="22" fill="#1a1a1a">α</text>
<text x="783.3" y="376.4" font-family="'Liberation Sans', sans-serif" font-size="20.7" fill="#000">=1.7</text>
<path d="M747.2 394.2H767.9" stroke="#00BFBF" stroke-width="2.5"/>
<text transform="translate(770.2 402.6) scale(1.06 1)" font-family="'Liberation Serif', serif" font-style="italic" font-size="22" fill="#1a1a1a">α</text>
<text x="783.3" y="402.6" font-family="'Liberation Sans', sans-serif" font-size="20.7" fill="#000">=1.8</text>
<path d="M747.2 420.5H767.9" stroke="#808080" stroke-width="2.5"/>
<text transform="translate(770.2 428.9) scale(1.06 1)" font-family="'Liberation Serif', serif" font-style="italic" font-size="22" fill="#1a1a1a">α</text>
<text x="783.3" y="428.9" font-family="'Liberation Sans', sans-serif" font-size="20.7" fill="#000">=1.9</text>
<g stroke="#262626" stroke-width="1" fill="none">
<rect x="95.50" y="613.20" width="832.80" height="419.10"/>
<path d="M188.03 1032.30v-8.40M188.03 613.20v8.40"/>
<path d="M280.57 1032.30v-8.40M280.57 613.20v8.40"/>
<path d="M373.10 1032.30v-8.40M373.10 613.20v8.40"/>
<path d="M465.63 1032.30v-8.40M465.63 613.20v8.40"/>
<path d="M558.17 1032.30v-8.40M558.17 613.20v8.40"/>
<path d="M650.70 1032.30v-8.40M650.70 613.20v8.40"/>
<path d="M743.23 1032.30v-8.40M743.23 613.20v8.40"/>
<path d="M835.77 1032.30v-8.40M835.77 613.20v8.40"/>
<path d="M95.50 979.91h8.40M928.30 979.91h-8.40"/>
<path d="M95.50 927.52h8.40M928.30 927.52h-8.40"/>
<path d="M95.50 875.14h8.40M928.30 875.14h-8.40"/>
<path d="M95.50 822.75h8.40M928.30 822.75h-8.40"/>
<path d="M95.50 770.36h8.40M928.30 770.36h-8.40"/>
<path d="M95.50 717.97h8.40M928.30 717.97h-8.40"/>
<path d="M95.50 665.59h8.40M928.30 665.59h-8.40"/>
</g>
<path d="M95.5 652.7L188.0 801.0L280.6 894.8L373.1 955.0L465.6 986.2L558.2 996.5L650.7 994.9L743.2 988.2L835.8 981.4L928.3 972.4" stroke="#0072BD" stroke-width="2.9" fill="none" stroke-linejoin="round"/>
<circle cx="95.5" cy="652.7" r="4.35" stroke="#0072BD" stroke-width="2.7" fill="none"/>
<circle cx="188.0" cy="801.0" r="4.35" stroke="#0072BD" stroke-width="2.7" fill="none"/>
<circle cx="280.6" cy="894.8" r="4.35" stroke="#0072BD" stroke-width="2.7" fill="none"/>
<circle cx="373.1" cy="955.0" r="4.35" stroke="#0072BD" stroke-width="2.7" fill="none"/>
<circle cx="465.6" cy="986.2" r="4.35" stroke="#0072BD" stroke-width="2.7" fill="none"/>
<circle cx="558.2" cy="996.5" r="4.35" stroke="#0072BD" stroke-width="2.7" fill="none"/>
<circle cx="650.7" cy="994.9" r="4.35" stroke="#0072BD" stroke-width="2.7" fill="none"/>
<circle cx="743.2" cy="988.2" r="4.35" stroke="#0072BD" stroke-width="2.7" fill="none"/>
<circle cx="835.8" cy="981.4" r="4.35" stroke="#0072BD" stroke-width="2.7" fill="none"/>
<circle cx="928.3" cy="972.4" r="4.35" stroke="#0072BD" stroke-width="2.7" fill="none"/>
<g font-family="'Liberation Sans', sans-serif" font-size="22" fill="#262626">
<text x="95.50" y="1061.20" text-anchor="middle">1</text>
<text x="188.03" y="1061.20" text-anchor="middle">1.1</text>
<text x="280.57" y="1061.20" text-anchor="middle">1.2</text>
<text x="373.10" y="1061.20" text-anchor="middle">1.3</text>
<text x="465.63" y="1061.20" text-anchor="middle">1.4</text>
<text x="558.17" y="1061.20" text-anchor="middle">1.5</text>
<text x="650.70" y="1061.20" text-anchor="middle">1.6</text>
<text x="743.23" y="1061.20" text-anchor="middle">1.7</text>
<text x="835.77" y="1061.20" text-anchor="middle">1.8</text>
<text x="928.30" y="1061.20" text-anchor="middle">1.9</text>
<text x="88.00" y="1040.90" text-anchor="end">0.05</text>
<text x="88.00" y="988.51" text-anchor="end">0.1</text>
<text x="88.00" y="936.12" text-anchor="end">0.15</text>
<text x="88.00" y="883.74" text-anchor="end">0.2</text>
<text x="88.00" y="831.35" text-anchor="end">0.25</text>
<text x="88.00" y="778.96" text-anchor="end">0.3</text>
<text x="88.00" y="726.57" text-anchor="end">0.35</text>
<text x="88.00" y="674.19" text-anchor="end">0.4</text>
<text x="88.00" y="621.80" text-anchor="end">0.45</text>
</g>
<text transform="translate(511.5 1092.3) scale(1.18 1)" text-anchor="middle" font-family="'Liberation Serif', serif" font-style="italic" font-size="24" fill="#3a3a3a">α</text>
<text transform="translate(37 822.2) rotate(-90)" text-anchor="middle" font-family="'Liberation Sans', sans-serif" font-size="24.65" fill="#262626">Root mean square error</text>
<text transform="translate(491.4 1138.2) scale(0.95 1)" text-anchor="middle" font-family="'Liberation Serif', serif" font-size="35" fill="#000">(<tspan font-weight="bold">b</tspan>)</text>
</svg></body></html>
